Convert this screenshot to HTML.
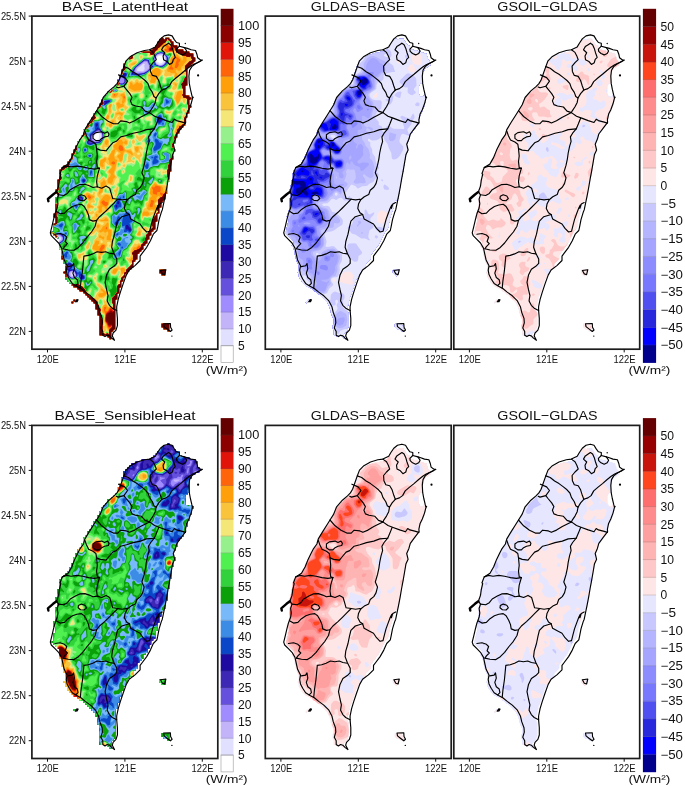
<!DOCTYPE html>
<html lang="en"><head><meta charset="utf-8"><title>Taiwan heat flux comparison</title>
<style>html,body{margin:0;padding:0;background:#fff}svg{display:block}text{font-family:"Liberation Sans",sans-serif;fill:#111}</style></head><body>
<svg width="685" height="786" viewBox="0 0 685 786">
<rect width="685" height="786" fill="#fff"/>
<defs>
<path id="coast" d="M92,50.5 94.2,44.7 98.6,40.3 105.2,36.6 112.5,34.4 117.6,33.7 123.4,30.8 125.6,27.1 128.5,22.8 132.2,19.8 136.6,18.8 140.2,19.8 142.4,23.5 144.6,26.4 147.5,27.1 147.5,30.1 152.6,31.5 155.5,32.3 159.2,33.7 163.6,34.4 165,38.1 165.8,41.7 168.7,43.9 170.6,43.9 168,45.4 163.6,47.6 159.9,50.5 157.7,54.2 157,60 157.4,67.3 158.5,73.1 159.9,79 160.7,81.9 159.2,87.7 157,93.6 154.8,98 153.6,103.8 153.8,106.2 149.4,112 145,117.9 143.6,123 141.4,128.1 142.8,133.9 140.7,138.3 139.2,147.1 137.7,155.8 136.3,163.1 134.8,171.9 133.4,179.2 131.9,186.5 130.4,193.8 129.4,196.2 127.2,203.5 125.8,210.8 125,214.4 121.4,218.1 118.5,224.7 114.8,231.2 110.4,237.1 108.2,240 108.2,244.4 103.1,249.5 97.3,253.9 94.4,259 91.4,267.3 88.5,276 86.3,283.3 84.8,290.6 84.8,294.3 85.5,302.3 85.5,309.6 84.1,314 81.2,316.9 80.4,319.8 82.6,324.2 79.7,322 77.5,319.8 75.3,319.1 73.1,320.5 70.9,319.1 70.9,315.4 69,311.8 70.5,306.7 70.2,302.3 68,296.5 66.6,290.6 63.6,284.8 58.5,279.7 53.4,276 49,272.4 44.7,270.2 40.3,267.3 37.4,262.9 35.2,258.5 34.4,254.1 35.2,249.7 32.3,243.9 31.1,238.6 29.7,232 26.7,226.9 23.1,223.2 19.4,219.6 18.4,216.7 19.9,210.8 21.6,203.5 23.1,197.7 25.3,191.9 26,187.5 25.3,183.1 26.7,178.7 24.6,175.8 26.7,170 27.5,164.1 28.9,158.3 28.2,157.3 30.4,151.5 36.2,147.8 39.9,141.3 42.8,134 45.7,128.1 47.9,123.8 51.6,118.6 53,113.5 57.4,106.2 61.1,100.4 64.7,94.6 68.4,88.7 71.3,81.4 77.1,74.8 82.2,70.5 85.1,67.5 87.3,63.9Z"/>
<clipPath id="land"><use href="#coast"/><path d="M131.7,307.6 138.5,307.4 138.7,311.1 140.2,313.9 138.5,315.4 135.1,312.8 132.2,310.5Z"/><path d="M128.6,254.4 134,253.6 132.8,258.6 130.5,257.8Z"/><path d="M43.4,285.7 45,283.5 46.2,283.7 45.2,285.5Z"/></clipPath>
<clipPath id="pc"><rect x="0" y="0" width="185.9" height="333.1"/></clipPath>
<g id="lines" fill="none" stroke="#000" stroke-width="1.15" stroke-linejoin="round" stroke-linecap="round">
<use href="#coast"/>
<path d="M136.6,27.1 138.8,28.6 140.5,32.3 141.7,36.6 143.4,41.3 141.4,43.2 140.5,46.6 137.6,48.3 135.1,45.4 131.7,43.6 131.2,39.8 132.9,36.6 129.7,33.7 131.5,30.5 134.4,28.6 136.6,27.1"/>
<path d="M152.6,31.5 154.8,34.9 153.4,37.4 150.4,38.8 147.2,37.4 144.9,35.2 144.6,33 147.5,30.1"/>
<path d="M117.6,33.7 121.2,36.3 123,39.8 124.4,43.6 121.2,46.6 118.3,50.1 118.6,55.3 120.5,59.3 124.4,60.3 126.8,64.4 128.5,69.9 130,73.9"/>
<path d="M130,73.9 134.1,72.5 137.3,70.2 139.9,65.5 144.3,61.7 148.7,58.2 153.1,54.4 157.4,50.9 160.9,48.6 165.3,46.6 168.2,45.1"/>
<path d="M92,50.5 96.4,52.1 100.8,55.6 105.2,58.2 109.6,61.5 113.2,64.4 116.1,67.6 117.6,72 120.5,76.3 122,80.4 124.2,81.9 126.8,77.5 130,73.9"/>
<path d="M124.2,81.9 123.4,86.3 121.2,90.7 118.3,95 117.6,96.5"/>
<path d="M117.6,96.5 122.7,100.1 128.5,102.3 134.4,104.5 140.2,106.4 142.4,103.1 144.6,104.5 150.4,106 153.6,107"/>
<path d="M86.6,58.8 92.8,61.5 95.7,65.1 92,70.2 86.2,71.7 84.4,70.9"/>
<path d="M92,70.2 94.2,73.1 97.9,77.5 100.1,81.2 98.6,84.8 100.1,88.5 103.7,89.9 109.6,90.9 113.2,95 117.6,96.5"/>
<path d="M64.7,94.6 69.8,100.4 75.7,104.8 81.5,107.7 85.9,107.7 88.8,104.8 94.6,105.5 97.6,106.9 102.7,104.7 108.5,101.1 111.5,99.6 117.6,96.5"/>
<path d="M53,115 54.5,119.4 56.7,123.8 61.1,125.9 64,128.1 64.7,132.5 68.4,134 74.2,134.7 77.1,131.1 80.8,126.7 84.4,125.2 88.8,120.8 94.6,119.4 101.2,117.2 108.5,115.7 114.4,113.5 122.4,112.8"/>
<path d="M61.1,118.6 64,116.5 69.8,115.7 72.7,117.2 75.7,115.7 77.1,117.9 76.4,120.1 72.7,120.8 69.8,122.3 67.6,124.5 64,124.5 61.1,122.3 61.1,118.6"/>
<path d="M64.7,132.5 65.4,139.8 64.7,145.7 65.4,151.5 67.6,152.2"/>
<path d="M67.6,152.2 62.5,153 56.7,152.2 50.8,150.8 45,150 39.2,150.8 34.8,150 30.4,151.5"/>
<path d="M126.8,102.1 124.6,107.7 122.4,112.8 118.8,117.1 116.6,120.8 117.3,125.2 115.8,130.3 114.4,136.9 113.6,142.7 112.2,149.3 110,156.6 112.2,161.7 110.7,167.5 108.5,171.2 104.9,174.1 103.4,178.5 99,180.7 95.4,183.6 93.2,188 92.5,192.3 94.7,196.7 97.3,198.4"/>
<path d="M67.6,152.1 65.4,159.7 64.7,165.6 65.4,170.7"/>
<path d="M26.7,178.7 31.9,179.4 35.5,177.3 38.4,173.6 43.5,170.7 47.9,168.5 53,168.2 57.4,169.7 61.1,171.4 65.4,170.7"/>
<path d="M65.4,170.7 69.8,172.1 74.2,170 77.8,172.1 79.3,177.3 80.8,182.4 85.9,183.1 90.3,183.8 94.6,183.1 95.4,183.6"/>
<path d="M46.5,180.2 49.4,178.7 53,179.9 54.5,182.4 52.3,184.6 48.6,184.3 46.2,182.4 46.5,180.2"/>
<path d="M24.6,195.5 28.2,197.7 32.6,197 36.2,193.3 40.6,190.4 45,188.9 49.4,188.2 52.3,190.4 54.9,194.8 56.7,199.2 57.4,203.5 61.1,205 64.7,204.3 67.6,200.6 72.7,196.2 77.1,191.9 81.5,187.5 85.9,183.1"/>
<path d="M64.7,204.3 63.2,210.1 59.6,215.9 55.2,221.1 50.8,226.9 46.5,231.3 42.1,234.2 36.2,233.9 31.1,232.7"/>
<path d="M23.1,218.1 28.2,217.4 32.6,218.9 34.8,221.1 33.3,225.4 35.5,227.6 32.6,230.5 31.1,232.7"/>
<path d="M97.3,198.4 98.8,202.8 103.9,205.7 108.2,207.9 111.2,212.3 114.8,215.9 117.7,215.2 119.2,209.3 120.7,203.5 122.8,197.7 125,191.8 126.5,188.9 126.1,192.3 127.5,188 130.4,186.5"/>
<path d="M97.3,198.4 90,200.6 85.6,205 84.2,210.8 82.7,218.1 80.5,225.4 79.8,231.2 82,237.1 84.9,242.9 84.9,247.3 82,250.2 77.6,253.1 74.7,259 73.2,266.3 74.7,273.6 76.1,279.4 75.4,283.8 75.3,284.8 77.5,289.2 80.4,292.1 84.8,294.3"/>
<path d="M82,237.8 77.6,237.1 73.9,235.6 69.6,236.3 65.2,235.6 60.8,237.8 56.4,239.3 52,240 51.3,247.3 50.6,254.6 49.1,264.8 48.4,272.1"/>
<path d="M35.9,250.5 40.3,249.7 41.7,247.5 42.5,252.7 41,257 42.5,261.4 45.4,263.6 46.1,267.3 43.9,269.4"/>
<path d="M131.7,307.6 138.5,307.4 138.7,311.1 140.2,313.9 138.5,315.4 135.1,312.8 132.2,310.5Z"/>
<path d="M128.6,254.4 134,253.6 132.8,258.6 130.5,257.8Z"/>
<path d="M43.4,285.7 45,283.5 46.2,283.7 45.2,285.5Z"/>
<path d="M24.6,175.8 21.2,178.4 16,182.9 16.5,185.1" stroke-width="2.4"/>
<circle cx="166.2" cy="59.3" r="1.1" fill="#000" stroke="none"/>
<circle cx="153.4" cy="27.4" r="0.7" fill="#000" stroke="none"/>
<circle cx="140.0" cy="320.0" r="0.7" fill="#000" stroke="none"/>
<circle cx="161.0" cy="81.2" r="0.9" fill="#000" stroke="none"/>
</g>
</defs>
<g transform="translate(31.9,16.1)">
<g clip-path="url(#pc)">
<clipPath id="m1"><path d="M520 86l4 0 2 2 0 4 2 2 4 0 2-2 0-4 2-2 12 0 2 2 0 4 2 2 4 0 2 2 0 4 2 2 4 0 2 2 0 12 2 2 12 0 2 2 0 12 2 2 20 0 2 2 0 4 2 2 20 0 2 2 0 4 2 2 12 0 2 2 0 12 2 2 4 0 2 2 0 12-2 2-4 0-2 2 0 4-2 2-4 0-2 2 0 4-2 2-4 0-2 2 0 4-2 2-4 0-2 2 0 68-2 2-4 0-2 2 0 36 2 2 12 0 2 2 0 4 2 2 4 0 2 2 0 4-2 2-4 0-2 2 0 20 2 2 4 0 2 2 0 4-2 2-4 0-2 2 0 20-2 2-4 0-2 2 0 12-2 2-4 0-2 2 0 28-2 2-4 0-2 2 0 4-2 2-4 0-2 2 0 4-2 2-4 0-2 2 0 12-2 2-4 0-2 2 0 12-2 2-4 0-2 2 0 20-2 2-4 0-2 2 0 20 2 2 4 0 2 2 0 4-2 2-4 0-2 2 0 28-2 2-4 0-2 2 0 44-2 2-4 0-2 2 0 36-2 2-4 0-2 2 0 44-2 2-4 0-2 2 0 20-2 2-4 0-2 2 0 4-2 2-4 0-2 2 0 20-2 2-4 0-2 2 0 20-2 2-4 0-2 2 0 28-2 2-4 0-2 2 0 28-2 2-4 0-2 2 0 4-2 2-4 0-2 2 0 12-2 2-4 0-2 2 0 12-2 2-4 0-2 2 0 12-2 2-4 0-2 2 0 4-2 2-4 0-2 2 0 12-2 2-4 0-2 2 0 4-2 2-4 0-2 2 0 4-2 2-4 0-2 2 0 20-2 2-4 0-2 2 0 4-2 2-4 0-2 2 0 20-2 2-4 0-2 2 0 4-2 2-4 0-2 2 0 4-2 2-4 0-2 2 0 4-2 2-4 0-2 2 0 12-2 2-4 0-2 2 0 12-2 2-4 0-2 2 0 20-2 2-4 0-2 2 0 20-2 2-4 0-2 2 0 20-2 2-4 0-2 2 0 116-2 2-4 0-2 2 0 4-2 2-4 0-2 2 0 28-2 2-4 0-2-2 0-4-2-2-4 0-2-2 0-4-2-2-28 0-2-2 0-76-2-2-4 0-2-2 0-20-2-2-4 0-2-2 0-20-2-2-4 0-2-2 0-4-2-2-4 0-2-2 0-4-2-2-4 0-2-2 0-4-2-2-4 0-2-2 0-4-2-2-4 0-2-2 0-4-2-2-4 0-2-2 0-4-2-2-12 0-2-2 0-4-2-2-4 0-2-2 0-4-2-2-12 0-2-2 0-4-2-2-4 0-2-2 0-4-2-2-4 0-2-2 0-4-2-2-4 0-2-2 0-4-2-2-4 0-2-2 0-20-2-2-4 0-2-2 0-4 2-2 4 0 2-2 0-28-2-2-4 0-2-2 0-12-2-2-4 0-2-2 0-36-2-2-4 0-2-2 0-36-2-2-4 0-2-2 0-4-2-2-4 0-2-2 0-4-2-2-4 0-2-2 0-4-2-2-4 0-2-2 0-4 2-2 4 0 2-2 0-28 2-2 4 0 2-2 0-20-2-2-4 0-2-2 0-12 2-2 4 0 2-2 0-60 2-2 4 0 2-2 0-12-2-2-4 0-2-2 0-12 2-2 4 0 2-2 0-36 2-2 4 0 2-2 0-36 2-2 4 0 2-2 0-4 2-2 4 0 2-2 0-4 2-2 12 0 2-2 0-12 2-2 4 0 2-2 0-4 2-2 4 0 2-2 0-20 2-2 4 0 2-2 0-12 2-2 4 0 2-2 0-12 2-2 4 0 2-2 0-12 2-2 4 0 2-2 0-4 2-2 4 0 2-2 0-12 2-2 4 0 2-2 0-20 2-2 4 0 2-2 0-4 2-2 4 0 2-2 0-12 2-2 4 0 2-2 0-4 2-2 4 0 2-2 0-12 2-2 4 0 2-2 0-12 2-2 4 0 2-2 0-4 2-2 4 0 2-2 0-12 2-2 4 0 2-2 0-12 2-2 4 0 2-2 0-12 2-2 4 0 2-2 0-4 2-2 4 0 2-2 0-4 2-2 4 0 2-2 0-12 2-2 12 0 2-2 0-4 2-2 4 0 2-2 0-4 2-2 4 0 2-2 0-4 2-2 4 0 2-2 0-20 2-2 4 0 2-2 0-12 2-2 4 0 2-2 0-20 2-2 4 0 2-2 0-20 2-2 4 0 2-2 0-4 2-2 4 0 2-2 0-4 2-2 4 0 2-2 0-4 2-2 4 0 2-2 0-4 2-2 12 0 2-2 0-4 2-2 20 0 2-2 0-4 2-2 36 0 2-2 0-4 2-2 4 0 2-2 0-4 2-2 4 0 2-2 0-4 2-2 4 0 2-2 0-12 2-2 4 0 2-2 0-4 2-2 4 0 2-2 0-4zM512 1014l20 0 2 2 0 20-2 2-12 0-2-2 0-4-2-2-4 0-2-2 0-12zM168 1134l4 0 2 2 0 4-2 2-4 0-2-2 0-4zM160 1142l4 0 2 2 0 4-2 2-4 0-2-2 0-4zM520 1230l28 0 2 2 0 28-2 2-4 0-2-2 0-4-2-2-12 0-2-2 0-4-2-2-4 0-2-2 0-12z"/></clipPath><g clip-path="url(#m1)" transform="scale(0.25)" shape-rendering="auto"><path d="M520 86l4 0 2 2 0 4 2 2 4 0 2-2 0-4 2-2 12 0 2 2 0 4 2 2 4 0 2 2 0 4 2 2 4 0 2 2 0 12 2 2 12 0 2 2 0 12 2 2 20 0 2 2 0 4 2 2 20 0 2 2 0 4 2 2 12 0 2 2 0 12 2 2 4 0 2 2 0 12-2 2-4 0-2 2 0 4-2 2-4 0-2 2 0 4-2 2-4 0-2 2 0 4-2 2-4 0-2 2 0 68-2 2-4 0-2 2 0 36 2 2 12 0 2 2 0 4 2 2 4 0 2 2 0 4-2 2-4 0-2 2 0 20 2 2 4 0 2 2 0 4-2 2-4 0-2 2 0 20-2 2-4 0-2 2 0 12-2 2-4 0-2 2 0 28-2 2-4 0-2 2 0 4-2 2-4 0-2 2 0 4-2 2-4 0-2 2 0 12-2 2-4 0-2 2 0 12-2 2-4 0-2 2 0 20-2 2-4 0-2 2 0 20 2 2 4 0 2 2 0 4-2 2-4 0-2 2 0 28-2 2-4 0-2 2 0 44-2 2-4 0-2 2 0 36-2 2-4 0-2 2 0 44-2 2-4 0-2 2 0 20-2 2-4 0-2 2 0 4-2 2-4 0-2 2 0 20-2 2-4 0-2 2 0 20-2 2-4 0-2 2 0 28-2 2-4 0-2 2 0 28-2 2-4 0-2 2 0 4-2 2-4 0-2 2 0 12-2 2-4 0-2 2 0 12-2 2-4 0-2 2 0 12-2 2-4 0-2 2 0 4-2 2-4 0-2 2 0 12-2 2-4 0-2 2 0 4-2 2-4 0-2 2 0 4-2 2-4 0-2 2 0 20-2 2-4 0-2 2 0 4-2 2-4 0-2 2 0 20-2 2-4 0-2 2 0 4-2 2-4 0-2 2 0 4-2 2-4 0-2 2 0 4-2 2-4 0-2 2 0 12-2 2-4 0-2 2 0 12-2 2-4 0-2 2 0 20-2 2-4 0-2 2 0 20-2 2-4 0-2 2 0 20-2 2-4 0-2 2 0 116-2 2-4 0-2 2 0 4-2 2-4 0-2 2 0 28-2 2-4 0-2-2 0-4-2-2-4 0-2-2 0-4-2-2-28 0-2-2 0-76-2-2-4 0-2-2 0-20-2-2-4 0-2-2 0-20-2-2-4 0-2-2 0-4-2-2-4 0-2-2 0-4-2-2-4 0-2-2 0-4-2-2-4 0-2-2 0-4-2-2-4 0-2-2 0-4-2-2-4 0-2-2 0-4-2-2-12 0-2-2 0-4-2-2-4 0-2-2 0-4-2-2-12 0-2-2 0-4-2-2-4 0-2-2 0-4-2-2-4 0-2-2 0-4-2-2-4 0-2-2 0-4-2-2-4 0-2-2 0-20-2-2-4 0-2-2 0-4 2-2 4 0 2-2 0-28-2-2-4 0-2-2 0-12-2-2-4 0-2-2 0-36-2-2-4 0-2-2 0-36-2-2-4 0-2-2 0-4-2-2-4 0-2-2 0-4-2-2-4 0-2-2 0-4-2-2-4 0-2-2 0-4 2-2 4 0 2-2 0-28 2-2 4 0 2-2 0-20-2-2-4 0-2-2 0-12 2-2 4 0 2-2 0-60 2-2 4 0 2-2 0-12-2-2-4 0-2-2 0-12 2-2 4 0 2-2 0-36 2-2 4 0 2-2 0-36 2-2 4 0 2-2 0-4 2-2 4 0 2-2 0-4 2-2 12 0 2-2 0-12 2-2 4 0 2-2 0-4 2-2 4 0 2-2 0-20 2-2 4 0 2-2 0-12 2-2 4 0 2-2 0-12 2-2 4 0 2-2 0-12 2-2 4 0 2-2 0-4 2-2 4 0 2-2 0-12 2-2 4 0 2-2 0-20 2-2 4 0 2-2 0-4 2-2 4 0 2-2 0-12 2-2 4 0 2-2 0-4 2-2 4 0 2-2 0-12 2-2 4 0 2-2 0-12 2-2 4 0 2-2 0-4 2-2 4 0 2-2 0-12 2-2 4 0 2-2 0-12 2-2 4 0 2-2 0-12 2-2 4 0 2-2 0-4 2-2 4 0 2-2 0-4 2-2 4 0 2-2 0-12 2-2 12 0 2-2 0-4 2-2 4 0 2-2 0-4 2-2 4 0 2-2 0-4 2-2 4 0 2-2 0-20 2-2 4 0 2-2 0-12 2-2 4 0 2-2 0-20 2-2 4 0 2-2 0-20 2-2 4 0 2-2 0-4 2-2 4 0 2-2 0-4 2-2 4 0 2-2 0-4 2-2 4 0 2-2 0-4 2-2 12 0 2-2 0-4 2-2 20 0 2-2 0-4 2-2 36 0 2-2 0-4 2-2 4 0 2-2 0-4 2-2 4 0 2-2 0-4 2-2 4 0 2-2 0-12 2-2 4 0 2-2 0-4 2-2 4 0 2-2 0-4zM512 1014l20 0 2 2 0 20-2 2-12 0-2-2 0-4-2-2-4 0-2-2 0-12zM168 1134l4 0 2 2 0 4-2 2-4 0-2-2 0-4zM160 1142l4 0 2 2 0 4-2 2-4 0-2-2 0-4zM520 1230l28 0 2 2 0 28-2 2-4 0-2-2 0-4-2-2-12 0-2-2 0-4-2-2-4 0-2-2 0-12z" fill="#ffffff"/><path d="M544 52l4 0 4 4 8 0 4 4 8 0 8 8 0 4 8 8 0 4 4 4 8 0 8 8 0 8 8 0 4 4 8 0 4 4 12 0 4 4 8 0 4 4 4 0 12 12 0 8 4 4 0 8 4 4 8 0 8 8 0 8 4 4-4 4 0 8-8 8-4 0-4 4-4 0-4 4-4 0-8 8-4 0-8 12 0 56 4 4 0 16 4 4 0 12 4 4 0 16-4 4 0 12-4 4 0 8-8 12 0 8-8 12 0 8-4 4 0 20-4 4 0 8-12 12 0 4-12 12 0 4-8 8 0 4-4 4 0 8-4 4 0 8-4 4 0 8 4 4 0 16-4 4 0 8-4 4 0 12-4 4 0 20-4 4 0 20-4 4 0 16-4 4 0 16-4 4 0 20-4 4 0 20-4 4 0 16-4 4 0 16-4 4 0 12-4 4 0 12-4 4 0 8-4 4 0 8-4 4 0 12-4 4 0 16-4 4 0 16-4 4 0 8-16 16 0 4-4 4 0 4-4 4 0 4-4 4 0 4-8 12 0 4-8 8 0 4-12 12 0 4-8 8 0 12-4 4 0 8-36 36-4 0-8 8 0 4-8 8 0 8-8 12 0 8-4 4 0 8-4 4 0 8-4 4 0 8-4 4 0 8-4 4 0 12-4 4 0 16-4 4 0 24 4 4 0 56-4 4 0 8-4 4 0 8-8 8 0 12 4 4-4 4 0 8-8 8-8 0-4 4-4-4-8 0-4-4-4 0-8-8-4 0-4 4-4-4-8 0-4-4-4 0-8-8 0-8-4-4 0-20-4-4 0-16 4-4 0-20-4-4 0-8-4-4 0-8-4-4 0-12-4-4 0-4-4-4 0-4-28-28-4 0-4-4 0 8 4 4-4 4 0 8-16 16-8 0-4 4-4 0-4-4-8 0-8-8 0-8-4-4 4-4 0-8 16-16 8 0 4-4 4 0 4 4 8 0-4 0-12-12-4 0-4-4-4 0-4-4-4 0-24-24 0-4-8-8 0-4-4-4 0-8-4-4 0-8-4-4 0-32-4-4 0-8-4-4 0-8-4-4 0-12-4-4 0-16-8-8 0-4-32-32 0-4-4-4 0-8-4-4 0-12 4-4 0-12 4-4 0-12 4-4 0-16 4-4 0-8 4-4 0-8 4-4 0-8 4-4 0-44 4-4-4-4 0-8-4-4 0-4 4-4 0-8 4-4 0-12 4-4 0-16 4-4 0-24 4-4 0-8 4-4 0-8 20-20 4 0 8-8 0-4 4-4 0-4 8-8 0-8 8-12 0-8 4-4 0-4 4-4 0-4 4-4 0-4 8-12 0-4 8-8 0-4 8-8 0-8 4-4 0-8 4-4 0-4 8-8 0-4 4-4 0-4 8-8 0-4 8-8 0-4 4-4 0-4 8-8 0-4 8-8 0-4 4-4 0-4 8-8 0-4 4-4 0-8 8-12 0-4 20-20 0-4 4-4 4-4 4 0 28-28 0-4 4-4 0-8 8-12 0-8 4-4 0-8 4-4 0-8 4-4 0-8 8-12 0-4 20-20 4 0 8-8 4 0 12-8 8 0 4-4 8 0 4-4 8 0 4-4 16 0 4-4 8 0 12-12 0-4 8-8 0-4 24-24 8 0 4-4 12 0zM507 160l-7 7-3 9 3 6 5 2 7 6 8-2 7-8 1-16-8-5zM256 472l-8 12 0 4 4 6 8 2 7-4 3-16-2-5-4-2zM516 992l20 0 4 4 8 0 8 8 0 8 4 4 0 4-4 4 0 12-4 4 0 8-8 8-8 0-4 4-4-4-8 0-4-4-4 0-12-12 0-4-4-4 0-8-4-4 0-4 4-4 0-8 8-8 8 0zM528 1208l24 0 4 4 8 0 8 8 0 4 4 4 0 8 4 4 0 8 4 4 0 4-4 4 0 8-12 12-8 0-4 4-4 0-4-4-8 0-8-8-4 0-20-20 0-8-4-4 0-8 4-4 0-8 8-8 8 0z" fill="#e1e1ff"/><path d="M544 53l4 0 4 4 8 0 4 4 8-1 8 8 0 4 7 8 1 4 4 4 8 0 8 8 0 8 8 1 4 4 8 0 4 4 12-1 4 4 8 0 4 4 4 0 11 12 0 8 5 4 0 8 4 4 8 0 8 8 0 8 3 4-4 4 1 8-8 8-4 0-4 3-4 0-4 4-4 0-8 8-4 0-9 13 0 56 4 4 1 16 4 4 0 12 4 4-1 16-4 4 0 12-4 4 0 8-7 12 0 8-9 12 0 8-4 4 1 20-4 4-1 8-12 12 0 4-11 12 0 4-8 8 0 4-4 4-1 8-4 4 0 8-4 4 0 8 4 4 0 16-4 4 0 8-4 4 1 12-4 4 0 20-4 4-1 20-4 4 0 16-4 4 1 16-4 4 0 20-4 4 0 20-4 4-1 16-3 4 0 16-4 4-1 12-4 4 0 12-4 4 0 8-4 4 0 8-4 4 0 12-4 4 0 16-4 4 0 16-4 4 0 8-15 16 0 4-4 4-1 4-4 4 0 4-4 4 0 4-8 12 0 4-8 8 0 4-12 12 1 4-9 8 0 12-4 4 0 8-35 35-4 0-8 9 0 4-9 8 1 8-9 12 0 8-4 4 1 8-4 4-1 8-4 4 0 8-4 4 0 8-4 4 0 12-3 4 0 16-4 4-1 24 4 4 0 56-4 4 0 8-4 4 0 8-8 8 1 12 3 4-4 4 1 8-8 8-8-1-4 5-4-5-8 0-4-4-4 0-8-8-4 0-4 4-4-3-8 0-4-4-4 0-7-8 0-8-4-4 0-20-4-4 0-16 4-4 0-20-4-4 0-8-4-4 0-8-4-4 0-12-4-4 0-4-4-4 0-4-29-29-4 1-5-4 0 8 4 4-4 4 0 8-15 15-8 1-4 4-4 0-4-4-8 0-7-8 0-8-4-4 4-4 0-8 15-15 8 0 4-4 4 0 4 4 8-1-4-1-12-12-4 0-4-4-4 0-4-4-4 0-23-23 0-4-8-8 0-4-4-4 0-8-5-4 0-8-4-4 1-32-4-4 0-8-4-4 0-8-4-4 0-12-4-4 0-16-8-8 0-4-33-32 0-4-3-4 0-8-4-4 0-12 4-4 0-12 4-4 0-12 4-4 0-16 4-4 0-8 4-4 0-8 4-4 0-8 4-4 0-44 4-4-4-4 0-8-4-4 0-4 4-4 0-8 4-4 0-12 4-4 0-16 4-4 0-24 4-4 0-8 4-4 0-8 19-20 4 1 9-9 0-4 4-4-1-4 9-8-1-8 9-12 0-8 4-4 0-4 4-4 0-4 4-4 0-4 8-12 0-4 7-8 0-4 8-8 1-8 4-4 0-8 3-4 1-4 7-8 0-4 4-4 0-4 8-8 1-4 8-8 0-4 4-4 0-4 8-8 0-4 8-8 0-4 4-4 0-4 8-8 0-4 4-4 0-8 8-12 0-4 20-20 0-4 4-4 3-3 4 0 28-29 0-4 4-4 0-8 8-12 0-8 4-4 0-8 5-4 0-8 4-4 0-8 8-12 0-4 19-19 4 0 8-8 4 0 12-9 8 1 4-4 8 0 4-4 8 0 4-4 16 0 4-4 8 0 13-13 0-4 7-8 0-4 24-23 8 0 4-4 12 0zM504 156l-8 9-3 11 3 9 4 5 8 5 8 1 9-4 7-8 2-8-1-12-5-6-8-4zM444 192l-8 8-12 8-4 8 3 4 21 1 6-5 1-8-2-8 3-8-4-1zM263 464l-8 4-12 16 1 8 4 4 8 4 6 0 8-4 6-7 1-5 0-8-3-8-4-4zM104 884l4 4-4 4-4-4 2 8 6 2 7-2 2-4-1-6-8-4zM156 1028l0 8 4 4 8-1 2-3-2-8-4-3zM516 993l20 0 4 4 8 0 8 7 0 8 4 4-1 4-3 4-1 12-4 4 0 8-7 7-8 0-4 4-4-4-8 0-4-4-4 0-11-11 0-4-5-4 1-8-4-4 0-4 4-4 0-8 7-7 8 0zM528 1209l24 0 4 4 8-1 8 8 0 4 4 4-1 8 4 4 0 8 4 4 0 4-4 4 0 8-11 11-8 0-4 4-4 0-4-4-8 0-8-8-4 0-19-19 0-8-4-4 0-8 4-4 0-8 7-7 8 0z" fill="#c3b4fa"/><path d="M544 53l4 0 4 4 8 0 4 4 8 0 7 7 0 4 8 8 0 4 5 5 8 0 7 7 1 9 8 0 4 4 8 0 4 4 12 0 4 4 8 0 4 4 4 0 11 11 0 8 4 4 0 8 5 5 8 0 7 7 0 8 4 4-4 4 0 8-7 7-4 0-4 4-4 0-4 4-4 0-8 8-4 0-5 5 0 4-4 4 0 56 4 4 0 16 4 4 0 12 4 4 0 16-4 4 0 12-4 4 0 8-8 12 0 8-8 12 0 8-4 4 0 20-4 4 0 8-12 12 0 4-12 12 0 4-8 8 0 4-4 4 0 8-4 4 0 8-4 4 0 8 4 4 0 16-4 4 0 8-4 4 0 12-4 4 0 20-4 4 0 20-4 4 0 16-4 4 0 16-4 4 0 20-4 4 0 20-4 4 0 16-4 4 0 16-4 4 0 12-4 4 0 12-4 4 0 8-4 4 0 8-4 4 0 12-4 4 0 16-4 4 0 16-4 4 0 8-16 16 0 4-4 4 0 4-4 4 0 4-4 4 0 4-8 12 0 4-8 8 0 4-12 12 0 4-8 8 0 12-4 4 0 8-35 35-4 0-9 9 0 4-8 8 0 8-8 12 0 8-4 4 0 8-4 4 0 8-4 4 0 8-4 4 0 8-4 4 0 12-4 4 0 16-4 4 0 24 4 4 0 56-4 4 0 8-4 4 0 8-8 8 0 12 4 4-4 4 0 8-7 7-8 0-4 4-4-4-8 0-4-4-4 0-8-8-4 0-4 4-4-4-8 0-4-4-4 0-7-7 0-8-4-4 0-20-4-4 0-16 4-4 0-20-4-4 0-8-4-4 0-8-4-4 0-12-4-4 0-4-4-4 0-4-29-29-4 0-5-3 0 8 4 4-4 4 0 8-15 15-8 0-4 4-4 0-4-4-8 0-7-7 0-8-4-4 4-4 0-8 15-15 8 0 4-4 4 0 4 4 9-1-5-1-12-12-4 0-4-4-4 0-4-4-4 0-23-23 0-4-8-8 0-4-4-4 0-8-4-4 0-8-4-4 0-32-4-4 0-8-4-4 0-8-4-4 0-12-4-4 0-16-8-8 0-4-32-32 0-4-4-4 0-8-4-4 0-12 4-4 0-12 4-4 0-12 4-4 0-16 4-4 0-8 4-4 0-8 4-4 0-8 4-4 0-44 4-4-4-4 0-8-4-4 0-4 4-4 0-8 4-4 0-12 4-4 0-16 4-4 0-24 4-4 0-8 4-4 0-8 19-19 4 0 9-9 0-4 4-4 0-4 8-8 0-8 8-12 0-8 4-4 0-4 4-4 0-4 4-4 0-4 8-12 0-4 8-8 0-4 8-8 0-8 4-4 0-8 4-4 0-4 8-8 0-4 4-4 0-4 8-8 0-4 8-8 0-4 4-4 0-4 8-8 0-4 8-8 0-4 4-4 0-4 8-8 0-4 4-4 0-8 8-12 0-4 20-20 0-4 4-4 3-3 4 0 29-29 0-4 4-4 0-8 8-12 0-8 4-4 0-8 4-4 0-8 4-4 0-8 8-12 0-4 19-19 4 0 8-8 4 0 12-8 8 0 4-4 8 0 4-4 8 0 4-4 16 0 4-4 8 0 13-13 0-4 8-8 0-4 23-23 8 0 4-4 12 0zM507 152l-11 8-4 8-1 8 7 16 10 5 8 1 8-3 8-7 4-8 0-16-4-6-8-6-8-1zM449 184l-31 24-4 8 2 9 8 1 24-2 8-4 13-12 2-4-11-20zM257 464l-14 16-3 8 8 11 12 4 9-3 7-6 4-7 1-7-1-8-8-10-8-1zM103 876l-3 1 0 3 8 8-4 4-4-4-6 0 1 4 5 8 12 2 8-6 2-8-6-8-8-4zM153 1024l-2 4-1 8 6 8 8 1 8-3 3-6-3-9-4-5-8-1zM516 993l20 0 4 4 8 0 7 7 0 8 4 4 0 4-4 4 0 12-4 4 0 8-7 7-8 0-4 4-4-4-8 0-4-4-4 0-11-11 0-4-4-4 0-8-4-4 0-4 4-4 0-8 7-7 8 0zM528 1209l24 0 4 4 8 0 7 7 0 4 4 4 0 8 4 4 0 8 4 4 0 4-4 4 0 8-11 11-8 0-4 4-4 0-4-4-8 0-8-8-4 0-19-19 0-8-4-4 0-8 4-4 0-8 7-7 8 0z" fill="#a08cff"/><path d="M544 53l4 0 4 4 8 0 4 4 8 0 7 7 0 4 8 8 0 4 5 5 8 0 7 7 1 9 8 0 4 4 8 0 4 4 12 0 4 4 8 0 4 4 4 0 11 11 0 8 4 4 0 8 5 5 8 0 7 7 0 8 4 4-4 4 0 8-7 7-4 0-4 4-4 0-4 4-4 0-8 8-4 0-5 5 0 4-4 4 0 56 4 4 0 16 4 4 0 12 4 4 0 16-4 4 0 12-4 4 0 8-8 12 0 8-8 12 0 8-4 4 0 20-4 4 0 8-12 12 0 4-12 12 0 4-8 8 0 4-4 4 0 8-4 4 0 8-4 4 0 8 4 4 0 16-4 4 0 8-4 4 0 12-4 4 0 20-4 4 0 20-4 4 0 16-4 4 0 16-4 4 0 20-4 4 0 20-4 4 0 16-4 4 0 16-4 4 0 12-4 4 0 12-4 4 0 8-4 4 0 8-4 4 0 12-4 4 0 16-4 4 0 16-4 4 0 8-16 16 0 4-4 4 0 4-4 4 0 4-4 4 0 4-8 12 0 4-8 8 0 4-12 12 0 4-8 8 0 12-4 4 0 8-35 35-4 0-9 9 0 4-8 8 0 8-8 12 0 8-4 4 0 8-4 4 0 8-4 4 0 8-4 4 0 8-4 4 0 12-4 4 0 16-4 4 0 24 4 4 0 56-4 4 0 8-4 4 0 8-8 8 0 12 4 4-4 4 0 8-7 7-8 0-4 4-4-4-8 0-4-4-4 0-8-8-4 0-4 4-4-4-8 0-4-4-4 0-7-7 0-8-4-4 0-20-4-4 0-16 4-4 0-20-4-4 0-8-4-4 0-8-4-4 0-12-4-4 0-4-4-4 0-4-29-29-4 0-4-4-1 1 0 8 4 4-4 4 0 8-15 15-8 0-4 4-4 0-4-4-8 0-7-7 0-8-4-4 4-4 0-8 15-15 8 0 4-4 4 0 4 4 9-1-5-1-12-12-4 0-4-4-4 0-4-4-4 0-23-23 0-4-8-8 0-4-4-4 0-8-4-4 0-8-4-4 0-32-4-4 0-8-4-4 0-8-4-4 0-12-4-4 0-16-8-8 0-4-32-32 0-4-4-4 0-8-4-4 0-12 4-4 0-12 4-4 0-12 4-4 0-16 4-4 0-8 4-4 0-8 4-4 0-8 4-4 0-44 4-4-4-4 0-8-4-4 0-4 4-4 0-8 4-4 0-12 4-4 0-16 4-4 0-24 4-4 0-8 4-4 0-8 19-19 4 0 9-9 0-4 4-4 0-4 8-8 0-8 8-12 0-8 4-4 0-4 4-4 0-4 4-4 0-4 8-12 0-4 8-8 0-4 8-8 0-8 4-4 0-8 4-4 0-4 8-8 0-4 4-4 0-4 8-8 0-4 8-8 0-4 4-4 0-4 8-8 0-4 8-8 0-4 4-4 0-4 8-8 0-4 4-4 0-8 4-4 0-4 4-4 0-4 20-20 0-4 4-4 3-3 4 0 29-29 0-4 4-4 0-8 8-12 0-8 4-4 0-8 4-4 0-8 4-4 0-8 8-12 0-4 19-19 4 0 8-8 4 0 12-8 8 0 4-4 8 0 4-4 8 0 4-4 16 0 4-4 8 0 13-13 0-4 8-8 0-4 23-23 8 0 4-4 12 0zM503 152l-11 12-3 8 3 11 3 9 6 4 11 4 8-1 8-4 8-11 3-12-2-8-5-8-8-5-8-2zM450 180l-34 27-6 13 0 4 4 4 6 2 25-2 16-8 12-12 3-4-9-12-3-9-4-3zM352 248l-5 8 2 8 4 4 12 0 4-4-1-13-8-5zM260 460l-10 8-10 11-2 5 3 12 7 6 8 3 8-1 8-4 8-8 2-8-1-12-5-9-8-5zM100 876l0 4 8 8-4 4-4-4-4 0-4-6 0 10 8 11 8 2 6-1 9-8 1-8-2-4-10-9-8-1-4 0zM156 1020l-5 4-3 5 0 7 4 7 12 5 9-4 3-4 1-4-5-12-4-4zM516 993l20 0 4 4 8 0 7 7 0 8 4 4 0 4-4 4 0 12-4 4 0 8-7 7-8 0-4 4-4-4-8 0-4-4-4 0-11-11 0-4-4-4 0-8-4-4 0-4 4-4 0-8 7-7 8 0zM528 1209l24 0 4 4 8 0 7 7 0 4 4 4 0 8 4 4 0 8 4 4 0 4-4 4 0 8-11 11-8 0-4 4-4 0-4-4-8 0-8-8-4 0-19-19 0-8-4-4 0-8 4-4 0-8 7-7 8 0z" fill="#6450dc"/><path d="M544 54l4 0 4 4 8 0 4 4 8-1 7 7 0 4 8 8 0 4 5 5 8 0 7 7 1 9 8 0 4 5 8 0 4 4 12-1 4 4 8 0 4 4 4 0 10 11 1 8 4 4 0 8 5 5 8 0 7 7 0 8 4 4-4 4 0 8-7 7-4 0-4 4-4-1-4 4-4 0-8 8-4 0-5 6 0 4-5 4 0 56 4 4 1 16 4 4 0 12 4 4-1 16-4 4 0 12-4 4 0 8-7 12 0 8-9 12 0 8-4 4 1 20-4 4-1 8-12 12 0 4-11 12 0 4-8 8 0 4-4 4-1 8-4 4 0 8-4 4 0 8 4 4 0 16-4 4 0 8-3 4 0 12-4 4 0 20-4 4 0 20-5 4 0 16-3 4 0 16-4 4 0 20-4 4 0 20-4 4 0 16-4 4 0 16-4 4-1 12-4 4 0 12-4 4 0 8-4 4 0 8-4 4 1 12-4 4 0 16-4 4-1 16-4 4 0 8-15 16 0 4-4 4 0 4-4 4 0 4-4 4 0 4-9 12 0 4-8 8 0 4-11 12 0 4-9 8 1 12-4 4 0 8-35 34-4 0-9 10 0 4-8 8 0 8-8 12-1 8-3 4 0 8-4 4 0 8-5 4 0 8-4 4 0 8-4 4 1 12-4 4 0 16-4 4-1 24 4 4 0 56-4 4 0 8-4 4 1 8-8 8 0 12 3 4-3 4 0 8-7 7-8 0-4 4-4-4-8-1-4-4-4 0-8-8-4 1-4 4-4-4-8 0-4-4-4 0-7-7 0-8-3-4 0-20-4-4 0-16 4-4 0-20-4-4 0-8-4-4 0-8-4-4 0-12-4-4 0-4-4-4 0-4-30-29-4 0-4-4-1 1-1 8 4 4-4 4 1 8-15 15-8 0-4 4-4 0-4-4-8 0-7-7 1-8-4-4 4-4 0-8 14-14 8 0 4-4 4 0 4 4 8 0 1-2-5-1-12-12-4-1-4-4-4 0-4-4-4 0-22-22 0-4-8-8 0-4-4-4 0-8-5-4 0-8-4-4 0-32-4-4 1-8-5-4 1-8-4-4 0-12-4-4-1-16-7-8 0-4-33-32 0-4-4-4 1-8-4-4 0-12 4-4 0-12 4-4 0-12 4-4 0-16 4-4 0-8 4-4 0-8 4-4 0-8 3-4 1-44 4-4-5-4 0-8-4-4 0-4 5-4 0-8 4-4 0-12 4-4 0-16 4-4 0-24 4-4 0-8 4-4 0-8 18-19 4 0 10-9-1-4 4-4 0-4 9-8-1-8 8-12 0-8 5-4 0-4 4-4 0-4 3-4 1-4 8-12 0-4 7-8 0-4 8-8 0-8 4-4 0-8 4-4 0-4 8-8 0-4 4-4 0-4 8-8 0-4 9-8 0-4 4-4 0-4 8-8 0-4 8-8 0-4 4-4 0-4 8-8 0-4 4-4 0-8 3-4 0-4 5-4 0-4 20-20 0-4 4-4 2-2 4 0 29-30 0-4 4-4 0-8 8-12 0-8 4-4 0-8 5-4-1-8 4-4 0-8 9-12-1-4 19-19 4 0 8-7 4 0 12-9 8 1 4-4 8 0 4-4 8 0 4-4 16-1 4-4 8 0 13-13 0-4 8-8 0-4 23-22 8 0 4-5 12 0zM512 148l-11 4-5 4-6 8-2 8 8 23 12 5 8 1 8-2 9-7 5-8 3-12-2-8-7-10-11-6zM447 180l-31 24-9 16 0 4 2 4 11 5 28-4 16-9 12-12 3-4-10-12-5-13-12-2zM354 244l-8 8-1 8 3 7 4 3 8 2 4-1 7-7 0-12-7-8zM257 460l-10 8-10 12 0 16-1 3-6 5 2 3 12-3 12 2 12-2 8-6 5-6 3-14-5-14-7-6-4-2zM101 872l-1 8 7 8-3 3-4-3-4 0-5-8-1 12 10 13 12 1 5-2 8-8 0-12-9-9-8-3zM153 1020l-5 5-2 7 2 8 3 4 7 4 6 1 10-5 4-4 0-4-8-16-6-3zM516 994l20 0 4 4 8 0 7 6 0 8 4 4 0 4-4 4-1 12-4 4 0 8-6 6-8 0-4 4-4-4-8 0-4-4-4 0-10-10-1-4-4-4 1-8-4-4 0-4 3-4 0-8 7-6 8 0zM528 1209l24 1 4 3 8 0 7 7 0 4 4 4 0 8 3 4 1 8 3 4 0 4-4 4 0 8-10 10-8 0-4 4-4 0-4-4-8 0-8-8-4 0-18-18 0-8-4-4 0-8 4-4-1-8 7-7 8 0z" fill="#3c28b4"/><path d="M544 54l4 0 4 4 8 0 4 4 8 0 6 6 0 4 8 8 0 4 6 5 8 1 7 6 1 9 8 1 4 4 8 0 4 4 12 0 4 4 8 0 4 4 4 0 10 10 0 8 4 4 0 8 6 6 8 0 6 6 0 8 4 4-4 4 0 8-6 6-4 0-4 4-4 0-4 4-4 0-8 8-4 0-6 6 0 4-4 4 0 56 4 4 0 16 4 4 0 12 4 4 0 16-4 4 0 12-4 4 0 8-8 12 0 8-8 12 0 8-4 4 0 20-4 4 0 8-12 12 0 4-12 12 0 4-8 8 0 4-4 4 0 8-4 4 0 8-4 4 0 8 4 4 0 16-4 4 0 8-4 4 0 12-4 4 0 20-4 4 0 20-4 4 0 16-4 4 0 16-4 4 0 20-3 4-1 20-4 4 0 16-4 4 0 16-4 4 0 12-4 4 0 12-4 4 0 8-4 4 0 8-4 4 0 12-4 4 0 16-4 4 0 16-4 4 0 8-16 16 0 4-4 4 0 4-4 4 0 4-4 4 0 4-8 12 0 4-8 8 0 4-12 12 0 4-8 8 0 12-4 4 0 8-34 34-4 0-10 10 0 4-8 8 0 8-8 12 0 8-4 4 0 8-4 4 0 8-4 4 0 8-4 4 0 8-4 4 0 12-4 4 0 16-4 4 0 24 4 4 0 56-4 4 0 8-4 4 0 8-8 8 0 12 4 4-4 4 0 8-6 6-8 0-4 4-4-4-8 0-4-4-4 0-8-8-4 0-4 4-4-4-8 0-4-4-4 0-6-6 0-8-4-4 0-20-4-4 0-16 4-4 0-20-4-4 0-8-4-4 0-8-4-4 0-12-4-4 0-4-4-4 0-4-30-30-4 0-4-4-2 2 0 8 4 4-4 4 0 8-14 14-8 0-4 4-4 0-4-4-8 0-6-6 0-8-4-4 4-4 0-8 14-14 8 0 4-4 4 0 4 4 8 0 2-2-6-2-12-12-4 0-4-4-4 0-4-4-4 0-22-22 0-4-8-8 0-4-4-4 0-8-4-4 0-8-4-4 0-32-4-4 0-8-4-4 0-8-4-4 0-12-4-4 0-16-8-8 0-4-32-32 0-4-4-4 0-8-4-4 0-12 4-4 0-12 4-4 0-12 4-4 0-16 4-4 0-8 4-4 0-8 4-4 0-8 4-4 0-44 4-4-4-4 0-8-4-4 0-4 4-4 0-8 4-4 0-12 4-4 0-16 4-4 0-24 4-4 0-8 4-4 0-8 18-18 4 0 10-10 0-4 4-4 0-4 8-8 0-8 8-12 0-8 4-4 0-4 4-4 0-4 4-4 0-4 8-12 0-4 8-8 0-4 8-8 0-8 4-4 0-8 4-4 0-4 8-8 0-4 4-4 0-4 8-8 0-4 8-8 0-4 4-4 0-4 8-8 0-4 8-8 0-4 4-4 0-4 8-8 0-4 4-4 0-8 4-4 0-4 4-4 0-4 20-20 0-4 4-4 6-2 30-30 0-4 4-4 0-8 8-12 0-8 4-4 0-8 4-4 0-8 4-4 0-8 8-12 0-4 18-18 4 0 8-8 4 0 12-8 8 0 4-4 8 0 4-4 8 0 4-4 16 0 4-4 8 0 14-14 0-4 7-8 1-4 22-22 8 0 4-4 12 0zM507 148l-8 4-8 8-4 8 1 8 7 20 13 5 12 1 8-4 10-10 4-12 0-8-6-11-8-7-8-3zM450 176l-35 28-12 20 1 5 16 6 28-5 18-10 15-16-2-4-3-1-6-7-6-15-8-2zM351 244l-7 8-1 8 5 4 0 5 4 3 13 0 8-8-1-15-8-7-8-1zM290 344l-2 2 0 6 4-1 2-3 0-4zM259 456l-23 20-1 16-11 12 1 4 3 2 4 2 16-5 20-1 12-10 5-12 0-8-3-8-10-12-8-3zM188 728l0 5 5 3 3 1 4-2 0-7-4-2zM97 872l3 4-1 4 8 8-3 3-4-4-4 0-4-3 0-4-3 0-1 12 12 15 12 1 8-5 6-7 0-12-6-8-6-4-10-2zM146 996l-4 4-2 4 3 8 5 1 5-5 3-12-4-2zM164 1016l-14 4-3 4-2 8 2 8 3 4 10 5 10-1 9-8-1-8-6-12zM193 1040l0 4 3 2 3-2 1-4-4-3zM516 994l20 0 4 4 8 0 6 6 0 8 4 4 0 4-4 4 0 12-4 4 0 8-6 6-8 0-4 4-4-4-8 0-4-4-4 0-10-10 0-4-4-4 0-8-4-4 0-4 4-4 0-8 6-6 8 0zM528 1210l24 0 4 4 8 0 6 6 0 4 4 4 0 8 4 4 0 8 4 4 0 4-4 4 0 8-10 10-8 0-4 4-4 0-4-4-8 0-8-8-4 0-18-18 0-8-4-4 0-8 4-4 0-8 6-6 8 0z" fill="#1e0aa0"/><path d="M544 54l4 1 4 4 8-1 4 4 8 0 6 6 0 4 8 8 0 4 6 6 8 0 6 6 0 8 2 2 8 0 4 4 8 0 4 4 12 0 4 4 8 0 4 4 4 0 10 10 0 8 4 4 0 8 6 6 8 0 6 6 0 8 4 4-4 4 0 8-6 6-4 0-4 4-4 0-4 4-4 0-8 8-4 0-6 6 0 4-4 4 0 56 4 4 0 16 4 4 0 12 4 4 0 16-5 4 0 12-4 4 1 8-8 12 0 8-8 12 0 8-4 4 0 20-4 4 0 8-12 12 0 4-12 12 0 4-8 8 0 4-4 4 0 8-4 4 0 8-4 4 0 8 4 4-1 16-3 4 0 8-4 4 0 12-4 4 0 20-4 4 0 20-4 4 0 16-4 4 0 16-4 4 0 20-4 4 0 20-4 4 0 16-4 4 0 16-4 4 0 12-4 4-1 12-4 4 0 8-3 4 0 8-4 4 0 12-4 4 0 16-4 4-1 16-3 4 0 8-16 16 0 4-4 4 0 4-4 4 0 4-4 4 0 4-8 12 0 4-8 8 0 4-12 12 0 4-8 8 0 12-4 4 0 8-34 34-4 0-10 10 0 4-8 8 0 8-8 12 0 8-4 4 0 8-4 4 0 8-4 4 0 8-4 4 0 8-4 4 0 12-4 4 0 16-4 4-1 24 5 4 0 56-4 4 0 8-4 4 0 8-8 8 0 12 4 4-4 4 0 8-6 6-8 0-4 4-4-4-8 0-4-4-4 0-8-8-4 0-4 4-4-4-8 0-4-4-4 0-6-6 0-8-4-4 1-20-4-4 0-16 3-4 1-20-4-4 0-8-4-4 0-8-4-4-1-12-4-4 0-4-4-4 0-4-30-30-4 0-4-4-2 2 0 8 4 4-4 4 0 8-14 14-8 0-4 4-4 0-4-4-8 0-6-6 0-8-4-4 4-4 0-8 14-14 8 0 4-4 4 0 4 4 8 0 4 4 2-2-6-6-4 0-12-12-4 0-4-4-4 0-4-4-4 0-22-22 0-4-7-8 0-4-5-4 0-8-4-4 0-8-4-4 0-32-4-4 0-8-4-4 0-8-4-4 1-12-5-4 0-16-7-8 0-4-33-32 0-4-4-4 0-8-3-4 0-12 4-4-1-12 4-4 0-12 4-4 1-16 4-4 0-8 4-4 0-8 4-4-1-8 4-4 0-44 4-4-4-4 0-8-4-4 0-4 4-4 0-8 4-4 1-12 4-4-1-16 4-4 0-24 5-4-1-8 4-4 0-8 18-18 4 0 10-10 0-4 4-4 0-4 8-8 0-8 8-12 0-8 4-4 0-4 4-4 0-4 4-4 0-4 8-12 0-4 8-8 0-4 8-8 0-8 4-4 0-8 4-4 0-4 8-8 0-4 4-4 0-4 8-8 0-4 9-8 0-4 4-4 0-4 8-8 0-4 7-8 0-4 4-4 0-4 8-8 0-4 4-4 0-8 4-4 0-4 4-4 0-4 21-20 0-4 4-4 5-2 30-30 0-4 4-4 0-8 8-12 0-8 4-4 0-8 4-4 0-8 4-4 0-8 8-12 0-4 18-18 4 0 8-8 4 0 12-8 8 0 4-3 8 0 4-4 8-1 4-4 16 0 4-4 8 0 14-14 0-4 8-8 0-4 22-22 8 0 4-4 12 0zM505 148l-12 8-7 12 0 4 6 23 20 8 12-1 15-14 4-12 0-8-7-12-9-8-11-2zM447 176l-33 28-13 20-1 8 20 5 28-5 19-12 16-16 1-4-8-2-5-6-6-16-13-2zM370 228l-5 4-1 4-12 6-9 10-1 8 6 4 0 6 4 3 12 0 8-5 2-4 0-12-3-8 5-6 2-6-2-3zM291 340l-3 2 0 14 8-4 8-7 5-1 3-4-4-1zM506 404l-3 4 0 8 1 7 4 5 4-2 9-10-1-4-8-10zM256 432l0 8 4 4 4-8 0-5-4-2zM260 448l-4 8-23 20 0 16-9 7-3 5 1 4 4 4 10 2 12-5 20-2 8-5 7-10 3-12-2-12-12-14-12-9zM204 656l-1 4 3 4 3 0 4-4-1-4-4-2zM188 724l-3 4 0 4 2 4 7 4 6-1 4-7-3-8-5-2zM342 744l-2 4 3 4 5 0 2-4-2-8-4 1zM333 760l7 8 2-8-2-4-4 1zM339 824l-4 4 1 5 4 0 4-5 0-6zM377 836l-2 8 1 10 8 0 8 8 3-2 2-4-1-6-7-6-5-8zM95 872l4 4 0 4 8 8-3 3-4-4-4 0-3-3-1-4-4 0-2 8 3 8 11 12 8 2 8-3 11-11 1-8-2-8-10-9-12-2zM144 992l-5 4 1 17 8 7-5 12 3 8 10 9 8 1 8-2 8-8 1-4-2-8-4-8-7-5-18 1 10-11 1-9-3-4-6-3-4 0zM192 1036l-2 8 6 8 8 0 4-3 0-9-12-7-4 1zM516 994l20 0 4 4 8 0 6 6 0 8 4 4 0 4-4 4-1 12-3 4 0 8-6 6-8 0-4 4-4-4-8 0-4-4-4 0-10-10 0-4-4-4 0-8-4-4 0-4 4-4 0-8 6-6 8 0zM528 1210l24 0 4 4 8 0 6 6 0 4 4 4 0 8 4 4 0 8 4 4 0 4-4 4 0 8-10 10-8 0-4 4-4 0-4-4-8 0-8-9-4 0-17-17 0-8-4-4-1-8 4-4 0-8 6-6 8 0z" fill="#0a46c8"/><path d="M544 55l4 0 4 4 8 0 4 4 8-1 6 6 0 4 8 8 0 4 6 6 8 0 6 6 0 8 2 2 8 0 4 4 8 1 4 3 12 0 4 4 8 0 4 4 4 0 9 10 1 8 4 4 0 8 6 6 8 0 6 6 0 8 4 4-4 4 0 8-6 6-4 0-4 4-4-1-4 4-4 0-8 8-4 0-6 7 0 4-4 4 0 56 3 4 1 16 4 4 0 12 4 4-1 16-4 4 0 12-4 4 0 8-7 12 0 8-9 12 1 8-4 4 0 20-4 4-1 8-12 12 0 4-11 12 0 4-8 8 0 4-4 4-1 8-4 4 0 8-4 4 0 8 4 4 0 16-4 4 1 8-4 4 0 12-4 4 0 20-4 4 0 20-5 4 0 16-3 4 0 16-4 4 0 20-4 4 0 20-4 4 0 16-4 4 0 16-4 4-1 12-4 4 0 12-4 4 0 8-4 4 0 8-4 4 1 12-4 4 0 16-4 4-1 16-4 4 0 8-15 16 0 4-4 4 0 4-4 4 0 4-4 4 0 4-9 12 0 4-7 8-1 4-11 12 0 4-9 8 1 12-4 4 0 8-34 33-4 0-10 11 0 4-8 8 0 8-8 12-1 8-3 4 0 8-4 4 0 8-5 4 0 8-4 4 0 8-4 4 1 12-4 4 0 16-4 4-1 24 4 4 0 56-4 4 0 8-4 4 1 8-8 8 0 12 3 4-3 4 0 8-6 6-8 0-4 4-4-4-8-1-4-4-4 0-8-7-4 0-4 4-4-4-8 0-4-4-4 0-6-6 0-8-3-4 0-20-4-4 0-16 4-4 0-20-4-4 0-8-4-4 0-8-4-4 0-12-4-4-1-4-3-4 0-4-31-30-4 0-12-12-4 0-12-12-4 0-4-5-4 0-4-4-4 1-21-22 0-4-8-8 0-4-4-4-1-8-4-4 0-8-4-4 0-32-4-4 0-8-4-4 1-8-4-4 0-12-4-4-1-16-7-8 0-4-33-32 0-4-4-4 1-8-4-4 0-12 4-4 0-12 4-4 0-12 4-4 0-16 4-4 0-8 4-4 0-8 4-4 0-8 3-4 1-44 4-4-5-4 0-8-4-4 0-4 5-4 0-8 4-4 0-12 4-4 0-16 4-4 0-24 4-4 0-8 4-4 0-8 17-18 4 0 11-10-1-4 4-4 0-4 9-8-1-8 8-12 0-8 5-4 0-4 4-4-1-4 4-4 0-4 9-12 0-4 7-8 0-4 8-8 0-8 4-4 0-8 4-4 0-4 8-8 0-4 4-4 0-4 8-8 0-4 9-8 0-4 4-4 0-4 8-8 0-4 8-8 0-4 4-4 0-4 8-8 0-4 4-4 0-8 3-4 0-4 4-4 1-4 20-20 0-4 4-4 5-1 30-31 0-4 4-4 0-8 8-12 0-8 4-4 0-8 5-4-1-8 4-4 0-8 8-12 0-4 18-18 4 0 8-7 4 0 4-5 4 0 4-4 8 0 4-3 8 0 4-4 8 0 4-4 16-1 4-4 8 0 14-14 0-4 8-8 0-4 22-21 8-1 4-4 12 0zM503 148l-11 8-7 12 0 4 5 16-1 8 23 8 12-1 10-7 7-8 4-12 0-8-8-12-13-10-8-1zM446 176l-34 28-13 20-2 12 3 1 8-2 12 3 32-6 17-12 19-20-12-4-4-4-4-16-16-4zM366 228l-5 8-13 8-7 12 0 4 6 4 1 8 8 3 12-2 7-9 0-20 5-7 1-5-5-5zM305 336l-18 4 1 12-4 4-3 0 3 2 8-1 21-13 2-4-2-4zM535 336l2 8-1 5 4 2 10-7-10-9-4-1zM511 396l-7 5-5 11 4 16 5 5 9-5 9-12-10-18zM254 428l-3 4 1 24-20 16-2 4 2 13-8 8-4 7 2 8 6 3 8 1 16-6 20-3 8-8 6-11 0-16-4-8-14-20-1-16-3-3zM522 428l-1 4 3 3 4-3-4-6zM492 468l-4 8 0 4 4 3 4-3 0-4 4-4-4-6zM494 492l-3 4 4 12 0 8-7 9-2 7 2 7 4 1 20-11 4-5 3-12 0-4-3-2-4 1-3-3-5-9-8-4zM464 496l-2 8 2 2 4-1 3-5 0-4-3-2zM210 532l-2 4 2 4 2 2 4-2 1-4-1-4-4-1zM228 556l-2 4 6 4 5-4-1-4zM492 560l-3 4-3 12-4 8 2 10 16-5 6-5 0-4-2-3-7-5 1-4 6-3 0-3-8-3zM477 564l3 5 7-1-2-4-5-2zM459 592l-7 8 4 9 4 3 5-4 2-12-3-6-4 0zM234 620l-2 8 2 8 2 1 5-13-1-5-4-1zM202 652l-3 4 0 4 5 7 4 1 8-8-1-4-3-4-4-2zM192 720l-8 6-2 6 7 8 11 1 5-5 0-8-5-6-4-2zM365 720l-2 4 1 4 4 1 2-5-1-4-1-2zM350 728l-6 2-8 22-8 8 8 17 12-12 9-1 0-12-5-12 6-12-2-3zM170 756l6 11 4 0 3-7-7-4zM376 788l-9 8-5 20-2 24 4 2 8-4 0 10-4 12 1 4 7 1 8-5 4 6 4 0 4-2 4-8-10-28 10-5 2-3-7-8-2-16-5-8-8-3zM343 804l-6 16-7 8 2 7 4 4 4 0 3-3 10-24-1-8-4-4zM115 832l-7 4-1 4 9 6 4-2 4-8 0-4-4-3zM133 868l-1 4 4 1 2-1 1-4-3-2zM93 872l3 0 3 4 0 4 8 8-3 3-4-4-4 0-3-3-1-5-6 1-1 12 2 4 13 14 12 1 14-11 3-8 0-8-2-8-5-4-6-3-12-1zM339 872l-2 4 3 3 7-7-3-4zM344 908l-2 4 3 4 7 3 4-1 0-6-6-4zM358 924l0 4 2 3 5-3-1-5-4-1zM355 936l-9 12 0 4 2 6 4 0 1-2 4-16-1-6zM137 944l-10 12 5 9 4 2 6-3-2-8 4-8 0-4-4-1zM144 988l-9 8 5 4 0 15 5 5-3 12 0 4 6 8 8 6 12 0 5-2 9-8 2-9 4 5 1 8 3 8 8 3 9-3 3-4-1-8-13-8-3-8-3-3-8 6-12-13-14-2 5-8-2-12-13-7zM516 995l20 0 4 4 8 0 6 5 0 8 4 4 0 4-4 4-1 12-4 4 0 8-5 5-8 0-4 4-4-4-8 0-4-4-4 0-9-9-1-4-4-4 1-8-4-4-1-4 4-4 0-8 6-5 8 0zM180 1115l4 0 4 4 8 0 6 5-1 8 5 4-4 4 0 8-14 14-8 0-4 4-4 0-4-4-8 0-2-2-4-4 0-8-3-4 3-4 1-8 12-12 9-1zM528 1210l24 0 4 4 8 0 6 6 0 4 4 4 0 8 4 4 0 8 3 4 0 4-4 4 0 8-9 9-8 0-4 4-4 0-4-4-8 0-8-8-4 0-17-17 0-8-4-4 0-8 4-4-1-8 6-6 8 0z" fill="#3c8ce6"/><path d="M544 55l4 0 4 4 8 0 4 4 8-1 6 6 0 4 7 8 1 4 6 6 8 0 6 6 0 8 2 2 8 1 4 4 8 0 4 4 12-1 4 4 8 0 4 4 4 1 9 9 0 8 5 4 0 8 6 6 8 0 6 6 0 8 3 4-4 4 1 8-6 6-4-1-4 4-4 0-4 4-4 0-8 8-4 0-7 7 0 4-4 4 0 56 4 4 1 16 4 4 0 12 4 4-1 16-4 4 0 12-4 4 0 8-7 12 0 8-9 12 0 8-4 4 1 20-4 4-1 8-12 12 0 4-11 12 0 4-8 8 0 4-5 4 0 8-4 4 0 8-4 4 0 8 4 4 0 16-4 4 0 8-4 4 1 12-4 4 0 20-4 4-1 20-4 4 0 16-4 4 1 16-4 4 0 20-4 4 0 20-4 4-1 16-3 4 0 16-4 4-1 12-4 4 0 12-4 4 0 8-4 4 0 8-4 4 0 12-4 4 0 16-4 4 0 16-4 4 0 8-15 16 0 4-5 4 0 4-4 4 0 4-4 4 0 4-4 4 0 4-4 4 0 4-8 8 0 4-12 12 1 4-9 8 0 12-4 4 0 8-33 33-4 0-10 11 0 4-9 8 1 8-9 12 0 8-4 4 1 8-4 4-1 8-4 4 0 8-4 4 0 8-4 4 0 12-3 4 0 16-4 4-1 24 4 4 0 56-4 4 0 8-4 4 0 8-8 8 1 12 3 4-4 4 1 8-6 6-8-1-4 5-4-5-8 0-4-4-4 0-8-8-4 0-4 4-4-3-8 0-4-4-4 0-5-6 0-8-4-4 0-20-4-4 0-16 4-4 0-20-4-4 0-8-4-4 0-8-4-4 0-12-4-4 0-4-4-4 0-4-31-31-4 1-12-13-4 0-12-12-4 0-4-4-4 0-4-4-4 0-21-21 0-4-8-8 0-4-4-4 0-8-5-4 0-8-4-4 1-32-4-4 0-8-4-4 0-8-4-4 0-12-4-4 0-16-8-8 0-4-33-32 0-4-3-4 0-8-4-4 0-12 4-4 0-12 4-4 0-12 4-4 0-16 4-4 0-8 4-4 0-8 4-4 0-8 4-4 0-44 4-4-4-4 0-8-4-4 0-4 4-4 0-8 4-4 0-12 4-4 0-16 4-4 0-24 4-4 0-8 4-4 0-8 17-18 4 1 11-11 0-4 4-4-1-4 9-8-1-8 9-12 0-8 4-4 0-4 4-4 0-4 4-4 0-4 8-12 0-4 7-8 0-4 8-8 1-8 4-4 0-8 3-4 1-4 7-8 0-4 4-4 0-4 8-8 1-4 8-8 0-4 4-4 0-4 8-8 0-4 8-8 0-4 4-4 0-4 8-8 0-4 4-4 0-8 4-4 0-4 4-4 0-4 20-20 0-4 4-4 5-1 30-31 0-4 4-4 0-8 8-12 0-8 4-4 1-8 4-4 0-8 4-4 0-8 8-12 0-4 17-17 4 0 8-8 4 0 4-4 4-1 4-4 8 1 4-4 8 0 4-4 8 0 4-4 16 0 4-4 8 0 15-15 0-4 7-8 0-4 22-21 8 0 4-4 12 0zM512 144l-16 7-10 13-2 8 5 16-1 6-8 3-7-5-5-18-16-3-4 2-37 31-14 20-3 12 2 4 12-3 12 3 32-7 16-12 24-22 28 6 5-1 11-8 8-12 3-12-1-8-18-17-8-3zM364 228l0 4-4 4-8 3-8 8-4 9 0 4 4 1 3 3 1 9 12 3 8-2 7-6 2-8-1-12 5-8 1-4-1-8-5-3-8 0zM330 296l-1 4 3 1 5-1 1-4-2-2zM532 332l-4 30 4-1 4-4 16-7 6-10-2-7-8 2-8-6-4 0zM295 336l-10 4 2 4 0 8-3 4-4 0 0 2 4 2 8-1 23-15 2-4 0-4-5-2zM488 348l-5 4-11 14-5 2 1 2 12 0 2-2 1-8 9-1 2-3-1-4zM456 376l-5 8 1 6 4 1 6-3-2-7zM515 392l-7 3-6 5-4 8-1 8 7 20 12 0 8 4 4-1 2-3 0-12 4-8-2-5-8-3-3-4-1-8zM250 424l-3 4 1 15-8 9 6 4-18 14-12-2-1 4 13 9 2 3 1 4-11 11-2 9 2 5 12 5 8-1 12-6 20-2 11-13 5-12-2-16-13-20-2-24-3-2zM555 448l1 12 5-8-1-4zM493 464l-8 8-3 12 4 8 0 8 6 8-1 8-8 16 1 10 4 7 4 0 4-3 4-6 12-6 4-5 9-25-4-4-9-2-6-6-8-4-1-4 5-12-2-6-4-3zM555 468l-5 4-1 4 3 3 5-3 1-4zM464 492l-4 4-1 4 1 6 4 3 5-1 8-12-5-5zM207 532l1 10 4 2 7-4 1-4-4-7-4-1zM528 548l-3 4 11 7 1 5-5 11-13 5-2 4 7 3 21-7 3-3 1-5 1-16-3-4-7-4zM225 556l-1 4 3 4 5 2 4-1 4-5-1-4-3-2-4-1zM489 556l-9 1-15 7 14 12 0 20 1 2 4 1 20-6 7-9-1-4-5-8 3-8-4-8-8-4zM455 584l-1 8-5 12 3 9 8 1 4-2 5-8 1-12-2-6-4-3-4-1zM168 588l-16 6 0 6 4 2 20-1 8 4 4 7 4 1 2-1 2-4-4-7-12-13-8-4zM213 604l-2 8 5 3 3-3 1-4-4-5zM232 616l-2 4-1 16 1 4 2 2 8-2 5-4-1-16-2-4-2-2zM202 640l-7 16 0 4 5 8 4 2 8-3 6-7-2-8-11-8-1-5zM159 656l1 12-5 4-2 8 2 12 5 2 3-10-2-12 6-8 1-4-4-6-4 0zM125 688l-3 4 0 4 6 9 4 0-4-19zM446 704l-14 16-12-1-2 1-1 4 7 3 8 8 4 0 7-15 12-12 1-4-4-3-4 0zM372 708l-12 9-8 0-8 9-11 26-7 8 6 21 4 1 8-9 4-2 8-1 6-6-1-12-6-12 5-7 8 3 4-4 2-12zM189 720l-8 8 0 8 7 6 12 0 4-3 3-7-3-8-8-6zM163 748l-4 4 0 4 9 5 8 12 4-2 5-7 1-4-2-4-9-4-3-3zM375 784l-5 4-14 3-4-2-16 16-4-6-4-3-4 4-2 4 2 12-2 8 8 12 6 5 7-1 9-19 4-5 3 8 0 20 1 3 6 1 0 4-2 2-8-2-4 12-8 0-10 8-2 4 1 4 7 5 8-9 8 1 4-2 4-7 16-1 8 4 4-1 9-10 0-8-4-20 7-8 1-8-8-8 1-8-8-16-6-3zM114 828l-10 5-4-1-4 4-4 0-3 4 15 4 8 6 4 5 4 1 8-20 0-4-4-7-4 0zM167 832l-1 20 2 5 4 1 4-6 4-12-4-10-4 0zM132 864l-4 4-4 1-8-4-16 2-8 4 7 5 0 4 8 8-3 3-4-4-4 0-3-3-1-5-8 1 1 16 15 15 12 1 16-12 2-4 2-16 8-5 2-3-2-8-4-1zM379 884l-15 7-8 14-12-1-4 4 0 6 12 10 1 4-1 4-8 12-12 7-3 5-1 8 4 4 4-1 8-6 4 3 4-1 9-27 17-12 6-14 4-2-12-2-5-10 1-6 13-2 0-4zM138 940l-16 12-1 4 11 15 16 3 4-1 6-9-1-4-8-8-1-8-3-4zM145 984l-10 8-2 4 3 0 3 4 1 18 3 2-2 16 6 8 9 7 8 1 8-2 12-10 10 16 10 1 8-4 2-5-2-11-12-6-4-13-12-2-8-6-8 1-3-3 1-8-2-8-12-9-4-2zM516 995l20 0 4 4 8 0 6 5 0 8 4 4-1 4-3 4-1 12-4 4 0 8-5 5-8 0-4 4-4-4-8 0-4-4-4 0-9-9 0-4-4-4 0-8-4-4 0-4 4-4 0-8 5-5 8 0zM180 1115l4 0 4 4 8 0 5 5 0 8 4 4-4 4 0 8-13 13-8 1-4 4-4 0-4-4-8 0-2-2-3-4 0-8-4-4 4-4 0-8 12-12 9-1zM528 1211l24 0 4 4 8-1 6 6 0 4 4 4-1 8 4 4 0 8 4 4 0 4-4 4 0 8-9 9-8 0-4 4-4 0-4-4-8 0-8-8-4 0-17-17 0-8-4-4 0-8 4-4 0-8 5-5 8 0z" fill="#78b9fa"/><path d="M544 55l4 1 4 4 8-1 4 4 8 0 5 5 0 4 8 8 0 4 7 6 8 1 5 5 1 8 2 2 8 1 4 4 8 0 4 4 12 0 4 4 8 0 4 4 4 0 9 9 0 8 4 4 0 8 7 7 8 0 5 5 0 8 4 4-4 4 0 8-5 5-4 0-4 4-4 0-4 4-4 0-8 8-4 0-7 7 0 4-4 4 0 56 4 4 0 16 4 4 0 12 4 4-1 16-4 4 0 12-4 4 1 8-8 12 0 8-8 12 0 8-4 4 0 20-4 4 0 8-13 12 1 4-12 12 0 4-8 8 0 4-4 4 0 8-4 4-1 8-3 4 0 8 4 4-1 16-3 4 0 8-4 4 0 12-4 4 0 20-4 4 0 20-4 4 0 16-4 4 0 16-4 4 0 20-4 4 0 20-4 4 0 16-4 4 0 16-4 4 0 12-4 4-1 12-4 4 0 8-3 4 0 8-4 4 0 12-4 4 0 16-4 4-1 16-4 4 0 8-15 16 0 4-4 4 0 4-4 4 0 4-4 4 0 4-4 4 0 4-4 4 0 4-8 8 0 4-12 12 0 4-8 8 0 12-4 4 0 8-33 33-4 0-11 11 0 4-8 8 0 8-8 12 0 8-4 4 0 8-4 4 0 8-4 4-1 8-4 4 1 8-5 4 1 12-4 4 0 16-4 4-1 24 4 4 1 56-4 4 0 8-4 4 0 8-8 8 0 12 4 4-4 4 0 8-5 5-8 0-4 4-4-4-8 0-4-4-4 0-8-8-4 0-4 4-4-4-8 0-4-4-4 0-5-5 0-8-4-4 1-20-4-4 0-16 4-4 0-20-4-4 0-8-4-4 0-8-4-4-1-12-4-4 0-4-4-4 0-4-31-31-4 0-12-12-4 0-12-12-4 0-4-4-4 0-4-4-4 0-21-21 0-4-7-8 0-4-5-4 0-8-4-4 0-8-4-4 0-32-4-4 0-8-4-4 0-8-4-4 1-12-5-4 0-16-7-8 0-4-33-32 0-4-4-4 0-8-3-4 0-12 4-4-1-12 5-4-1-12 4-4 1-16 4-4 0-8 4-4 0-8 4-4-1-8 4-4 0-44 4-4-4-4 0-8-4-4 0-4 4-4 0-8 4-4 1-12 4-4-1-16 4-4 0-24 5-4 0-8 3-4 0-8 17-17 4 0 11-11 0-4 4-4 0-4 8-8 0-8 8-12 0-8 4-4 1-4 3-4 0-4 4-4 0-4 8-12 0-4 8-8 0-4 8-8 0-8 4-4 0-8 4-4 0-4 8-8 0-4 4-4 0-4 8-8 0-4 9-8 0-4 4-4 0-4 8-8 0-4 7-8 0-4 4-4 0-4 8-8 0-4 4-4 0-8 4-4 0-4 4-4 0-4 21-20 0-4 4-4 4-1 31-31 0-4 4-4 0-8 8-12 0-8 4-4 0-8 4-4 0-8 4-4 0-8 8-12 0-4 17-17 4 0 8-8 4 0 4-4 4 0 4-4 8 0 4-3 8 0 4-4 8 0 4-5 16 0 4-4 8 0 15-15 0-4 7-8 1-4 21-21 8 0 4-4 12 0zM509 144l-13 6-9 10-5 12 6 16-1 4-3 3-4 0-6-3-2-4-1-12-2-4-17-2-4 1-38 33-15 20-6 16 7 2 12-4 12 3 20-3 16-6 36-31 4-1 24 7 4-1 12-9 9-13 3-16 5-8-1-5-8 5-20-16-8-2zM365 224l-2 8-3 4-4-2-4 3-10 11-3 8 1 6 4-1 3 3 1 10 12 4 8-3 8-7 2-8-1-12 7-8 0-4-4-10-8-4zM524 284l3 4 9 5 4-9 0-4zM331 292l-4 4 1 6 4 2 8-4 0-4-3-4zM527 328l-3 19-4 6-6 3 5 8 9 3 12-6 4 0 4 3 4-2 9-22-3-8-2-2-8 1-12-6zM290 336l-6 4 3 4 0 8-3 3-4 1 4 12 8 4 3-4-2-8 23-16 2-4 0-4-6-3zM447 340l-2 8 3 8 4 4 3-12-3-7zM481 348l-13 15-12 1-4-4-4 0-8 11 0 2 7 3 0 12 2 4 7 2 16-6 2-4-2-2-4 3-4-5 4-3 8 2 8-3 4-3 4-7 8 6 2-4 0-4-4-4-2-8-3-4-5-3zM508 392l-8 8-5 12 4 20-2 8-9 11-8 1-3 4 2 12-2 8-19 20 1 12 5 4 4 0 8-9 4-1 7 6 1 4-8 20 2 16-1 4-5 3-18 5 2 7 12 8 1 5-1 1-4-1-12-7-4 2-2 17-4 12 6 14 12-2 8-10 16-6 16 0 8-11 16 0 20-6 0-7 4-4 1-16-1-3-12-7-8-1-8 3-2 4 3 4 7 4 1 4-2 8-11 5-8 0-3-5 1-12-8-12 0-4 3-4 7-3 4-5 8-17 4-4 4-1 8 5 4-3-1-4 5-6 1-6-1-8-16 3-8-3-8 5-13-5-3-4 3-8-1-8-8-12 14-15 16 1 6-2 8-24-2-10-8 1-4-3-1-12-3-3-8 0zM276 416l-12 5-12 0-8 2-1 13-3 8-12-5 0 5-4 4-1 4 7 4 1 4-3 5-12 0-4 4 0 4 4 9 4 3 8 1 1 2-9 9-3 7 0 8 3 4 16 4 19-8 17-2 12-14 5-12 0-8-4-12-9-12-2-8 2-12 7-4 1-8-4-6zM559 420l-12 12 0 4 4 8 1 16-8 17-4 3 6 4 2 4 8-6 4-6-1-12 5-16-3-8 2-8-2-8 2-4-3-2zM387 472l1 3 8 1 0-4zM186 528l-2 2-3 10 3 6 4-1 5-9-1-5-4-4zM207 528l-2 8 2 8 5 3 4-2 5-5-1-10-4-4-4 0zM228 552l-5 4-2 4 3 4 8 3 4 0 4-3 2-4-2-7-4-2zM164 560l0 12-8 8 0 4-4 4 0 8-4 4 4 8 4 2 8-5 8-2 8 3 8 10 4 1 4-1 3-4 0-4-7-16-4 0-7-8-2-16-4-4-8-4-3-4zM137 580l-9 11-1 5 10 0 3-5 0-7 4-4zM231 580l-2 4 3 8 4-12zM250 592l-6 5-4 11-14 8 1 16-2 8 2 4 21 0 1-4-2-24 7-16-1-8zM213 600l-8 12 1 4 10 3 7-3 0-8-3-8zM170 624l3 16 3 2 8 0 2-6-8-12-2-2-4 0zM455 624l0 8-4 8 0 4 9 1 4 2 4-2 2-5-5-8 3-8-4-1-4 2zM142 632l-5 4 0 4 7 6 3-2 1-8-3-4zM200 636l-9 16 1 14-8 6-8 3-4-2-2-17-2-3-4-3-8 2 0 12-10 16 2 8-2 8 2 5 16-3 8-16 20-1 16-9 10-8 2-8-4-7-6-5 0-8-2-3-4 0zM481 648l-16 16 7 7 4 0 3-3 5-12 1-8-1-2zM507 656l1 5 4 3 4-4-3-4zM450 664l1 8-2 8 3 1 2-17-2-2zM133 672l-17 20 5 12-5 4-6 0 2 4-7 8 3 3 9 1 16-12 3-8-2-16 9-8-5-8-2-2zM198 688l-4 4 0 8-5 4 0 4 3 3 4-3 0-4 4-4 11-8 1-4-4-4-4 0zM403 692l1 4 8 9 5-1-3-12-6-2zM443 696l-3 5-13 3 0 4 5 1 0 6-8-3-15 4-5 5-2 3 6 7 4 9 4-2 4-5 4 0 8 6 8 0 4-6 2-9 4-8 9-8 0-4-2-4-9-5-4-1zM367 708l-7 5-8-1-4 3-7 13-3 12-14 20 5 20 3 6 4-1 12-11 8 0 4-3 8-11-9-20 1-1 12 1 4-4 1-24-1-5-4-3zM187 720l-6 4-9 15-12 6-5 7 1 6 12 7 2 7 6 6 4-3 9-15 1-4-6-8 16-5 5-3 3-8-2-8-10-7-4-1zM388 732l-3 16 3 4 4 0 2-8 6-12-4-2zM424 768l-3 4 3 12-3 8 3 4 7-12 3-8-2-6-4-3zM383 776l-15 8-8 1-8-3-12 14-4 0-4-3-4 0-7 7-2 4 2 8-1 16 12 13 8 3 4-2 8-17 4-2 2 5-3 16-5 12-2 3-16 9-3 8 1 4 10 11 4 0 4-10 4 0 7 7-2 8-4 4-9 1-6 7 1 8 10 12-1 4-16 14-7 10 0 8 3 5 4 2 12-4 8-1 3-2 9-28 16-10 4-8 13-14-1-7-4-5 8-2 2-2-1-4-9-8 11-16-2-28 7-12 0-12 5-8 2-8-3-5-8 9-4-1-8-16-4-3zM109 780l-4 8 0 4 3 3 4 0 3-3 3-12-2-3-4-1zM141 788l0 8 10 8 1 9 4 1 6-18-1-4-13-7-4 1zM195 792l-5 12-11 8-1 4 2 3 16-6 9-13-5-11zM126 820l-10 1-20 15-4 0-4 4-4-4 0-4 4-4 4 0 0-3-8 3-2 4 0 8 26 11 5 9-3 4-14 2-4 3 0 3 4 1 3 3 0 4 8 8-3 3-4-4-4 0-3-3 0-4-5-1-4-3 0-3-3 3 1 20 2 3 8 5 8 10 12 0 18-14 4-16 9-8 1-4-1-8-3-3-4-1-8 3-4-3 2-12 6-12-2-12-2-4zM168 828l-6 8 3 32 3 1 11-13 2-8 8-8 0-4-5-1-8-9zM199 880l-7 2-4 6 6 4-4 8 2 10 8 6 8-10 5-2 0-4-1-2-4 1-4 6-4-5 2-8 6-1 10-7-10-6zM134 940l-10 8-12 4-1 4 5 2 4-2 4 4 0 8 4 5 12 3 4 4-2 4-10 8-1 4 1 9 0-5 4-4 3 4 2 24-2 4 1 12 12 10 8 2 12-2 12-7 8 15 16 0 4-2 3-4 0-16 2-8-3 4-10 1-4-5-2-12-14-3-8-8-4-2-7-15-12-8 7-13 0-11-12-16-4-3-4 0zM239 976l-7 4 0 12-14 20 2 13 8-5 9-24 7-8 2-8-2-4zM215 1064l0 8 3 4 2 6 12-8 5-10-1-2-12 12-3-2-1-5zM368 871l11 1 2 4-5 5-8 1-3-2-1-4zM516 995l20 0 4 4 8 0 5 5 0 8 4 4 0 4-4 4-1 12-3 4 0 8-5 5-8 0-4 4-4-4-8 0-4-4-4 0-9-9 0-4-4-4 0-8-4-4 0-4 4-4 0-8 5-5 8 0zM180 1115l4 0 4 5 8-1 5 5 0 8 4 4-4 4 0 8-13 13-8 0-4 4-4 0-4-4-9-1-4-4 0-8-4-4 4-4 0-8 12-12 9-1zM528 1211l24 0 4 4 8 0 5 5 0 4 4 4 0 8 4 4 0 8 4 4 0 4-4 4 0 8-9 9-8-1-4 4-4 1-4-4-8 0-8-9-4 0-16-16 0-8-4-4-1-8 4-4 0-8 5-5 8 0z" fill="#0aa00a"/><path d="M544 56l2 0 2 5 12-1 4 4 8-1 5 5 0 4 8 8 0 4 7 7 8 0 5 5 0 8 3 3 8 0 4 4 8 0 4 4 12 0 4 4 8 0 4 4 4 0 8 9 1 8 4 4 0 8 7 7 8 0 5 5 0 8 4 4-4 4 0 8-5 5-4 0-4 4-4-1-4 4-4 0-8 8-4 0-7 8 0 4-4 4 0 56 3 4 1 16 4 4 0 12 4 4-1 16-8 10-10 6 10 12-7 12 0 8-9 12 1 8-4 4 0 20-4 4-1 8-12 12 0 4-11 12 0 4-8 8 0 4-4 4-1 8-4 4 0 4-8-8 0-4 0 4-10 8 2 6 16-4-4 6 0 8 4 4 0 13-4 7 1 8-4 4 0 12-4 4 0 20-4 4 0 20-5 4 0 16-3 4 0 16-4 4 0 20-4 4 0 20-4 4 0 16-4 4 0 16-4 4-1 12-4 4 0 10-5 6 0 8-3 4 0 8-4 4 1 12-4 4 0 16-4 4-1 10-3 2-1 16-15 16 0 4-4 4 0 4-4 4 0 4-4 4 0 4-5 4 0 4-4 4 0 4-7 8-1 4-11 12 0 4-9 8 1 12-4 4 0 8-33 32-4 0-11 12 0 4-8 8 0 8-8 12-1 8-3 4 0 8-4 4 0 8-5 4 0 8-4-2-1 2 1 12-3 0-1-5-6-3 1-4 4-8-3-4-8 0 0 12-4 4-4 0 0 3 8 12 12-5 1 14-4 4 0 16-4 4-1 20-4-2-3 2-7 8 2 6 4 2 4-1 8-7 0 56-4 4 0 8-4 4 1 8-8 8 0 12 3 4-3 4 0 8-5 5-8 0-4 4-4-4-8-1-4-4-4 0-8-7-4 0-4 4-4-4-8 0-4-4-4 0-5-5 0-8-3-4 0-5 4-2 0-26-4 1-2-8 6-12 0-24-4 0-4-4 0-18-4-2-4 1 0-5-4-4-1-4-3-4 0-4-32-31-4 0-12-12-4 0-12-12-4 0-4-5-4 0-4-4-5 0-5-8 3-4-1-8-4-1-8 4-4-3 0-4-4-5 5-7-3-8-6-4 0-6-1 14-3 0-1-8-4-4 0-8-4-4 0-32-4-4 0-8-4-4 1-8-4-4 0-8 8 5 0-5 4-4 4 4 0 8 4 4-3 4 3 2 9 2 0 4-9 4 4 22 0-10 4-3 3 3 1 24-4 4 4 4 0 11 4 1 8 7 8 3 8-1 16-8 3 7 1 11 12-4 8 2 2 3 3 16-3 8 6 8 0 4 4-1 4-11 15-16 2-8-1-6-4-3-4 1-4 6-4 1-3-3-4-20 7-11 10-9 8-20 13-24-3-4-8-7-4 5-8 1-4 6 0 15-12 16-5 20-3 3-6-3 0-12-2-7-4 2-8 0-7-3-3-4 2-8 6-8-1-4-9-14-9 2-3 10-4 0-2-2 8-24-6-13-4 1-12-9-4-1-16 11-20 7-1-16-3-4 0-12 16-6 16-12 6-18 6-5 2-7-2-12-4-4-10 0 2-9 4 1 4-1 0-3-5-12-2-16 7-10 4-1 4 11 4 3 8-2 4-18 4-5 9-2-5-3-8-1-8-6-13-2-5-4-2-8-4-5-4 3-4 9-12-1-4 1-8 13 1 4 7 7 16 3 2 2-1 4-9 0-12 7 0 13-8 7-4 0-4 5-4-4 0-4 4-4 4 0 0-6-12 6-14 16 6 3 3-3 5-1 23 9 3 4-1 4-17 8 4 5 4 0 3 3 0 4 8 8-3 3-4-4-4 0-3-3-1-5-4 0-4-3 0-4-4-4 4-4 4 0-1-4-7-7-4-1-8 4-8-5 0-3 0-4 4-4 0-12 3-4 1-9 14-7 1-4-7-8 4-5 6-3-1-4-5-4 0-8 3-4 1-44 4-4-5-4 0-8-4-4 0-4 4-4 1-8 4-4 0-11 5-1-1-20 4-4 0-24 8-4 0-4-4-3 4-5 0-8 16-17 4 0 12-11-1-4 4-4 0-4 9-8-1-8 8-12 0-8 5-4 0-4 4-4-1-4 4-4 0-4 9-12 0-4 7-8 0-4 8-8 0-8 4-4 0-8 4-4 0-4 8-8 0-4 4-4 0-4 8-8 0-4 5-2 12 18 0-12 4-4 4 0 0-8 4-4 4 5 15-13 0-4-3-5-16 0-6-3 6-8 0-4 4-4 0-4 4 1 4-3 0-10 4-4-1-8 4-4 0-4 4-4 1-4 4-4 4 6 6-2-3-8 3-4 10-10 2-6 2 0 31-32 0-4 4-4 0-8 8-12 0-8 4-4 0-8 5-4-1-8 4-4 0-8 4-4 0-4 4-4 0-4 17-17 4 0 8-7 4 0 4-5 4 0 4-4 8 0 4-3 4 10 8 0 7-14 5-4 16-1 4-4 8 0 15-15 0-4 8-8 0-4 21-20 8-1 4-4 12 0zM506 144l-14 8-10 16-1 4 6 16-3 5-8-1-4-8 1-12-5-2-20 0-39 34-14 16-7 14-8-10-8-6-8 6-1 8-3 3-4-3 0-16 4-4 4 0 0-8-3-4-4 0-3 20 0 12-13 16-3 8 2 8 4-3 3 3 1 11 12 4 8-2 7-5 4-8 0-16 5-4 12 0 12-4 12 3 16-1 20-8 36-32 8 0 20 6 8-3 8-6 6-7 4-8 4-16 5-8 0-8-3-2-8 7-4-1-16-14-8-1zM542 272l-6 6-8 0-4 1-3 5-6 20 8 12-6 12 2 8-11 22-4 3-4-3-5-10-7-5-4 0-8 3-8 10-4 3-4-1-3-14-5-8-4 0-5 4-1 4 0 16-11 16-7 2-6-2-2-4 1-8-5-1-4 0-4 3-6 6 0 4 14 13 4 0 18-1 2-8 4-2 4 3 0 11 8 5 24-6 8-7 16-8 8-10 16 7 12-5 12 5 15-13 3-8-2-12-4-9-4-3-8 0-19-12-1-4 21-36-1-5-4-2zM505 276l-1 12 4 2 5-6 0-8-5-4zM328 292l-3 4 0 4 3 4 8 0 6-4 0-4-6-6zM460 316l-4 3 0 6 5-1 1-4zM412 320l-2 4 2 2 6-2 2-4-4-2zM278 328l-6 9-1 11 6 0-1-12 6-4-2-6zM309 332l-21 2-4 6 3 4 0 8-3 3-4 0-2 5 4 16-4 8 2 4 8 6 4-4 3-10 3-4-1-16 3-4 18-12 2-4 0-4-4-4zM520 380l-12 9-13 15-4 12 5 13 0 7-8 9-12 3-3 8-1 20-16 20 1 12 3 4 4 2 8-1 4-5 5 0 1 8-2 8-7 8 6 12 0 4-3 3-20 5-7 16-2 20-3 8 7 32-4 8 1 10-4 2-4-1-12-8-4 2-5 7 1 5 16 2 5 5 0 8-8 24-9 4-4-2 0-5 5-5 1-4-4-8-2-10-4-2-7 8 4 12-9 4-4 4 7 12-1 4-6 6-4 11-12 5-4 0-1-6 1-16-4-7-4 0-12 9-8-3-4 4-9 17-3 12-14 20 4 12 1 16-10 12-1 4 3 12-2 12 3 6 8 8 19 6-2 8-15 8-3 12 0 4 9 8 3 8 1 4-5 12 8 16-3 4-12 3-4 6-12 4-4 7 0 8-3 8 3 2 12-5 8 9 4 2 8-5 12-1 7-6 5-24 16-10 20-26 1-8 7-8 0-5-10-7 0-4 6-12-1-28 8-12 1-12 4-3 12 9 5-22 4-8 0-12-5-7-4-1-14 4 6 12-4 2-4 0-8 6-4 1-4-10-8-7-4-1-12 8-8 1-4-4 2-4 18-16 4 0 4 3 4-2 5-13 3-5 4-1 8 10 4 1 8-4 4 2 4 2 4 7 4 2 11-38 9-8 1-4-1-11-8-5 6-8 1-12 1-2 4 1 8 5 4-2 5-6 9-20-2-6-4-1-8 3-6-12 1-20 17-9 4 0 12 3 4-2 4-10 36-6 0-12 6-8 1-12-1-4-14-9-16 2-3 3-1 4 1 4 10 8-1 4-2 4-4 2-8 1-3-3-1-12-4-16 11-12 5-12 4-4 4 0 8 4 12-4 0-11 5-9 3-12 2-4 0-16 4-12 2-40-1-4-3-1-10 13-8 8-2 8 5 16 1 8-6 10-8 3-8 7-12 8-4 0-8-3 1-13-4-12 1-4 9-12 17-1 4-3 3-12 5-8 0-16-4-4-8 2-4-17-4-7zM407 400l0 8 5 5 2-5-2-7-4-3zM276 412l-12 7-16-1-4 2 0 4-6 4-2 6-8 2 0 8-8 8-3 0 3 7 5 1-9 2-4 3 0 14 2 5 8 8-6 12-2 16-6 4-5 8 0 8 5 10 4 1 10-7 2-16-1-4 1-2 4 3 1 3 15 8 5 0 1-12-4-4 5-4 9-3 12-1 4-3 9-13 5-12 0-12-1-4-9-12-3-8 1-8 7-8 1-16-2-5-4-1zM425 416l-4 8 7 5 4-4 1-5-5-7zM348 444l-6 4-2 9-8 0-16 7-2 16 2 4 12 2 9-6 6-8 0-8 3-4 10-5 2-3-2-6-4-4zM436 448l-3 4 3 6 3-6zM366 456l-2 4 4 9 4-9-2-4zM388 468l-6 4 0 8 2 3 16 1 3-4-3-9-4-3zM187 524l-4 4 1 4-6 8-2 13 8-1 10-12 0-12-2-3zM559 528l-4 4 1 4 4 3 4-1 5-6-1-4zM574 528l6 5 3-1-3-6-4 0zM156 552l-5 4-1 4 3 12 3 0zM225 552l-9 8 1 4 18 8-9 8-2 4 0 10-12 3-8 9-4-2-2-4 6-16-8-1-8 4-5-7 1-10 4-2 4-4-4-2-4 1-4-1-4-5-12-1 0 16-8 8 0 4-4 4 0 8-8 8-1 4 5 13 4 2 4-3 8-12 8-2 8 3 6 11 15 4 1 4-10 13-8-13-3-8-5-2-7 2-2 4 1 16 4 6 10 2 3 12-1 3-4 3-4 0-4-15-8-4-7 1-5 3 1 13-5 5-4 1-8-6-4 1-16 21-4 0-4-3 0 16 2 1-2 8 4 4-8 8-4-2-1 10-4 4-1 4-1 8 3 4 8-8 4-10 12-3 15-11 5-14 8 4 12-3 8-5 6-10 6 0 6 4-2 12 5 12-11 8-8 12-12 8-5 8-1 4 4 7 10 5 1 8 9 11 4-5 4-10 12-16-2-8 10-6 3-6 1-9-11-11 0-4 4-8 13-12 1-4-7-8 0-4 15-16-1-12 18-2 8 5 4-7 0-28 6-12 1-4-1-12-3-4 7-8 4-12 0-4-6-5-4 3-7 14 3 8 0 4-8 6-4 1 1-15-4-4 7-8 2-8-2-4-4-2-12 0zM207 560l-1 4 2 4 4-1 3-3 1-4-4-2-4 0zM138 576l-11 12-3 8 16 0 0-12 4-4 4 0 0-3zM142 628l-6 4-3 8 7 7 8 2 3-1-1-16-2-5-4-1zM508 652l-5 4 1 4 4 5 8 3 4-4 0-8zM196 784l-4 7-10 5 1 8-7 8-1 8-15 12-1 4 3 12 0 20 2 4 4 1 8-7 4-1 8 6 4-2 3-5 0-4-6-8-1-4 7-12-3-6-8-6 5-4 7-1 4 2 4 12 6-5 1-12-3-3-4 1-2-2 1-4 5-2 2-6-6-17-4-1zM219 844l-4 12 1 4 17-8 1-4-2-4-8-3-4 1zM187 876l-7 12 6 8 1 16-2 4 15 7 17-19 1-8 5-8 0-4-3-4-8-5-16 2-4-4-4 0zM474 880l-2 20 7-8-1-12zM447 888l-6 8 3 4 8 0 0-14zM128 912l-7 12 3 2 8-2 7-4 2-4-5-6-4-1zM172 912l-1 20 7 0 3-4 1-8-6-10zM227 944l-2 4 1 4 2 6 4 3 3-5-7-15zM442 964l-6 5-9 3-3 4 4 4 8 2 15-14-3-6zM364 972l2 8 4 0-2-11zM286 980l-2 4 2 4 2 1 4-1 3-4-1-4zM408 1004l-4 5 8 6 4-1 0-6zM297 1032l-4 16 1 4 6 6 4 0 5-2 1-8-5-8-3-8zM272 1040l-2 8 1 8 1 2 4 0 4-6 2-8-2-4-4-2zM324 1048l-4 4 1 8-2 8 6 8-3 12-2 4-11 4 6 12 1 13 4 2 12-7 0-4 8-8 0-14-7-14 8-24-1-2zM368 1052l0 8-3 4 3 1 4-4 1-5-1-7-4 1zM343 1136l-5 4 6 3 4-3 0-4zM343 1208l1 12 4 0 4-4 0-8-4-3zM339 1244l-3 4 0 4-8 8-1 8 5 5 8-1 4-4 7-16-1-4-6-6zM228 597l9 3 1 4-6 5-4 0-3-5 0-4zM216 626l4 0 3 2 1 4-4 3-6-7zM352 829l4 3-4 10-3-2zM64 865l4 1 12 14 1 8-5 16-13-12 0-4-4-4 1-8-4-4zM88 903l4 3 7 14-7 0-8-8-2-4zM516 996l20 0 4 4 8-1 5 5 0 8 4 4 0 4-4 4-1 11-1-3-10-8-5-12 0 27 12-1 1 10-5 4-8 0-4 4-4-4-8 0-4-4-4 0-8-8-1-4-4-4 1-8-4-4-1-4 4-4 0-8 5-4 8 0zM180 1116l4 0 4 4 8 0 5 4-1 8 5 4-4 4 0 8-13 13-8 0-4 4-4 0-4-4-9-1-4-4 0-8-3-4 3-4 1-8 4-4 5 0-1-4 4-4 8 0zM187 1124l-1 12 2 3 5-3 2-4-3-11zM528 1211l24 0 4 4 8 0 5 5 0 4 4 4 0 8 4 4 0 8 3 4 0 4-4 4 0 8-8 8-8 0-4 4-4 0-4-4-8 0-4-4 0-3 4-2 4-1 8 4 6-2 0-4-6-2-8 2-4-4 0-4-10 0-6 7-4-3-1-4 2-8-5-4 0-11-8 1 0-2 4-4-1-8 5-5 8 0zM535 1224l-2 4 8 0-1-4-4-1z" fill="#32d23c"/><path d="M528 60l16 0 2 4 14 4 4-1 1-3 7-1 5 5 0 4 8 8 0 4 7 7 8 0 5 5 0 8 3 3 8 0 4 5 8 0 4 4 12-1 4 4 8 0 4 4 4 0 4 5 1 4 3 1 1 7 4 4 0 8 7 7 8 0 5 5 0 8 3 4-3 4 0 8-5 5-4 0-4 4-7-1 6-4 2-4-1-2-4-1-5 3-2 4 3 8-4 0-8 8-4 0-8 8 0 4-4 4 0 4-4 2-4 22 1 4 7 8 0 16 4 4 1 16 4 4 0 12 4 4-1 14-4 1-6 9-10 6-4 0-4-12 0 15 4-1 4 3 10 9-1 8-4 4 0 8-9 12 0 8-4 4 1 20-4 4-1 8-8 2-7 6-1 4 4 4-11 12 0 4-8 8 0 4-4 4-1 8-4 1-3-5 0-4 5-8-2-7-4 0 0 11-4 4-4 0 0 4-4 4-4-4 0-11-4-8-1-9 5-16 4-36-2-8-2-3-4 0-4 4-8 14-6 1-2-4-1-16-3-3-9-1-5-16 2-6 4-3 4 0 8 5 5 0 15-8 4-4 3-8-3-16-8-11-4-4-9-1-10-8-1-4 7-20 9-4 3-4-1-8-4-8 0-4 2-5 4-3-1-4-11 1-3 3 0 12-5 7-12 0-4 2-8-13-4 0-4 6-2 10 0 16 2 1 8-2 1 13 5 8-6 12-1 16-7 13-5-9-11-8-8-2-8 6-8 3-4-4-6-11 6-2 7-6 0-12 5-1 4-3-11-12 18-8 2-8-1-2-4-1-12 6-12-4-4 3-2 6 3 12-3 8 3 8-1 13-14 11-2 24-8 9-4 1-3-2 2-12-3-4 8-5 8-7-8-11-4 0-5 11 1 12-12 0-19 20 0 4 10 4 0 16 8 16-1 8 2 4 8-1 4 1 12 9 0 7-4 2-12-3-8 1-6 8 2 3 8 1 12-3 4 2 1 5-3 8 2 3 4 1 20-8 9-8 7-3 0 23-13 16-2 8 4 12 10 8-3 8 1 4 7 8 1 4-21 10-7 18-1 16-4 12 4 8 0 10-4 2-8-8-3 0-16 20 6 4 0 4-7 6 1 14-8 12 3 8-2 4-8 4-2 4 4 9-12 0-16-5-8 9-4 1-3-2 0-4 5-8-3-8 1-8 13-16-1-3-16 7-9 12 5 8-1 16-13 28-2 8-16 24 4 12 0 16-12 12 4 12 0 29 8 5 14 2 4 4-3 4-11 4-2 8-1 12 8 8 3 8-3 16 3 12-24 16-11 12 3 2 0 6-3 12 3 2 16-2 5 16-4 8 3 3 8 2 4-3 0-10 4-12 8 0 10-4 2 4-6 12 2 9 7-1 5-7 8-2 2-3-7-16 1-11-8-2 0-7 4-8 14-8 7-12 11-12 5-12 11-8-2-4-6-6-4-2-2-4 6-8-2-32 2-4 6-4 2-13 4 1 4 4 4 9 4 2 4-3-3-16 1-12 6-12-2-20 5-4 3-4 2-16 4-7 8 3 2-4-2-5-5-3 0-4 5-2 3-6 2-16 4-12 11-11 8-16 4-4 4-1 11 16 9 3 6-3 6-12-2-4-18-3-12 3-5-12-3-4-12 0-3-4 3-17 13-7 19 0 8-10 4-2 12-2 3 2-6 8 0 4 3 3 12-2 0-13 4-4 1-16 7-8 2-12-1-4-5-6-12-5-19 3-4 4 0 8 7 4 3 4 1 4-4 4-7 0-3-20 2-12 12-18 24 2-3 8 7 9 4 2 12-7 4 1 8 4 0 11-3 4 0 12-4 4 0 20-4 4-1 20-4 4 0 3-8 5-6 8 14-3 0 3-3 4 0 16-4 4 0 20-4 4 0 20-4 4 0 16-4 4 0 16-4 4-1 12-8 3-2 5-2 32-4 4 0 12-3 4-1 16-3 4-1 6-7 6 2 8-1 8-13 16 0 4-4 4-1 4-4 4 0 4-4 4 0 4-4 4 0 4-4 4 0 4-8 8 0 4-4 4-8-7-4 1-4 5-2 5 2 4 8-4 1 8-5 4-4 1-4-4-24 13-4 6 2 4 18 11 4-11 8-8 0 4-4 4 0 8-8 7-16 17-3 0-5-8-8-4 0 4-4 4-4 0 1 4 8 8-1 4-7 8 0 4-8 8 0 8-8 12-1 8-4 4 1 8-4 4-1 8-4 5-12-12-8 1 0 18-4 4-4 0 1 16-1 4-4 4-4 0 0 10 12 0 8-14 4-2 4 0 1 6-4 4 0 16-4 4-1 16-4-2-4 2-8 8-1 4 2 12-1 12 1 16-4 8-1 16-4 4-4 0 0 4-5 4-3 7 1 5 3 4 20-8 1 16 3 4-3 4 0 8-5 5-8 0-4 4-4-5-8 0-16-12-4 0-4 4-4-3-8 0-4-4-4 0-5-5 1-8-4-4 4-2 0-30-2-8 2-5 0-31-4 0-4-4 0-20-4 0-8-8 0-4-4-4 0-4-32-31-4 0-12-12-4 0-12-13-4 0-4-4-4 0 0-2 8 1 3-3-2-4-9 0-4-4 0-4-4 0-4-4 4-4-4-4-16 1 5-13-2-8 1-1 16 8 8-1 12-6 4 0 0 10-4 2-4 0-4 3-1 9 17 0 8-9 8-2 3 3 3 12-2 12 12 16 4-6 4-10 8-8 4-1 4 1 5 8 11 4 0-4-16-20 0-8-4-7-16-5-4-4 0-4 8-9 12 1 14-12-2-4-8-4 1-8 5-8 4-12 5-8-3-10-11-10-11-20-2-1-4 1-7 12 0 4 8 12 0 4-4 8 0 16-5 9-8 7-4 20-4 0 3-20-2-20-6 0 0 8-4 12-3 2-8-1-3-5 0-4 10-12-15-23-8-1 4-4 0-4-5-8 1-8 8-4 11 0 0-12 5-2 3 2 1 4 0 5-3 3 3 3 10-7 0-12 10-9 11-23 1-4-3-4-9-8 1-4 7-9 11-3 4-8 0-8-3-6-4 3-5-1-2-4 4-4-1-4-4-4-4 1-3 3 0 4 5 4-12 24-1 12-5 4-5 0 1-12-5-8 0-4 5-1 4-7 11-12-2-32-9-20-8 4-8 8-4 0 0-12 4-7 10-9 0-12 9-8 3-8-2-8-8-8 0-5 12-14 13-5-5-3-6-9-2-4 1-4 15-12 0-8 12 0-4 8 8 7 4-2 2-5 4-16 0-12 5-8-3-8 8-12-1-20 5-16 4-4-9-16 0-16-7-6-1-6 2-4 15-1 4-3 11-16 5-12 0-20-8-5-5-11 1-5 7-7 2-4-1-20-5-8 0-4 9-3 8-16 1-5-2-16 2-4 18-12 3-8-6-5-12 0-8-3 0-4 8-16-12-3 0-5 10-12 6-12 23-24 0-4 4-4 0-8 8-12 0-8 4-4 0-8 5-4-1-8 4-4 0-8 5-4 0-4 4-4 0-4 3-4 13-13 4 1 4-4 4 4 4-1 0-7 4-5 4 0 4-4 11 1 2 8 3 3 12-1 4-11 5-7-1-4 16 0 4-5 8 1 15-16 1-4 7-8 1-5 20-19 8 0zM544 80l0 4 8 0-1-4-3-2zM660 136l-4 4 0 6 4 0 4-6 0-5zM504 144l-12 6-5 6-7 13-4 2-8-2-20-1-41 36-7 9-12 12-4-1-9-8-3 0-8 8-1 8-3 3-4-3 0-16 4-4 4 0 0-15-8-1-4 4-1 32-14 24 3 11 0-3 4-3 3 3 1 12 12 6 18-10 2-8 0-12 4-4 24-5 24 5 4-2 8-6 8-1 28-27 12-9 8 0 20 6 8-2 10-7 4-4 4-8 5-20 7-12-1-8-7 0-10 6-16-13-12-1zM609 244l-8 4 1 4-10 17-4 19 12-3 0-5-4-4 0-4 8-8 0-4 8-12 0-5zM325 292l-1 8 2 4 10 1 7-5 0-4-7-8-4 0zM552 312l4 5 4-5 0-2-4-1zM411 316l-5 4-2 6-4 5-8-3-4 1-3 3 0 4 7 14 3-2 1-8 12-2 16-14 0-9-4-2zM591 356l-7 8 4 4 14-12-6-3zM571 380l-7 8 0 4 4 7 4-1 4-5 4-9-4-6zM631 392l-2 4 3 3 4-3-3-4zM589 404l-3 4 6 3 3-3 1-4-4-1zM350 432l-2 8-12 5-8 9-8 3-7 7-3 20 6 7 16 1 8-5 7-7 2-16 3-4 8 0 4 13 7-1 4-4 1-10 5-10-2-12-2-4-5-2-12 3zM389 464l-11 8 0 8 2 4 4 2 12 2 8-2 2-6-6-14-8-3zM560 580l0 9 8-4-1-5-7-4zM276 624l-1 4 5 7 4 0 3-3zM533 640l-1 4 2 4 10 1-4-5 0-4zM515 800l-1 8 2 4 4-1 6-7-2-4-4-1zM466 816l10 2 4-2-4-3-4 0zM445 824l-5 4 0 4 4 7 4-3 4 0 12 3 11-3-7-3-8-7-4 2-8-5zM480 872l0 4-4 4-4 0 0 12-8 8 0 6 4 1 4-1 10-10 1-20zM448 884l-12 8 0 2 1 6 7 7 0-3 4-4 4 0 0-12 4-4-4-2zM288 976l-4 1-6 7 3 8 3 2 8-4 6-6 1-4-3-4zM295 1028l-7 12-12-6-4 0-6 10-1 12 2 4 5 4 8-2 4-7 4 0 4 4-2 9 4 8 2 12 12 12 5 8-1 9-6 3-2 4 4 4 0 12 4 3 6-7 2-8 12-12 0-4 8-8 0-23-3-5 7-24-4-8-8 2-8-2-6 4-2 13-4 0 4-9-6-12-2-12-4-3zM376 1032l0 12-4 4-4 0 0 12-4 4-3 0 7 4 4-1 8-23-1-8zM280 1200l0 12 4 4 0 5 1-17-1-4-4-2zM476 174l4-1 4 9 1 6-1 2-4 2-4-3-2-5zM272 312l3 8-11 25-4-5 4-4 0-8 4-4-1-4 5-4zM280 332l4 0 4 4-5 4 4 4 0 8-3 3-4 0-4 5-1 12 1 4-4 1-8-8-16 3-4-4 4-4 0-4 8 2 4 0 6-14 10 1 0-13zM508 370l4 0 4 2-2 8-25 28-2 12 5 16-4 4-8 2-8 0-4-2 1-16-5 1-4 3-1 12-7 12-4 4-4-2 0-10 3-4-2-4-9-8-1-8-3-8-4-4-8 1-4-9 1-4 4-4 7-1 24 9 24-5 8-7 16-8zM272 388l6 8-1 8-5 8-8 5-16-1-4 4-1 4-3 4-4 0-8 8-1 8-7 8-7 0 1 8-3 4 1 12-2 4 2 8 5 4 0 4-9 23-7 9-1 4 1 16 3 8-4 8 7 12-3 2-12 4-4-1-3-5 3-4 11-8-3-3-3-9 3-12 3-4-2-12 3-12-4-3-4 7-10 8-2 4 3 4-7 8 0 4-4 4 0 4-4 4-4 0-1 16-8 8 0 4-4 4 0 8-11 12-4 0-9 8 6 4 2 4-11 28 4 3 8-7 12 6 3 6-3 5-4 0-12-7-12 3-4-4-4 3-4 0 0 16 8-5 4-1 0 2-8 8-4-4 0 20-4 4-4 0 0 3 4 1 7 8-7 8-4-4 0-4-8 13-4-2 0-3-4-4-1-8-3-4 0-4 4-4 0-4 4-1 4 2 9-1-1-14-4 2 0-4 3-4-1-4-6-7 0-9 4 0 2-4 1-16 9-10-3-22 15-17 4 0 4-3 3 0-9 12 1 12 5-7 12-1 1-12 3-4 5 0-1-7-12-1 0-4 3-4 0-4 9-8-1-8 4-4 0-4 5-4 0-8 4-3 4 2 0-15 3-4 1-4 4-4 8 2 8-6 0-4-4-2-8 0 0-2 7-8 0-4 8-8 0-8 5-4 0-8 3-4 0-4 8-8 0-4 4-4 0-4 8-8 1-4 3 0 2 4 3 13 8-1 0-12 4-4 4 0 0-8 4-4 4 4 0 4 8-7zM215 436l-2 8 7 0 0-11zM151 552l-4 8 2 12 7 0 0-24zM540 428l1 8 3 8 0 16-16 6-7 6-7 12-6 0-4-20 4-12 3-4 5-2 12-1 4-2 3-3zM360 437l4 0 4 3 2 4-2 7-4 1-4-3-2-5zM564 508l4 4 0 4 0 8-4 4-4-4 0-4 0-8zM580 513l4 2 0 6-4-1-2-4zM228 532l8 4 8 8 4 0 1 4-5-4-16 1-2-9zM208 588l5 0 0 4-9 9-2-1 1-4zM168 611l9 1-5 2-7 6-1 20-4 4-4 0-3-4 1-12 10-14zM444 627l2 5-2 13-4 3-4-4 0-4zM428 663l8 1 0 12-4 6-4-1-3-9 0-4zM176 694l4 5 0 9 4 8-8 5-7 11-11 8-8 12 0 4 5 12 0 4-2 4-5 2-5-2-5-12-6-7-5 3-7 11-13 1-3 2-4 8 0 16 8 6-4 5 0 19-8 7-4 0-4 4-3-3 0-4 3-3 5-1-1-11-24 17-4-2 0-4 4-4 0-5 20-11-4-4-1-8 1-4 4-4 4 0 0-3-12-13 3-4 1-13 8 0 0-3 4-4 4 1 12-17 11-4 9-7 28-2 3-11 9-11zM84 734l4 0 1 2-1 8-4 1zM400 744l4-1 6 9 6 3 12-3 4 4-4 4-16 1-4 3-2 4 0 8-2 4-12-12zM372 767l5 1-1 4-4 4-4 0-1-4zM168 799l4-1 4 1 3 5-10 12-1 4-3-12zM140 814l4 2 8 12-2 8 6 5 3 7-2 12 3 12 4 6 12-7 4 1 0 5-4 5-4 1-8-2-3 7 2 4 13 1 5 3 2 4-3 4-8 2-2 2-4 8-3 16-2 4-5 3-8-5-8-3-20 13-8 1-8 4-1-13-1-4 6-11 8-1-2 4 10 5 20-5 5-4-2-8-9-8 3-16 7-12 1-12-4-12 2-12-7-6-2-6-1-12zM84 864l8 9 4 0 3 3-1 4 8 8-2 2-4-4-4 0-3-2-1-5-4 0-3-3-1-4-4-4zM60 875l4-3 15 12 0 4-6 12-10-8 0-4-3-4zM88 907l4 1 2 4 1 4-2 4-9-8zM120 957l3 3 1 8 3 4-3 4-6 0 10 24 4 15 1-15 3-3 3 3 1 24-4 4 3 4 1 12-4 4-4-4 0-12-4 20 0-8-5-4 0-8-4-4 1-32-4-4 0-8-4-4-1-12 5 5 0-13zM516 996l20 0 4 4 8 0 4 3 1 9 4 4 0 4-4 4-1 5-4-1-4-4-4-12-8-7-12 3-4-4zM504 1000l2 0 0 8-4 12 2 3 4 1 0-8 4-4 20 0 4 4 0 20-4 4-12 0-4-4 0-4-3 0-2 4-7 4 0-4-5-4 1-8-4-4 0-4 3-4 1-8zM528 1044l20-2 0 6-4 4-8 0-4 4-6-8zM308 1063l8 13-2 4 3 4 0 4-1 2-5-2 0-8-7-4 0-11zM160 1082l6 10-6 0-4-4zM180 1116l4 0 1 12-5 12 8 3 6-3 5-4 0-4-2-8 3 0 0 8 4 4-4 4 0 8-12 12-8 1-4 4-4 0-4-4-9-1-4-4 1-8-4-4 4-4 0-6 11-2 4-4-3-8 8 0zM360 1203l0 11-4-2 0-4zM528 1212l24 0 4 3 8 0 5 5 0 4 4 4-1 8 4 4 0 8 4 4-4 11-4 3-20-14 0 8-4 4-4 0-4-4 0-4-16 0 0-8-4 0-4-4 0-15-4 0-1-9 5-5 8 1zM538 1216l-12 12 24 0 2-3-12-11zM356 1218l3 10-7 8-4-8 1-4zM352 1258l0 10-4 4-4 0z" fill="#50f050"/><path d="M532 60l9 0-4 16 3 8 8 0 4 4 0 4 4 0 3-16 10-12 3 0 4 4 1 4 7 8 0 4 8 7 8 0 5 5 0 8 3 3 8 1 0 9 8-3 8 3 12-2 4 4 8 0 4 4 4 1 0 4-10 8-2 4 0 11 8-1 12-13 0 3 5 4 0 8 7 7 8 1 5 4-1 8 4 4-4 4 1 8-5 5-6-1 2-8-4-3-8 3-5 4-3 10-4-1-4 1-7 10-1 12-12 9-4 23 0 16-12 13-4 7 1 4 7 6 8-7 4-12 4 1 1 4 7 4 1 12 4 4 0 12 4 4-1 11-4 1-12 13-4 1-2-2 0-8-6 0 0 20 8 1 4 3 3 4 1 8-3 4 0 8-5 4 0 4-8-6-4 6-4 0 0 9 5 7 4 20-4 4-1 5-5-1-3-3-4 2-5 13 1 12-7 8 0 4-8 8 0 4-5 4 0 7-3-3 0-4 3-8 0-4-2-4-6 0 0 12-4 4-4 0 0 4-4 4-4-4 0-8 4-5-5-7-2-8 7-21 2-19 2-4 4-4 16-4 3-8-3-6-16 5-3-3 1-4 6-7 12 1 4-2 1-4-5-8 0-4 4-7 12 0 8 2 4-6 0-5-4-4 0-9-3 9-5 3-4 0-8-7-4-1-28 31-6 10-6 20-4 7-4 1-1-4-2-16-9-2-6-6-1-8 3-6 4-1 12 6 20-9 6-10 0-8-4-12-11-16 5-12-1-4-3-3-8 1-8-4-2-2 2-6 8-2 5-4 1-12-4-8 1-4 5-2 5-6-1-11-24 3-4 4 2 8 0 8-6 5-12-5-1-4 4-16-3-7-4 1-6 10-6 4-2 4-3 24-3 7-4 0-2-3-2-12-4-2-12 4-4-1-4-5-1-8-3-2-12 1-1 5 4 8-3 9-1 11-3 8 6 12 0 4-3 8-7 4-4 2-7-6-2-4 2-12-5-3-20 6-8 8-12 0-2 13 3 8 1 8 2 3 12 0 0 5-20 20 0 5 11 7-1 4-6 2-12-2-4 4 0 4 4 5 12 7 8-5 8 0 2 5-1 28-14 16-7 3-1-3 4-12-3-30-1 6-7 3-24 0-2 1-1 8-5 4-12 2-4 8-10 6-5 12-2 16 1 4 6 8 2 9 4 1 16-6 5-8 11-10 8-4 12-2 8 13 8 0 12 3 7-4 2-4-6-20 5-4 8-1 6 1 2 11 8 5 16-6 12-1 3 7-14 20 10 24-5 8 9 12-11 6-5 6 0 8-5 12-1 16-5 12 3 8-3 0-4-4-4-16-8-10-4 2-2 12-10 12-8-7-8 2-4-3-4 3-6 13 1 12-7 8-4 2-5-2-1-4 0-8-2-4-8 2-5 6-1 12 2 4 10 4 1 4-4 8-2 12-5 4-1 4 7 12-3 16-11 28-10 16-6 7-8 4-2 5 2 2 4-3 5 5 1 12-2 8-4 3-8-5-4 1-6 5 8 8 8 12-2 24 1 8 14 8 0 4-3 8-1 20 10 8-2 28-7 8-20 15-8 4-12 12-1 5 1 8-8 10 1 10-5 4-4 1-8-3-3-6 4-16-7-20-10-7-8-11-4-3-4 3-9 10-1 4 0 4 8 12 0 4-4 8-1 20-9 8-2-4 0-12-2-4-4-2-12 1-4-4-9-15-3-11-6-5-1-4 3-3 4-1 8 5 12 1 14-10 2-4-3-8 1-4 10-11 13-25-12-12 2-8 13-6 12-14 0-16-12-2-4-1-3-5 0-4 5-8-2-8-4 0-8 11-4-4-1-11-6-12 0-4 6-12-1-8-2-3-8 8-2-5-1-12 7-8 3-8-2-8-8-8 1-4 14-13 20 4 8-7 14 4-1-4-7-8-5-12 7-12 5-16-1-16 9-8-4-8 6-12-2-8 2-20 5-7 8-5-10-12-3-16 3-4 0-4-8-8 14-4 18-32 2-12 7-8 0-4-3-4 4-4 0-7-4 1-1 2 1 8-8 4-8-3-3-5 1-4 7-8 2-8-3-28 8-9 7-15-2-20 2-4 19-12 2-4 0-4-4-5-17-3 2-8 9-12-6-5-9-3 1-4 13-16-1-8 20-20-1-4 4-4 1-8 7-12 0-8 5-4 0-8 2 0 1 4-2 24-15 24 4 16-7 4-3 11-8 3-2 2 6 4-2 8 10 3 8-2 5-5 0-4-6-8 5-8-4-4 0-4 1-8 3-3 2 3 2 14 6 2 6 6 4 0 16-11 4-17 4-6 4-2 12-3 8 2 8-1 12 5 4-1 8-8 4-1 2 1 2 7 4 0 2-15 30-29 8-4 28 8 20-14 9-29 8-12-1-8-8-2-12 6-16-12-8-1-4 0-20 9-12 16-4 3-28-1-8 8-12 7-5 7-19 16-8 11-12 5-4-4 6-8-1-4-4-8 1-12-6-6-5 2-6 8 7 0 4 4-4 4 0 8 4 4 0 4-13 12 0 8-3 3-3-3 0-16 3-3 5-1-1-23-12 6 0-3 4-4 0-8 8-5 1-7-1-4 3-4 13-12 5 0 3 5 12 1 3-6-3-12 4-1 4-4 8 1 3 12 8 4 1 6 12-2 12 8 4 1 4-1 2-4-2-5-5-3-11 0-4-4 4-4 0-6 20-18 8 0-4 8 4 4 6 0 10-6 2-6-5-12 3-4 0-4 7-8 0-4 13-12 4-1 12 5 3-4-2-8 3-4zM544 92l-4 6 0 7 4 2 9 1-1-8-4 0-4-4zM391 176l-3 8 4 1 6-5-1-4-1-2zM601 240l-6 4 1 8-12 33 0 7 4 1 12-3 1-10-5-4 0-4 8-8 0-4 4-4 0-4 4-4 0-4 4-4-8-2zM376 292l4 14 2-6-2-8zM616 304l0 8 12 2 3-2 1-4-4-7zM357 372l-2 4 5 3 6-3-2-5zM615 384l-3 8 4 5 0-9 6-4-2-1zM322 392l-6 8 0 4 4 4 4-3 3-9 0-4-3-2zM426 508l-5 4 3 2 8-2-3-4zM343 592l1 6 6-2 1-4-3-3-4-1zM300 604l0 7 8-3 0-4zM275 616l-4 8 9 18 8-3 8 8 4-2 1-9-8-8-3-8-10-5zM321 684l1 4 2 0 6-4-6-2zM292 692l-1 8 1 3 5 1 1-4-2-8zM316 692l-4 4-1 4 5 3 4-3 1-4-1-6zM216 740l-2 8 2 3 4-3 2-4-1-4zM274 800l-1 4 3 1 5-5-1-3-4 1zM476 295l8-2 12 4 12 7 5 8 1 8-6 4-2 4 3 12-5 7-24-13-8 5-8 1-3-4 15-18 8-6 0-5-11-7zM280 333l4-1 3 4-4 4 4 4 0 8-3 3-5 1-3 4 0 4-8 8-4-4 4-4 0-12 4-3 5-1 0-12zM428 358l4-1 1 3-1 4-4 3-1-3zM580 371l13 5-5 5-4 0-6-9zM500 383l4 1-1 4-19 16 1 28-3 4-6 3-4-3 2-12-2-2-4-2-8 2-12-6 0 4 4 8-1 4-3 1-8-9-8-17-10-3-2-4 4-6 4 0 16 8 4 4 4-1 8-4 16-3zM248 393l3 3 1 4 4 2 13-6 2 12-7 7-16 1-5 4 0 4-3 3-4 1-9 8 0 8-7 7-4 1-4-4 4-4 5 0-1-15-8 4-3 19 2 8-3 4 3 4 0 8-3 4 0 3 1 5 6 8-3 8-4 5-4-5-2-8-2-3-4 1-8-10-8-1 0-3 3-4 0-4 8-8 1-8 4-4 0-8 4-4 0-4 8-8-1-4 4-4 0-4 9-8 0-4 4 8-2 16 6 0 0-4 4-4 4 0 1-12 3-3 4-1 1-8zM416 431l8 5-4 4-4 0-6-4zM536 443l2 5-2 6-16 10-8 10-4 0-1-6 5-17 5-3 15-2zM356 463l2 5-2 3-4-3zM168 501l12 4 8 0 1 7-5 4 0 4-4 4 0 4 3 4-7 8 0 4-4 4 0 4-4 3-5 1 0 16-8 8 0 4-4 4 0 8-11 12-4-1-8 9-4 0-4 4-4 0 0 8 8-1 3 1 1 4-8 14 0 6-8 8-4 0-1 36-3 4-4 0 0 4 4 0 7 8-7 7-4-3 0-4-8 5-8-1 0-8-4-4 0-4 4-2 4 1 4 3 0-6 4-3 5-1-1-36 2-20 1-4 5-4 0-12 2-4-1-16 11-12 6 0-5 4-1 4 0 12 4 0 0-4 4-3 12 0 1-13 3-3 5-1-1-4 4-4 5 0 0-20 3-4 4 0 0-12 4-4 4 0 0-10-7-14zM564 508l4 4 0 4 0 8-4 3-4-3 0-4 0-8zM532 528l8-2 3 2-2 8-19 4 0-4zM152 536l4-3 4 3 1 4-13 8 0-4 4-4zM568 543l8-2 4 3 2 8-2 4 1 12-4 4 0 20-4 4-1 20-8 3-4 0-4 5-4 0 0 21 12-7 1 18-4 4 0 20-4 4 0 20-4 4-3 8 2 8-3 4-1 16-3 4-1 11-4-3-4 1-12 11 6 16 1 4-3 6-8 1-9-3-7 0 0 8 4 0 3 4 1 8 4 3 12 0-4 5 0 16-4 4 0 3-12 5 5 16-13 20 0 4-4 4 0 4-4 4 0 4-4 4 0 4-4-1-8 11-4 2 0 3-4 0-4-2-12 13-7 18-16 8-5 4 0 4-4 4-4 0 1 4 14 12 2 4-3 8-2 3-4-1-4-3-12-5-1 6-3 3-4 1 0 4-4 8 0 4 8 4-4 4 1 4-9 8 1 8-4 4-1 4-4 4 0 3-4 3-5-6 2-8 7-12-3-12-5 0 0 12-4 4-4 0-1 12-3 4-4 0 7 8 1 4-4 3-4 0 0 5-4 4-4 0-1 20-3 3-5 1 1 20-4 4-4 0 0 4 0 9 12 0 4-3 5-10 7-2 0 2-4 4 1 16-4 4-1 13-4-2-8 1-1 4-7 5 3 19 0 24-3 6-1 22-3 3-4 1-1 4-3 4-4 0 0 30 4 0 8-13 12-5 2 16-2 4 1 8-5 5-8-1-4 4-16-15-4-2-8 0-8 5-4-3-8 0-12-9 1-88-5-1-3-3-1-20-4 0-4-4 0-7-4-4-4-13-8 0-24-24-4 0-12-12-4 0-12-12-2 0 4-4-2-8-12-1-4-3 0-4-4 0-3-4 3-4 4 0 24 0 5 4 3-11 4-2 4 1 3 4 1 20 7 8 0 4 5 4 0 6 12-21 4-1 4 3-3 17-6 8 0 4 9 3 4 0 5-11 1-16 10 2 4-1 1-9-8-8-4-8-5-6-3-10-5-8-12-2-3-2-1-4 4-5 4-1 13 2 11-10 4-1 4 2 3 5-5 12 0 16 6 5 16 6 4 5 7 16 13 11 3 5 0 4-11 8-1 4 4 8 0 4 7 12-2 9 6-1 1-8 5 0 0-20 13-12 0-4 8-8 0-40 6-12-4-12-3-2-8 4-8-3-8 3-7-22 4-4 1-4-2-1-4 3-1 6-11 3-8 7-4 2-7-4 1-16 5-4 3-12 13-8 4-8 5-4 8 2 5 6 1 4-2 3-10 5 0 4 6 6 20-4 3-6 0-8 5-7 5 3 3 12 3 4 7 0 10-6 4 3 4 12 6-9 0-4-4-12-8-12 0-8 10-8-7-12 9-4 2-12 15-20 3-8 6-6 16-1 8 13 4 3 4-1 0-4 4-3 5-1 0-12 3-4 0-9-16 10-12 1-12-4-4-6 1-4 4-4 3-8-4-2-4 2-3-4 0-4 3-6 4 3 4-2 4-6 8-3 8 11 12-10 12 5 12 1 3 3 5-4-4-4 0-9-7-3-3-4 2-2 8 2 2-12-2-2-12-4-8 3-8-3-4 3-1 7-3 3-4 1-3-4-2-4 0-8 2-12 4-8 0-16 7-8 3-20 9 0 4-4 2-32 4-16 4-8 8-8 6-11 4-4 4 1 12 13 12 2 4-3 4-9 7-5 9-2 0-6-4-4 0-8-4-1-8 1-2 8-6 4-20-2-3-2-3-8 2-12-2-8 2-5 12 1 12-7 8 9 16-2 0-16 4-4 1-16 7-8 2 0 4-12-2-8zM560 576l0 16 8-2 3-6 0-4-3-3zM507 632l-1 4 2 3 4 1 1-4zM538 660l-2 8 2 4 2 1 4-5 0-4-4-6zM480 864l0 12-4 3-4 1 0 12-4 4-4 0 0 15 8-2 17-9-3-12 0-24zM271 1136l-3 13 8 2 3-3 0-8-3-5zM268 1160l0 4 4 4 3 0 0-4-7-7zM336 1164l0 6 4 3 4-1 1-4-3-4zM280 1196l-1 16 5 4 0 17 3-17 0-16-3-4-4-2zM298 1264l-3 4 1 4 4-4 7 0-4-4zM326 1300l-4 4 6 4 3-4-3-5zM196 571l4 1 0 4-10 0zM388 635l4-2 12 2 4 1 2 4-3 24-7 5-12 1-2 10 3 4-1 3-10-7-11-4 3-8 9-8 5-8zM224 666l8 0 4 6-2 12-6 3-4 0-9-11 1-4zM172 702l4 0 0 10-4 7-4 2-1-9zM136 723l16 0 7 5-8 12-4 12 4 20-3 2-3-2-2-8-7-10-4-2-8 6-11 2-9 5-2-1 1-4-2-8 2-4 9-12zM96 749l4 3 0 48 4 4-1 24-7 7-4 0-4 4-3-3 0-4 3-3 5-1-1-20-4 0-4-4 0-12 4-4 4 0 0-4 0-4-8-8 0-12 0-2 4 0 4 4 0-10zM192 770l4 0 2 2-2 4-8 5-1-5zM412 831l3 5-3 5-4-5 1-4zM208 840l4-3 1 3-1 5-4 2zM84 865l8 8 4 0 2 3 0 4 8 8-2 2-4-4-4 0-2-2-2-6-4 1-3-3 0-4-4-4zM152 871l4-2 1 3 0 24 3 2 8 0 6 2-5 4-8 12-1 6-4-2 2-4-2-11-9-1-3-11 3-9 3-4zM64 879l10 5 1 4-4 8-3 0-5-4 0-4-3-4zM108 927l15 5 3 4-6 5-16 5 0-13zM156 925l2 7-2 3-5-3zM468 928l4 0 2 4-2 2-4 0-2-2zM120 957l3 3 0 8 4 4-3 4-4 0-4-4 1-12zM120 994l1 6 3 1 4 6 3 13 1 0 1-20 3-3 3 3 0 24-4 4 4 4 1 12-4 3-3-3-1-12-2 0-2 8-4 1-1-9-4-4zM188 995l4-2 3 3-1 8-2 3-8-1-1-2zM520 996l12 0-1 4-7 5-4-1-1-4zM252 1000l4-2 4 3 2 3-1 4-5 2-7-2 0-4zM548 1003l4 1 1 8 3 4 0 4-4 7-6-3-1-4 1-12zM512 1013l20 0 3 3 0 20-3 4-12 0-4-4 0-4-4 0-4-4 0-12zM152 1054l20 2-8 14-4-4-9-2-2-4 1-4zM380 1074l0 10-3 4-1 8-3 0-3-4-1-8zM176 1124l4 0 2 4-2 3-4 1 0 10 12 4 4 0 8-5 0 7-12 12-8 1-4 4-4 0-4-4-8 0-4-5 0-12 2-4 10-8 8 0-2-4zM528 1212l8 0-8 8-8 1-8 5 0-6 4-4 8 0zM556 1216l8-1 5 5 0 4 4 4-2 16 1 2 4-1 2 7-2 5-4 3-12-6-6-6-1-12 4-12-5-8zM520 1228l28 0 4 4 0 28-4 3-4 0-3-3-1-5-12 1-4-4 0-4-4-1-3-3-1-12z" fill="#96f08c"/><path d="M536 60l0 5-4 6-2-7 2-4zM572 64l4 4 4 12 4 1 0 3 8 7 8 1 4 4 1 8 3 3 7 1-8 24 1 8 4 0 12-21 4 1 4 3 8 10 4 0 1-1-5-8-1-8 5 0 4 4 8 0 4 4 4 0-14 12-2 16 4 3 8-1 12-13 4 3 0 8 8 8 8 0 4 4 0 4 0 7-4 4-8-1-16 9-9 1-19 14-2 2 2 1 9 3 0 8-2 4-7 2-16-6 0 5 4 6 8 1 1 4-5 22-3 2 2 12-3 3-4 1 0 4-4 4-3 0-1 34 16 3 2-5 0-12 6-9 4-2 4 0 4 3 0 8 4 4 0 12 4 4 0 8-7 4-9 10-3-2 1-4-2-6-4 6-5 0 1 20 4 0 8 6 3 10-3 4 0 8-4 5-8-6 0 5-4 4-4 0 0 16 3 8 5 4 0 8-4 7-4-2-4-6-4 0 0 9-5 4-3 12 4 8-8 8 0 4-8 8 0 4-3 0-1-15-4 3-4 0-1 12-3 3-5 1 0 4-3 3-3-3 0-8 3-4 0-5-5-7 0-8 14-40 19-7 8 6 0-7-4-1-2-3-1-12 4-8-5-16 2-4 6-1 12 8 4-8 0-11-4-4 0-18-4 14-4 4-4 0-4-3-4-8-4 1-16 20-4-1 0-9-4-12-10-16 4-16-6-6-8 1-4-1-3-2 0-4 7-2 7-6 2-12-4-8 11-12 4 0 1 4 7 4 5-4 0-4-5-4-8 4-8-17-8 5-12 0-10 4-2 4 4 9 0 6-8 2-4-1-1-4 4-16-4-12-3-1-9 9-12 16-3 26-4-4-1-6-5-4-6 0-8 3-4-3-2-12-6-8 1-8-1-4 0-4 4-6 19-18 13-8 28 9 12-6 10-11 8-28 9-12-1-8-10-3-12 5-16-12-12-1-20 9-16 18-12 1-4-1 6-8-3-8-19 0-4-4 4-4 10 0-2-4 0-4 12-12 3 8 5 3 12-2 4-5 4 0 1-8-4-12 0-8 6-8 1-4 4-4 12-6 4 0 12 7 4-1 4 4 12 1 3 3 1 5 6-1 2-11zM544 92l-4 4-3 8 2 4 17 5 0-5-4-4 0-4-4-1-3-3zM595 240l-7 8 3 8-10 32 0 4 3 4 20-4-4-4 1-8-4-4 0-4 8-8 0-4 4-4 0-4 4-4 0-4 3-4 0-2-8-2zM624 248l0 13 3-1 1-4-4-11zM616 380l-7 8-1 4 8 7 0-11 4-4 4 0-4-4 0-2zM408 132l5 0 4 20-7 8 0 16 4 0 6-4 3 4 1 8-6 8-17 12-4 8-5 2-3-2-5-20 14-8 4-4-1-4-3-4-6 4-4-2-4 3-4-4-8 0-1-5-4-4 1-4 8-8 3 0 5 6 8 1 3 5 5-8 5 4 4-16-8-8 3 0zM436 155l5 1 4 4 1 4-6 8-4 3-5-3-2-8 1-4zM692 181l4 0 0 7-4 4-4 0zM368 188l4 0 3 4-4 4 0 8 4 4 1 4-13 12 0 8-3 3-3-3 0-16 3-3 5-1-1-20zM344 216l4 0-1 12-7 16-8 10 0-6 4-4 0-8 4-4 0-4 4-4zM396 252l6 0 6 4 4-4 8-2 12 6 12-7 7 7-6 8 0 4 3 8-3 20-9 12-12-2-12 3-8 0-4 2-4 8-4 2-4-1-2-4-1-20-6-12 6-20 9-8zM324 263l12 5-10 8-2 5-4 0-4-9 0-4zM344 262l2 2 1 12-3 4-4-4 0-4 1-8zM344 283l4-3 4 1 8 8 8 0 3 3 8 32 0 12 3 8 0 4-3 4 2 4 8 4 2 4-14 16-3 12-6 4-2 4 2 12 6 4 1 4-3 4-16 1-12-1-4 14-12 0-8 11-8 4-8-11-8 1-3-3 1-16-3-20 13-20 2-8-4-16 3-4 19-10 4 1 6-7 4-8-6-1-4 3-20-9 0-2 8-6 2-9-6 0-4-4-3-8 5-4 2-4 1 4-5 8 8 0 0-4 4-4 3 4-3 10 16 1 12-5 4 3 8 0 3-1 0-4-3-2-12-1-6-9zM324 352l-3 16 2 8 5 4 8 0-4-24-8-6zM354 372l-2 4 8 5 6-1 3-4 0-4-5-3-4 0zM323 388l-8 8-1 4 2 11 4 0 4-2 6-13-2-9-4-1zM492 300l11 4 5 4 0 7-7 9 4 16-1 3-8-2-16-11-8 3-3-1 9-12 9-8 0-8zM436 308l8 3 2 5-1 8-5 5-6-1-3-4 0-8zM280 333l4 0 3 3-4 4 3 4 0 8-7 4-4 4 0 4-7 7-3-3 3-4 1-12 3-3 5-1 0-12zM532 376l4 0 12 5 16-6 2 1-1 4-10 16-3 14-3-6 1-8-5-4-9-1-4-3-1-8zM584 392l5 0 1 4-6 4-3-4zM248 393l3 3 0 4 5 4 8-1 4 5-4 5-12 0-4 2-5 5 0 4-3 3-4 0-9 9 0 8-7 7-4 0-4-3 4-3 5-1-1-12 4-4 4 0 0-4 4-3 5-1 0-12 3-3 5-1 0-8zM436 402l6 2 3 4-5 8-7-12zM460 404l16-4 4 3 1 29-4 4-2 0-1-4 2-6 2-2-3-4-7-2-8 0-7-6 0-4zM220 406l2 6-3 12-3 4-7 4-2 12-3 7-4 0-2-7 2-8 8-8 0-4 4-4 0-4zM388 418l4-2 4 2 0 8-12 8-1-6zM288 446l4-1 4 7-1 4-3 2-4 0-5-6 2-4zM532 448l-1 4-15 9-1-1-1-4 2-4zM196 455l8-2 4 7-2 4 2 0 3 4 0 8-3 4-4 10-8-2-8-7-8 0 4-5 0-4 8-8 0-8zM408 463l8-1 3 2 2 8 7 6 4 1 16-7 4 1 4 3 0 5-16 19 0 4 8-2 4 6 2 12-5 8 1 12-6 6 1 14-5 8-2 20-2 5-4-1-8-14-4-3-4 0-4 14-4 3-4 0-4-4-4 0-4 3-12 1-4 10-4 5-4 3 0-2-8-4-3 8-9 2-12 10 2 12 6 10 4 2 1 16-10 8-1 4 9 8 1 5-7 27-7 12 0 4-10 16-12 6-6 10 2 6 4 3 4-3 2 2 0 12-2 2-8-3-20 9-12 2-4 4-2 6 2 5 4 0 12-12 8 0 6 3 10 12 1 4-2 20 0 12 9 3 4 5-3 28 1 4 6 1 2 3-1 20-5 12-11 8-3 0-6-7-4 0-2 3 4 8 0 4-19 16-3 8 1 8-7 8 0 12-6 3-4-1-5-6 4-12-3-16 0-8-16-11-4-5-4-8 4-12 6-8 1-12 11-12 1-4-2-4 4-8-5-3-1 7-11 9-12-3-7-6-1-4 4-5 8-2 14-13 3-16-1-4-4-4-12-1-4-3 5-12-1-8-3-4-5-1-8 11-2-2-1-8-6-12 0-4 6-8 0-16 9-12 0-4-6-5-4 2-3 3-5 15-4-1-1-6 7-8 1-8 0-8-8-8 1-4 16-10 8 2 8 5 4 0 4-9 4 0 12 4 3-4-1-4-8-8-5-12 7-21 3-3 1-4-3-12 3-5 8-4 7 9 0 4-3 4-6 4-1 4 3 2 4 1 12-12 4-1 8 9 5-3 3-12-2-4-6-4-1-4 16-16 2-4-1-2-8-3-5 1-3 4 0 8-4 6-16-5-4 1-4 6-4-4 5-8-2-12 2-16 2-8 11-4 2-4-2-8 2-4 8 2 2-2-10 0-4-4-4 1-1-1 1-4 5-4-10-16 2-4 7-6 12-24 5-6 3-12 4-2 1 2-2 12 9 16 1 16-5 10-4 2-4 0-4 4 5 12-2 8 5 3 9-7 1-8 7-8 0-16 2-4 9-5 12-15 16-11 10-1 10 11 12 1 4 4-8 7-2 13-3 4-10 4 3 6 12-1 10-5 3-8-4-8-1-12 16-8 1-4-2-8-4-8zM414 496l6 8-7 8 2 4 5 2 12-1 7-5 0-4-3-3-12-4-8-9zM371 552l-3 8 0 12-4 12 1 4 3 1 10-13 0-8 4-12-1-4-5-2zM404 564l-3 8 3 4 4-1 5-3-1-4-4-5zM342 588l-1 16 3 2 12-8 1-6-9-6-4-1zM260 672l-1 4 2 4 3 3 4 0 3-7-3-7-4 0zM319 680l-11 18-4 2-4-4-2-8-6 1-3 7 0 8 3 3 12 2 16-2 4 6 4 0 2-5-7-4 1-8 2-4 8-4 1-8-3-3zM255 728l-3 4 6 12-1 4-5 3-8-1-2 2 2 4 12 4 5-4 1-12 6-12-3-4-5-2zM252 768l-4 4-1 4 5 4 6-4 2-4-4-5zM231 776l1 3 4 1 3-4-3-3zM208 492l5 4-1 4-4 4-2-8zM168 506l4-1 9 7-5 4 4 0 4 4-4 4 0 4 3 4-8 8 0 4-4 4 0 4-3 3-5 1 0 16-8 8 0 4-4 4 0 8-11 11-4 0-8 8-4 0-4 4-4 1 0 20 4 4-1 8-7 7-5 1 0 36-3 3-5 1 1 4 4 1 7 7-7 7-3-3-1-5-8 2-8-4 0-5 4 0 4 3 1-11 3-3 5-1-1-36 4-4 4 0 1-36 3-4 4 0-4-10 0-6 4-3 1 11 7 1 1-5 3-3 12 0 1-13 3-3 5-1 0-4 3-3 5-1 0-20 3-3 5-1-1-12 4-3 4-1 0-15-4-5zM564 509l3 3 0 4 0 8-3 3-3-3 0-4 0-8zM580 556l0 12-4 4 0 20-4 4 0 18-12 1 0 5-4 4-4 0 0 24 12-8 0 16-4 4 0 20-4 4 0 20-9 12-1 4 5 4-3 4 0 16-4 4 0 7-4-1-4 1-16 11-8 2 0 3 4-2 4 0 8 15 1 4-3 4-6 1-8-3-8 2 0 10 5 2 1 8 2 4 12 4 0 13-5 7-3 2-12 2-5 4 0 4 9 3 3 5-1 8-6 8-4 12-4 5-4-2-3-7 0-20 2-8-3 0 0 4-4 4-4 0-1 12-3 3-5 1 0 12-3 3-4 1 0 12-4 4-4 0 0 3 7 1-1 4-15 24-3 8-4 5-8 3-8 5-1 7-3 3-4 1 0 6 12 11 1 3-1 6-20-6-1 8-3 3-4 0 0 5-6 4 0 12 6 2 0 6-8 7-4-1-4-10-9 0 0 12-3 3-5 1 0 12-3 3-4 1 0 4 4 4-4 4 0 8-4 3-4 1-1 20-3 3-5 1 0 20-3 3-5 1 1 16 12-1 4-1 8-12 0 18-4 4 0 10-20-11 2 57-3 36-3 3-5 1 0 4-3 3-4 1 0 28-4 4-4 0-4-4 0-3-4-1-4-4 0-4-8 0 2 8-3 8-11 0-12-8 0-4 5-4-5-4 1-76-5-1-3-3 0-20-5-1-3-3-1-13-8-11 0-4-7 0-1 4-19-20 3-3 0-5-4 0-4-4 0-4-8 0 5 8 1 4-2 0-12-12-4 0-8-8-2-4 4-4-5-4-1-4-12-1-3-3 0-4-5-1-3-3 3-3 4-1 24 1 4 3 4 0 0-8 4-3 4 1 2 10-2 8 11 12 0 4 4 4 1 8 7 0-2-4 3-8 4-6 4 2 0 4-8 13 0 7 12 4 4 4 6 0 0-8 6-14 8-4 5-10-1-5-9-7-3-12-5-4-6-16-1-4 3-4 8-4 1-5 4-1 3 2-1 4-4 4 1 8-1 16 24 12 10 16 16 14 1 6-8 4-3 4-2 16 9 8 2 16 5 1 8-5 4 4 0-8-4-4 1-20 12-12 0-4 8-8 0-24 3-4 0-16 4-4 4 2 4-2 0-4 0-4-4 3-4-2-2-5 6-20-2-4-2 0-4 4-4 9-8 5-12-3-4-3-2-12 10-13 13-3 3-4 2-12 2-3 4 3 4 14 4 1 16-4 4 9 4 4 11-12-5-16-10-12-1-4 1-3 4-2 8 2 4-5 0-6-5-6 5-12 0-8 12-16 5-12 7-5 8 1 4 2 6 10 6 4 4-4 1-4 3-3 5-1 0-12 4-4-1-8 8-8 0-4 4-4-4-1-4 1-6 4-2 6-4 0-4-4-4 2 3 8-1 4-6 2-8 1-8-2-5-5 8-16-1-12 6-6 4 0 4 8 4 3 4-3 4-6 4-2 4 0 12 6 3 4-1 4 2 0 12-12-4-4 1-24 7-8 0-4 4-5-8-1-8 5-16 3-8-3-4 1-4 11-4 2-3-9 7-40 7-4 1-18 1-2 10-4 3-4 3-16-2-16 6-20 19-24 4 1 8 10 4 2 16 0 4-7 4-2 1 8 3 3 4 1 4-4 2-4 0-12-1-8-4-4-1-12-12 0-8 6-6-10 2-9-4 5-4 0-8-3-2-5 6-2 8 3 4-5 4-1 8 6 12-1 4-4 1-16 4-4 0-16 7-7 4-1 0-8 4-4 4 6zM559 576l1 19 9-3 5-8-2-8-4-2zM272 1132l-4 5-4 15 4 4-1 8 9 8 0 3 2-15 7-8-3-16-6-4zM276 1180l-5 4 0 4 9 8-1 16 4 4 1 22 4-2 1-4-1-8 1-28-9-5-4-14zM294 1264l-2 4 0 4 4 0 4-4 4 0 4 4 0-6-4-4-4-2zM364 615l4-3 5 8-4 8-5 3-4-3 0-4zM392 635l7 1 6 4 0 12-2 8-3 4-12 1-4 3 0 10-13-6 2-4 9-4 6-12 1-12zM220 671l8-3 4 3 0 9-3 4-5-1-6-7zM128 732l12 3 4 3 0 19-4-1-4-7-4-1-4 4-12 1-8 3-4-2 0-4 8-11 4-3zM96 749l4 3 0 48 4 4-1 24-7 7-4 0-4 4-3-3 0-4 3-3 5-1-1-20-4-1-3-3 0-12 3-3 5-1-1-13-2-3 2-1 1-19zM84 865l8 8 4 0 2 3 0 4 8 8-2 2-4-4-4 0-2-2-2-6-4 1-3-3 0-4-4-4zM64 883l4 0 4 5-4 8-4-4zM228 899l4-3 4 16-5 8 1 8-17 16 0 8 9 12 0 4-3 4-1 4-16 1-12 3-5-4-3-6-4-10 0-4 8-8 8 1 8-7 9-2 2-8-3-8zM472 912l5 0-1 5-4 2-4-3zM108 931l8 1 4 4-12 5-4 0zM120 957l3 3 0 8 4 4-3 3-4 0-3-3 0-12zM292 994l4-1 4 3 4 9-8 2-8 0-2-7zM136 997l3 3 0 24-4 4 4 4 0 12-3 3-3-3 0-12-6 0-1 8-2 0 0-8-4-4 0-14 4-7 1 9 2 4 5 0 1-20zM552 1004l0 8 4 4 0 4-4 5-4-5 2-16zM512 1013l20 0 3 3 0 20-3 3-12 0-3-3-1-5-4 1-4-4 1-12zM284 1018l7 2-7 8-4-4 1-4zM228 1038l4-1 4 1 4 2-1 4-7 1-4-1-2-4zM392 1045l0 7-4 4 0 4-8 5-2-5 1-4zM376 1083l4-2 0 3-4 4 0 6-4-6zM168 1133l4-1 4 4-3 8 3 2 9 2 4 4-3 8-6 0-4 4-4 0-4-4-8 0-3-4 2-4-3-4 0-4 8-5zM560 1216l4 0 8 12 0 5-6 3-2 8-1-4-3-4 0-12-3-8zM520 1229l28 0 4 3-1 28-3 3-4 0-3-3-1-5-12 0-4-3 1-4-5-1-3-3 0-12zM340 1279l4-1 0 26-4 4-8 0 2-8-5-8 1-4 2-4z" fill="#f5e678"/><path d="M572 67l4 6 3 15 5-3 8 7 8 0 4 4 0 8 4 4 5 0-5 17-6 7 2 0 4 4 0 4 10 0 10-4 8 8 8-3 4 11 0 7 12 0 4-3 8-11 4-1 0 8 8 8 5 0 3 3 4 1 0 4-21 12-27 11-12 9-4 0 0 4 4 4 10 4-2 5-10-1-10-5 1 21 7 8 0 3-4 2-4-6 0 37-4 4-4 0 0 36 12 0 4 4 0 4 4 0 4 4 0 4-4 3-5 1 0 20 5 1 8 9 0 18-4 1-8-4-1 7-3 3-5 1 1 12-4 4 5 12 7 3 0 5-4 4-8-8-4-1-1 13-3 4-4 0-2 12 0 4 4 4-6 8 0 4-8 8 0 4-1-16 3-4-1-4-5-4 0 12-4 3-5 1 0 12-3 3-5 1 0 4-3 3-3-3 0-8 4-4-1-8-3-8 9-28 6-8 0-4 6-4 10-2 8 5 0-14-4-3 0-8 4-1 8 3 1-12 3-3 4-1-4-4 4-7 1-17-4-4-1-20-3 0-5 16-4 1-3-5-3-12-2-2-4 5-3 9-13 15-6-19-7-12 5-16 1-8 19-7 5-1 7 2 0-6-3-4 0-8-4-4 0-4 8-8 0-4 4-4 0-4 8-12-1-4-4-2-16 0-8 7-5 7-11 3-4-7 0-9-4-2-8 7-8-1-12 3-8-5 4-13-2-4 0-4 6-2 9-14 4-8 6-24 10-12 0-8-5-3-8-1-12 5-16-12-12-2-8 5-12 4-1 4-7 8-6 0-4 4-6 1 2-5 0-8-26-1-3-3 3-3 22-1-10-4 0-4 4-4 12 6 4 0 8-3 0-3 4-3 4-1 0-4 4-4-4-24 4-4 0-4 8-2 8-6 4 0 6 4 10 11 0-3 4-4 12 1 3 3 1 5 4 0 4 3 0 4 3 0-3-12zM543 92l-7 12 0 4 4 3 8 1 4 3 4 1 1-8-4-4 0-4-5-1-3-3 0-4zM583 148l5 8 12 10 1-6-1-4-4-4-4 0-4-4zM603 208l-2 12 12 4-1-9-5-3-3-5zM644 116l4 4 8 0 5 4-9 5-4-1-5-4-1-8zM372 156l4-3 2 7-2 3-4 1-4-2zM400 157l4 3 0 5 4 2 0 2-4 4-8-1-4 3-4-3 0-4 4-4 4 0 0-4zM436 158l4 1 3 5-3 5-4 3-4-8zM416 179l4 3 0 6-9 8-11 4-3 4-1 5-4 1-4-14 2-4 14-9zM368 189l4 0 3 3-4 4 0 8 4 4 0 4-12 12-1 8-2 3-3-3 0-16 3-3 5-1 0-20zM492 207l4-1 11 2 19 12-2 1-8 15-17 20-3 12-4 4-8-2-12 1-3-11-4-8-3-16 2-4 8-4 12-16zM344 216l1 12-5 7 0-7 4-4zM416 254l4-2 4 2 4 8 4 1 8-6 3 3-1 8 4 12-4 16-10 8-8 0-12 2-12-2-12-4-5-16 5-20 12-5 8 8 4-3 2-8zM344 262l2 2 1 12-3 3-3-3 0-4 0-8zM568 262l16 6 0 4-4 14-4 6-8 4-8-4 4-11 4-1-1-4-5-4 0-4zM348 284l4 2 2 6-6 0-3-4zM644 292l4 0 8 12 0 12 4 4 0 5-12 9-4-5-7-21-1-4zM320 293l3 3 0 4-7 7-4 0-3-3 3-3 4 0 1-5zM368 301l4 4 6 23-1 16-6 8 5 8 8 4 0 4-12 12 0 3-1-11-3-5-8 0-9 5-2 4 1 4 10 4 8-2 4 2-8 16-1 20-7 2-6-2-2-4-4-2-3-6 9-8-2-3-4 2-10 13 6 21-4 4-8-3-8 11-4 3-4-1-8-8-8-1 0-9 4-3 8 2 4-1 2-3 0-8 10-4 4-4 4-12 0-9 10-7-4-8-3-24 9-8 8-12-4-3-20 5-8-2-4-4 4-12 4-5 8 2 12-4 8 5 4-1 8-2 3-3zM492 303l5 1 1 4-10 20-4-8 7-8zM280 333l4 0 3 3-4 4 3 4 0 8-7 4-4 4 0 4-7 7-3-3 4-4 0-12 3-3 5-1 0-12zM312 352l8-2 1 2 0 8-3 8 2 16-1 4-7 8-2 16-10 9-4-1-2-16 12-16 1-16-2-12zM604 371l8 1 2 4-1 4-5 4-5-8zM536 380l8 3 12-1 3 2-7 5-16 0-2-5zM248 393l3 3 0 4 5 4 0 3 8 1-8 2-8 5-5 5 0 4-3 3-4 0-9 9 0 8-7 7-4 0-3-3 3-3 5-1 0-12 3-3 4 0 1-5 3-3 5-1 0-12 3-3 5-1 0-8zM216 412l4-2 1 2-5 11-8 3 0-2 4-4 0-4zM188 468l4 0-2 4-6 5 0-5zM208 465l3 3 0 8-7 8-4 1-3-1-2-8 5-4 1 4 3 0 0-8zM448 476l5 4-11 12-10 9-4-2-10-11-2-9 4-2 8 6zM364 484l5 0 11 10 6 2-2 16-2 4-2 2-8 0-2 2 0 4 4 8 2 2 12-1 8-3 7 14 5 4 3-4-3-20 2-4 18 0 8 2 7 6 1 4-4 4-8-6-1 6 1 5 8 12 0 7-6 4-1 4 2 16-3 2-7-14-9-4-4-7-4-2-7 5-4 8 3 6 10 2-2 8-8-6-20 3-1-1 4-4 2-4-1-12 3-8-7-8-4-2-4 0-6 14 0 12-6 14-4 1-12-5-4 6-2 24-7 16 2 8 7 8-1 4-7 8-4 16-4 4-4 1-12-4-8 3-11 12-4 16-7 8-1 4 3 2 12-7 12 1 12 4 8 9 8 2 0 5-12 15-8-4-2 9-6 12 3 12 0 4-7 4-16 2-8 4-6 6-3 8 0 4 5 4 8-2 8-7 8-2 6 3 9 12-3 32 4 4 6 0 4 4-1 20-3 12 2 3 5 1 3 4 0 12-4 10-4 3-8 2-5-3 8-8 1-4-4-4-10 0-2 4 3 8-7 12 1 8-1 4-18 20-1 12-5 8 0 9-4 3-6-4 0-4 4-8-3-12 3-12-2-4-12-4-12-12 3-16 5-8 2-12 13-12 4-16-7-7-4 0-8 9-8 4-8-1-5-5 5-3 8-1 4-8 9-8 3-20-8-7-9-1-2-4 4-12 3-2 4 1 2-3 1-8-3-4 4-1 11-11 1-4-5-8 7-8 1-12 3-8 0-8-8-8-1-12 6-8 0-8 7-16-6-13-8 4-4-1 0-2 4-8 8 3 4 0 12-12 4-1 8 12 4-3 8-23-5-4-2-4 15-20-1-4-15-8-4-7-4 3 1 8-1 17-10-1-6-3-4-5-3-8 2-20 13-7 4-6 4-1 8 4 4 0 4-10 7-8 2-8 7-8 0-16 11-8 9-13 12-8zM338 544l-6 12 0 3 4 2 11-13-7-5zM422 548l-3 4 5 3 4 1 6-4-2-4-4-2zM262 824l0 4 10 3 8 7 7-6 1-4-4-3-8 0-8-4zM275 896l-1 8 2 4 4 0 4-3 1-1-5-7-4-2zM296 491l4-1 4 2 4 5 1 19-1 5-4 4-12-2-3 1 2 8 5 8 1 4-5 1-2-1-2-8-8-7-1-5 13-30zM404 495l4-1 6 10-6 6-4 1-4-3-1-4 1-4zM564 509l3 3 0 4 0 8-3 3-3-3 0-4 0-8zM176 516l4 0 3 4-4 4 0 4 4 4-8 8 0 4-4 4 0 4-3 3-5 1 0 16-8 8 0 4-4 4 0 8-11 11-4 0-8 8-4 0-4 4-5 1 1 20 4 4-1 8-7 7-5 1 0 36-3 3-5 1 0 4 5 1 7 7-7 7-3-3-1-5-4 1-4-4 1-12 3-3 5-1 0-36 3-4 4 0 1-36 3-4 4 0 0-4 4-3 4 0 1-5 3-3 13-1 0-12 3-3 5-1 0-4 3-3 5-1 0-20 3-3 5-1 0-12 3-3 5-1 0-12zM564 556l4 4 0 7 12-4 0 5-4 4 0 2-4-4-4 0 0 2-4 3-5 1 1 29 4 3-4 2-1 10-3 3-5 1 0 20 1 7 7-7 5-1 0 13-4 4 0 20-4 4 0 19-14 17 1 4 5 3-4 23-4 0-16 10-4 1 0 3-4 4-5 0 1 7 7 1 6 8 1 4-2 2-8-1-4-3-4 5-5 1 1 13 3 3 2 8 3 3 6 1 4 4-2 8-4 7-4 1-12-2-4-3 0 17-4 4-4 0 0 4-4 3-5 1 0 12-3 3-5 1 0 12-3 3-5 1 0 12-3 4-5 0 0 12-13 28-2 3-8 2-8 6-1 9-3 3-5 1 0 8 6 4 1 4-1 4-9 1-4-4-1 11-3 3-5 1 0 4-3 3-4 1-4 15-4-2-9 3 0 12-3 3-5 1 0 12-3 3-5 1 0 20-3 3-5 1 0 20-3 3-5 1 0 20-3 3-5 1 1 80-1 36-3 3-5 1 0 4-3 3-5 1 0 28-3 4-4-1-4-3 0-4-4 0-3-4-1-5-15 1 6 8-3 8-8 0-4-4-2 0-3-4 1-3 6-5-6 0-3-4 0-76-5-1-3-3 0-20-5-1-3-3-1-20-4 0-3-4-1-5-4 0-4-3 0-4-12 0-4-4 2-4-1-8-5-1-3-3-1-5-4 1-4-4 0-4-5 0-3 4-8 0-3-4 3-8-4 0-3-4 0-4-13-1-3-3 0-4-5-1-3-3 3-3 28 0 8 7 4 0 15 16 0 4 4 4 1 9 4-1 4 4 0 4 12 5 4 4 8 1 3-10 4-8 11-12 1-12-11-11 0-7 4-1 6 3 10 8 13 16 11 8 3 4-9 8-2 4-12 10-12-1-7 7-1 7-1 9 4 4 0 8 9 8 0 8-5 4 0 4 8 8 0 16 4 4 1 25 8-2 2-3-4-12 1-28-11-10-2-10 4-16 8-8-3-8 0-8 1-3 5 7 11 6-1 10 1 4 4 3 8-2 8 2 1-11-4-4 0-20 12-12 0-4 8-8 0-24 7-8 4 0-6-4-1-4 2-4 1-1 4 3 5-6-1-8 13-12-1-7-11 11-5 8-4-4 5-8 2-16-3-5-4-1-11 18-5 3-12-3-4-5 0-7 12-12 8-1 4-3 4-7 4 2 4 8 20-2 4 9 4-2 20-20 0-6-8 2-5-8-8-8 0-4 1-1 8 3 4-3 6-11-4-12 2-12 16-23 8 4 8-5 8 5 4-1 5-4 0-4 3-3 4 0 1-13 4-4 0-8 7-8 1-4 20-20-4-4 0-24 7-8 0-4 8-8 0-4 8-8 0-4-4 0-4 4-4 11-8-2-12 7-12 3-8-3-4 1-8 12 0-21 8-21 9-3 1-4-4-8 1-8 9-5 2-3 2-12 4-8-3-12 5-20 14-21 4-4 4 1 8 10 32 4 4 0 7-6 3-16-5-4 0-4-4-4-1-28 5-4 0-16 4-4 0-16 7-7 4-1 1-8zM494 748l-1 4 3 3 8 1 0-11-4 0zM471 780l1 4 8 1 4 0 3-5-3-2zM295 1252l4 4-14 12 3 0 4 4 4 1 4-4 4 0 4 4 0-10-8-7 0-4-4-4zM372 592l2 4 0 4-2 3-4 1-5-4 1-4zM364 619l4-1 1 2-1 6-4 2-1-4zM536 620l3 0 0 4-3 3-4-2-8 4-2-1 2-6 8 1zM264 631l4-1 5 6-1 5-8 5-4-3-1-7zM396 639l5 5 0 8-5 8-4 0 0-18zM224 672l4 1 0 7-4-1-2-3zM340 683l4 0 2 5-2 11-5 17-3 5-4 0-1-5 4-8-8-8 1-4 8-2zM248 703l6 5-4 4 3 12-4 8 4 12-5 2-8 0-3 2 0 4 13 12-6 7-8-2-4 1-4 6 4 8 4 0 8-6 5 6-1 4-8 6-12-2-6 4-2 4-2-8-5-8 1-4 7-8-2-16 9-12-4-9-10-3-3-12-5-4 2-3 12-8 8 2 12 7 5-2 1-8zM96 749l3 3 0 48 4 4 0 24-7 7-4 0-4 4-3-3 0-4 8-4 0-20-5-1-3-3 0-12 3-3 5-1 0-36zM452 844l4 0 8 8-2 4-10 5-4 0-3-5 3-8zM428 845l4 2 2 5 7 8-4 8 0 8-5 5-9-1-5-4 8-16 0-12zM496 858l12 1 1 5-1 4-11 8-1 9-4-9 1-4-1-8 1-4zM84 865l8 8 4 1 2 2 0 4 4 4-2 2-4 0-4-8-4 0-3-2 0-4-4-4zM228 903l4 3 1 6-4 8-1 8-8 6-5-10zM204 948l4-2 1 2-1 6-12 5 0 3 4 2-12 8-5-8 0-8 5-4 12-1zM120 957l3 3 0 8 4 4-3 3-4 0-3-3 0-12zM292 996l4 8-5 0-2-4zM136 998l2 2 1 24-4 4 4 4 0 12-3 3-3-3 0-12-9 0 0 2-4-6 0-8 4 2 9-2 0-20zM512 1013l20 0 3 3 0 20-3 3-12 0-3-3-1-5-4 0-3-3 0-12zM252 1043l5 5-1 5-4 1-4-6zM200 1067l4 5 0 4-4 2zM168 1133l4 0 3 3 0 4-3 4-4 0 0 5 3 3 9-2 4 2-1 8-3 0-4 4-4 0-4-4-8 0 0-5 7-3-7 0-3-4 0-4 3-4 4 0 1-4zM360 1143l0 13-4 4 0 4-4-3-6-1-7-4 13-2zM560 1216l4 0 4 4 0 4 4 5-8-1zM520 1229l28 0 3 3 0 28-3 3-4 0-3-3-1-5-12 0-3-3 0-4-5-1-3-3 0-12zM336 1283l8 0-4 13 4 8-4 4-5 0 2-8-5-8 0-4z" fill="#fac33c"/><path d="M572 74l2 6 0 4-6 12-4-3-1-5 5-12zM512 80l4-1 8 5 4 4 0 4 4 0 0-4 4-3 12 0 3 3 1 5 4 0 3 3 1 5 4-1 4 4 0 10 6-2 2-12 8-8 4-3 9 3 7 5 0 7 5 4-4 16-3 4-13 4 15 0 3 4 1 5 20-1 4 4 0 4 12 0 3 4 1 12 8 0 7 12-1 4-2 2-12 4-4 6-4 1 0 3-4 4-4 0 0 4-4 4-4 0-1 68-3 3-5 1 0 32 1 4 12 1 4 3 0 5 4 0 3 3 0 4-3 3-5 1 0 12 0 8 5 1 4 3 0 4-4 4-4 0-1 20-3 3-5 1 0 12-3 4-4 0-1 28-3 3-4 1 0 4-8 11-8 1-1 12-3 3-5 1 0 12-3 3-5 1 0 4-3 3-3-3 0-8 4-4 0-4 3-4-3-8 7-22 4-7 4 2 8-3 4 2 4-4 4 0 0-28 4 0 4-4 1-12 3-3 5-1-4-4 3-4 1-20-4-4 0-20-5-4-8 0-4-4 0-4-4-6-7 22-9 16-8-12-2-12 7-20 2-4 7-4 8 0 3 4 0 8 3 0 1-20-4-4 0-8-4-4 0-4 8-8 0-4 4-4 0-4 8-12-1-16-3-4-1-20 18-20 6-1 4-3 0-4-4-4 0-3-4 2-5-3-9 0 1 16-11 12-4 7-7 5-1 12-8 4-8-6-5 2 0 8 7 8 1 8-3 6-4 2-4-2-2-6 4-8-2-3-16-1-4-4-8-1-3-3 1-8 8-16 6-28 10-8 2-6 12-1 17 19 3 9 5-9 1-12-10-9-4 0-4-4-8 1-4-4 0-4-4-2-7 6-13-1-12 4-13-11 5-8 1-4-5-4-6 4-2 4-4-6-4 2-7 12-9 4-4 4-1 4-7 7-8 1-4-4 0-4-28-1-3-3 3-3 32-1 0-4 4-4 4 0 1-4 3-3 4 0 1-5 3-4 3 0-2-20-2-4 1-6 8-1zM543 92l-10 16 1 4 2 2 8-1 8 6 4 0 1-11-4-4 0-4-5-1-3-3 0-4zM400 157l3 3 1 8-4 4-4-1-4 4-3-3-1-4 4-3 4 0 1-5zM412 186l4 2-8 6-8 1-4-3 12-3zM368 189l4 0 3 3-4 4 0 8 4 4 0 4-12 12-1 8-2 2-3-2 0-16 8-4 0-20zM496 208l6 0 8 4 4 4 1 8-1 8-18 24-4 10-4 2-12-1-3-3 0-4 4-8-1-4-4-7-4-1-2-4 10-2 2-2 0-8 4-8zM344 262l2 2 1 12-3 3-3-3 0-4 0-8zM420 263l8 7 8-2 4 3 4 9-4 14-12 4-8 0-8 2-8-3-15-9-1-4 5-8-1-9 4-2 5 3 3 8 4-1 9-7zM572 269l6 3 1 4-3 8-2-8-4-4zM320 293l3 3 0 4-7 7-4 0-3-3 3-3 4 0 1-5zM324 310l20-1 1 3-8 12-9 2-5-2-1-12zM364 310l4 0 4 5 4 13-3 12-8 12 4 8-5 3-16 5-4 5-1-9-5-12 2-4 8-3 8 8 6-1-2-8 3-12-2-8-9-8zM280 333l4 0 3 3-5 4 4 4 0 8-8 4-3 4 0 4-7 7-3-3 4-4 0-12 9-4-1-12zM316 352l3 4-5 12 0 16-2 4-2-4 0-16-2-8 1-4zM352 384l8 4 4 0 0 5-4 6-3 1-1 11-4-3 4-8-1-4-7-4-12 3-1-3 5-4zM248 393l3 3 0 4 4 4 1 4-13 12 0 4-3 3-4 0-9 9-1 8-6 7-4 0-3-3 3-3 5-1 0-12 3-3 4 0 1-5 3-3 5-1 0-12 8-4 0-8zM304 395l4 3 1 6-4 8-5 2-3-6 1-4zM320 418l8 0 2 6-9 8-1 8-4 4-4-1-5-7 3-4 9-4-1-8zM208 465l3 3 0 8-7 8-4-4 4-4 1-8zM300 495l6 5 0 4-6 13-8-5 1-12zM356 494l4 2 4 8 4 2 4-7 4-2 4 4 2 7-2 4-4 2-8-5-4 1-1 6 4 8 5 11 4 4 8-2 12 2 8 13-1 4-3 1-4-5-20-11-4 0-4 3-2 4-4 28-6 6-4-1-3-5 1-4-9-8 3-7 10-5 0-4-18-14-3 2-1 8-4 12 4 16 9 4-7 32-7 20 0 4 7 12-9 8-1 8-4 11-12-2-4-3-1-10 5-11 4-1 2-4 2-8-9-8 0-4 12-12 2-4 0-4-11-8-1-12-5-8 6-8 1-8 6-8 3-8 10-8-4-8 0-4 2-4 11-8 5-10zM564 509l3 3 0 4 0 8-3 3-3-3 0-4 0-8zM176 517l4 0 3 3-4 4 0 4 3 4-7 8 0 4-4 4 0 4-3 3-5 1-1 16-7 8-1 4-4 4 0 8-10 11-4 0-8 8-4 0-4 4-5 1 0 20 4 4 0 8-7 7-5 1 0 36-3 3-5 1 0 4 5 1 6 7-6 7-3-3-1-5-4 0-3-3 0-12 3-3 5-1 0-36 3-3 5-1 0-36 3-3 5-1 0-4 3-3 4 0 1-5 3-3 13-1 0-12 8-4 0-4 3-3 5-1 0-20 3-3 5-1 0-12 3-3 5-1 0-12zM420 523l6 1 1 4-1 12-6 5-6-5-2-8 0-4 4-4zM564 557l3 3 1 12-4 3-5 1 0 44-3 3-5 1 1 28-4 4-3-4 0-4-4-4 0-28 4-4 0-16 4-4 1-16 6-7 5-1 0-8zM292 567l6 5-4 8-8 8-1 4 3 8-4 5-8-4-4-4 1-17 3-4 8-3zM288 655l5 5 3 8-2 8-9 12-3 16-11 8-3 7-1-11 9-28-1-12 9-7zM492 668l12 9 15 3 6 8 1 12 2 2 4-2 3-16 5-2 12 7 2 3-2 8-8 8-8 15 0 6 3 3 2 4-8 8-3 8-6 4-4-1-1 9-3 3-5 1 1 20-4 3-5 1 1 28-4 4-4 0-1 28-3 3-4 0-1 5-3 3-5 1 0 12-8 4 0 12-3 3-5 1 0 12-3 3-5 1 1 4-4 4-4 0 2 8-1 4-9 19-16 8-1 13-3 3-5 1 0 4-3 4-4 0-1 20-8 4 0 4-3 3-4 1-1 4-3 4-4 0 0 4-4 3-5 1 0 12-3 3-5 1 0 12-3 3-5 1 0 20-3 3-5 1 0 20-8 4 0 20-3 3-5 1 0 116-8 4 0 4-3 3-5 1 0 28-3 3-4 0-3-3 0-4-5-1-3-3-1-5-28 0-3-3 0-76-8-4 0-20-8-4-1-20-4-1-3-3 0-4-5-1-3-3-1-5-4 1-4-4 0-4-4 0-3-4 0-4-5-1-3-3-1-5-4 0-3-3-1-5-12 1-4-4 0-4-4-1-3-3-1-5-12 0-3-3 0-4-5-1-3-3 3-3 28 0 8 8 4-1 15 16 0 4 4 4 1 9 4 0 3 3 1 5 12 4 4 4 4 0 16 15-1 8 4 4 0 8 8 8 0 8-4 4 0 4 8 8 0 16 4 4 1 48-5 4 9 0 4 5 4 0 4-4 4 0 4 4 0-13-8-16-3-12-5-7-1-5 2-28-9-7-3-5 3-16 4-6 8-5 4 4 4 9 12-3 4 0 4 3 1-14-4-4 0-20 12-12 0-4 8-8 0-24 7-8 4 0 0-12 5-4 0-8 12-12-1-10-4 4-4 3-1-1-4-20 5-5 9 1 4 8 0 4-3 4 6 0 0-8 25-24-1-10-4 0-4-6 8-11 4 2 0-11-4-4 0-8 6-16 2-3 8 0 12-11 8 2 9-8 0-4 3-3 5-1 0-12 4-4 0-8 8-8 0-4 20-20-4-4 0-24 8-8 0-4 8-8-1-4 9-8-1-4-4-4 0-16 4-4 1-4-1-12-4-4 4-2 7-10-2-4-5 1-4 4-2 3 1 12-8 8 0 8 6 4 2 8-7 6-4 1-8-2-12 3-7-4 2-16 5-8 4-20 9-8-8-8-1-4 3-20 2-4zM220 709l8 1 8 6 12 4 0 4-3 4-13 11-16-11 1-16zM296 715l9 1 15 14 7 2-7 8-4-10-4 3-4 7 0 12-5 8-3 11-4 1-8-8-4-2-3 2-2 8 2 8-2 4-7 4-4-1-3-3 4-8-4-12 9-8-2-8 1-8 15-20zM96 749l3 3 0 48 4 4 0 24-7 6-4 0-4 4-3-2 0-4 9-4-1-20-5-1-3-3 0-12 3-3 5-1 0-36zM228 751l8 8 8 3 2 2-2 2-8-1-8 3-4-1-2-3 0-8zM220 778l5 2 1 4-2 3-4 1-4-4zM448 782l16 0 7 10-1 4-10 4-8-2-8 2-2-4 0-4 2-6zM260 790l3 6 0 4-3 5-5-5 1-7zM296 807l4 2 5 7-1 5-30-1 0-4 14-1zM300 828l4-2 3 6-1 20 2 2 10 2 1 20-4 12 2 8-5 2-13-2 0-12 7-12-2-11-12 7 2 8-2 5 0-13-4-6-4 0-8 4-4-1-5-5 9-5 8-13 8-4zM264 835l5 1 2 4-1 4-6 5-4-5 0-4 1-4zM432 860l2 4-1 12-1 1-8 0-2-5 1-4 5-6zM84 865l8 9 4 0 2 2 0 4 4 4-2 2-4 0-4-8-4 0-3-2 0-4-4-4zM272 876l4 2 4 5 8-1 2 2-2 10-4 0-8-6-4 0-4-3 1-5zM256 898l12 2 1 8-1 4-6 4 6 5 12-10 8 0 7 5-1 12-9 20-9 7-4-2-8-13-21-8 1-12 6-8zM120 958l2 2 1 8 4 4-3 3-4 0-3-3 0-12zM272 958l3 10-3 6-4-1-2-5 2-7zM136 998l2 2 1 24-4 4 3 4 1 12-3 3-3-3 0-12-5-1-4-3 0-4 4-3 5-1 0-20zM332 1010l8 0 3 2 0 4-7 12-4 3-4 0-6-3 0-4 3-8zM512 1013l20 0 3 3 0 20-3 3-12 0-3-3-1-5-4 0-3-3 0-12zM276 1090l4 0 21 18-9 10-12 7-12-2-3-7 1-4 6-3 14-1-1-4-9-8zM168 1133l4 0 3 3 0 4-3 3-4 1 0 4-4 4-4-1-3-3 0-4 3-3 4-1 1-4zM520 1229l28 0 3 3 0 28-3 3-4 0-4-8-12 0-3-3 0-4-8-4 0-12z" fill="#ffa00a"/><path d="M520 84l4 1 3 3 1 5 4 0 1-5 3-3 12 0 3 3 1 5 4 0 3 3 1 5 4 0 3 3 1 12 10 0 3-4 2-12 5-5 4 1 6 8 0 12-4 8-10 2 0 6 20 1 3 3 1 5 20 0 3 3 1 4 12 1 3 3 1 12 4 0 4 4 0 12-4 4-4 0 0 4-4 4-4 0-1 4-3 3-4 0-1 5-3 3-5 1 0 68-3 3-5 1 0 36 13 1 3 3 1 5 4 0 3 3 0 4-8 4 0 12 0 8 8 4 0 4-3 3-5 1 0 20-8 4 0 12-3 3-5 1 0 28-3 3-5 1 0 4-3 4-4 0 0 4-4 3-5 1 0 12-8 4 0 12-8 4 0 4-3 3-3-3 0-8 4-4 3-12 4-4 0-8 8-8 0-4 4-4 4 0 8-7 5-1 0-24 8-8 0-12 3-3 5-1-4-4 4-4 0-20-4-4 0-20-5-5-8 1-3-4 0-4-5-4 5-4 0-20-4-4 1-8-5-4 0-4 8-8 0-4 4-4 0-4 8-12 0-16-4-4 0-20 19-20 4 0 4-3 1-5-5-4 0-8-4 4-12 0-4-4-12-1-8-8-4 0-4-4-8 0-3-3 0-4-5-6-4 1-4 6-4 1-20 2-8-5-2-3 2-4 4-1 4 1 0-4-5-8 5-4 4 0 4 5 4 2 7-3-2-4 0-8-4-4 0-4-8-4-1-5-12 17-4 0 0 5-8 3-12 12-4 0 0 4-13 12 0 4-7 7-8 0-3-3-1-5-28 0-3-3 3-3 32 0 1-5 3-3 4 0 1-5 3-3 4 0 1-5 3-3 4-1 0-12 3-4 0-8 13-2 0-2zM400 157l3 3 0 8-3 3-4 0-4 4-3-3 0-4 3-3 4 0 1-5zM572 163l7 1 13 9 1 7-7 8 2 8-8 12-7 0-2-4 3-8 1-8 5-12-4-8-6 8-2 8-6 4-3 12 1 4 6 4 0 4-2 3-12-1-4-2 7-12 1-13zM368 189l4 0 3 3-4 4 0 8 4 4 0 4-13 12 0 8-2 2-2-2 0-16 8-4-1-20zM344 262l2 2 1 12-3 3-3-3 0-4 1-8zM320 293l3 3 0 4-7 7-4 0-3-3 3-3 4 0 1-5zM328 312l4 0 1 4-1 2-4 1zM368 319l4 4 0 5-4 3-2-7zM280 334l4-1 2 3-4 4 4 4 0 8-8 4-3 4 0 4-7 7-3-3 4-4 0-12 9-4 0-12zM248 394l2 2 1 4 4 4 0 4-13 12 0 4-2 2-4 1-10 9 0 8-6 6-4 1-3-3 9-4-1-12 3-3 4 0 1-5 3-3 5-1 1-12 7-4 1-8zM208 465l2 3 0 8-6 7-3-3 4-4 0-8zM564 509l3 3 0 4 0 8-3 2-3-2 0-4 0-8zM176 517l4 0 3 3-4 4 0 4 3 4-7 8 0 4-4 4 0 4-9 4 0 16-8 8 0 4-4 4 0 8-10 11-4-1-8 9-4 0-4 4-5 1 0 20 4 4 0 8-7 7-5 1-1 36-7 4 0 4 5 1 6 7-6 6-4-7-4 0-3-3 0-12 9-4-1-36 3-3 5-1 0-36 3-3 5-1 0-4 3-3 4 0 4-7 12 0 2-2 0-12 8-4-1-4 3-3 6-1 0-20 7-4 0-12 8-4 0-12zM352 516l8 3 4 6 3 11-3 2-8 2-4-2-5-6 0-8zM564 557l3 3 0 12-8 4 0 44-8 4 0 28-3 3-3-3 0-4-4-4 0-28 4-4 0-16 4-4 1-16 6-7 5-1 0-8zM324 581l8 3 0 8-4 2-8-2-3-4zM496 678l16 4 3 2 0 4 0 12-3 4-8 0-4 3 1 5-1 3-14-3-3-8 2-8-5-8 4-5 4 4zM512 705l16 6 8-7 4 4-4 4 0 20-4 4-4 0 0 4-4 4-5 0 0 20-3 3-5 1 0 20-8 4 0 28-3 3-5 1 0 28-3 3-4 0-1 5-3 3-5 1 0 12-8 4 0 12-8 4 0 12-3 3-5 1 0 4-3 3-5 1 1 12-4 4-3 0-1 4-12 12-4 1-1 19-8 4 0 4-3 3-5 1-1 20-7 4 0 4-3 3-5 1 0 4-3 3-5 1 0 4-8 4 0 12-8 4-1 12-7 4 0 20-8 4-1 20-8 4 1 20-8 4-1 116-7 4-1 4-2 3-5 1 0 28-3 3-4 0-3-3 0-4-5-1-3-3-1-5-28 0-3-3 1-76-8-4-1-20-8-4 0-20-5-1-3-3 0-4-5-1-3-3-1-5-4 0-3-3-1-5-4 0-3-3 0-4-5-1-3-3-1-5-4 0-3-3-1-5-12 0-3-3 0-4-5-1-3-3-1-5-12-1-3-2 0-4-5-1-2-3 2-3 28 0 8 8 4 0 14 15 0 4 5 4 1 9 4 0 3 3 1 5 12 4 4 4 4 0 15 15 0 8 4 4 0 8 8 8 0 8-4 4 0 4 8 8-1 16 5 4 0 48-4 4 9 1 4 4 4 0 4-4 4 0 4 4 1-21-5-5-5-15-7-12 2-28-2-9-4-3 0-12 2-4 6-1 1 1 0 4-4 8 1 4 2 2 8-3 6-11 6-3 8 4 1-17-4-4 0-20 13-12 0-4 8-8-1-24 7-7 5-1 0-12 4-4 0-8 12-12 0-8 3-3 5-1 0-8 24-24-1-12 4-4 1-20-4-4-1-4 12-12 5 0 0-4 7-9 4-3 8 1 0-5 9-8 0-4 9-4 0-12 3-4 0-8 8-8 0-4 20-20-4-4 0-24 8-8 0-4 8-8 0-4 8-8 0-4-4-4-1-8 1-8 4-4-1-20 12-12 4 0 0-4-8-8zM228 716l9 8-1 4-4 4-4-2-5-6 1-6zM476 736l6 0 7 4-7 24-10 1-1-9 4-8zM284 738l4-1 6 7 6 0 4 2 0 8-8 8-12-7-6-7 0-4zM96 750l3 2 0 48 4 4-1 24-6 6-4 0-4 4-2-2 0-4 8-4-1-20-5-1-3-3 0-12 8-4 0-36zM300 842l1 6-1 5-4 0-1-5zM84 866l8 8 4 0 2 2 0 4 4 4-2 2-4 0-4-8-4 0-2-2 0-4-4-4zM280 916l9 0 2 4-2 8-7 8-1 8-5 2-4-6-2-8zM120 958l2 2 0 8 4 4-2 3-4 0-3-3 1-12zM136 998l2 2 0 24-4 4 4 4 1 12-3 2-2-2-1-12-5-1-3-3 0-4 3-3 5-1 1-20zM512 1014l20 0 2 2 0 20-2 3-12 0-4-8-4 0-3-3 0-12zM168 1133l4 0 3 3 0 4-3 3-5 1 0 4-3 3-4 0-3-3 0-4 3-3 4 0 1-5zM520 1229l28 0 3 3 0 28-3 2-4 0-4-8-12 1-3-3 0-4-7-4-1-12z" fill="#ff640a"/><path d="M520 85l4 0 3 3 1 5 4 0 1-5 3-3 12 1 4 8 4-1 3 3 1 5 4 0 3 3 1 13 12-1 4 4 0 13 20 0 4 8 20 0 3 3 1 5 12 0 3 3 0 12 5 1 3 3 1 12-4 3-4 0-1 5-3 3-4 0-1 5-3 3-4 0-1 5-3 3-5 1 0 68-3 3-5 1 0 36 13 1 3 3 1 5 4 0 3 3 0 4-9 4 0 12 1 8 8 4 0 4-3 3-5 1-1 20-8 4 1 12-3 3-5 1 0 28-8 4 0 4-3 3-5 1 0 4-3 3-5 1 0 12-9 4 0 12-8 4 0 4-2 2-2-2 0-8 3-4 0-4 4-4 0-4 4-4 0-8 8-8 0-4 3-3 4 0 8-8 5-1 0-24 8-8 1-12 7-4-4-4 4-4 1-20-4-4-1-20-5-5-8 0-3-3 0-4-4-4 4-4 0-20-3-4 0-8-4-4 0-4 8-8 0-4 4-4 0-4 7-12 0-16-4-4 0-20 19-19 4 0 4-4 1-5-4-4-1-9-4 4-12 0-4-3-12-1-8-8-4 0-4-4-8 0-3-3 0-4-4-4-1-8-4 0-7 12-11 0-3-4 1-8 12-6 0-2-3-4 0-8-4-4 1-4-8-4-2-6-12 17-4 1-20 19-4 1-1 4-12 12 0 4-7 7-8 0-3-3-1-5-28-1-2-2 2-3 32 0 1-5 3-3 4 0 1-5 8-4 0-4 3-3 5-1-1-12 4-4 4 0 0-4 4-4 4 0 0-4zM400 157l3 3 0 8-3 3-4 0-4 4-3-3 0-4 3-3 4 0 1-5zM368 189l4 1 2 2-4 4 0 8 4 4 0 4-12 12 0 8-2 2-2-2 0-16 8-4-1-20zM344 262l2 2 0 12-2 3-2-3-1-4 1-8zM320 293l2 3 0 4-6 7-4 0-3-3 3-3 4 1zM280 334l4 0 2 2-4 4 4 4 0 8-8 4-4 4 0 4-6 6-2-2 3-4 1-12 8-4 0-12zM248 394l2 2 0 4 5 4 0 4-13 12 0 4-2 2-4 0-10 10 0 8-6 6-4 0-2-2 8-4 0-12 2-3 4 1 4-8 6-2 0-12 8-4 0-8zM208 465l2 3 0 8-6 7-3-3 4-4 0-8zM564 510l2 2 0 4 0 8-2 2-2-2 0-4 0-8zM176 517l4 0 2 3-4 4 0 4 4 4-8 8 0 4-4 4 0 4-8 4 0 16-8 8 0 4-4 4 0 8-10 10-4 0-8 8-4 0-4 4-6 2 1 20 4 4-1 8-6 6-6 2 0 36-8 4 0 4 6 2 6 6-6 6-4-8-4 1-3-3 1-12 8-4-1-36 3-3 5-1 1-36 2-3 5-1 0-4 3-3 4 1 4-8 12 0 2-2 0-12 8-4 0-4 2-2 4 0 2-2 0-20 8-4 0-12 7-4 0-12zM564 557l3 3 0 12-9 4 1 44-9 4 1 28-3 3-3-3 1-4-4-4-1-28 5-4 0-16 4-4 0-16 6-6 5-2 0-8zM536 705l3 3-3 4-1 20-3 4-4 0 0 4-4 3-5 1 0 20-3 3-5 1 0 20-9 4 1 28-3 3-5 1 0 28-3 3-4 0-1 5-3 2-6 2 0 12-8 4 0 12-7 4-1 12-2 3-5 1 0 4-3 3-5 1 0 12-3 4-4 0 0 4-4 4-4 0 0 4-4 4-4 0-2 20-7 4 0 4-3 3-5 1-1 20-8 4 0 4-7 4 0 4-3 3-5 1 0 4-9 4 0 12-8 4 0 12-8 4 0 20-8 4 0 20-8 4 0 20-8 4 0 116-8 4 0 4-2 2-5 2-1 28-2 3-4 0-3-3 0-4-5-1-3-3-1-5-28 0-2-3 0-76-8-4 0-20-8-4-1-20-5-1-3-3 0-4-8-4-1-5-4 0-3-3-1-5-4 0-3-3 0-4-5-2-4-7-4 0-3-3-1-5-12 0-3-3 0-4-5-1-2-3-2-6-12 0-2-2 0-4-8-4 2-2 28 0 8 7 4 0 14 15 0 4 4 4 2 9 4 0 4 8 12 4 4 4 4 0 15 15 0 8 4 4-1 8 9 8 0 8-5 4 0 4 8 8 0 16 4 4 1 48-4 4 1 1 8 0 4 4 4 0 4-3 4 0 4 3 1-1 0-16 11-12 0-4-8 5-5-1-7-15-6-9 0-12 2-16 4-6 8-6 4-9 4-2 4 2 5 9 3 0 0-4-4-4 1-20-4-4 1-20 12-12 0-4 8-8 0-24 6-7 5-1 0-12 5-4-1-8 13-12-1-8 3-3 5-1 0-8 24-24 0-12 4-4 0-20-4-4 0-4 11-11 8-1 4-4 4 0 8-8 1-8 9-8 0-4 2-2 6-2 0-12 4-4-1-8 8-8 0-4 21-20-4-4 0-24 7-8 0-4 8-8 0-4 8-8 0-4-4-4 0-8 0-8 4-4 0-20 11-11 4-1 4-4 0-4zM96 750l2 2 0 48 4 4 0 24-6 6-4 0-4 4-2-2 0-4 8-4 0-20-8-4 0-12 8-4 0-36zM84 866l8 8 6 2-1 4 4 4-1 1-4 0-4-7-6-2 0-4-4-4zM120 958l2 2 0 8 4 4-2 2-4 0-2-2 0-12zM136 998l2 2 0 24-4 4 4 4 0 12-2 2-2-2 0-12-9-4 0-4 8-4 1-20zM512 1014l20 0 2 2 0 20-2 2-12 0-4-8-4 0-2-2 0-12zM168 1134l4 0 2 2 0 4-2 3-5 1 0 4-3 3-4 0-3-3 0-4 3-3 4 0zM520 1230l28 0 3 2-1 28-2 2-4 0-4-8-12 0-2-2 0-4-8-4 0-12z" fill="#e1140a"/><path d="M520 85l4 0 3 3 1 5 4 0 4-7 12 0 4 8 4 0 3 2 1 6 4-1 3 3 1 13 12 0 3 3 1 13 20 0 4 9 20-1 3 3 1 5 12 0 2 3 1 12 5 1 3 3 0 12-3 3-4 0-1 5-3 3-4 0-1 5-3 3-4 0-4 8-5 1-1 68-8 4 1 36 1 1 12 1 4 7 4 0 3 3-1 4-8 4 0 12 0 8 9 4 0 4-3 3-5 1-1 20-8 4 0 12-2 3-5 1-1 28-7 4 0 4-3 3-5 1 0 4-3 3-5 1-1 12-8 4 0 12-8 4 0 4-2 2-2-2 0-8 4-4 0-4 3-4 0-4 4-4 0-8 8-8 0-4 3-3 4 0 8-8 5-1 0-24 8-8 1-12 8-4-4-4 3-4 1-20-4-4 0-20-6-5-8 0-3-3 0-4-4-4 4-4 1-20-4-4 0-8-4-4 0-4 8-8 0-4 4-4 0-4 8-12-1-16-4-4 0-20 19-19 4 0 4-4 1-5-4-4-1-9-4 4-12 0-4-4-12 0-8-9-4 0-4-4-8 1-3-3 0-4-4-4 0-8-5-4-4 0-7-8 1-8-4-4 0-4-8-4 0-4-2-2-6 6 0 4-6 7-4 0-20 20-5 1 0 4-12 12-1 4-6 6-8 1-3-3-1-5-28-1-2-2 2-2 32-1 1-5 3-3 4 0 2-5 8-4 0-4 2-3 5-1 0-12 3-3 5-1 0-4 3-3 4 0 1-5zM556 126l4-1 3 3-2 8-5 2-4-2-1-4zM400 158l2 2 1 8-3 3-4-1-4 4-3-2 0-4 3-3 4 1zM368 190l4 0 2 2-4 4 0 8 4 4 0 4-12 12 0 8-2 2-2-2 0-16 8-4 0-20zM344 263l2 13-2 2-2-2 0-4 0-8zM320 294l2 2 0 4-6 6-4 0-2-2 2-2 4 0zM280 334l4 0 2 2-4 4 4 4 0 8-8 4-4 4 0 4-6 6-2-2 4-4 0-12 8-4 0-12zM248 394l2 2 0 4 4 4 1 4-13 12-2 6-4 0-10 10 0 8-2 2-2-2 0-12 2-2 4 0 4-8 4 0 2-2 0-12 8-4 0-8zM208 466l2 2 0 8-6 7-3-3 4-4 1-8zM564 510l2 2 0 4 0 8-2 2-2-2 0-4 0-8zM176 518l4 0 2 2-4 4 0 4 4 4-8 8 0 4-4 4 0 4-8 4 0 16-2 2-2-2 0-20 8-4 0-12 8-4 0-12zM564 558l2 2 1 12-9 4 0 44-8 4 1 28-3 3-2-3 0-4-4-4 0-28 4-4 0-16 4-4 0-16 6-6 6-2 0-8zM152 574l6 2-8 12 0 8-10 10-4 0-8 8-4 0-4 4-6 2 0 20 4 4 0 8-6 6-6 2 0 36-8 4 0 4 6 2 6 6-6 6-4-8-4 0-3-2 1-12 8-4 0-36 8-4 0-36 8-4 0-4 2-2 4 0 4-8 12 0 2-2 0-12 8-4 0-4zM536 705l3 3-4 4 0 20-3 3-4 0-1 5-3 3-5 1 0 20-9 4 1 20-9 4 1 28-3 3-5 1 0 28-3 3-4-1-4 8-6 2 0 12-8 4 0 12-8 4 0 12-8 4 1 4-3 3-5 1 0 12-3 3-5 1 0 4-3 3-5 1 0 4-3 3-5 1-1 20-8 4 0 4-2 3-5 1-1 20-8 4 0 4-7 4 0 4-3 3-5 1 0 4-9 4 0 12-8 4 0 12-8 4 0 20-8 4 0 20-8 4 0 20-8 4 0 116-2 2-4 0-4 8-6 2 0 28-2 2-4 0-2-2 0-4-8-4-2-6-28 0-2-2 0-76-8-4 0-20-8-4-1-20-5-2-4-8-4 0-2-2-2-6-4 1-3-3-1-5-4 0-2-3 0-4-8-4-2-6-4 0-2-2-2-6-12 1-3-3 0-4-7-4-2-6-12 0-2-2 0-4-8-4 2-2 28 0 8 8 4-1 14 15 0 4 4 4 0 8 2 2 4 0 4 8 4 0 4 4 4 0 4 4 4 0 15 14-1 8 4 4 0 8 8 8 0 8-4 4 0 4 8 8 0 16 4 4 1 48-5 4 2 2 8-1 4 5 4 0 4-4 4 0 4 4 2-2-1-16 12-12-1-9-8 4-4 0-4-5-1-6-7-6-1-10 2-16 3-6 10-6 6-7 8 7 5-4 0-4-4-4 1-20-4-4 0-20 12-12 0-4 8-8 0-24 6-7 5-1 0-12 5-4 0-8 12-12-1-8 3-3 5-1 0-8 25-24-1-12 4-4 0-20-4-4 0-4 11-11 8 0 4-4 4 0 9-9 0-8 9-8 0-4 2-2 4 0 2-2 0-12 4-4 0-8 8-8 0-4 20-20-4-4 0-24 8-8 0-4 8-8-1-4 9-8-1-4-4-4 0-8 0-8 4-4 0-20 11-11 5-1 4-4 0-4zM96 750l2 2 0 48 4 4 0 24-6 6-4 0-4 4-2-2 0-4 8-4 0-20-8-4 0-12 8-4 0-36zM88 870l4 4 5 2 0 4 4 4-1 1-4 0-4-8-6-1 0-4zM120 958l2 2 0 8 4 4-2 2-4 0-2-2 0-12zM136 998l2 2 0 24-4 4 4 4 0 12-2 2-2-2 0-12-9-4 0-4 9-4 0-20zM512 1014l20 0 2 2 0 20-2 2-12 0-4-8-4 0-2-2 0-12zM168 1134l4 0 2 2 0 4-7 4 0 4-3 3-4-1-2-2 0-4 2-2 4-1zM520 1230l28 0 2 2 0 28-2 2-4 0-4-8-12 0-2-2 0-4-8-4 0-12z" fill="#8c0000"/><path d="M520 85l4 1 2 2 2 6 4 0 4-8 12 0 4 8 4 0 2 2 0 4 2 2 4 0 2 2 2 13 12 0 3 3 0 12 1 1 20 1 4 8 20 0 4 7 12 1 2 2 1 12 8 4 0 12-3 3-4 0-2 5-2 2-4 1-4 7-4 0-4 8-6 2 0 68-8 4 0 36 2 2 12 0 4 8 4 0 2 2 0 4-8 4 0 12 0 8 8 4 0 4-8 4 0 20-8 4 0 12-8 4 0 28-8 4 0 4-2 3-5 1 0 4-3 2-6 2 0 12-8 4 0 12-8 4-2 6-2-2 0-8 4-4 0-4 3-4 0-4 4-4 0-8 8-8 0-4 3-3 4 0 8-7 6-2 0-24 8-8 0-12 8-4-4-4 4-4 0-20-4-4 0-20-6-6-8 0-2-2 0-4-4-4 4-4 0-20-4-4 0-8-4-4 0-4 8-8 0-4 4-4 0-4 8-12 0-16-4-4 0-20 18-19 4 0 4-3 2-6-4-4-2-9-4 4-12-1-4-3-12-1-8-8-4 0-4-4-8 0-2-2 0-4-5-4 0-8-5-5-4 0-6-7 0-8-4-4 0-4-8-4 0-4-2-2-6 6 0 4-6 7-4 0-20 20-5 1 0 4-13 12 0 4-6 6-8 0-4-8-28 0-2-2 2-2 32 0 2-6 2-2 4 0 2-6 8-4 0-4 2-2 5-2 0-12 3-3 5-1 0-4 3-3 4 0 1-5zM400 158l2 2 0 8-2 2-4 0-4 4-2-2 0-4 2-2 4 0zM368 190l6 2-4 4 0 8 4 4 0 4-12 12-2 10-2-2 0-16 8-4 0-20zM344 263l2 13-2 2-2-6 0-8zM280 334l4 0 2 2-4 4 3 4 0 8-8 4-3 4 0 4-2 2-2-2 0-12 8-4 0-12zM248 394l2 6 4 4 0 4-12 12-2 6-4 0-4 4-2-2 0-4 8-4 0-12 8-4 0-8zM224 430l4 0 2 2-4 4 0 8-2 2-2-2 0-12zM208 466l2 2 0 8-6 6-2-2 4-4 0-8zM564 510l2 6 0 8-2 2-2-2 0-4 0-8zM176 518l4 0 2 2-4 4 0 4 4 4-8 8 0 4-4 4 0 4-8 4 0 16-2 2-2-2 0-20 8-4 0-12 8-4 0-12zM564 558l2 2 0 12-8 4 0 44-8 4 0 28-2 2-2-2 0-4-4-4 0-28 4-4 0-16 4-4 0-16 6-6 6-2 0-8zM152 574l6 2-8 12 0 8-10 10-4 0-8 8-4 0-4 4-4 0-2 2 0 20 4 4 0 8-6 6-4 0-2 2 0 36-8 4 0 4 2 2 4 0 6 6-6 6-4-8-4 0-2-2 0-12 8-4 0-36 8-4 0-36 8-4 0-4 2-2 4 0 4-8 12 0 2-2 0-12 8-4 0-4zM536 705l3 3-4 4 0 20-3 3-4 0-1 5-3 3-6 1 0 20-8 4 0 20-6 2-2-2 4-4 0-4-4-4 0-16 4-4-1-20 11-11 5-1 4-4 0-4zM96 750l2 2 0 48 4 4 0 24-6 5-4 0-4 5-2-6 8-4 0-20-8-4 0-12 8-4 0-36zM500 790l2 2 0 28-8 4 0 28-2 2-4 0-2 2 0 4-8 4 0 12-8 4 0 12-8 4 0 12-8 4 0 4-2 2-6 2 1 12-3 3-5 1 0 4-3 3-5 1 0 4-3 3-5 1-1 20-8 4 0 4-2 2-6 2 0 20-8 4 0 4-8 4 0 4-2 2-6 2 0 4-8 4 0 12-8 4 0 12-8 4 0 20-8 4 0 20-8 4 0 20-8 4 0 116-6 2-4 8-4 0-2 2 0 28-2 2-4 0-2-2 0-4-8-4 0-4-2-2-28 0-2-2 0-76-8-4 0-20-8-4 0-20-6-2-4-8-4 0-2-2 0-4-2-2-4 0-2-2-2-6-4 0-2-2 0-4-8-4 0-4-2-2-4 0-2-2 0-4-2-2-12 0-2-2 0-4-6-2-4-8-12 0-2-2 0-4-8-4 2-2 28 0 8 8 4 0 14 14 0 4 4 4 0 8 2 2 4 0 4 8 4 0 4 4 4 0 4 4 4 0 14 14 0 8 4 4 0 8 8 8 0 8-4 4 0 4 8 8 0 16 4 4 0 48-4 4 2 2 8 0 4 4 4 0 4-4 4 0 4 4 2-2-1-16 12-12-1-16-4 5-4 1-4-1-2-9-9-8 0-4 2-16 2-4 7-4 8-2 8 3 0-5 5-4 0-4-4-4 1-20-4-4 0-20 12-12 0-4 8-8 0-24 6-6 6-2 0-12 4-4 0-8 12-12 0-8 8-4 0-8 24-24-1-12 4-4 1-20-4-4-1-4 11-11 8 0 4-4 4 0 9-9 0-8 9-8 0-4 8-4 0-12 4-4 0-8 8-8 0-4 20-20-4-4 0-24 8-8 0-4 8-8 0-4zM88 870l4 5 5 1 0 4 4 4-1 1-4 0-1-5-3-3-6-1zM120 958l2 2 0 8 4 4-2 2-4 0-2-2 0-12zM136 999l1 1 1 24-6 6-4 0-2-2 0-4 8-4 0-20zM512 1014l20 0 2 2 0 20-2 2-12 0-4-8-4 0-2-2 0-12zM136 1030l2 2 0 12-2 2-2-2 0-12zM168 1134l4 0 2 2 0 4-8 4 0 4-2 2-4 0-2-2 0-4 2-2 4 0zM520 1230l28 0 2 2 0 28-2 2-4 0-4-8-12 0-2-2 0-4-8-4 0-12z" fill="#640000"/></g>
<use href="#lines"/>
</g>
<rect x="0" y="0" width="185.9" height="333.1" fill="none" stroke="#1c1c1c" stroke-width="1.7"/>
<path d="M15.6,333.1v3.2" stroke="#111" stroke-width="1"/>
<text x="15.9" y="346.5" font-size="10.4" text-anchor="middle" textLength="22" lengthAdjust="spacingAndGlyphs">120E</text>
<path d="M93.0,333.1v3.2" stroke="#111" stroke-width="1"/>
<text x="93.3" y="346.5" font-size="10.4" text-anchor="middle" textLength="22" lengthAdjust="spacingAndGlyphs">121E</text>
<path d="M170.4,333.1v3.2" stroke="#111" stroke-width="1"/>
<text x="170.7" y="346.5" font-size="10.4" text-anchor="middle" textLength="22" lengthAdjust="spacingAndGlyphs">122E</text>
<path d="M0,0.0h-3.2" stroke="#111" stroke-width="1"/>
<text x="-6" y="3.7" font-size="10.2" text-anchor="end" textLength="25" lengthAdjust="spacingAndGlyphs">25.5N</text>
<path d="M0,45.0h-3.2" stroke="#111" stroke-width="1"/>
<text x="-6" y="48.8" font-size="10.2" text-anchor="end" textLength="17" lengthAdjust="spacingAndGlyphs">25N</text>
<path d="M0,90.1h-3.2" stroke="#111" stroke-width="1"/>
<text x="-6" y="93.8" font-size="10.2" text-anchor="end" textLength="25" lengthAdjust="spacingAndGlyphs">24.5N</text>
<path d="M0,135.1h-3.2" stroke="#111" stroke-width="1"/>
<text x="-6" y="138.8" font-size="10.2" text-anchor="end" textLength="17" lengthAdjust="spacingAndGlyphs">24N</text>
<path d="M0,180.2h-3.2" stroke="#111" stroke-width="1"/>
<text x="-6" y="183.9" font-size="10.2" text-anchor="end" textLength="25" lengthAdjust="spacingAndGlyphs">23.5N</text>
<path d="M0,225.2h-3.2" stroke="#111" stroke-width="1"/>
<text x="-6" y="228.9" font-size="10.2" text-anchor="end" textLength="17" lengthAdjust="spacingAndGlyphs">23N</text>
<path d="M0,270.3h-3.2" stroke="#111" stroke-width="1"/>
<text x="-6" y="274.0" font-size="10.2" text-anchor="end" textLength="25" lengthAdjust="spacingAndGlyphs">22.5N</text>
<path d="M0,315.3h-3.2" stroke="#111" stroke-width="1"/>
<text x="-6" y="319.0" font-size="10.2" text-anchor="end" textLength="17" lengthAdjust="spacingAndGlyphs">22N</text>
</g>
<text x="125" y="10.8" font-size="13.5" text-anchor="middle" textLength="126.4" lengthAdjust="spacingAndGlyphs" fill="#2a2a2a">BASE_LatentHeat</text>
<g transform="translate(265.3,16.1)">
<g clip-path="url(#pc)">
<clipPath id="m2"><path d="M520 90l4 0 4 4 4 0 4-4 16 0 2 2 0 4 8 8 0 4 10 10 4 0 2 2 0 8 6 6 8 0 4 4 12 0 4 4 8 0 4 4 8 0 4 4 8 0 2 2 0 8 4 4 0 8 8 8 0 4 4 4 0 8-2 2-4 0-8 8-4 0-6 6 0 4-8 8 0 44-2 2-8 0-2 2 0 4-4 4 0 32 4 4 0 4 2 2 12 0 2-2 0-4 2-2 2 2 0 8 4 4 0 16-4 4 0 12-4 4 0 4-4 4 0 8-4 4 0 4-4 4 0 4-4 4 0 8-4 4 0 20-12 12 0 4-12 12 0 4-12 12 0 12-4 4 0 8-4 4 0 4-4 4 0 16 4 4 0 12-4 4 0 4-4 4 0 16-4 4 0 20-4 4 0 20-4 4 0 16-4 4 0 16-4 4 0 20-4 4 0 20-4 4 0 16-10 10-4 0-2 2 0 8-4 4 0 16-4 4 0 8-4 4 0 8-4 4 0 8-4 4 0 16-4 4 0 16-4 4 0 4-12 12 0 4-4 4 0 4-4 4 0 4-4 4 0 4-4 4 0 4-4 4 0 4-4 4 0 4-12 12 0 4-12 12 0 4-8 8 0 16-20 20 0 16-2 2-4 0-14 14 0 4-8 8 0 4-4 4 0 4-8 8 0 8-4 4 0 8-4 4 0 8-4 4 0 8-4 4 0 8-4 4 0 4-4 4 0 12-4 4 0 16-4 4 0 24 4 4 0 56-4 4 0 8-16 16 0 8 4 4 0 4-2 2-4 0-12-12-12 0-4 4-4-4-4 0-2-2 0-20-4-4 0-16 4-4 0-20-4-4 0-4-4-4 0-8-4-4 0-12-4-4 0-8-4-4 0-4-4-4 0-4-34-34-4 0-12-12-4 0-12-12-4 0-4-4-4 0-4-4-4 0-18-18 0-4-8-8 0-4-4-4 0-12-4-4 0-4 4-4 0-24-4-4 0-4-4-4 0-8-4-4 0-12-4-4 0-16-4-4 0-8-8-8 0-4 2-2 4 0 2-2 0-8-32-32 0-12 4-4 0-12 4-4 0-12 4-4 0-12-8-8 0-4 4-4 0-8 4-4 0-8 4-4 0-44 4-4 0-8-8-8 0-4 4-4 0-8 4-4 0-12 4-4 0-16 4-4 0-24 4-4 0-8 14-14 4 0 14-14 0-4 4-4 0-4 8-8 0-8 4-4 0-4 4-4 0-4 4-4 0-4 4-4 0-4 4-4 0-4 4-4 0-4 4-4 0-4 8-8 0-4 8-8 0-4 4-4 0-12 4-4 0-4 8-8 0-4 4-4 0-4 8-8 0-4 8-8 0-4 4-4 0-4 8-8 0-4 8-8 0-4 4-4 0-4 8-8 0-4 4-4 0-8 4-4 0-4 4-4 0-4 20-20 0-4 2-2 4 0 34-34 0-4 4-4 0-8 4-4 0-4 4-4 0-8 4-4 0-8 4-4 0-8 4-4 0-8 4-4 0-4 4-4 0-4 14-14 4 0 8-8 4 0 4-4 4 0 4-4 8 0 4-4 8 0 4-4 16 0 4-4 12 0 4-4 4 0 4-4 4 0 2-2 0-4 8-8 0-4 8-8 0-4zM512 1014l20 0 2 2 0 8-4 4 0 8-6 6-14-14 0-12zM172 1134l4 0 2 2-14 14-2-2 0-4zM520 1230l24 0 2 2 0 4 4 4 0 8 4 4 0 4-6 6-4 0-8-8-8 0-10-10 0-12zM320 1290l2 2-2 2-2-2z"/></clipPath><g clip-path="url(#m2)" transform="scale(0.25)" shape-rendering="auto"><path d="M520 90l4 0 4 4 4 0 4-4 16 0 2 2 0 4 8 8 0 4 10 10 4 0 2 2 0 8 6 6 8 0 4 4 12 0 4 4 8 0 4 4 8 0 4 4 8 0 2 2 0 8 4 4 0 8 8 8 0 4 4 4 0 8-2 2-4 0-8 8-4 0-6 6 0 4-8 8 0 44-2 2-8 0-2 2 0 4-4 4 0 32 4 4 0 4 2 2 12 0 2-2 0-4 2-2 2 2 0 8 4 4 0 16-4 4 0 12-4 4 0 4-4 4 0 8-4 4 0 4-4 4 0 4-4 4 0 8-4 4 0 20-12 12 0 4-12 12 0 4-12 12 0 12-4 4 0 8-4 4 0 4-4 4 0 16 4 4 0 12-4 4 0 4-4 4 0 16-4 4 0 20-4 4 0 20-4 4 0 16-4 4 0 16-4 4 0 20-4 4 0 20-4 4 0 16-10 10-4 0-2 2 0 8-4 4 0 16-4 4 0 8-4 4 0 8-4 4 0 8-4 4 0 16-4 4 0 16-4 4 0 4-12 12 0 4-4 4 0 4-4 4 0 4-4 4 0 4-4 4 0 4-4 4 0 4-4 4 0 4-12 12 0 4-12 12 0 4-8 8 0 16-20 20 0 16-2 2-4 0-14 14 0 4-8 8 0 4-4 4 0 4-8 8 0 8-4 4 0 8-4 4 0 8-4 4 0 8-4 4 0 8-4 4 0 4-4 4 0 12-4 4 0 16-4 4 0 24 4 4 0 56-4 4 0 8-16 16 0 8 4 4 0 4-2 2-4 0-12-12-12 0-4 4-4-4-4 0-2-2 0-20-4-4 0-16 4-4 0-20-4-4 0-4-4-4 0-8-4-4 0-12-4-4 0-8-4-4 0-4-4-4 0-4-34-34-4 0-12-12-4 0-12-12-4 0-4-4-4 0-4-4-4 0-18-18 0-4-8-8 0-4-4-4 0-12-4-4 0-4 4-4 0-24-4-4 0-4-4-4 0-8-4-4 0-12-4-4 0-16-4-4 0-8-8-8 0-4 2-2 4 0 2-2 0-8-32-32 0-12 4-4 0-12 4-4 0-12 4-4 0-12-8-8 0-4 4-4 0-8 4-4 0-8 4-4 0-44 4-4 0-8-8-8 0-4 4-4 0-8 4-4 0-12 4-4 0-16 4-4 0-24 4-4 0-8 14-14 4 0 14-14 0-4 4-4 0-4 8-8 0-8 4-4 0-4 4-4 0-4 4-4 0-4 4-4 0-4 4-4 0-4 4-4 0-4 4-4 0-4 8-8 0-4 8-8 0-4 4-4 0-12 4-4 0-4 8-8 0-4 4-4 0-4 8-8 0-4 8-8 0-4 4-4 0-4 8-8 0-4 8-8 0-4 4-4 0-4 8-8 0-4 4-4 0-8 4-4 0-4 4-4 0-4 20-20 0-4 2-2 4 0 34-34 0-4 4-4 0-8 4-4 0-4 4-4 0-8 4-4 0-8 4-4 0-8 4-4 0-8 4-4 0-4 4-4 0-4 14-14 4 0 8-8 4 0 4-4 4 0 4-4 8 0 4-4 8 0 4-4 16 0 4-4 12 0 4-4 4 0 4-4 4 0 2-2 0-4 8-8 0-4 8-8 0-4zM512 1014l20 0 2 2 0 8-4 4 0 8-6 6-14-14 0-12zM172 1134l4 0 2 2-14 14-2-2 0-4zM520 1230l24 0 2 2 0 4 4 4 0 8 4 4 0 4-6 6-4 0-8-8-8 0-10-10 0-12zM320 1290l2 2-2 2-2-2z" fill="#00008c"/><path d="M544 52l4 0 4 4 8 0 4 4 8 0 8 8 0 4 8 8 0 4 4 4 8 0 8 8 0 8 8 0 4 4 8 0 4 4 12 0 4 4 8 0 4 4 4 0 12 12 0 8 4 4 0 8 4 4 8 0 4 4 4 4 0 8 4 4-4 4 0 8-8 8-4 0-4 4-4 0-4 4-4 0-8 8-4 0-4 4 0 4-4 4 0 56 4 4 0 16 4 4 0 12 4 4 0 16-4 4 0 12-4 4 0 8-4 4 0 4-4 4 0 8-4 4 0 4-4 4 0 8-4 4 0 20-4 4 0 8-12 12 0 4-12 12 0 4-8 8 0 4-4 4 0 8-4 4 0 8-4 4 0 8 4 4 0 16-4 4 0 8-4 4 0 12-4 4 0 20-4 4 0 20-4 4 0 16-4 4 0 16-4 4 0 20-4 4 0 20-4 4 0 16-4 4 0 16-4 4 0 12-4 4 0 12-4 4 0 8-4 4 0 8-4 4 0 12-4 4 0 16-4 4 0 16-4 4 0 8-16 16 0 4-4 4 0 4-4 4 0 4-4 4 0 4-4 4 0 4-4 4 0 4-8 8 0 4-12 12 0 4-8 8 0 12-4 4 0 8-36 36-4 0-8 8 0 4-8 8 0 8-4 4 0 4-4 4 0 8-4 4 0 8-4 4 0 8-4 4 0 8-4 4 0 8-4 4 0 12-4 4 0 16-4 4 0 24 4 4 0 56-4 4 0 8-4 4 0 8-8 8 0 12 4 4-4 4 0 8-8 8-8 0-4 4-4-4-8 0-4-4-4 0-8-8-4 0-4 4-4-4-8 0-4-4-4 0-8-8 0-8-4-4 0-20-4-4 0-16 4-4 0-20-4-4 0-8-4-4 0-8-4-4 0-12-4-4 0-4-4-4 0-4-28-28-4 0-4-4 0 8 4 4-4 4 0 8-16 16-8 0-4 4-4 0-4-4-8 0-8-8 0-8-4-4 4-4 0-8 16-16 8 0 4-4 4 0 4 4 8 0-4 0-12-12-4 0-4-4-4 0-4-4-4 0-24-24 0-4-8-8 0-4-4-4 0-8-4-4 0-8-4-4 0-32-4-4 0-8-4-4 0-8-4-4 0-12-4-4 0-16-8-8 0-4-32-32 0-4-4-4 0-8-4-4 0-12 4-4 0-12 4-4 0-12 4-4 0-16 4-4 0-8 4-4 0-8 4-4 0-8 4-4 0-44 4-4-4-4 0-8-4-4 0-4 4-4 0-8 4-4 0-12 4-4 0-16 4-4 0-24 4-4 0-8 4-4 0-8 20-20 4 0 8-8 0-4 4-4 0-4 8-8 0-8 4-4 0-4 4-4 0-8 4-4 0-4 4-4 0-4 4-4 0-4 4-4 0-4 4-4 0-4 8-8 0-4 8-8 0-8 4-4 0-8 4-4 0-4 8-8 0-4 4-4 0-4 8-8 0-4 8-8 0-4 4-4 0-4 8-8 0-4 8-8 0-4 4-4 0-4 8-8 0-4 4-4 0-8 4-4 0-4 4-4 0-4 20-20 0-4 8-8 4 0 28-28 0-4 4-4 0-8 4-4 0-4 4-4 0-8 4-4 0-8 4-4 0-8 4-4 0-8 4-4 0-4 4-4 0-4 20-20 4 0 8-8 4 0 4-4 4 0 4-4 8 0 4-4 8 0 4-4 8 0 4-4 16 0 4-4 8 0 12-12 0-4 8-8 0-4 24-24 8 0 4-4 12 0zM394 248l-5 4-3 8 0 12 2 4 4 2 15-10 2-4-1-8-3-4-5-4zM373 300l-3 4 0 8 2 4 4 2 4-2 2-4 1-8-3-4zM272 436l-5 8 1 8 4 1 8-1 5-4 1-4-2-8-4-3-4 0zM214 496l-4 4-2 4 1 4 3 2 8-6 2-4-2-4zM267 508l-3 8 1 4 3 2 8-2 0-8-4-4zM207 520l1 8 4 2 4-3 2-3-2-6-4-2-4 2zM284 528l-4 4 0 4 3 4 5 2 4-1 2-5-2-4-4-3zM178 552l-4 4-1 8 3 15 4 7 4 4 4 1 8-1 6-2 6-7 7-13 2-8-1-6-4-3-1 9-15 6-12-16zM294 588l-4 4 2 2 4 0 3-2-2-4zM143 620l0 4 5 1 3-1 1-4-4-3zM176 652l-1 4 5 2 4-2 2-4-2-3-4-1zM114 660l-1 4 3 8 8 3 12-2 5 7-1 5-4 2-8-1-4 5-3 13 3 6 8 2 16-5 4 1 8 10 4 1 6-3 3-4-1-4-7-8-1-20-5-16-7-4zM191 704l-9 4 6 4 24 0 2-4-6-5-4-1zM516 992l20 0 4 4 8 0 8 8 0 8 4 4 0 4-4 4 0 12-4 4 0 8-8 8-8 0-4 4-4-4-8 0-4-4-4 0-12-12 0-4-4-4 0-8-4-4 0-4 4-4 0-8 8-8 8 0zM528 1208l24 0 4 4 8 0 8 8 0 4 4 4 0 8 4 4 0 8 4 4 0 4-4 4 0 8-12 12-8 0-4 4-4 0-4-4-8 0-8-8-4 0-20-20 0-8-4-4 0-8 4-4 0-8 8-8 8 0z" fill="#0000ff"/><path d="M544 53l4 0 4 4 8 0 4 4 8 0 7 7 0 4 8 8 0 4 5 5 8 0 7 7 1 9 8 0 4 4 8 0 4 4 12 0 4 4 8 0 4 4 4 0 11 11 0 8 4 4 0 8 5 5 8 0 3 3 4 4 0 8 4 4-4 4 0 8-7 7-4 0-4 4-4 0-4 4-4 0-8 8-4 0-5 5 0 4-4 4 0 56 4 4 0 16 4 4 0 12 4 4 0 16-4 4 0 12-4 4 0 8-4 4 0 4-4 4 0 8-4 4 0 4-4 4 0 8-4 4 0 20-4 4 0 8-12 12 0 4-12 12 0 4-8 8 0 4-4 4 0 8-4 4 0 8-4 4 0 8 4 4 0 16-4 4 0 8-4 4 0 12-4 4 0 20-4 4 0 20-4 4 0 16-4 4 0 16-4 4 0 20-4 4 0 20-4 4 0 16-4 4 0 16-4 4 0 12-4 4 0 12-4 4 0 8-4 4 0 8-4 4 0 12-4 4 0 16-4 4 0 16-4 4 0 8-16 16 0 4-4 4 0 4-4 4 0 4-4 4 0 4-4 4 0 4-4 4 0 4-8 8 0 4-12 12 0 4-8 8 0 12-4 4 0 8-35 35-4 0-9 9 0 4-8 8 0 8-4 4 0 4-4 4 0 8-4 4 0 8-4 4 0 8-4 4 0 8-4 4 0 8-4 4 0 12-4 4 0 16-4 4 0 24 4 4 0 56-4 4 0 8-4 4 0 8-8 8 0 12 4 4-4 4 0 8-7 7-8 0-4 4-4-4-8 0-4-4-4 0-8-8-4 0-4 4-4-4-8 0-4-4-4 0-7-7 0-8-4-4 0-20-4-4 0-16 4-4 0-20-4-4 0-8-4-4 0-8-4-4 0-12-4-4 0-4-4-4 0-4-29-29-4 0-4-4-1 1 0 8 4 4-4 4 0 8-15 15-8 0-4 4-4 0-4-4-8 0-7-7 0-8-4-4 4-4 0-8 15-15 8 0 4-4 4 0 4 4 9-1-5-1-12-12-4 0-4-4-4 0-4-4-4 0-23-23 0-4-8-8 0-4-4-4 0-8-4-4 0-8-4-4 0-32-4-4 0-8-4-4 0-8-4-4 0-12-4-4 0-16-8-8 0-4-32-32 0-4-4-4 0-8-4-4 0-12 4-4 0-12 4-4 0-12 4-4 0-16 4-4 0-8 4-4 0-8 4-4 0-8 4-4 0-44 4-4-4-4 0-8-4-4 0-4 4-4 0-8 4-4 0-12 4-4 0-16 4-4 0-24 4-4 0-8 4-4 0-8 19-19 4 0 9-9 0-4 4-4 0-4 8-8 0-8 4-4 0-4 4-4 0-8 4-4 0-4 4-4 0-4 4-4 0-4 4-4 0-4 4-4 0-4 8-8 0-4 8-8 0-8 4-4 0-8 4-4 0-4 8-8 0-4 4-4 0-4 8-8 0-4 8-8 0-4 4-4 0-4 8-8 0-4 8-8 0-4 4-4 0-4 8-8 0-4 4-4 0-8 4-4 0-4 4-4 0-4 20-20 0-4 7-7 4 0 29-29 0-4 4-4 0-8 4-4 0-4 4-4 0-8 4-4 0-8 4-4 0-8 4-4 0-8 4-4 0-4 4-4 0-4 19-19 4 0 8-8 4 0 4-4 4 0 4-4 8 0 4-4 8 0 4-4 8 0 4-4 16 0 4-4 8 0 13-13 0-4 8-8 0-4 23-23 8 0 4-4 12 0zM375 244l-6 4-1 4 8 3 4 5-2 16 2 4 8 6 8 2 8-12 9-8 0-8-5-9-11-7-5-1-8 4-4 0-3-3zM375 296l-8 4-2 4-1 8 4 9 4 3 4 0 4-2 4-5 2-13-2-4-4-3zM326 324l-1 4 3 5 8 5 4-2 0-6-4-5-4-2zM319 352l-1 4 5 4 5-1 3-3-3-4zM304 388l-1 8 1 3 4-1 2-6-2-5zM271 412l-8 4-7 8 7 8-3 13-4 7-4-1-7-19-1-1-12-2-8 2-3 5-1 4 3 4 8 4 9 10 9-2 3-3 4-1 4 4 4 1 20-1 5-4 2-4-1-24-2-4-8-6-4-2zM212 492l-5 4-7 16-1 4 3 16-6 6-16 6-4 3-6 9-1 8 5 36 6 7 4 0 8-7 12-8 20-24 0-8-3-8-7-12 0-4 16-20 2-8-4-12-8-5zM263 504l-7 15-8 5 1 4 3 1 16-1 4 2 7 14 5 3 8 0 4-3 2-8-2-6-12-10-8-13-5-3zM241 564l-5 4 2 4 18 5 4 5 5-2-8-16-9-1zM285 584l-4 4 3 12 4 2 8 0 4-2 4-3 2-9-2-4-8-3zM142 608l-17 20-2 4 5 6 4 3 12-6 8 0 16 4 4 0 3-3 2-8-1-4-4-5-24-14zM198 624l1 4 7 8 2 4 4 0-3-4-1-12-4-3zM173 644l-9 10-52-2-3 4 1 16 6 16-5 20 0 4 4 4 21 8 24 1 16 0 8 10 2-15 10-7 12 1 12 4 4-2 3-16-3-8-4-3-12-3-4 1-7 9-5 2-12-2-6-4-3-12 1-4 4-3 24 0 3-1 1-4-4-1-8 1-1-4 3-12-1-4-4-4-5-3-8 0zM215 644l9 6 5-2-5-5zM204 788l-7 4 3 5 4-1 7-4 1-4zM157 848l-6 12 1 6 4 1 14-11 1-4-7-5zM516 993l20 0 4 4 8 0 7 7 0 8 4 4 0 4-4 4 0 12-4 4 0 8-7 7-8 0-4 4-4-4-8 0-4-4-4 0-11-11 0-4-4-4 0-8-4-4 0-4 4-4 0-8 7-7 8 0zM528 1209l24 0 4 4 8 0 7 7 0 4 4 4 0 8 4 4 0 8 4 4 0 4-4 4 0 8-11 11-8 0-4 4-4 0-4-4-8 0-8-8-4 0-19-19 0-8-4-4 0-8 4-4 0-8 7-7 8 0z" fill="#2828dc"/><path d="M544 53l4 0 4 4 8 0 4 4 8 0 7 7 0 4 8 8 0 4 5 5 8 0 7 7 1 9 8 0 4 4 8 0 4 4 12 0 4 4 8 0 4 4 4 0 11 11 0 8 4 4 0 8 5 5 8 0 3 3 4 4 0 8 4 4-4 4 0 8-7 7-4 0-4 4-4 0-4 4-4 0-8 8-4 0-5 5 0 4-4 4 0 56 4 4 0 16 4 4 0 12 4 4 0 16-4 4 0 12-4 4 0 8-4 4 0 4-4 4 0 8-4 4 0 4-4 4 0 8-4 4 0 20-4 4 0 8-12 12 0 4-12 12 0 4-8 8 0 4-4 4 0 8-4 4 0 8-4 4 0 8 4 4 0 16-4 4 0 8-4 4 0 12-4 4 0 20-4 4 0 20-4 4 0 16-4 4 0 16-4 4 0 20-4 4 0 20-4 4 0 16-4 4 0 16-4 4 0 12-4 4 0 12-4 4 0 8-4 4 0 8-4 4 0 12-4 4 0 16-4 4 0 16-4 4 0 8-16 16 0 4-4 4 0 4-4 4 0 4-4 4 0 4-4 4 0 4-4 4 0 4-8 8 0 4-12 12 0 4-8 8 0 12-4 4 0 8-35 35-4 0-9 9 0 4-8 8 0 8-4 4 0 4-4 4 0 8-4 4 0 8-4 4 0 8-4 4 0 8-4 4 0 8-4 4 0 12-4 4 0 16-4 4 0 24 4 4 0 56-4 4 0 8-4 4 0 8-8 8 0 12 4 4-4 4 0 8-7 7-8 0-4 4-4-4-8 0-4-4-4 0-8-8-4 0-4 4-4-4-8 0-4-4-4 0-7-7 0-8-4-4 0-20-4-4 0-16 4-4 0-20-4-4 0-8-4-4 0-8-4-4 0-12-4-4 0-4-4-4 0-4-29-29-4 0-4-4-1 1 0 8 4 4-4 4 0 8-15 15-8 0-4 4-4 0-4-4-8 0-7-7 0-8-4-4 4-4 0-8 15-15 8 0 4-4 4 0 4 4 8 0 1-1-5-1-12-12-4 0-4-4-4 0-4-4-4 0-23-23 0-4-8-8 0-4-4-4 0-8-4-4 0-8-4-4 0-32-4-4 0-8-4-4 0-8-4-4 0-12-4-4 0-16-8-8 0-4-32-32 0-4-4-4 0-8-4-4 0-12 4-4 0-12 4-4 0-12 4-4 0-16 4-4 0-8 4-4 0-8 4-4 0-8 4-4 0-44 4-4-4-4 0-8-4-4 0-4 4-4 0-8 4-4 0-12 4-4 0-16 5-4-1-24 4-4 0-8 4-4 0-8 19-19 4 0 9-9 0-4 4-4 0-4 8-8 0-8 4-4 0-4 4-4 0-8 4-4 0-4 4-4 0-4 4-4 0-4 4-4 0-4 4-4 0-4 8-8 0-4 8-8 0-8 4-4 0-8 4-4 0-4 8-8 0-4 4-4 0-4 8-8 0-4 8-8 0-4 4-4 0-4 8-8 0-4 8-8 0-4 4-4 0-4 8-8 0-4 4-4 0-8 4-4 0-4 4-4 0-4 20-20 0-4 7-7 4 0 29-29 0-4 4-4 0-8 4-4 0-4 4-4 0-8 4-4 0-8 4-4 0-8 4-4 0-8 4-4 0-4 4-4 0-4 19-19 4 0 8-8 4 0 4-4 4 0 4-4 8 0 4-4 8 0 4-4 8 0 4-4 16 0 4-4 8 0 13-13 0-4 8-8 0-4 23-23 8 0 4-4 12 0zM370 244l-3 4-1 4 2 5 6 3 2 4-2 12 2 4 16 13 9-1 5-12 10-10 1-6-3-8-10-11-8-3-20 0zM367 296l-5 4-2 4-1 12 9 11 8 1 6-4 4-8 2-8-1-8-7-6-8 0zM327 316l-6 4-1 8 8 12 1 4-21 4-8-4-4 4-4 12 1 8 6 12-3 24 9 12 3 3 4 2 4-5 1-12 3-5 12-3 4 8 4 2 4-2 0-4-4-2-20-7-4-4-3-7 1-12 2-3 12 1 4-2 12-5 5-7 0-8-5-16-8-9zM273 408l-10 4-19 14-20 3-4 3-2 4 2 11 16 14 8 0 12-3 28 1 7-3 4-8 1-28-4-4-8-6zM208 492l-4 5-7 15 0 4 2 12-1 4-22 12-8 11-1 5 2 24-4 20-5 0-8-4-4 0-32 27-3 5 0 4 7 3 5 5-1 4-4 1-8-3-4 4-2 6 1 24 3 12-4 16 2 8 6 8-6 10-8 6-2 4-1 8 3 6 4 2 4-1 1-3 0-12 3-6 8-2 8-6 44-1 4 3 3 8-3 8-4 2-4-1-4 3 4 3 6-3 2-3 8 1 4-4-2-18 3-8 3-3 4-2 8-1 16 8 4 0 4-2 3-12-2-16-5-7-8-5-3-4-4-16-3-4 2-3 4 1 12 4 8 0 8-8 16-7 2-3 0-4-6-6-8-4-3 2-5 9-8-1-11-4-5-17-4-2-17 3 5-12 8-7 12-16 12-11 8 6 9 4 7 9 4 1 16-5 4 4 4 11 4 5 4 1 13-2 3-2 3-6 1-8-1-4-3-4-8-2-20 4-4-3-10-15-5-4-13 0-10 4-2 2-4-1-4-12-7-13 1-4 3-4 7-7 8-5 4 1 3 7 5 5 20-1 7 12 5 5 8 1 7-2 5-8 0-8-4-6-12-10-5-8-7-5-8-2-4 0-3 11-5 4-12 2-5-18-7-8-12-3zM131 752l1 4 4 1 6-5-2-2-4 0zM188 784l4 16 4 4 4 1 6-1 6-4 8-8 1-4-3-4-6-3-20 1zM213 812l-2 4 1 8 4 3 4 0 6-7 2-8-8-3-4 1zM157 844l-5 5-6 15-1 4 7 6 8 1 7-11 5-3 4-1 4 3 4 6 4 0 6-5 1-4-1-4-3-4-11-2-16-7zM162 880l0 4 5 4 5 1 5-1 2-8-3-3-8 0-4 1zM184 619l4-2 2 11 5 8-3 2-6-2-2-3zM144 641l4-1 12 4 1 4-9 1-8 0-2-5zM180 681l12 3 2 4-2 4-7 0-5-2-3-6zM516 993l20 0 4 4 8 0 7 7 0 8 4 4 0 4-4 4 0 12-4 4 0 8-7 7-8 0-4 4-4-4-8 0-4-4-4 0-11-11 0-4-4-4 0-8-4-4 0-4 4-4 0-8 7-7 8 0zM528 1209l24 0 4 4 8 0 7 7 0 4 4 4 0 8 4 4 0 8 4 4 0 4-4 4 0 8-11 11-8 0-4 4-4 0-4-4-8 0-8-8-4 0-19-19 0-8-4-4 0-8 4-4 0-8 7-7 8 0z" fill="#5050f0"/><path d="M544 53l4 0 4 4 8 0 4 4 8 0 7 7 0 4 7 8 1 4 5 6 8 0 6 6 1 8 1 2 8 0 4 4 8 0 4 4 12 0 4 4 8 0 4 4 4 0 10 10 0 8 4 4 1 8 5 5 8 1 2 2 4 4 0 8 4 4-4 4 0 8-6 6-4 0-4 4-4 0-4 4-4 0-8 8-4 0-6 6 0 4-4 4 1 56 4 4 0 16 4 4 0 12 4 4 0 16-4 4-1 12-4 4 0 8-4 4 0 4-4 4 0 8-4 4 0 4-4 4 0 8-4 4 1 20-4 4 0 8-12 12 0 4-12 12 0 4-8 8 0 4-5 4 0 8-4 4 1 8-4 4 0 8 4 4 0 16-4 4 0 8-4 4-1 12-4 4 1 20-5 4 0 20-4 4 0 16-4 4 0 16-4 4 0 20-4 4 0 20-4 4 0 16-4 4 0 16-3 4-1 12-4 4 0 12-4 4 0 8-3 4 0 8-4 4-1 12-4 4 0 16-4 4 0 16-4 4 0 8-15 16 0 4-4 4 0 4-4 4 0 4-4 4 0 4-4 4 0 4-4 4 0 4-8 8 0 4-12 12 0 4-8 8-1 12-4 4 0 8-34 34-4 0-10 10 0 4-8 8 0 8-4 4 0 4-4 4 0 8-4 4 0 8-4 4 0 8-3 4 0 8-5 4 0 8-4 4 0 12-4 4 0 16-4 4 0 24 4 4 0 56-4 4 0 8-4 4 0 8-8 8 1 12 4 4-4 4 0 8-7 7-8 0-4 4-4-4-8 0-4-4-4-1-8-8-4 0-4 4-4-4-8 0-4-3-4 0-7-7 0-8-3-4 0-20-4-4-1-16 5-4 0-20-4-4 0-8-4-4-1-8-4-4 0-12-4-4 1-4-4-4 0-4-30-30-4 0-4-4-2 2 0 8 4 4-4 4 1 8-15 15-8 0-4 4-4 0-4-5-8 0-6-6 0-8-4-4 4-4 0-8 14-14 8 0 4-5 4 1 4 4 8 0 2-2-2-2-4 0-12-12-4 0-4-4-4 0-4-3-4 0-23-23 0-4-7-8 0-4-4-4 0-8-4-4 0-8-5-4 1-32-4-4 0-8-4-4 0-8-4-4-1-12-4-4 1-16-8-8-1-4-32-32 0-4-4-4 0-8-4-4 0-12 4-4 0-12 4-4 0-12 4-4 0-16 5-4-1-8 4-4 1-8 4-4 0-8 4-4 0-44 4-4-4-4 0-8-4-4 0-4 4-4 0-8 4-4 0-12 4-4 0-16 4-4 0-24 4-4 0-8 4-4 0-8 18-18 4 0 10-10-1-4 5-4 0-4 8-8 0-8 4-4 0-4 4-4 0-8 4-4-1-4 4-4 0-4 4-4 0-4 4-4 0-4 4-4 0-4 8-8 0-4 9-8 0-8 4-4 0-8 4-4 0-4 8-8 0-4 4-4 0-4 8-8-1-4 9-8 0-4 4-4 0-4 7-8 1-4 7-8 1-4 4-4 0-4 8-8-1-4 4-4 1-8 4-4 0-4 4-4 0-4 20-20 0-4 6-6 4 0 29-30 0-4 4-4 1-8 4-4 0-4 4-4 0-8 4-4 0-8 4-4 0-8 4-4 0-8 4-4 0-4 3-4 1-4 18-18 4-1 8-8 4 0 4-4 4 0 4-4 8 1 4-4 8 0 4-4 8 0 4-4 16-1 4-4 8 0 13-13 0-4 9-8 0-4 22-22 8 0 4-4 12-1zM376 240l-8 4-4 8 1 4 6 8 0 12 10 12-1 3-32 9 4 8 2 12 6 8 1 4 3 2 12-2 8-7 4-9 2-16 2-2 12-4 8-8 8-1 2-5-4-20-10-14-8-5-8-2zM330 304l-6 3-8 13-1 4 3 12-2 4-4 0-8-4-4 1-4 3-5 8-2 16 5 16 1 8-3 10-4 6-20 2-12 7-12 10-20 4-5 5-3 12 4 9 7 7 9 4 16-3 20-1 16 1 6-1 6-4 0-20 2-4 2-2 8 4 4-1 5-13 3-13 4-1 8 8 4 2 4-2 4-6 2-8-2-4-4-3-21-9-4-4 1-6 12-3 16-9 5-6 5-16 0-4-6-3-4-9-10-12-2-5-4-3zM314 456l-10 4-1 4 0 12 5 4 14-4 4-4-2-8-2-4-6-4zM213 488l-9 6-8 16-2 6 2 12-2 4-18 10-9 10-2 8 1 20-3 8-7 6-12 5-21 17-11 9-3 7-5 24 1 16-2 16 0 20 6 16-2 4-10 12-2 8 1 8 4 5 4 3 16 4 4-1 28-10 12 6 4 0 16-8 6-7-3-20 5-10 8-3 4 0 20 11 4 0 4-3 4-15-4-20-2-4-10-8-3-8 3-5 12 0 8-3 20-14 2-6 0-4-14-16-4-12-4-1-4 2-12 9-4-3-10-11-2-4 2-4 6-11 4-5 8-4 4 2 10 6 6 9 4 2 16-5 4 1 7 13 5 5 8 0 12-3 5-6 2-8-1-8-6-7-8-2-20 2-14-17-6-3-12 1-12 4-4-4-8-18 1-4 7-7 4-2 4 0 12 9 17 0 3 2 8 11 5 3 7 1 8-3 5-6 1-8-2-8-13-12-11-12-4-2-16-5-4 3 1 8-1 2-4 2-4-4-1-8-5-4-14-8zM178 772l-10 2-4 2-4 12 0 8 4-1 12-8 4 1 6 8 2 11 16 7 6 14 6 3 8-3 10-16-1-4-9-4-2-4 4-12-2-4-12-7-12 1-16-7zM151 804l-3 4-2 4 2 2 4 0 8-2 1-4-5-7zM159 840l-7 4-13 24 0 4 7 8 2 12 4 4 4 1 12-2 12 4 4 0 7-3-5-12 2-8 11-12 0-8-3-7-4-4-4-1-12 0zM200 892l-3 4 7 5 8-1 2-4-1-4-5-3zM152 735l16-1 4 2-2 4-14 6-4-1-3-5zM516 994l20-1 4 4 8 0 7 7 0 8 4 4 0 4-4 4-1 12-4 4 0 8-6 6-8 0-4 4-4-4-8 0-4-4-4 0-10-10 0-4-4-4 0-8-4-4 0-4 4-4 0-8 6-6 8 0zM528 1210l24 0 4 4 8 0 6 6 0 4 4 4 0 8 5 4 0 8 4 4 0 4-4 4 0 8-11 11-8 0-4 4-4 0-4-4-8 0-8-8-4 0-19-19 1-8-4-4 0-8 3-4 1-8 6-6 8 0z" fill="#7878ff"/><path d="M544 54l4 0 4 4 8 0 4 4 8 0 6 6 0 4 8 8 0 4 6 6 8 0 6 6 0 8 2 2 8 0 4 4 8 0 4 4 12 0 4 4 8 0 4 4 4 0 10 10 0 8 4 4 0 8 6 6 8 0 2 2 4 4 0 8 4 4-4 4 0 8-6 6-4 0-4 4-4 0-4 4-4 0-8 8-4 0-6 6 0 4-4 4 0 56 4 4 0 16 4 4 0 12 4 4 0 16-4 4 0 12-4 4 0 8-4 4 0 4-4 4 0 8-4 4 0 4-4 4 0 8-4 4 0 20-4 4 0 8-12 12 0 4-12 12 0 4-8 8 0 4-4 4 0 8-4 4 0 8-4 4 0 8 4 4 0 16-4 4 0 8-4 4 0 12-4 4 0 20-4 4 0 20-4 4 0 16-4 4 0 16-4 4 0 20-4 4 0 20-4 4 0 16-4 4 0 16-4 4 0 12-4 4 0 12-4 4 0 8-4 4 0 8-4 4 0 12-4 4 0 16-4 4 0 16-4 4 0 8-16 16 0 4-4 4 0 4-4 4 0 4-4 4 0 4-4 4 0 4-4 4 0 4-8 8 0 4-12 12 0 4-8 8 0 12-4 4 0 8-34 34-4 0-10 10 0 4-8 8 0 8-4 4 0 4-4 4 0 8-4 4 0 8-4 4 0 8-4 4 0 8-4 4 0 8-4 4 0 12-4 4 0 16-4 4 0 24 4 4 0 56-4 4 0 8-4 4 0 8-8 8 0 12 4 4-4 4 0 8-6 6-8 0-4 4-4-4-8 0-4-4-4 0-8-8-4 0-4 4-4-4-8 0-4-4-4 0-6-6 0-8-4-4 0-20-4-4 0-16 4-4 0-20-4-4 0-8-4-4 0-8-4-4 0-12-4-4 0-4-4-4 0-4-30-30-4 0-4-4-2 2 0 8 4 4-4 4 0 8-14 14-8 0-4 4-4 0-4-4-8 0-6-6 0-8-4-4 4-4 0-8 14-14 8 0 4-4 4 0 4 4 8 0 2-2-2-2-4 0-12-12-4 0-4-4-4 0-4-4-4 0-22-22 0-4-8-8 0-4-4-4 0-8-4-4 0-8-4-4 0-32-4-4 0-8-4-4 0-8-4-4 0-12-4-4 0-16-8-8 0-4-32-32 0-4-4-4 0-8-4-4 0-12 4-4 0-12 4-4 0-12 4-4 0-16 4-4 0-8 4-4 0-8 4-4 0-8 4-4 0-44 4-4-4-4 0-8-4-4 0-4 4-4 0-8 4-4 0-12 4-4 0-16 5-4-1-24 4-4 0-8 4-4 0-8 18-18 4 0 10-10 0-4 4-4 0-4 8-8 0-8 4-4 0-4 4-4 0-8 4-4 0-4 4-4 0-4 4-4 0-4 4-4 0-4 4-4 0-4 8-8 0-4 8-8 0-8 4-4 0-8 4-4 0-4 8-8 0-4 4-4 0-4 8-8 0-4 8-8 0-4 4-4 0-4 8-8 0-4 8-8 0-4 4-4 0-4 8-8 0-4 4-4 0-8 4-4 0-4 4-4 0-4 20-20 0-4 6-6 4 0 30-30 0-4 4-4 0-8 4-4 0-4 4-4 0-8 4-4 0-8 4-4 0-8 4-4 0-8 4-4 0-4 4-4 0-4 18-18 4 0 8-8 4 0 4-4 4 0 4-4 8 0 4-4 8 0 4-4 8 0 4-4 16 0 4-4 8 0 14-14 0-4 8-8 0-4 22-22 8 0 4-4 12 0zM415 232l-3 2-4 6-16-3-8 1-12 2-5 4-4 8 0 4 6 20 7 12-8 3-19 1-13 6-9 2-6 4-8 12-4 12-13 7-4 5-4 8-2 16 5 24-3 9-4 3-20 5-11 7-9 8-20 5-7 7-3 8 1 8 4 8 5 5 4 3 8 2 16-3 20-2 12 2 10 5 6 14 4 3 4 0 20-5 4-3 1-5-3-8-9-16 1-12 6-12 16 0 4-3 7-17-2-8-2-4-12-8-1-4 2-4 12-12 14-20 19-16 4-8 4-16 3-4 24-9 4-3 2-4 0-8-1-8-9-20 1-4 5-4 2-5-3-3zM370 356l-3 4 1 8 4 4 4 1 3-1 2-4 0-4-5-7zM208 488l-7 8-8 16 0 16-3 4-18 11-7 9-1 8 0 16-4 9-40 29-13 14-4 24 0 20-4 20 1 16 6 16-11 16-2 8 1 8 6 8 16 8 8 0 24-9 6 1 5 4 0 4-3 12-12 16-6 12-6 8 0 4 4 3 4 0 12-6 20-4 19-1 8 4 4 8 4 4 9 2 8-2 4-4 10-16 1-4-9-12 2-8-2-4-14-9-20-2-12-9 1-4 8-12-4-16 1-8 2-4 8-4 12 4 12 9 8-1 6-4 4-12 0-4-6-24-9-12 25-8 12-19 1-9-11-12-3-8 0-8 3-8 6-4 8-3 4 2 7 13 5 3 16 0 7-3 3-4 3-16-2-8-7-6-28-1-11-13-5-3-8-2-20 3-4-5-5-13 1-4 8-5 16 7 16 2 8 9 8 5 12 0 8-4 3-6 1-12-4-8-21-20-19-8-8-2-12 0-20-8-8 0zM253 668l0 4 2 4 5 3 2-3-2-7-4-2zM114 824l-1 4 1 4 2 2 4-1 3-5 0-4-7-2zM150 840l-18 28 0 4 8 10 6 14 6 5 16-1 4 2 5 6 0 8 3 6 4 1 4-1 12 5 10-3 7-8 2-24-2-4-5-3-8-3-8 0-1-2 9-16-2-12-6-12-4-2-16 2-16-3zM111 856l-5 4 2 5 4 0 3-5-1-4zM240 968l2 4 2 2 6-2 0-4-2-2-4-1zM171 976l-1 4 2 6 4 3 4-2 1-3-1-6-4-3zM224 582l4-1 4 2 4 5-8 20-4 1-4-5-4-12 4-7zM188 906l4-1 6 3 0 4-6 6-4 0-5-6 1-4zM516 994l20 0 4 4 8 0 6 6 0 8 4 4 0 4-4 4 0 12-4 4 0 8-6 6-8 0-4 4-4-4-8 0-4-4-4 0-10-10 0-4-4-4 0-8-4-4 0-4 4-4 0-8 6-6 8 0zM528 1210l24 0 4 4 8 0 6 6 0 4 4 4 0 8 4 4 0 8 4 4 0 4-4 4 0 8-10 10-8 0-4 4-4 0-4-4-8 0-8-8-4 0-18-18 0-8-4-4 0-8 4-4 0-8 6-6 8 0z" fill="#8c8cff"/><path d="M544 54l4 0 4 4 8 0 4 4 8 0 6 6 0 4 8 8 0 4 6 6 8 0 6 6 0 8 2 2 8 0 4 4 8 0 4 4 12 0 4 4 8 0 4 4 4 0 10 10 0 8 4 4 0 8 6 6 8 0 2 2 4 4 0 8 4 4-4 4 0 8-6 6-4 0-4 4-4 0-4 4-4 0-8 8-4 0-6 6 0 4-4 4 0 56 4 4 0 16 4 4 0 12 4 4 0 16-4 4 0 12-4 4 0 8-4 4 0 4-4 4 0 8-4 4 0 4-4 4 0 8-4 4 0 20-4 4 0 8-12 12 0 4-12 12 0 4-8 8 0 4-4 4 0 8-4 4 0 8-4 4 0 8 4 4 0 16-4 4 0 8-4 4 0 12-4 4 0 20-4 4 0 20-4 4 0 16-4 4 0 16-4 4 0 20-4 4 0 20-4 4 0 16-4 4 0 16-4 4 0 12-4 4 0 12-4 4 0 8-4 4 0 8-4 4 0 12-4 4 0 16-4 4 0 16-4 4 0 8-16 16 0 4-4 4 0 4-4 4 0 4-4 4 0 4-4 4 0 4-4 4 0 4-8 8 0 4-12 12 0 4-8 8 0 12-4 4 0 8-34 34-4 0-10 10 0 4-8 8 0 8-4 4 0 4-4 4 0 8-4 4 0 8-4 4 0 8-4 4 0 8-4 4 0 8-4 4 0 12-4 4 0 16-4 4 0 24 4 4 0 56-4 4 0 8-4 4 0 8-8 8 0 12 4 4-4 4 0 8-6 6-8 0-4 4-4-4-8 0-4-4-4 0-8-8-4 0-4 4-4-4-8 0-4-4-4 0-6-6 0-8-4-4 0-20-4-4 0-16 4-4 0-20-4-4 0-8-4-4 0-8-4-4 0-12-4-4 0-4-4-4 0-4-30-30-4 0-12-13-4 1-12-12-4 0-4-4-4 0-4-4-4 0-22-22 0-4-8-8 0-4-4-4 0-8-4-4 0-8-4-4 0-32-4-4 0-8-4-4 0-8-4-4 0-12-4-4 0-16-8-8 0-4-32-32 0-4-4-4 0-8-4-4 0-12 4-4 0-12 4-4 0-12 4-4 0-16 4-4 0-8 4-4 0-8 4-4 0-8 4-4 0-44 5-4-5-4 1-8-5-4 0-4 5-4 0-8 4-4-1-12 5-4 0-16 4-4 0-24 4-4 0-8 4-4-1-8 18-18 4 0 10-10 0-4 4-4 0-4 8-8 0-8 5-4-1-4 4-4 0-8 4-4 0-4 4-4 0-4 4-4 0-4 4-4 0-4 4-4 0-4 8-8 0-4 8-8 0-8 4-4 0-8 4-4 0-4 9-8-1-4 4-4 0-4 8-8 0-4 8-8 0-4 4-4 0-4 8-8 0-4 8-8 0-4 4-4 0-4 8-8 0-4 4-4 0-8 4-4 0-4 4-4 0-4 20-20 0-4 6-6 4 0 30-30 0-4 4-4 0-8 4-4 0-4 4-4 0-8 4-4 0-8 4-4 0-8 4-4 0-8 4-4 0-4 4-4 0-4 18-18 4 0 8-8 4 0 4-4 4 0 4-4 8 0 4-4 8 0 4-4 8 0 4-4 16 0 4-4 8 0 14-14 0-4 8-8 0-4 22-22 8 0 4-4 12 0zM427 224l-19 1-8 11-24 1-6 3-5 4-2 4-1 8 5 20 5 8-3 4-21 1-24 9-4 3-14 23-14 10-6 10-3 16 4 28-3 7-20 7-12 8-12 10-16 4-8 6-3 6 0 12 7 13 8 5 8 2 32-5 15 1 6 4 8 16 7 5 8 0 20-6 4-3 1-4-2-12-9-16 2-12 4-5 9 1 4 4 3 11 4 0 12-9 5-6-1-13-4-7-5-20-8-12 1-4 4-6 4-1 8 15 4 0 20-12-1-4-7-8-7-12-1-4 14-20 6-19 24-10 8-8 2-7-1-8-7-20 10-16 2-8-2-3zM407 372l-1 4 2 2 4-1 3-5-3-2zM214 484l-6 2-8 9-9 17-1 16-17 12-8 8-3 8 0 16-2 8-28 24-16 10-11 14-4 24 0 20-5 20 2 16 4 16-9 16-2 8 1 8 4 7 6 5 10 5 12 2 24-8 4 1 2 4-1 8-5 8-15 8 1 8-3 8-7 3-12 0-4 4-1 9 3 16-10 16 1 4 7 6 4 0 12-2 12 16 8 16 8 5 12 0 4 2 6 17 4 4 6 1 16 1 8-1 7-5 7-8 1-4 0-20-3-6-12-10-1-16-3-16 2-4 2-1 12-1 8-4 15-22 1-4-6-12 0-8-2-5-20-11-16-2-9-6-1-4 5-12-5-16 1-8 5-5 8-1 6 2 10 10 4 2 8 0 8-4 8-12 2-8-8-24 0-4 2-2 10 6 10 15 4 0 11-7 0-4-8-8-4-8-3-16 4-20-13-16-1-12 5-8 5-4 4 0 8 12 8 6 20-1 4-2 4-4 4-19-1-8-7-9-8-1-20 1-4-1-12-14-4-2-8-1-16 3-4-2-5-10-1-4 2-3 4-2 4 0 8 4 16 3 16 13 8 2 12-1 7-4 3-8 2-12-4-8-22-20-6-3-24-10-12 0-16-6zM146 932l-1 8 1 4 2 3 13-3 3-4-2-4-6-6-4-1-4 0zM260 948l-2 4 0 8-14-2-4 1-4 4-1 9 1 4 4 4 8 2 8-3 4-7 0-10 8 3 4-1 3-4 0-4-3-8-4-2-4 0zM165 968l-2 8 2 12 9 20 6 6 4 1 4-3 0-4-2-8 3-16-2-8-3-5-8-5-8 0zM225 996l-5 3-2 5 0 4 3 4 23 6 4-1 3-9-3-8-8-4zM204 1024l4 10 4 3 4-3 2-6-2-5-8-2zM156 827l12-2 13 3-2 4-7 2-18-2-1-4zM132 836l6 4-2 3-6-3zM516 994l20 0 4 4 8 0 6 6 0 8 4 4 0 4-4 4 0 12-4 4 0 8-6 6-8 0-4 4-4-4-8 0-4-4-4 0-10-10 0-4-4-4 0-8-4-4 0-4 4-4 0-8 6-6 8 0zM180 1114l4 0 4 4 8 0 6 6 0 8 4 4-4 4 0 8-14 14-8 0-4 4-4 0-4-4-8 0-2-2-4-4 0-8-4-4 4-4 0-8 12-12 2-2 8 0zM528 1210l24 0 4 4 8 0 6 6 0 4 4 4 0 8 4 4 0 8 4 4 0 4-4 4 0 8-10 10-8 0-4 4-4 0-4-4-8 0-8-8-4 0-18-18 0-8-4-4 0-8 4-4 0-8 6-6 8 0z" fill="#a5a5ff"/><path d="M544 55l4 0 4 4 8 0 4 4 8 0 5 5 0 4 8 8 0 4 7 7 8 0 5 5 0 8 3 3 8 0 4 4 8 0 4 4 12 0 4 4 8 0 4 4 4 0 9 9 0 8 4 4 0 8 7 7 9 1 4 4 0 8 4 4-4 4 0 8-5 5-4 0-4 4-4 0-4 4-4 0-8 8-4 0-7 7 0 4-4 4 0 56 4 4 0 16 4 4 0 12 4 4 0 16-4 4 0 12-4 4 0 8-4 4 0 4-4 4 0 8-4 4 0 4-4 4 0 8-4 4 0 20-4 4 0 8-12 12 0 4-12 12 0 4-8 8 0 4-4 4 0 8-4 4 0 8-4 4 0 8 4 4 0 16-4 4 0 8-4 4 0 12-4 4 0 20-4 4 0 20-4 4 0 16-4 4 0 16-4 4 0 20-4 4 0 20-4 4 0 16-4 4 0 16-4 4 0 12-4 4 0 12-4 4 0 8-4 4 0 8-4 4 0 12-4 4 0 16-4 4 0 16-4 4 0 8-16 16 0 4-4 4 0 4-4 4 0 4-4 4 0 4-4 4 0 4-4 4 0 4-8 8 0 4-12 12 0 4-8 8 0 12-4 4 0 8-33 33-4 0-11 11 0 4-8 8 0 8-4 4 0 4-4 4 0 8-4 4 0 8-4 4 0 8-4 4 0 8-4 4 0 8-4 4 0 12-4 4 0 16-4 4 0 24 4 4 0 56-4 4 0 8-4 4 0 8-8 8 0 12 4 4-4 4 0 8-5 5-8 0-4 4-4-4-8 0-4-4-4 0-8-8-4 0-4 4-4-4-8 0-4-4-4 0-5-5 0-8-4-4 0-20-4-4 0-16 4-4 0-20-4-4 0-8-4-4 0-8-4-4 0-12-4-4 0-4-4-4 0-4-31-31-4 0-12-12-4 0-12-12-4 0-4-4-4 0-4-4-4 0-21-21 0-4-8-8 0-4-4-4 0-8-4-4 0-8-4-4 0-32-4-4 0-8-4-4 0-8-4-4 0-12-4-4 0-16-8-8 0-4-32-32 0-4-4-4 0-8-4-4 0-12 4-4 0-12 4-4 0-12 4-4 0-16 4-4 0-8 4-4 0-8 4-4 0-8 4-4 0-44 4-4-4-4 0-8-4-4 0-4 4-4 0-8 5-4-1-12 4-4 1-16 3 0 2 20-7 24 4 28-7 16-1 12 3 8 5 8 26 16-3 4-13 11-7 13-2 8 5 20-1 4-7 8-1 4 1 8 4 6 8 7 15 7 5 12 12 9 5 7-1 4-6 12-3 16 1 14 6 10 10 6 4 6 0 16 4 8 17 20 15 7 4 5 3 16 11 16 0 4-2 4-10 12-1 4 3 7 4 4 4 1 16-3 12 1 4-1 4-5 8-24 7-8-3-5-4 6-4 1-18-6-3-4 1-1 12 0 16-3 12-14 8-5 8-17-2-12 9-16 5-24-12-21-4-4-8-4-12 2-12 8-12 5-4 6-4 15-3 5-13 8-4-2-12-18-8-8-2-8 1-4 2-4 27-6 8-5 9-9 3-8-1-20-3-9-10-15-2-16 3-4 13-3 10-5 6-8 8-7 1-5-9-40-3-4-5-3-12-3-8-4-17-6-1-4 1-8-7-12-2-8 2-4 8-1 4 2 8 10 4 3 8 1 12-1 8-5 8-13 8-5 12-14 8-3 6 2 10 6 2-2 2-8-1-12 12-8-2-4-5-1-8 1-4 2-8 2-4-1-6-3-2-4-2-16 1-16-1-4-10-9-4-7 0-4 4-6 4 1 12 13 16 8-2 8 2 8 4 4 8 1 4-4 1-5-1-5-4-6-2-1 13-16 5-23 4-4 4 2 4 6 4-1 1-8 3-3 4 2 9 13 7 4 12 3 4 5 0 8 3 4 9-3 22-21 1-4-7-5-20-1-12 5-4-2-4-4 1-5 10-8 13-16-2-16 2-12 0-4-4-8-4-3-4-1-8 4-2 4-2 8-4 2-3-6 6-8-1-4-11-8-4-8 5-9 12-4 3-3-2-16 0-4 3-4 12-3 4-5-5-16 5-16-2-12 2-4 8 0 12 8 4 0 4-2 3-6 2-12 6-12 1-12-4-16-12-17-10-7-1-8 3-5 28-19 3-8 1-16-1-12 1-4 8-10 16-16 11-6 2-4-2-20-3-4-8-2-11-14-9-6-8-2-8 1-8 7-8 12-4 9-2 15-9 16-7 4-18 5-7 7-3 12 4 20-1 4-29 10-12 2-4 3-16 24-12 9-4 4-8 24 3 24-2 8-4 4-21 10-16 14-16 5-4 3-6 8-1 12 1 8 6 12 4 4 4 3 12 2 32-7 12 1 7 5 2 4 3 12 1 12-21-4-20-10-12-2-16-5-8-1-8 2-9 8-12 24-3 12-3 4-17 13-6 7-1 8 0 12-2 8-23 22-20 9-12 14 0-9 4-4-1-8 17-17 4 0 11-11 0-4 4-4 0-4 8-8 0-8 4-4 0-4 4-4 0-8 4-4 0-4 4-4 0-4 4-4 0-4 4-4 0-4 4-4 0-4 8-8 0-4 8-8 0-8 4-4 0-8 4-4 0-4 8-8 0-4 4-4 0-4 8-8 0-4 8-8 0-4 4-4 0-4 8-8 0-4 8-8 0-4 4-4 0-4 8-8 0-4 4-4 0-8 4-4 0-4 4-4 0-4 20-20 0-4 5-5 4 0 31-31 0-4 4-4 0-8 4-4 0-4 4-4 0-8 4-4 0-8 4-4 0-8 4-4 0-8 4-4 0-4 4-4 0-4 17-17 4 0 8-8 4 0 4-4 4 0 4-4 8 0 4-4 8 0 4-4 8 0 4-4 16 0 4-4 8 0 15-15 0-4 8-8 0-4 21-21 8 0 4-4 12 0zM299 1208l-7 3-8 8-3 5 4 8 11 6 8-1 7-5 7-16-1-8-5-3zM332 492l4 0 6 4-1 4-3 4-8 8-6 3-4 0-6-3-4-4 0-4 11-8zM340 558l4 2 1 4-1 5-4 6-4 0-2-7 2-6zM516 995l20 0 4 4 8 0 5 5 0 8 4 4 0 4-4 4 0 12-4 4 0 8-5 5-8 0-4 4-4-4-8 0-4-4-4 0-9-9 0-4-4-4 0-8-4-4 0-4 4-4 0-8 5-5 8 0zM180 1115l4 0 4 4 8 0 5 5 0 8 4 4-4 4 0 8-13 13-8 0-4 4-4 0-4-4-9-1-4-4 0-8-4-4 4-4 0-8 12-12 9-1zM528 1211l24 0 4 4 8 0 5 5 0 4 4 4 0 8 4 4 0 8 4 4 0 4-4 4 0 8-9 9-8 0-4 4-4 0-4-4-8 0-8-8-4 0-17-17 0-8-4-4 0-8 4-4 0-8 5-5 8 0z" fill="#b4b4ff"/><path d="M544 55l4 0 4 4 8 0 4 4 8 0 5 5 0 4 8 8 0 4 7 7 8 0 5 5 0 8 3 3 8 1 4 4 8 0 4 3 12 0 4 4 8 0 4 4 4 0 9 9 0 8 4 4 0 8 7 7 9 1 3 4 0 8 4 4-4 4 0 8-4 5-4 0-4 4-4 0-4 4-4 0-8 7-4 0-8 8 0 4-3 4 0 56 4 4 0 16 4 4 0 12 4 4 0 16-4 4 0 12-5 4 0 8-4 4 0 4-4 4 1 8-4 4 0 4-4 4 0 8-4 4 0 20-4 4 0 8-12 12 0 4-12 12 0 4-8 8 0 4-4 4 0 8-4 4 0 8-4 4 0 8 4 4 0 16-4 4 0 8-4 4 0 12-5 4 1 20-4 4-1 20-4 4 0 16-3 4-1 16-4 4 0 20-4 4 0 20-4 4 1 16-4 4 0 16-4 4 0 12-4 4 0 12-4 4 0 8-4 4 0 8-4 4 0 12-5 4 0 16-4 4 1 16-5 4 0 8-15 16 0 4-4 4 0 4-4 4 0 4-4 4 0 4-4 4 0 4-4 4 0 4-8 8 0 4-12 12 0 4-8 8 0 12-5 4 0 8-32 33-4 0-11 11 0 4-8 8 0 8-4 4 0 4-5 4 0 8-4 4 1 8-5 4 1 8-4 4 0 8-4 4-1 8-4 4 0 12-4 4 0 16-3 4 0 24 4 4 0 56-4 4 0 8-4 4 0 8-8 8 0 12 4 4-4 4 0 8-5 5-8 0-4 4-4-4-8 0-4-4-4 0-8-8-4 0-4 3-4-3-8 0-4-4-4 0-5-5 0-8-4-4 0-20-4-4 0-16 4-4 1-20-4-4-1-8-4-4 0-8-4-4 0-12-4-4 0-4-4-4 0-4-31-31-4-1-12-12-4 0-12-12-4 0-4-3-4 0-4-4-4 0-21-21 0-4-8-8 0-4-4-4 1-8-4-4-1-8-4-4 1-32-4-4 0-8-5-4 1-8-5-4 0-12-4-4 0-16-8-8 0-4-32-32 0-4-4-4 0-8-4-4 0-12 4-4 0-12 4-4 0-12 4-4 0-16 4-4 0-8 4-4 0-8 4-4 1-8 4-4 0-12 5 12 17 12 3 4-2 4-8 8-9 20 0 8 3 16-6 12 0 8 3 8 14 20 6 12 4 4 14 6 4 5-6 29 0 12 2 8 9 16 1 12 5 12 9 16 21 12 9 8 3 16 9 12 0 4-6 6-3 10 1 8 6 8 4 4 8 2 16-2 12 0 8-3 12-23 10-10 0-4-3-12 2-8 7-6 11-2 3-4 7-20-1-16 10-28 1-8-2-8-17-21-4-3-8-2-20 3-19 11-5 6-5 14-3 3-4 2-8-1-4-3-8-9-2-8 2-4 28-8 11-12 4-8 1-12-1-12-4-12-7-12-1-8 1-4 28-9 16 0 4-2 2-5 0-8 2-4 12 2 4-1 6-5 1-4 0-4-5-8-14-11-8 1-8 6-4-2-6-22-5-8-5-3-16-4-16-9-1-4 1-4 4-4 24-2 8-3 4-3 8-12 9-4 5-12 6-5 4-1 6 2 10 10 4-2 4-8 4-14 12-8 5-6-1-8-13-8 4-8 6-20-3-8 1-4 5-7 4-1 8 3 12-1 4 1 3 5 2 12 1 16-1 4-7 8-1 4 3 4 4 2 8 1 12-3 12 2 8-3 2-3-5-16-7-8 0-4 2-2 4-1 4 2 4 5 16 9 8-3 5-6 0-4-3-12 7-16-4-16-5-13-11-11 2-12-6-24-11-12-6-15-8-10-1-3-1-16-6-8 4-1 4 4 12-1 16 6 4-1 1-3-1-5-12-3-4-3-1-5 1-5 4-3 8 4 8 7 6-3 1-4-3-4-12-5-6 1-2 3-8-5-5-6 0-4 5-7 4-3 12-3 8-7 4-24 7-20-4-24-12-12-8-16 1-4 4-4 21-16 2-4 2-28 3-8 12-10 8-11 12-7 4-4 1-4-2-12 2-16-3-8-14-5-20-11-8-3-8-1-8 1-12 8-15 23 2 20-6 12-3 4-21 8-7 8-2 12 1 16-1 4-24 10-16 2-5 4-15 24-12 8-3 4-9 28 2 20-2 9-24 14-13 13-15 6-8 6 0-8 7-8 0-4 8-8 0-4 4-4 0-4 8-8 0-4 8-8 0-4 4-4 0-4 8-8 0-4 4-4 0-8 5-4 0-4 4-4 0-4 20-20 0-4 4-4 4 0 31-32 0-4 4-4 0-8 4-4 1-4 3-4 0-8 4-4 1-8 4-4 0-8 4-4 0-8 3-4 0-4 4-4 0-4 17-17 4 0 8-8 4 0 4-4 4 0 4-4 8 0 4-4 8 0 4-4 8 0 4-4 16 0 4-4 8 0 15-15 0-4 8-8 0-4 21-21 8 0 4-4 12 0zM497 468l-2 20 1 8 4 4 8 1 8-5 4-4 4-20-12-2-12-4zM372 820l-1 4 2 8-6 4-1 4 2 2 4-1 2-5 10-8-1-4-3-4-4-1zM385 864l-2 4 1 2 4 1 2-3-1-4-1-1zM300 1180l-7 4-13 12-7 20 1 12 5 8 9 10 8 3 12-2 14-7 2-4 4-20-4-24-20-11zM204 432l3 0-1 16 9 24-11 6-6 6-6 14-7 10-6 16-19 14-5 6-2 8 0 16-4 8-17 17-19 7-9 8 0-8 16-17 4 0 11-11 0-4 4-4 0-4 9-8 0-8 4-4 0-4 4-4 0-8 3-4 0-4 4-4 0-4 4-4 0-4 4-4 0-4 4-4 0-4 8-8 0-4 8-8 1-8 3-4 1-8 4-4 0-4zM256 472l16-4 8 2 4 4 3 6 0 12-3 3-8 0-9-3-15-10-6-2-1-4zM284 640l3 8-3 4-2-8zM92 662l1 10-5 13 0-13 4-4zM84 688l3 0-1 12 3 20-5 20 0-16 4-4-4-4 0-8-4-4 0-4 4-4zM516 995l20 0 4 4 8 0 5 5 0 8 4 4 0 4-4 4 0 12-4 4-1 8-4 5-8 0-4 3-4-4-8 0-4-4-4 0-8-8 0-4-4-4-1-8-4-4 0-4 4-4 0-8 5-4 8-1zM180 1115l4 0 4 4 8 1 4 4 1 8 4 4-4 4 0 8-13 13-8 0-4 4-4 0-4-4-9-1-4-4 1-8-4-4 4-4 0-8 11-12 9-1zM528 1212l24-1 4 4 8 1 4 4 1 4 4 4 0 8 4 4 0 8 4 4 0 4-4 4 0 8-9 9-8 0-4 4-4 0-4-4-8 0-8-8-4 0-17-17 0-8-4-4 0-8 4-4 0-8 5-5 8 1z" fill="#c8c8ff"/><path d="M544 56l4 0 4 4 8 0 4 4 8 0 4 4 0 4 8 8 0 4 8 8 8 0 4 4 0 8 4 4 8 0 4 4 8 0 4 4 12 0 4 4 8 0 4 4 4 0 8 8 0 8 4 4 0 8 8 8 8 0 4 4-2 12 2 3 0 9-4 4-4 0-4 4-4 0-4 4-4 0-8 8-4 0-8 8 0 4-4 4 0 56 4 4 0 16 4 4 0 12 4 4 0 16-4 4 0 12-4 4 0 6-4 6 0 4-4 4 0 8-4 4 0 4-4 4 0 8-4 4 0 20-4 4 0 8-12 12 0 4-12 12 0 4-8 8 0 4-4 4 0 8-4 4 0 8-4 4 0 8 4 4 0 16-4 4 0 8-4 4 0 12-4 4 0 20-4 4 0 17-4-3-4-1-4 1-8 7-7 3 2 4 9 4 12 2 0 6-4 4 0 16-11 4-1 4 3 8-9 16 3 16 3 2 0 18-4 4 0 16-4 4 0 12-4 4 0 12-4 4 0 8-4 4 0 8-4 4 0 12-4 4 0 16-4 4 0 16-4 4 0 8-16 16 0 4-4 4 0 4-4 4 0 4-4 4 0 4-4 4 0 4-4 4 0 4-8 8 0 4-12 12 0 4-8 8 0 12-4 4 0 5-6-1-1 4 1 4-2 4-24 24-4 0-12 12 0 4-8 8 0 8-4 4 0 4-4 4 0 8-4 4 0 8-4 4 0 8-4 4 0 8-4 4 0 8-4 5-4 2-7 5-5 11-12 5-7 8 0 4 7 1 12-7 12-6 0 8-4 4 0 24 4 4 0 56-4 4 0 8-4 4 0 8-8 8 0 12 4 4-4 4 0 8-4 4-8 0-4 4-4-4-8 0-4-4-4 0-8-8-4 0-4 4-4-4-8 0-4-4-4 0-4-4 0-8-4-4 0-20-4-4 0-16 4-4 0-12 2 8 15 24 7 19 1 1 4 0 7-12 4-2 14-6 10 0 5-4 2-16 5-16-4-12 1-12-5-8-23-20 3-12-2-12 6-10 1-6-1-8-3-4-9-5-12 0-12-5-4 1-8 5-6 8-1 16-4 20 3 4 12 3 8-3 2-4-3-12 5-5 5 1 2 8-6 12 4 12-2 8-15 15-8 17-4 0 0-8-4-4 0-8-4-4 0-12-4-4 0-4-4-4 0-4-32-32-4 0-4-4 40-10 3-2 9-18 12-10 3-4 0-4-7-10-1-10 5-5 8-2 8 0 4-1 3-4 4-8 3-16-1-20 9-16 1-8 0-16-2-8-3-4-12-8-14-14-8-2-12 3-12 1-3-4 4-16 0-4-8-24 3-8 4-2 8-3 12-1 12-5 17-13 14-8 3-8 0-12-10-13-16-14-8-4-8-1-12-21-8-4-12 1-4-1-4-3 0-4 4-2 16-1 8-6 9-11 7-1 12 5 8-6 8-3 6 1 10 10 4 1 4-2 4 0 8 9 5-14-1-10-4-1-8 6-12-7-1-4 27-40 2-2 16 6 8 9 4 1 16-9 16-1 4-1 8-8 16-7 8-13 11-7 3-8-1-4-6-8 0-4 8-12-1-4-6-7-6-13-3-20-11-16-1-16-7-12 0-15-8-5-2-4 2-5 4 0 8 6 4 1 16-1 11-5 4-4 5-8 4 0 5 4 4 12 12 16 5 16 10 20 2 20 2 4 4 2 4 0 8-2 8-6 8-10 11-20 1-14-12-13-3-5 0-8 6-20 5-4 4-1 12 5 8 2 8 7 2-1 2-4-3-4-7-4-6-16 1-4 16-20 2-12 10-12 0-8-5-10-4 3-8 16-4 2-28-12-4 1-4 4 1 4 8 8 2 16 5 16-2 4-42-1-16-11-8 0-5 4-2 16-5 3-4 1-4-4-1-16-3-4-10-4 0-12-14-16 0-4 1-8 6-12 15-12 2-4 2-24-6-7-20 0-12-4-6-5-4-8 0-8 3-4 23-16 1-16 3-8 4-4 12-3 6-5 4-8-2-8 2-4 14-8 20-4 11 0-7-24-4-5-11-7-2-4 1-13 8-11 1-4-2-12-3-5-4-4-8-2-12 4-12 1-12 5-8 0-8 6-4 1-12-2-16 10-12 19-16 15 0 4 7 16-1 8-2 4-20 11-5 5-2 8-1 20-1 4-19 7-8-1-12-6 20-20 0-4 4-4 0-8 4-4 0-4 4-4 0-8 4-4 0-8 4-4 0-8 4-4 0-8 4-4 0-4 4-4 0-4 16-16 4 0 8-8 4 0 4-4 4 0 4-4 8 0 4-4 8 0 4-4 8 0 4-4 16 0 4-4 8 0 16-16 0-4 8-8 0-4 20-20 8 0 4-4 12 0zM561 156l-2 4 1 5 4 5 4 1 2-7-1-8-5-2zM564 232l-24 24-4 8 20 20 4 2 8-1 2 3-1 16 3 5 8 6 8 2 14-9 0-4-6-6-2-6 10-12 1-4-1-12 0-12-5-8-18-12-9-3zM530 304l-7 4-6 8 3 4 8 5 8 3 4-1 5-23-5-2zM503 320l-11 11-8 2-5 3 9 4 4 4 4 11 4-1 5-6 4-8 3-16 0-5-4-1zM603 348l-3 4-1 4 4 4 9 1 4-3 1-6-1-4-4-2-4-1zM463 656l5 6 2-2 1-4-3-2-4 0zM474 676l-2 8 4 10 16 2 3-4-1-4-2-4-12-9-4-1zM398 776l-1 4 0 16-4 8-9 3-20-5-4 2-7 8-4 16-5 8-12 5-2 3-1 4 15 20 4 3 12 3 24 16 16 0 16 8 3-2-6-8-1-8 4-20 2-4 13-8 2-4-2-8-10-16-1-8 1-4 11-11 4-9 0-2-4 0-12 7-4 1-4-3-8-16-4-1zM498 824l-1 4 5 4 8 0 4-4-6-6-4-2zM446 844l-3 4-1 4 2 5 12 2 8 4 4 0 8-7 1-4-5-4-16-5zM438 880l0 4 2 4 4 2 4-1 3-5-2-4-5-3-4 1zM332 912l-4 8 1 12-7 12 0 4 5 8 18 20 11 7 8 0 5-3 2-4 2-16 12-8 2-4 0-4-15-20-8-13-8-2-20 1zM480 152l4 0 4 2 3 6 0 4-7 0-9-4-1-4zM292 291l6 5 0 4-4 8-6 4-16 2 0-2zM268 320l4 6 1 6-2 8-7 16 4 20-4 5-20 14-12 11-16 8 0-2 4-4 0-4 8-8 0-4 4-4 0-4 8-8 0-4 8-8 0-4 4-4 0-4 8-8 0-4 4-4 0-8 4-4zM200 436l1 16 5 16-10 12-7 16-13 22-12 10-8 1 0-5 4-4 0-4 4-4 0-4 4-4 0-4 4-4 0-4 4-4 0-4 8-8 0-4 8-8 0-8 4-4 0-8 4-4zM264 476l12 0 4 3 2 5 0 4-2 3-4 0-8-3-9-8zM144 556l2 8-3 8-15 16-12 3 0-3 4-4 4 0 12-12 0-4 4-4 0-4zM284 707l4 2 1 3-1 5-4 2-4-1-2-6 2-4zM80 772l4 0 13 12-9 19-8 9-1 4 1 8 5 12-5 20 2 8 6 16-1 12 5 9 21 11 7 4 2 4 1 4-4 20 0 16 6 16 0 4-7 12-2 0 0-8-4-4 0-8-4-4 0-12-4-4 0-16-8-8 0-4-32-32 0-4-4-4 0-8-4-4 0-12 4-4 0-12 4-4 0-12 4-4 0-16 4-4 0-8 4-4 0-8 4-4zM208 947l4 2 1 3-1 4-4 2-4-2-2-4 2-3zM516 996l20 0 4 4 8 0 4 4 0 8 4 4 0 4-4 4 0 12-4 4 0 8-4 4-8 0-4 4-4-4-8 0-4-4-4 0-8-8 0-4-4-4 0-8-4-4 0-4 4-4 0-8 4-4 8 0zM120 1003l8 1 8 9 4 7 1 8-1 8 3 4 13-3 7 3 2 4 0 8 11 11 3 5-3 24 3 8-3 0-4-4-4 0-4-4-4 0-20-20 0-4-8-8 0-4-4-4 0-8-4-4 0-8-4-4zM180 1116l4 0 4 4 8 0 4 4 0 8 4 4-4 4 0 8-12 12-8 0-4 4-4 0-4-4-8 0-4-4 0-8-4-4 4-4 2-4-1-4 11-12 8 0zM179 1136l-8 8 1 2 4-2 8-8-4-2zM528 1212l24 0 4 4 8 0 4 4 0 4 4 4 0 8 4 4 0 8 4 4 0 4-4 4 0 8-8 8-8 0-4 4-4 0-4-4-8 0-8-8-4 0-16-16 0-8-4-4 0-8 4-4 0-8 4-4 8 0z" fill="#e6e6ff"/><path d="M540 68l4-3 4 2 2 5-2 5-8 8-2-9zM652 146l5 2 2 4-3 2-6-2-2-4zM596 151l12-2 8 1 4 3 5 7 1 8-1 8 1 12-1 4-5 3-8 1-20-5-2-3-5-24 3-8zM528 174l8 1 4 4 1 5-2 4-7 2-5-2-3-8 1-4zM580 195l8-2 4 1 7 18 0 8-3 4-4 2-8-2-9-4-4-4 0-4 1-8zM484 270l4-1 3 3-1 4-3 0-3-3zM444 307l4 1 1 4-1 10-4 4-8 2-6-4 1-4zM180 480l2 0 1 4 0 8-8 12-3 3-4-2 0-5 4-4 0-4 4-4 0-4zM576 524l6 4 2 8-3 8-5 2-8-4-3-6 0-4 3-5zM460 780l4-2 8 1 16 8 3 5 0 8-3 12-12 14-8 5-14-3-6-4-2-4 2-24 4-8zM480 891l9 5 2 4 0 4-7 2-4 0-4-3-1-7 1-3zM456 949l4 0 0 7-4 4-2 0 0-8zM320 1023l12-1 8 1 6 5 6 8 1 4-5 16 3 12-1 4-2 2-4 1-24-5-20-6-6-4 1-8 13-21 4-4zM272 1052l4 0 4 1 2 3-1 4-5 3-4-2-2-5z" fill="#ffe6e6"/></g>
<use href="#lines"/>
</g>
<rect x="0" y="0" width="185.9" height="333.1" fill="none" stroke="#1c1c1c" stroke-width="1.7"/>
<path d="M15.6,333.1v3.2" stroke="#111" stroke-width="1"/>
<text x="15.9" y="346.5" font-size="10.4" text-anchor="middle" textLength="22" lengthAdjust="spacingAndGlyphs">120E</text>
<path d="M93.0,333.1v3.2" stroke="#111" stroke-width="1"/>
<text x="93.3" y="346.5" font-size="10.4" text-anchor="middle" textLength="22" lengthAdjust="spacingAndGlyphs">121E</text>
<path d="M170.4,333.1v3.2" stroke="#111" stroke-width="1"/>
<text x="170.7" y="346.5" font-size="10.4" text-anchor="middle" textLength="22" lengthAdjust="spacingAndGlyphs">122E</text>
</g>
<text x="358" y="10.8" font-size="13.5" text-anchor="middle" textLength="94.3" lengthAdjust="spacingAndGlyphs" fill="#2a2a2a">GLDAS−BASE</text>
<g transform="translate(453.8,16.1)">
<g clip-path="url(#pc)">
<clipPath id="m3"><path d="M520 90l4 0 4 4 4 0 4-4 16 0 2 2 0 4 8 8 0 4 10 10 4 0 2 2 0 8 6 6 8 0 4 4 12 0 4 4 8 0 4 4 8 0 4 4 8 0 2 2 0 8 4 4 0 8 8 8 0 4 4 4 0 8-2 2-4 0-8 8-4 0-6 6 0 4-8 8 0 44-2 2-8 0-2 2 0 4-4 4 0 32 4 4 0 4 2 2 12 0 2-2 0-4 2-2 2 2 0 8 4 4 0 16-4 4 0 12-4 4 0 4-4 4 0 8-4 4 0 4-4 4 0 4-4 4 0 8-4 4 0 20-12 12 0 4-12 12 0 4-12 12 0 12-4 4 0 8-4 4 0 4-4 4 0 16 4 4 0 12-4 4 0 4-4 4 0 16-4 4 0 20-4 4 0 20-4 4 0 16-4 4 0 16-4 4 0 20-4 4 0 20-4 4 0 16-10 10-4 0-2 2 0 8-4 4 0 16-4 4 0 8-4 4 0 8-4 4 0 8-4 4 0 16-4 4 0 16-4 4 0 4-12 12 0 4-4 4 0 4-4 4 0 4-4 4 0 4-4 4 0 4-4 4 0 4-4 4 0 4-12 12 0 4-12 12 0 4-8 8 0 16-20 20 0 16-2 2-4 0-14 14 0 4-8 8 0 4-4 4 0 4-8 8 0 8-4 4 0 8-4 4 0 8-4 4 0 8-4 4 0 8-4 4 0 4-4 4 0 12-4 4 0 16-4 4 0 24 4 4 0 56-4 4 0 8-16 16 0 8 4 4 0 4-2 2-4 0-12-12-12 0-4 4-4-4-4 0-2-2 0-20-4-4 0-16 4-4 0-20-4-4 0-4-4-4 0-8-4-4 0-12-4-4 0-8-4-4 0-4-4-4 0-4-34-34-4 0-12-12-4 0-12-12-4 0-4-4-4 0-4-4-4 0-18-18 0-4-8-8 0-4-4-4 0-12-4-4 0-4 4-4 0-24-4-4 0-4-4-4 0-8-4-4 0-12-4-4 0-16-4-4 0-8-8-8 0-4 2-2 4 0 2-2 0-8-32-32 0-12 4-4 0-12 4-4 0-12 4-4 0-12-8-8 0-4 4-4 0-8 4-4 0-8 4-4 0-44 4-4 0-8-8-8 0-4 4-4 0-8 4-4 0-12 4-4 0-16 4-4 0-24 4-4 0-8 14-14 4 0 14-14 0-4 4-4 0-4 8-8 0-8 4-4 0-4 4-4 0-4 4-4 0-4 4-4 0-4 4-4 0-4 4-4 0-4 4-4 0-4 8-8 0-4 8-8 0-4 4-4 0-12 4-4 0-4 8-8 0-4 4-4 0-4 8-8 0-4 8-8 0-4 4-4 0-4 8-8 0-4 8-8 0-4 4-4 0-4 8-8 0-4 4-4 0-8 4-4 0-4 4-4 0-4 20-20 0-4 2-2 4 0 34-34 0-4 4-4 0-8 4-4 0-4 4-4 0-8 4-4 0-8 4-4 0-8 4-4 0-8 4-4 0-4 4-4 0-4 14-14 4 0 8-8 4 0 4-4 4 0 4-4 8 0 4-4 8 0 4-4 16 0 4-4 12 0 4-4 4 0 4-4 4 0 2-2 0-4 8-8 0-4 8-8 0-4zM512 1014l20 0 2 2 0 8-4 4 0 8-6 6-14-14 0-12zM172 1134l4 0 2 2-14 14-2-2 0-4zM520 1230l24 0 2 2 0 4 4 4 0 8 4 4 0 4-6 6-4 0-8-8-8 0-10-10 0-12zM320 1290l2 2-2 2-2-2z"/></clipPath><g clip-path="url(#m3)" transform="scale(0.25)" shape-rendering="auto"><path d="M520 90l4 0 4 4 4 0 4-4 16 0 2 2 0 4 8 8 0 4 10 10 4 0 2 2 0 8 6 6 8 0 4 4 12 0 4 4 8 0 4 4 8 0 4 4 8 0 2 2 0 8 4 4 0 8 8 8 0 4 4 4 0 8-2 2-4 0-8 8-4 0-6 6 0 4-8 8 0 44-2 2-8 0-2 2 0 4-4 4 0 32 4 4 0 4 2 2 12 0 2-2 0-4 2-2 2 2 0 8 4 4 0 16-4 4 0 12-4 4 0 4-4 4 0 8-4 4 0 4-4 4 0 4-4 4 0 8-4 4 0 20-12 12 0 4-12 12 0 4-12 12 0 12-4 4 0 8-4 4 0 4-4 4 0 16 4 4 0 12-4 4 0 4-4 4 0 16-4 4 0 20-4 4 0 20-4 4 0 16-4 4 0 16-4 4 0 20-4 4 0 20-4 4 0 16-10 10-4 0-2 2 0 8-4 4 0 16-4 4 0 8-4 4 0 8-4 4 0 8-4 4 0 16-4 4 0 16-4 4 0 4-12 12 0 4-4 4 0 4-4 4 0 4-4 4 0 4-4 4 0 4-4 4 0 4-4 4 0 4-12 12 0 4-12 12 0 4-8 8 0 16-20 20 0 16-2 2-4 0-14 14 0 4-8 8 0 4-4 4 0 4-8 8 0 8-4 4 0 8-4 4 0 8-4 4 0 8-4 4 0 8-4 4 0 4-4 4 0 12-4 4 0 16-4 4 0 24 4 4 0 56-4 4 0 8-16 16 0 8 4 4 0 4-2 2-4 0-12-12-12 0-4 4-4-4-4 0-2-2 0-20-4-4 0-16 4-4 0-20-4-4 0-4-4-4 0-8-4-4 0-12-4-4 0-8-4-4 0-4-4-4 0-4-34-34-4 0-12-12-4 0-12-12-4 0-4-4-4 0-4-4-4 0-18-18 0-4-8-8 0-4-4-4 0-12-4-4 0-4 4-4 0-24-4-4 0-4-4-4 0-8-4-4 0-12-4-4 0-16-4-4 0-8-8-8 0-4 2-2 4 0 2-2 0-8-32-32 0-12 4-4 0-12 4-4 0-12 4-4 0-12-8-8 0-4 4-4 0-8 4-4 0-8 4-4 0-44 4-4 0-8-8-8 0-4 4-4 0-8 4-4 0-12 4-4 0-16 4-4 0-24 4-4 0-8 14-14 4 0 14-14 0-4 4-4 0-4 8-8 0-8 4-4 0-4 4-4 0-4 4-4 0-4 4-4 0-4 4-4 0-4 4-4 0-4 4-4 0-4 8-8 0-4 8-8 0-4 4-4 0-12 4-4 0-4 8-8 0-4 4-4 0-4 8-8 0-4 8-8 0-4 4-4 0-4 8-8 0-4 8-8 0-4 4-4 0-4 8-8 0-4 4-4 0-8 4-4 0-4 4-4 0-4 20-20 0-4 2-2 4 0 34-34 0-4 4-4 0-8 4-4 0-4 4-4 0-8 4-4 0-8 4-4 0-8 4-4 0-8 4-4 0-4 4-4 0-4 14-14 4 0 8-8 4 0 4-4 4 0 4-4 8 0 4-4 8 0 4-4 16 0 4-4 12 0 4-4 4 0 4-4 4 0 2-2 0-4 8-8 0-4 8-8 0-4zM512 1014l20 0 2 2 0 8-4 4 0 8-6 6-14-14 0-12zM172 1134l4 0 2 2-14 14-2-2 0-4zM520 1230l24 0 2 2 0 4 4 4 0 8 4 4 0 4-6 6-4 0-8-8-8 0-10-10 0-12zM320 1290l2 2-2 2-2-2z" fill="#c8c8ff"/><path d="M544 54l4 0 4 4 8-1 4 4 8 0 7 7 0 4 8 8 0 4 5 5 8 1 6 6 0 8 2 2 8 0 4 4 8 0 4 4 12 0 4 3 8 0 4 4 4 0 10 11 0 8 4 4 0 8 6 6 8-1 7 7-1 8 4 4-4 4 0 8-6 6-4 1-4 4-4 0-4 4-4 0-8 8-4 0-6 5 0 4-4 4 1 56 4 4 0 16 4 4-1 12 4 4 0 16-3 4-1 12-4 4 0 8-4 4 0 4-3 4-1 8-4 4 0 4-3 4 0 8-4 4 0 20-4 4 0 8-13 12 0 4-12 12 0 4-8 8 0 4-4 4 0 8-4 4 0 8-4 4 0 8 4 4 0 16-4 4 0 8-4 4 0 12-4 4 0 20-3 4 0 20-4 4 0 16-4 4 0 16-4 4-1 20-4 4 1 20-4 4-1 16-4 4 0 16-4 4 0 12-4 4 0 12-4 4 0 8-4 4 0 8-4 4 0 12-3 4-1 16-4 4 1 16-4 4 0 8-16 16 0 4-4 4 0 4-4 4 0 4-4 4 0 4-4 4 0 4-5 4 0 4-7 8 0 4-12 12 0 4-8 8 0 12-4 4 0 8-35 34-4 0-10 10 0 4-8 8 1 8-4 4 0 4-5 4 1 8-4 4 0 8-4 4 0 8-4 4-1 8-4 4 0 8-4 4 0 12-4 4 1 16-4 4 0 24 3 4 0 56-4 4 0 8-4 4 0 8-8 8 0 12 4 4-4 4 0 8-6 6-8 0-4 4-4-4-8 0-4-4-4 0-8-8-4 0-4 4-4-4-8 0-4-4-4 0-6-6 0-8-4-4 0-20-4-4-1-16 4-4 0-20-4-4 0-8-4-4 1-8-4-4 0-12-4-4 0-4-5-4 0-4-29-30-4 0-4-4-2 2 0 8 4 4-4 4 0 8-14 14-8 0-4 4-4 0-4-4-8 0-6-6 0-8-4-4 4-4 0-8 14-14 8 0 4-4 4-1 4 4 8 1 1-2-1-1-4 0-12-12-4 0-4-5-4 0-4-4-4 0-23-22 0-4-7-8 0-4-4-4-1-8-4-4 0-8-4-4 1-32-4-4 0-8-4-4 0-8-4-4 0-12-4-4-1-16-8-8 0-4-32-32 0-4-4-4 0-8-4-4 0-12 4-4 0-12 4-4 0-12 4-4 0-16 4-4 0-8 4-4 0-8 4-4 0-8 4-4 1-44 4-4-4-4 0-8-4-4 0-4 4-4 0-8 4-4 1-12 3-4 0-16 4-4-1-24 4-4 0-8 4-4 0-8 19-19 4 0 10-9 0-4 3-4 0-4 8-8 0-8 4-4 0-4 4-4 0-8 4-4 0-4 4-4 0-4 4-4 0-4 4-4 0-4 4-4 0-4 8-8 0-4 8-8 0-8 4-4 0-8 4-4 0-4 8-8 0-4 4-4 0-4 8-8 0-4 9-8 0-4 4-4 0-4 8-8 0-4 8-8 0-4 3-4 0-4 8-8 0-4 4-4 0-8 4-4 1-4 4-4 0-4 19-20 0-4 4-4 3-3 4 0 29-29 1-4 4-4 0-8 4-4-1-4 4-4 0-8 4-4 1-8 4-4 0-8 4-4 0-8 4-4 0-4 4-4-1-4 19-19 4 0 8-8 4 0 4-4 4 0 4-4 8 1 4-4 8 0 4-4 8 0 4-5 16 0 4-4 8 0 13-13 0-4 9-8 0-4 22-23 8 1 4-4 12 0zM516 436l-2 4 0 4 2 1 6-1 4-4-2-4-4-1zM369 528l-1 4 1 4 3 5 4 3 4-4-2-12-2-2-4-2zM351 708l-10 8-1 8 2 4 14 7 4 0 12-5 2-2-1-4-11-16-2-2-4 0zM260 900l-3 4 3 4 7-4 1-4-4-1zM516 994l20-1 4 4 8 0 7 7 0 8 4 4 0 4-4 4 0 12-4 4-1 8-6 6-8 0-4 4-4-4-8 0-4-4-4 0-10-10 0-4-4-4 0-8-4-4 0-4 4-4 0-8 6-6 8 0zM528 1210l24 0 4 3 8 0 7 7 0 4 4 4 0 8 4 4-1 8 4 4 0 4-4 4 0 8-10 10-8 0-4 4-4 0-4-4-8 0-8-8-4 0-18-18 0-8-5-4 0-4 0-4 4-4 0-8 7-6 8 0z" fill="#e6e6ff"/><path d="M548 56l4 3 8 0 4 4 8 0 5 5 0 4 8 8 0 4 7 7 8 0 4 5 1 8 3 3 8 0 4 4 8 1 4 4 12-1 4 4 8 0 4 4 4 0 8 9-2 16 2 7 4 3 4-2 4 4 8-1 5 5 0 8 4 4-4 4-1 8-4 5-4 0-4 4-4 0-4 4-4 1-8 7-4 0-7 7 0 4-4 4 0 56 4 4 0 16 4 4-1 12 4 4 0 3-2 1 2 2 1 10-4 4 0 12-4 4-1 8-3 4 0 4-4 4 0 8-4 4 0 4-4 4 0 8-4 4 0 20-4 4 0 8-13 12 0 4-12 12 0 4-8 8 0 4-3 4 0 8-5 4 0 8-4 4 1 8 4 4-1 16-10 8 2 5 0 14-4 5 1 20-4 4 0 20-4 4 1 16-4 4-1 16-4 4 0 20-4 4 0 20-4 4-1 16-4 4 0 16-4 4 0 12-3 4 0 12-5 4 0 8-3 0 0-4-5-12 3-12-2-4-5-4-8-2-4 3-8 14 0 23 3 6 5 0 8-4 12-3 0 11-3 4 0 12-4 4 0 16-4 4 1 16-4 4 0 8-16 16 0 4-4 4-1 4-4 4 0 4-4 4 0 4-4 4 0 4-4 4 0 4-8 8 0 4-11 12 0 4-8 8 0 12-4 4 0 8-34 33-4 0-8 7-3 0-5-4-4-7-8-5-8 1-8-3-6 2-3 4 9 8 2 8 3 4 7 2 12-1 4 3-3 4 0 8-4 4 0 4-4 4 0 8-4 4 0 8-4 4 0 8-4 4-1 8-4 4 0 8-3 4 0 12-4 4 0 16-3 4-1 24 4 4 0 56-4 4 0 8-4 4 0 8-8 8-1 15-24-6-8 5-4 1-3-3-3-4 1-4 5-4 8-3 7-9 0-4-7-2-20 6-14 16 9 12 2 4-1 4-4-4-8 1-4-4-4 0-4-5 6-8 0-4-6-8-4-1 0-11-4-4-1-16 3-4 0-20-4-4 1-8-4-4 0-8-4-4 0-12-4-4 0-4-4-4 0-4-31-32-4 0-12-11-4 0-12-12-4 0-4-4-4 0-4-4-4 0-21-21 0-4-8-8 0-4-4-4 0-8-4-4-1-8-4-4 1-32-4-4 1-8-4-4 0-8-5-4 0-12-4-4 0-16-8-8 0-4-33-32 0-4-4-4 0-8-4-4 0-12 4-4 1-12 4-4 0-12 4-4 0-16 4-4 0-8 3-4 0-8 4-4 1-8 4-4 1-24 9 0 1-4 0-8 2-12-4-4-8 0-1-8-4-4 1-4 4-4 0-6 4 2 4 4 4 1 4-4 2-5-6-19-4-5 0-12 3-4 0-24 4-4 0-8 4-4 0-8 17-17 4 0 12-11-1-4 4-4 0-4 7-8 0-8 4-4 0-4 4-4 1-8 4-4 0-4 4-4 0-4 3-4 0-4 4-4 0-4 5-4 0-4 8-8 0-4 7-8 0-8 4-4 0-8 5-4 0-4 8-8 0-4 4-4 0-4 8-8 0-4 8-8 0-4 4-4 0-4 9-8 0-4 7-8 0-4 4-4 0-4 7-8 0-4 5-4 0-8 4-4 0-4 4-4 0-4 20-20-1-4 4-4 2-2 4 0 31-30 0-4 4-4 1-8 3-4 0-4 4-4 0-8 4-4 1-8 4-4 0-8 3 0 1 1 4-1 0-4-4 3 0-11 4-4-1-4 4-4 0-4 17-17 4 0 8-8 4 0 4-4 4 0 4-4 8 0 4-4 8 1 4-4 8-1 4-4 16 0 4-4 8 0 14-15 0-4 10-8 0-4 2 0 2 5 8 7 8-2 12 4 4-1 8-9 16 11 6-11 1-8-2-4-11-8-3-8 0-4zM552 108l-5 8 1 2 4 1 4-3 0-4 0-3zM430 132l-2 0-12 20-4 15-4 6-4 0-16-9-4 1-5 7 0 4 12 16 13 7 4 10 4 5 4 2 4 0 4-4 9-20 1-16 2-4 4 0 8 9 4 1 16-4 3 10-2 4-13 1-5 7 0 4 9 4 8-1 4 1 16 12 4 0 4-4 2-4-2-6-9-10 9-14 4 2 7 12 5 3 8-1 9-6 2-4 0-4-3-4-16-8-12 0-4-4-4-1-20 4-4-7-2-12-2-2-8 3-8-1-9-8-7-12zM538 156l-6 4 0 5 4 4 4-2 3-7-2-4zM539 208l-3 1-2 7 2 4 4 1 4-2 2-3-2-5zM584 216l-1 4 5 8 1 4 2 20 1 1 4 0 8-5 1-4 0-4-7-16zM454 228l-2 4 2 4 2 1 4 0 3-5-1-4-2-2zM419 252l-5 4-2 4 4 8 4 3 4 0 16-5 3-2 2-4-1-6-8-4-8-2zM575 256l-6 8 3 14 8 3 9-1 3-2 3-6 1-4-4-9-4-4-8-1zM560 288l-8 6-12 4-8 8-3 10 2 28-2 8-9 11-4 3-8 0-5 2-1 8 2 4 8 4 4-1 8-7 16 0 8 2 3 2 1 4-6 16 2 4 8 5 16 3 8 15 4 2 4-3 0-6-4-7-16-12-3-5-1-4 1-4 15-14 12-1 8-5 7-8 1-4 0-8-4-8-4-2-4 0-8 7-4 0-10-9-18-4 9-16-1-12 5-4 3-4 1-4-1-4-4-4zM629 288l-18 4-4 4 0 4 13 23 4 3 4 0 8-3 3-3 1-4-2-12 0-12-2-3zM432 308l-16 1-6 3-3 4 13 6 4 6-12 2-7 6-4 16 1 4 3 4 15 3 4-2 4-4 4-13-6-12 2-1 12 8 4 0 7-3 5-4 16-1 4-4 4-7-1-4-7-5-4 0-16 5-12-7zM579 312l3 4 3 0 1-4-2-2zM420 400l-1 8 2 4 11 8 4-3 0-2-12-15zM514 424l-10 12-12 8-12 16-1 4 9 15 0 6-4 1-12-4-4 1-4 6-2 19-5 8-9 6-3-2 2-12-1-4-5-4-12-4-7-4 2-8 8-7 2-5-2-4-8-6-4 3-4 8-4 3-8-1-12-6-4 1-4 10-9 16-15 11-8 2-3-1-2-12-19-24-4-12-4-5-6 5-2 4 0 8-4 5-8 2-4-1-8-5-7-1-1 4 4 8 0 14 11 10 4 8-4 20 1 4 4 3 12-4 6 1 9 12 13 8 4 7 4 3 8 1 12-7 12 0 8-4 4 0 7 4 10 12 4 8-3 12 0 4 6 8-5 4-11 0-11-4-1-4 4-12 1-16-2-4-7-4-4 0-4 16-3 4-13 4-3 4 7 16 12 9 8 15 4 3 8 1 12 6 4-4 9-14 1-8-3-8 17-8 7-8 1-8 3-4 9-4 4-4-6-12 0-4 10-16 22-20 2-4-2-8 1-4 5-2 7 6 5 2 4-1 4-5 1-4-7-12 0-4 2-4 4-3 4 1 3 2 7 12 22 4 16 11 8 1 9-4 0-16 9-16 0-16-2-3-4-1-4 2-8 14-4 3-16-12-5-19-7-16-4-2-12-4-8 0zM306 432l-1 4 3 4 8 6 4-1 2-5 1-4-7-5-4 0zM547 544l-3 8 1 4 3 2 8-1 7-9-4-4-3-1-4-1zM274 552l-4 4-1 4 14 28 4 4 5 2 8 0 4-6-1-4-9-12-2-16-12-6zM525 564l-9 10-7 2 0 4 3 4 4 0 1-4 4-4 12-8 0-4-1-1zM488 584l-5 4 0 4 9 7 8 2 16-5 1-4-1-8-4 0-4 3-4-6zM341 636l-8 8 2 12-2 4-23 16-4 8-15 16-4 8 0 4 7 12 1 16 6 12 1 8 2 3 4 0 6-3 2-8-2-8 2-4 24 17 16 5 12 5 4-1 2-2 3-12 3-4 16-9 20 11 8 1 4-2 3-5 0-8-7-8-10-32-2-2-12-1-25-9-5-8-1-8 6-20-3-2-12-2-12-10zM513 660l-4 20-13 3-4 3-3 6 3 6 4 1 8-2 8-15 8-2 4-3 6-9 1-4-5-4-10-2zM534 664l6 5 4-5-4-3zM446 728l-2 4 5 4 7 0 4-4 0-4-4-3zM421 768l-9 12-2 8 2 5 8-2 13-15-1-6-4-4-4 0zM278 772l-6 6-8 0-5 2-1 4 3 12 0 4-13 8 1 4 8 8 3 8-1 12-5 8-1 12-4 8 1 4 6 2 4 0 2-2 5-12 5-4 4 2 8 8 4 1 8-2 7-9 5-3 4 0 11 3 1 9 4-1-1-8 5-2 20-3 12-3 5 8 3 3 4-1 8-14-1-8-7-6-12-2 16-10 12 0 4-1 7-5 7-8 0-4-2-5-16-1-12 6-20 0-4 2-7 14-5 3-16 2-10-1-8-4-1-4 3-1 20-19 0-12-4-6-4 1-8 5-18 8-1 4 1 4 9 16-23 10-4-2-2-4 1-16-5-12 1-4 1-2 12-3 3-3 1-4-4-3-4 0zM456 796l0 4 3 4 5-1 2-7-2-3-4 0zM440 824l-9 4-2 4-2 12-6 4-9 3-12-3 2 20-4 8 1 4 13 6 5-2-1-16 8 0 8 4 2 4 0 4-11 12-1 4 1 4 3 4 10 3 8-2 3-5 1-4-4-12 4-17-6-19 1-4 11-8 3-8-1-4-4-4zM179 864l2 8-3 12 2 3 5-3 0-8-2-12zM344 872l-4 30-4 0-5-6-23-13-10 5-2 3-12-7-16-2-23 14-10 8-2 8 2 8 9 16 4 1 8-3 6-10 10-3 8-7 11-6 4-4 1-3 1 3 6 4 21 3 8 4 4 0 8-3 15 0 3-4-2-12 2-4 8-8 0-4-18-10-4-1zM239 952l1 5 4 4 0-5-4-7zM334 960l-4 4 1 4 5 2 8-1 4-5-4-5-4-1zM136 976l0 7 4 0 0-7zM342 988l-5 4-5 9-2 7 2 3 18-19-5-4zM361 988l0 4 3 1 4-5-4-1zM312 1056l0 8 5 8 4 12 8 4 11 2 7-2 4-4 2-4-1-4-8-7-28-15zM528 60l2 0 0 8-4 8-10 5-12-2 0-3 12-13 8 0zM388 507l4-2 24 5 12 8 8 4 8 1-1 5-3 4-8 1-19-9-9-7-12-2zM428 575l5 1 10 8-3 2-4 1-11-3-1-4zM320 691l4-1 5 2 8 8 0 4-9 3-4-2-4-5-1-8zM516 995l20 0 4 4 8 0 5 5 0 8 4 4 0 4-4 4 0 12-4 4 0 8-5 4-7 0-5-3-4 3-8 0-4-4-4 0-8-8-1-4-4-4 0-8-4-4 0-4 5-4 0-8 4-5 8 0zM180 1115l4 0 4 4 8 0 4 5 0 8 4 4-4 4 0 8-12 12-8 0-4 4-4 0-4-4-8 1-4-4-1-9-3-4 4-3 8 1 4-2 0-4-2-4-6-1 0-3 8-9 8 0zM528 1212l24-1 4 4 8 0 5 5 0 4 4 4 0 8 4 4 0 8 3 4 0 4-3 4-1 8-8 9-8 0-4 3-4 0 0-10-4-5-4 1-2 2-1 4 2 4-3 0-8-7-4 0-16-17-1-8-4-4 0-4 0-4 4-4 0-8 5-5 8 0z" fill="#ffe6e6"/><path d="M488 96l4 0 0 4-1 4-7 7-8 3 0-2 12-12zM592 115l4-1 16 3 5 3 1 4 0 4-8 12 4 16-1 4-5 4-8 0-9-16-12-8-1-4 2-2 8-1 3-5-1-8zM652 150l1 6 11 16 21 8 2 4-3 10-8 6-4 0-8 7-20-2-8 5-18-6-5-4 2-8 14-20 16-8 5-4zM588 179l4-1 4 2-4 8-4 2-4-2-1-4zM372 208l4-1 4 1 3 4-3 16 8 25-2 3-2 1-16-3-8 3-12 11-11 16-1 4 2 8 6 8 8 2 16-1 7 3 2 4-1 4-11 16-13 13-11 7 3 13 4 1 8-4 8 1 9 9 9 4 3 4 0 12 5 8 1 4-15 2-16-4-16 1-6-3-4-12-2-2-12-1-4 1-3 6 2 12 9 12-4 4-28 1-16-2-4-3-4-16-8-8-1-4-2-20 1-16-2-4 4-4 0-4 4-4 0-2 8 5 4 0 4-3 4-12 1-12 2-4 8-8-3-5 0-7 4-4 4-1 12-11 4-1 4 3 4 0 3-2 5-12 12-17 4-3 16 3 4-3 3-8 0-4-3-6-8-5-6 3-10 2 0-6 4-1 12 0zM327 332l-2 4 1 4 6 6 4 0 1-2-1-8-4-4zM297 368l-1 4 4 4 8 3 5-3 3-8-4-3-4-1zM508 223l4-1 4 1 4 8 4 3 12 3 4 3 2 12-1 12 1 8-2 4-4-2-6-14-6-6-4-1-8 8-8 3-8 0-7-4 0-4 5-16 5-8zM560 230l4 1 0 6-5-1-1-4zM456 276l3 4-1 12-2 4-4 0-12-7-5-5 1-4 4-2zM380 286l4-1 3 3-1 4-4 0-6-4zM620 393l4 0 8 2 4 3 0 6-4 3-8 2-8 4-7-1-1-4 2-4zM456 403l5 1 0 4-1 3-4 1-3-4 1-4zM220 404l4 4 0 6-4 14 2 12-2 4-6 4-2 4-1 4 6 8-7 16 4 12 10 11 9 17-1 4-6 8-2 20-1 4 4 16 5 6 4 1 16-5 8 6 3 4 1 4-3 12 3 5 10 7 2 3 2 9-2 5-4 3-8 0-4 4 0 4 4 3 12-2 4 2 4 5 1 4-4 8-5 5-8-1-12-12-4 1-3 3-1 4 12 32 5 8 3 16 12 16 0 4-8 8-3 16-5 3-4 1-4-3-5-9-1-4 6-4 3-4 0-4-5-16-6-8-4-3-8 7-5 16-19 14-2 2 0 4 2 2 16-2 4 2 4 10 6 8 0 4-2 4-8 3-4-1-8-6-4-1-8 7-8 2-8-4-8-8-2-4 1-16-6-8-5-5-22-7-6-4-2-4 6-8 8-6 12-2 4-4 0-4-4-8-8-8-2-8-10-16-4-4-8-1-4-2-2-5-17-12-2-4 1-5 4-6 4-2 12 1 12 3 3 5-2 8 2 4 11 8 10 18 8 2 13-4 3-4 4-17 19-19 1-4-2-4-10-8-6-8 2-16-4-3-8-1-3 4 3 16-4 4-4-1-12-7-8-7-10-5 4-12-2-5-11-7 6-8 0-8 4-4 0-4 4-4 1-8 4-1 4 2 8 7 4 1 4-2 0-4-8-4-3-3-5-12 3-4 1-4 3-4 1-4 4-6 13-6-1-12 4-4 0-8 4-4 0-8 4-4 0-4 8-8 0-4 4-4 0-4 8-8zM184 548l0 4 4 4 4 1 4-2 1-3-5-6-4-1zM360 423l5 1 2 4-7 0-1-4zM376 423l4-2 4 1 4 6-4 4-8-2-4-2zM344 447l5 5-1 4-4 1-3-1-2-4 1-3zM356 472l4-1 5 5 0 8-5 4-4-2-5-6 0-4zM552 521l4 0 2 3-1 4-1 1-4-3zM480 563l5 1 1 4-2 1-5-1-1-4zM544 579l2 5-1 4-1 2-4-1-1-5 1-3zM116 600l4 2 2 6-2 7-4 1-4-4-1-4 1-4zM568 604l4-2 0 14-4 4 0 16-4 4 0 16-4 1-8-8-12-5-5-20 9-14 4-3 12 14 4 1 3-2-2-8zM300 624l4 2 0 5-4 6-4 0 0-9zM436 625l4-1 16 10 8 1 3 1-2 4-9 7-24-1-2-2-1-4 3-10zM488 627l8 1 3 4 1 4-4 9-8 6-4 0-3-7zM436 666l4 0 2 2 1 4-3 6-4-1-2-5zM128 682l4 0 9 6 5 8 0 4-14 14-8 1-12-2-1-5 2-4 11-18zM444 696l4-2 4 1 12 8 16 6 4 3 2 4-2 5-4 4-4 0-4-3-12-10-15-8-2-4zM516 702l4 0 2 2 1 4-3 5-4 1-4-4 0-2zM136 746l1 6-1 4-4-4zM92 760l4 1 8 4 12 10 5 9 0 4-2 12 17 19 4 1 12-5 8-1 12 5 8-1 5-2 3-8 18 16 2 4-3 8-13 10-20 0-16 8-4-4-3-6-5-5-8-4-4 3-4 10 1 4 11 20 17 16-9 3-12-3-8 1-5 3-6 16-5 3-14-15 10-12 1-4 2-12-1-4-2-3-16-1-7 4 3 12-2 4-6 4-2 4 2 8 4 4-4 5-4-1-13-12 0-4-4-4 0-8-4-4 1-12 4-4 0-9 9-3 6-4 2-4-2-4-7-5 0-11 9-4 3-4-1-4-7-8 3-4 0-8 4-4 1-6 9-6zM488 762l2 2 1 4-3 2-3-2 0-4zM480 796l4-3 3 3 2 4-1 5-4 2-4-1-1-6zM228 811l4-1 10 14 0 4-6 6-4 0-4-2-3-4-1-8zM516 851l4-2 0 7-4 4 0 8-15 16-1 4-4 4 0 4-7 4-3 8-10 8-4 8 0 16-12 12 0 4-8 8 0 12-3 4-1 8-4 4-4 1-20 1-12 17-4 1-4-2-4-6-4-16-8-14-4-4-12-5-2-5 0-4 2-2 12-2 3-4 1-12 8-6 8-14 1-4-2-4-9-8-1-4 7-4 4 0 7 4 6 16 7 7 4 2 12 1 8-1 6-5 19-24-7-24 2-6 16-4 8-5 16 3zM423 940l-23 3-4 9 1 4 11 8 12 6 8 1 4-1 4-6 2-16-2-5-4-3zM112 919l2 5-1 4-5 4-4 0-1-4 1-2 4-5zM348 923l8-1 5 2 4 4 0 4-1 16-4 4-8-2-5-6-4-12 1-4zM292 928l4 0 3 4-7 10-4 14-8 5-10-1-4-4 1-4 2-4 19-18zM152 935l8-1 9 2 3 4-4 4-8 1-9-5-1-4zM196 950l8 1 17 9 3 2 3 6-1 4-10 4-4 5-3 7-1 16-4 3-8-3-4-4-2-4 3-12-2-4-8-4-3-8 0-8 3-4zM300 964l4 0 2 4-1 4-5 8-8 3-1-3zM156 974l4 0 12 3 5 3 2 4 2 12 0 16-4 16 3 2 24 4 12-4 8-1 4 2 4 3 9 22-5 12-1 8 4 4 13 7 20-8 7 1-2-4-5-2-4-5-3-9 9-8 6-12 12 2 8-5 4 3-5 8 4 28-7 12-1 16 2 8-5 3-12-1-3 2-2 4 2 12-5 6-8-1-16-14-4 1-8 15-4 0-6-7-1-8 3-7 8-6 8-1 8-6 2-4-2-7-4 2-12 11-4 1-4-2-3-5-2-16-3-4-12-4-12 4-4-1-8-7-4-2-8 1-5-3-1-4 8-8 3-8-5-14-10-6 0-8 3-12-9-4-6-8 0-12 2-6zM272 983l14 1 1 4-2 8 2 4 5 4 8 2 2 2-2 8-4 4-12 5-8 13-8-5-4-5-1-4 4-12-6-12-1-4 4-8zM552 1011l4 5 0 4-5-4 0-4zM124 1020l4 2 5 10 0 4-5 4-4 0-1-8-3-4 0-8zM372 1087l4-3 0 6-2 2-22 11-5 1 2-4 3-1 8-8zM316 1111l4-1 4 2 0 4-4 3-4 0-5-3 3-4zM312 1150l4-1 5 3 1 4-1 16 3 5 4 3 4-1 4-3 12-19 4-2 4 1 0 27-8 8-12 5-13 12-5 8 1 12-3 6-12 6-8 9-8 2-8-2-20-13 4-4-1-20-3-4 0-7 7-5 3-12 5-4 9-2 4 1 8 7 4 0 4-2zM356 1211l4-1 0 10 0 8-4 1-3-1-1-12zM548 1238l4 0 5 2 2 4-1 4-2 3-4 0-7-3-1-4z" fill="#ffc8c8"/><path d="M308 310l12 1 2 1 1 4-3 4-12 8-4-1-2-7 2-7zM300 332l4-3 4 3 3 8 0 8-7 5-8-3-4-6 0-4 2-4zM280 379l8 2 12 14 1 9-4 4-9 0-5-4-6-20zM200 506l4 0 5 2 2 4-3 6-4 1-6-3-2-4zM160 551l4 1 4 4 2 4-1 4-5-2-6-6 0-4zM224 592l20-2 4 2 2 8-2 11-28-11-3-4 3-4zM184 680l8 1 5 3 1 4 0 8-2 9-4 2-8-11-4-8 0-4zM96 779l8 1 2 4-17 0zM108 810l8 2 7 8 0 8-7 7-4 1-4-4-5-12 0-4 1-3z" fill="#ffb4b4"/></g>
<use href="#lines"/>
</g>
<rect x="0" y="0" width="185.9" height="333.1" fill="none" stroke="#1c1c1c" stroke-width="1.7"/>
<path d="M15.6,333.1v3.2" stroke="#111" stroke-width="1"/>
<text x="15.9" y="346.5" font-size="10.4" text-anchor="middle" textLength="22" lengthAdjust="spacingAndGlyphs">120E</text>
<path d="M93.0,333.1v3.2" stroke="#111" stroke-width="1"/>
<text x="93.3" y="346.5" font-size="10.4" text-anchor="middle" textLength="22" lengthAdjust="spacingAndGlyphs">121E</text>
<path d="M170.4,333.1v3.2" stroke="#111" stroke-width="1"/>
<text x="170.7" y="346.5" font-size="10.4" text-anchor="middle" textLength="22" lengthAdjust="spacingAndGlyphs">122E</text>
</g>
<text x="547.5" y="10.8" font-size="13.5" text-anchor="middle" textLength="100.3" lengthAdjust="spacingAndGlyphs" fill="#2a2a2a">GSOIL−GLDAS</text>
<g transform="translate(220.7,0)">
<rect x="0" y="345.75" width="12.8" height="17.15" fill="#ffffff"/>
<rect x="0" y="328.90" width="12.8" height="17.15" fill="#e1e1ff"/>
<rect x="0" y="312.06" width="12.8" height="17.15" fill="#c3b4fa"/>
<rect x="0" y="295.21" width="12.8" height="17.15" fill="#a08cff"/>
<rect x="0" y="278.36" width="12.8" height="17.15" fill="#6450dc"/>
<rect x="0" y="261.51" width="12.8" height="17.15" fill="#3c28b4"/>
<rect x="0" y="244.67" width="12.8" height="17.15" fill="#1e0aa0"/>
<rect x="0" y="227.82" width="12.8" height="17.15" fill="#0a46c8"/>
<rect x="0" y="210.97" width="12.8" height="17.15" fill="#3c8ce6"/>
<rect x="0" y="194.12" width="12.8" height="17.15" fill="#78b9fa"/>
<rect x="0" y="177.28" width="12.8" height="17.15" fill="#0aa00a"/>
<rect x="0" y="160.43" width="12.8" height="17.15" fill="#32d23c"/>
<rect x="0" y="143.58" width="12.8" height="17.15" fill="#50f050"/>
<rect x="0" y="126.73" width="12.8" height="17.15" fill="#96f08c"/>
<rect x="0" y="109.89" width="12.8" height="17.15" fill="#f5e678"/>
<rect x="0" y="93.04" width="12.8" height="17.15" fill="#fac33c"/>
<rect x="0" y="76.19" width="12.8" height="17.15" fill="#ffa00a"/>
<rect x="0" y="59.34" width="12.8" height="17.15" fill="#ff640a"/>
<rect x="0" y="42.50" width="12.8" height="17.15" fill="#e1140a"/>
<rect x="0" y="25.65" width="12.8" height="17.15" fill="#8c0000"/>
<rect x="0" y="8.80" width="12.8" height="17.15" fill="#640000"/>
<path d="M0,345.75h12.8" stroke="#555" stroke-opacity="0.45" stroke-width="0.5"/>
<path d="M0,328.90h12.8" stroke="#555" stroke-opacity="0.45" stroke-width="0.5"/>
<path d="M0,312.06h12.8" stroke="#555" stroke-opacity="0.45" stroke-width="0.5"/>
<path d="M0,295.21h12.8" stroke="#555" stroke-opacity="0.45" stroke-width="0.5"/>
<path d="M0,278.36h12.8" stroke="#555" stroke-opacity="0.45" stroke-width="0.5"/>
<path d="M0,261.51h12.8" stroke="#555" stroke-opacity="0.45" stroke-width="0.5"/>
<path d="M0,244.67h12.8" stroke="#555" stroke-opacity="0.45" stroke-width="0.5"/>
<path d="M0,227.82h12.8" stroke="#555" stroke-opacity="0.45" stroke-width="0.5"/>
<path d="M0,210.97h12.8" stroke="#555" stroke-opacity="0.45" stroke-width="0.5"/>
<path d="M0,194.12h12.8" stroke="#555" stroke-opacity="0.45" stroke-width="0.5"/>
<path d="M0,177.28h12.8" stroke="#555" stroke-opacity="0.45" stroke-width="0.5"/>
<path d="M0,160.43h12.8" stroke="#555" stroke-opacity="0.45" stroke-width="0.5"/>
<path d="M0,143.58h12.8" stroke="#555" stroke-opacity="0.45" stroke-width="0.5"/>
<path d="M0,126.73h12.8" stroke="#555" stroke-opacity="0.45" stroke-width="0.5"/>
<path d="M0,109.89h12.8" stroke="#555" stroke-opacity="0.45" stroke-width="0.5"/>
<path d="M0,93.04h12.8" stroke="#555" stroke-opacity="0.45" stroke-width="0.5"/>
<path d="M0,76.19h12.8" stroke="#555" stroke-opacity="0.45" stroke-width="0.5"/>
<path d="M0,59.34h12.8" stroke="#555" stroke-opacity="0.45" stroke-width="0.5"/>
<path d="M0,42.50h12.8" stroke="#555" stroke-opacity="0.45" stroke-width="0.5"/>
<path d="M0,25.65h12.8" stroke="#555" stroke-opacity="0.45" stroke-width="0.5"/>
<rect x="0.3" y="345.75" width="12.2" height="16.85" fill="none" stroke="#999" stroke-width="0.6"/>
<text x="17.3" y="350.1" font-size="12" textLength="6.7" lengthAdjust="spacingAndGlyphs">5</text>
<text x="17.3" y="333.2" font-size="12" textLength="13.5" lengthAdjust="spacingAndGlyphs">10</text>
<text x="17.3" y="316.4" font-size="12" textLength="13.5" lengthAdjust="spacingAndGlyphs">15</text>
<text x="17.3" y="299.5" font-size="12" textLength="13.5" lengthAdjust="spacingAndGlyphs">20</text>
<text x="17.3" y="282.7" font-size="12" textLength="13.5" lengthAdjust="spacingAndGlyphs">25</text>
<text x="17.3" y="265.8" font-size="12" textLength="13.5" lengthAdjust="spacingAndGlyphs">30</text>
<text x="17.3" y="249.0" font-size="12" textLength="13.5" lengthAdjust="spacingAndGlyphs">35</text>
<text x="17.3" y="232.1" font-size="12" textLength="13.5" lengthAdjust="spacingAndGlyphs">40</text>
<text x="17.3" y="215.3" font-size="12" textLength="13.5" lengthAdjust="spacingAndGlyphs">45</text>
<text x="17.3" y="198.4" font-size="12" textLength="13.5" lengthAdjust="spacingAndGlyphs">50</text>
<text x="17.3" y="181.6" font-size="12" textLength="13.5" lengthAdjust="spacingAndGlyphs">55</text>
<text x="17.3" y="164.7" font-size="12" textLength="13.5" lengthAdjust="spacingAndGlyphs">60</text>
<text x="17.3" y="147.9" font-size="12" textLength="13.5" lengthAdjust="spacingAndGlyphs">65</text>
<text x="17.3" y="131.0" font-size="12" textLength="13.5" lengthAdjust="spacingAndGlyphs">70</text>
<text x="17.3" y="114.2" font-size="12" textLength="13.5" lengthAdjust="spacingAndGlyphs">75</text>
<text x="17.3" y="97.3" font-size="12" textLength="13.5" lengthAdjust="spacingAndGlyphs">80</text>
<text x="17.3" y="80.5" font-size="12" textLength="13.5" lengthAdjust="spacingAndGlyphs">85</text>
<text x="17.3" y="63.6" font-size="12" textLength="13.5" lengthAdjust="spacingAndGlyphs">90</text>
<text x="17.3" y="46.8" font-size="12" textLength="13.5" lengthAdjust="spacingAndGlyphs">95</text>
<text x="17.3" y="29.9" font-size="12" textLength="21.3" lengthAdjust="spacingAndGlyphs">100</text>
<text x="6" y="373.9" font-size="11.5" text-anchor="middle" textLength="42" lengthAdjust="spacingAndGlyphs">(W/m²)</text>
</g>
<g transform="translate(642.9,0)">
<rect x="0" y="344.91" width="13.2" height="17.99" fill="#00008c"/>
<rect x="0" y="327.22" width="13.2" height="17.99" fill="#0000ff"/>
<rect x="0" y="309.53" width="13.2" height="17.99" fill="#2828dc"/>
<rect x="0" y="291.84" width="13.2" height="17.99" fill="#5050f0"/>
<rect x="0" y="274.15" width="13.2" height="17.99" fill="#7878ff"/>
<rect x="0" y="256.46" width="13.2" height="17.99" fill="#8c8cff"/>
<rect x="0" y="238.77" width="13.2" height="17.99" fill="#a5a5ff"/>
<rect x="0" y="221.08" width="13.2" height="17.99" fill="#b4b4ff"/>
<rect x="0" y="203.39" width="13.2" height="17.99" fill="#c8c8ff"/>
<rect x="0" y="185.70" width="13.2" height="17.99" fill="#e6e6ff"/>
<rect x="0" y="168.01" width="13.2" height="17.99" fill="#ffe6e6"/>
<rect x="0" y="150.32" width="13.2" height="17.99" fill="#ffc8c8"/>
<rect x="0" y="132.63" width="13.2" height="17.99" fill="#ffb4b4"/>
<rect x="0" y="114.94" width="13.2" height="17.99" fill="#ffa0a0"/>
<rect x="0" y="97.25" width="13.2" height="17.99" fill="#ff8c8c"/>
<rect x="0" y="79.56" width="13.2" height="17.99" fill="#ff6e6e"/>
<rect x="0" y="61.87" width="13.2" height="17.99" fill="#ff461e"/>
<rect x="0" y="44.18" width="13.2" height="17.99" fill="#c8140a"/>
<rect x="0" y="26.49" width="13.2" height="17.99" fill="#960000"/>
<rect x="0" y="8.80" width="13.2" height="17.99" fill="#640000"/>
<path d="M0,344.91h13.2" stroke="#555" stroke-opacity="0.45" stroke-width="0.5"/>
<path d="M0,327.22h13.2" stroke="#555" stroke-opacity="0.45" stroke-width="0.5"/>
<path d="M0,309.53h13.2" stroke="#555" stroke-opacity="0.45" stroke-width="0.5"/>
<path d="M0,291.84h13.2" stroke="#555" stroke-opacity="0.45" stroke-width="0.5"/>
<path d="M0,274.15h13.2" stroke="#555" stroke-opacity="0.45" stroke-width="0.5"/>
<path d="M0,256.46h13.2" stroke="#555" stroke-opacity="0.45" stroke-width="0.5"/>
<path d="M0,238.77h13.2" stroke="#555" stroke-opacity="0.45" stroke-width="0.5"/>
<path d="M0,221.08h13.2" stroke="#555" stroke-opacity="0.45" stroke-width="0.5"/>
<path d="M0,203.39h13.2" stroke="#555" stroke-opacity="0.45" stroke-width="0.5"/>
<path d="M0,185.70h13.2" stroke="#555" stroke-opacity="0.45" stroke-width="0.5"/>
<path d="M0,168.01h13.2" stroke="#555" stroke-opacity="0.45" stroke-width="0.5"/>
<path d="M0,150.32h13.2" stroke="#555" stroke-opacity="0.45" stroke-width="0.5"/>
<path d="M0,132.63h13.2" stroke="#555" stroke-opacity="0.45" stroke-width="0.5"/>
<path d="M0,114.94h13.2" stroke="#555" stroke-opacity="0.45" stroke-width="0.5"/>
<path d="M0,97.25h13.2" stroke="#555" stroke-opacity="0.45" stroke-width="0.5"/>
<path d="M0,79.56h13.2" stroke="#555" stroke-opacity="0.45" stroke-width="0.5"/>
<path d="M0,61.87h13.2" stroke="#555" stroke-opacity="0.45" stroke-width="0.5"/>
<path d="M0,44.18h13.2" stroke="#555" stroke-opacity="0.45" stroke-width="0.5"/>
<path d="M0,26.49h13.2" stroke="#555" stroke-opacity="0.45" stroke-width="0.5"/>
<text x="17.6" y="349.2" font-size="12" textLength="22.5" lengthAdjust="spacingAndGlyphs">−50</text>
<text x="17.6" y="331.5" font-size="12" textLength="22.5" lengthAdjust="spacingAndGlyphs">−45</text>
<text x="17.6" y="313.8" font-size="12" textLength="22.5" lengthAdjust="spacingAndGlyphs">−40</text>
<text x="17.6" y="296.1" font-size="12" textLength="22.5" lengthAdjust="spacingAndGlyphs">−35</text>
<text x="17.6" y="278.5" font-size="12" textLength="22.5" lengthAdjust="spacingAndGlyphs">−30</text>
<text x="17.6" y="260.8" font-size="12" textLength="22.5" lengthAdjust="spacingAndGlyphs">−25</text>
<text x="17.6" y="243.1" font-size="12" textLength="22.5" lengthAdjust="spacingAndGlyphs">−15</text>
<text x="17.6" y="225.4" font-size="12" textLength="22.5" lengthAdjust="spacingAndGlyphs">−10</text>
<text x="17.6" y="207.7" font-size="12" textLength="15.5" lengthAdjust="spacingAndGlyphs">−5</text>
<text x="17.6" y="190.0" font-size="12" textLength="6.7" lengthAdjust="spacingAndGlyphs">0</text>
<text x="17.6" y="172.3" font-size="12" textLength="6.7" lengthAdjust="spacingAndGlyphs">5</text>
<text x="17.6" y="154.6" font-size="12" textLength="13.5" lengthAdjust="spacingAndGlyphs">10</text>
<text x="17.6" y="136.9" font-size="12" textLength="13.5" lengthAdjust="spacingAndGlyphs">15</text>
<text x="17.6" y="119.2" font-size="12" textLength="13.5" lengthAdjust="spacingAndGlyphs">25</text>
<text x="17.6" y="101.5" font-size="12" textLength="13.5" lengthAdjust="spacingAndGlyphs">30</text>
<text x="17.6" y="83.9" font-size="12" textLength="13.5" lengthAdjust="spacingAndGlyphs">35</text>
<text x="17.6" y="66.2" font-size="12" textLength="13.5" lengthAdjust="spacingAndGlyphs">40</text>
<text x="17.6" y="48.5" font-size="12" textLength="13.5" lengthAdjust="spacingAndGlyphs">45</text>
<text x="17.6" y="30.8" font-size="12" textLength="13.5" lengthAdjust="spacingAndGlyphs">50</text>
<text x="6.5" y="373.9" font-size="11.5" text-anchor="middle" textLength="42" lengthAdjust="spacingAndGlyphs">(W/m²)</text>
</g>
<g transform="translate(31.9,425.4)">
<g clip-path="url(#pc)">
<clipPath id="m4"><path d="M544 70l4 0 2 2 0 4 2 2 12 0 2 2 0 12 2 2 4 0 2 2 0 4 2 2 12 0 2 2 0 12 2 2 4 0 2 2 0 4 2 2 28 0 2 2 0 4 2 2 20 0 2 2 0 4 2 2 4 0 2 2 0 20 2 2 4 0 2 2 0 4 2 2 4 0 2 2 0 4-2 2-4 0-2 2 0 4-2 2-12 0-2 2 0 4-2 2-12 0-2 2 0 12-2 2-4 0-2 2 0 52-2 2-4 0-2 2 0 4-2 2-4 0-2 2 0 36 2 2 20 0 2 2 0 4 2 2 4 0 2 2 0 4-2 2-4 0-2 2 0 20-2 2-4 0-2 2 0 20-2 2-4 0-2 2 0 20-2 2-4 0-2 2 0 20-2 2-4 0-2 2 0 12-2 2-4 0-2 2 0 4-2 2-4 0-2 2 0 4-2 2-4 0-2 2 0 20-2 2-4 0-2 2 0 12-2 2-4 0-2 2 0 20 2 2 4 0 2 2 0 12-2 2-4 0-2 2 0 20-2 2-4 0-2 2 0 44-2 2-4 0-2 2 0 36-2 2-4 0-2 2 0 44-2 2-4 0-2 2 0 28-2 2-4 0-2 2 0 4-2 2-4 0-2 2 0 20-2 2-4 0-2 2 0 20-2 2-4 0-2 2 0 28-2 2-4 0-2 2 0 28-2 2-4 0-2 2 0 4-2 2-4 0-2 2 0 12-2 2-4 0-2 2 0 12-2 2-4 0-2 2 0 12-2 2-4 0-2 2 0 4-2 2-4 0-2 2 0 12-2 2-4 0-2 2 0 4-2 2-4 0-2 2 0 4-2 2-4 0-2 2 0 20-2 2-4 0-2 2 0 4-2 2-4 0-2 2 0 20-2 2-12 0-2 2 0 4-2 2-4 0-2 2 0 12-2 2-4 0-2 2 0 12-2 2-4 0-2 2 0 12-2 2-4 0-2 2 0 20-2 2-4 0-2 2 0 20-2 2-4 0-2 2 0 20-2 2-4 0-2 2 0 116-2 2-4 0-2 2 0 4-2 2-4 0-2 2 0 28-2 2-4 0-2-2 0-4-2-2-4 0-2-2 0-4-2-2-28 0-2-2 0-76-2-2-4 0-2-2 0-28-2-2-4 0-2-2 0-12-2-2-4 0-2-2 0-4-2-2-4 0-2-2 0-4-2-2-4 0-2-2 0-4-2-2-4 0-2-2 0-4-2-2-4 0-2-2 0-4-2-2-4 0-2-2 0-4-2-2-12 0-2-2 0-4-2-2-4 0-2-2 0-4-2-2-12 0-2-2 0-4-2-2-4 0-2-2 0-4-2-2-4 0-2-2 0-4-2-2-4 0-2-2 0-12-2-2-4 0-2-2 0-12-2-2-4 0-2-2 0-4 2-2 4 0 2-2 0-28-2-2-4 0-2-2 0-20-2-2-4 0-2-2 0-28-2-2-4 0-2-2 0-36-2-2-4 0-2-2 0-4-2-2-4 0-2-2 0-4-2-2-4 0-2-2 0-4-2-2-4 0-2-2 0-4 2-2 4 0 2-2 0-28 2-2 4 0 2-2 0-20-2-2-4 0-2-2 0-20 2-2 4 0 2-2 0-52 2-2 4 0 2-2 0-12-2-2-4 0-2-2 0-20 2-2 4 0 2-2 0-28 2-2 4 0 2-2 0-36 2-2 4 0 2-2 0-4 2-2 4 0 2-2 0-4 2-2 4 0 2-2 0-4 2-2 4 0 2-2 0-4 2-2 4 0 2-2 0-12 2-2 4 0 2-2 0-12 2-2 4 0 2-2 0-20 2-2 4 0 2-2 0-12 2-2 4 0 2-2 0-12 2-2 4 0 2-2 0-4 2-2 4 0 2-2 0-12 2-2 4 0 2-2 0-20 2-2 4 0 2-2 0-4 2-2 4 0 2-2 0-12 2-2 4 0 2-2 0-4 2-2 4 0 2-2 0-12 2-2 4 0 2-2 0-12 2-2 4 0 2-2 0-4 2-2 4 0 2-2 0-12 2-2 4 0 2-2 0-12 2-2 4 0 2-2 0-12 2-2 4 0 2-2 0-4 2-2 4 0 2-2 0-4 2-2 4 0 2-2 0-12 2-2 12 0 2-2 0-4 2-2 4 0 2-2 0-4 2-2 4 0 2-2 0-4 2-2 4 0 2-2 0-20 2-2 4 0 2-2 0-12 2-2 4 0 2-2 0-20 2-2 4 0 2-2 0-20 2-2 4 0 2-2 0-4 2-2 4 0 2-2 0-4 2-2 4 0 2-2 0-4 2-2 4 0 2-2 0-4 2-2 12 0 2-2 0-4 2-2 20 0 2-2 0-4 2-2 36 0 2-2 0-4 2-2 4 0 2-2 0-4 2-2 4 0 2-2 0-4 2-2 4 0 2-2 0-4 2-2 4 0 2-2 0-4 2-2 4 0 2-2 0-4 2-2 4 0 2-2 0-4 2-2 12 0 2-2 0-4zM512 1014l20 0 2 2 0 20-2 2-12 0-2-2 0-4-2-2-4 0-2-2 0-12zM168 1134l4 0 2 2 0 4-2 2-4 0-2-2 0-4zM520 1230l28 0 2 2 0 28-2 2-4 0-2-2 0-4-2-2-12 0-2-2 0-4-2-2-4 0-2-2 0-12z"/></clipPath><g clip-path="url(#m4)" transform="scale(0.25)" shape-rendering="auto"><path d="M544 70l4 0 2 2 0 4 2 2 12 0 2 2 0 12 2 2 4 0 2 2 0 4 2 2 12 0 2 2 0 12 2 2 4 0 2 2 0 4 2 2 28 0 2 2 0 4 2 2 20 0 2 2 0 4 2 2 4 0 2 2 0 20 2 2 4 0 2 2 0 4 2 2 4 0 2 2 0 4-2 2-4 0-2 2 0 4-2 2-12 0-2 2 0 4-2 2-12 0-2 2 0 12-2 2-4 0-2 2 0 52-2 2-4 0-2 2 0 4-2 2-4 0-2 2 0 36 2 2 20 0 2 2 0 4 2 2 4 0 2 2 0 4-2 2-4 0-2 2 0 20-2 2-4 0-2 2 0 20-2 2-4 0-2 2 0 20-2 2-4 0-2 2 0 20-2 2-4 0-2 2 0 12-2 2-4 0-2 2 0 4-2 2-4 0-2 2 0 4-2 2-4 0-2 2 0 20-2 2-4 0-2 2 0 12-2 2-4 0-2 2 0 20 2 2 4 0 2 2 0 12-2 2-4 0-2 2 0 20-2 2-4 0-2 2 0 44-2 2-4 0-2 2 0 36-2 2-4 0-2 2 0 44-2 2-4 0-2 2 0 28-2 2-4 0-2 2 0 4-2 2-4 0-2 2 0 20-2 2-4 0-2 2 0 20-2 2-4 0-2 2 0 28-2 2-4 0-2 2 0 28-2 2-4 0-2 2 0 4-2 2-4 0-2 2 0 12-2 2-4 0-2 2 0 12-2 2-4 0-2 2 0 12-2 2-4 0-2 2 0 4-2 2-4 0-2 2 0 12-2 2-4 0-2 2 0 4-2 2-4 0-2 2 0 4-2 2-4 0-2 2 0 20-2 2-4 0-2 2 0 4-2 2-4 0-2 2 0 20-2 2-12 0-2 2 0 4-2 2-4 0-2 2 0 12-2 2-4 0-2 2 0 12-2 2-4 0-2 2 0 12-2 2-4 0-2 2 0 20-2 2-4 0-2 2 0 20-2 2-4 0-2 2 0 20-2 2-4 0-2 2 0 116-2 2-4 0-2 2 0 4-2 2-4 0-2 2 0 28-2 2-4 0-2-2 0-4-2-2-4 0-2-2 0-4-2-2-28 0-2-2 0-76-2-2-4 0-2-2 0-28-2-2-4 0-2-2 0-12-2-2-4 0-2-2 0-4-2-2-4 0-2-2 0-4-2-2-4 0-2-2 0-4-2-2-4 0-2-2 0-4-2-2-4 0-2-2 0-4-2-2-4 0-2-2 0-4-2-2-12 0-2-2 0-4-2-2-4 0-2-2 0-4-2-2-12 0-2-2 0-4-2-2-4 0-2-2 0-4-2-2-4 0-2-2 0-4-2-2-4 0-2-2 0-12-2-2-4 0-2-2 0-12-2-2-4 0-2-2 0-4 2-2 4 0 2-2 0-28-2-2-4 0-2-2 0-20-2-2-4 0-2-2 0-28-2-2-4 0-2-2 0-36-2-2-4 0-2-2 0-4-2-2-4 0-2-2 0-4-2-2-4 0-2-2 0-4-2-2-4 0-2-2 0-4 2-2 4 0 2-2 0-28 2-2 4 0 2-2 0-20-2-2-4 0-2-2 0-20 2-2 4 0 2-2 0-52 2-2 4 0 2-2 0-12-2-2-4 0-2-2 0-20 2-2 4 0 2-2 0-28 2-2 4 0 2-2 0-36 2-2 4 0 2-2 0-4 2-2 4 0 2-2 0-4 2-2 4 0 2-2 0-4 2-2 4 0 2-2 0-4 2-2 4 0 2-2 0-12 2-2 4 0 2-2 0-12 2-2 4 0 2-2 0-20 2-2 4 0 2-2 0-12 2-2 4 0 2-2 0-12 2-2 4 0 2-2 0-4 2-2 4 0 2-2 0-12 2-2 4 0 2-2 0-20 2-2 4 0 2-2 0-4 2-2 4 0 2-2 0-12 2-2 4 0 2-2 0-4 2-2 4 0 2-2 0-12 2-2 4 0 2-2 0-12 2-2 4 0 2-2 0-4 2-2 4 0 2-2 0-12 2-2 4 0 2-2 0-12 2-2 4 0 2-2 0-12 2-2 4 0 2-2 0-4 2-2 4 0 2-2 0-4 2-2 4 0 2-2 0-12 2-2 12 0 2-2 0-4 2-2 4 0 2-2 0-4 2-2 4 0 2-2 0-4 2-2 4 0 2-2 0-20 2-2 4 0 2-2 0-12 2-2 4 0 2-2 0-20 2-2 4 0 2-2 0-20 2-2 4 0 2-2 0-4 2-2 4 0 2-2 0-4 2-2 4 0 2-2 0-4 2-2 4 0 2-2 0-4 2-2 12 0 2-2 0-4 2-2 20 0 2-2 0-4 2-2 36 0 2-2 0-4 2-2 4 0 2-2 0-4 2-2 4 0 2-2 0-4 2-2 4 0 2-2 0-4 2-2 4 0 2-2 0-4 2-2 4 0 2-2 0-4 2-2 4 0 2-2 0-4 2-2 12 0 2-2 0-4zM512 1014l20 0 2 2 0 20-2 2-12 0-2-2 0-4-2-2-4 0-2-2 0-12zM168 1134l4 0 2 2 0 4-2 2-4 0-2-2 0-4zM520 1230l28 0 2 2 0 28-2 2-4 0-2-2 0-4-2-2-12 0-2-2 0-4-2-2-4 0-2-2 0-12z" fill="#c3b4fa"/><path d="M544 52l4 0 4 4 8 0 4 4 8 0 8 8 0 4 8 8 0 4 4 4 8 0 8 8 0 8 8 0 4 4 8 0 4 4 12 0 4 4 8 0 4 4 4 0 12 12 0 8 4 4 0 8 4 4 8 0 8 8 0 8 4 4-4 4 0 8-8 8-4 0-4 4-4 0-4 4-4 0-8 8-4 0-8 12 0 56 4 4 0 16 4 4 0 12 4 4 0 16-4 4 0 12-4 4 0 8-8 12 0 8-4 4 0 4-4 4 0 8-4 4 0 20-4 4 0 8-12 12 0 4-12 12 0 4-8 8 0 4-4 4 0 8-4 4 0 8-4 4 0 8 4 4 0 16-4 4 0 8-4 4 0 12-4 4 0 20-4 4 0 20-4 4 0 16-4 4 0 16-4 4 0 20-4 4 0 20-4 4 0 16-4 4 0 16-4 4 0 12-4 4 0 12-4 4 0 8-4 4 0 8-4 4 0 12-4 4 0 16-4 4 0 16-4 4 0 8-16 16 0 4-4 4 0 4-4 4 0 4-4 4 0 4-4 4 0 4-4 4 0 4-8 8 0 4-12 12 0 4-8 8 0 12-4 4 0 8-36 36-4 0-8 8 0 4-8 8 0 8-8 12 0 8-4 4 0 8-4 4 0 8-4 4 0 8-4 4 0 8-4 4 0 12-4 4 0 16-4 4 0 24 4 4 0 56-4 4 0 8-4 4 0 8-8 8 0 12 4 4-4 4 0 8-8 8-8 0-4 4-4-4-8 0-4-4-4 0-8-8-4 0-4 4-4-4-8 0-4-4-4 0-8-8 0-8-4-4 0-20-4-4 0-16 4-4 0-20-4-4 0-8-4-4 0-8-4-4 0-12-4-4 0-4-4-4 0-4-28-28-4 0-4-4 0 8 4 4-4 4 0 8-16 16-8 0-4 4-4 0-4-4-8 0-8-8 0-8-4-4 4-4 0-8 16-16 8 0 4-4 4 0 4 4 8 0-4 0-12-12-4 0-12-8-4 0-24-24 0-4-8-8 0-4-4-4 0-8-4-4 0-8-4-4 0-32-4-4 0-8-4-4 0-8-4-4 0-12-4-4 0-16-8-8 0-4-32-32 0-4-4-4 0-8-4-4 0-12 4-4 0-12 4-4 0-12 4-4 0-16 4-4 0-8 4-4 0-8 4-4 0-8 4-4 0-44 4-4-4-4 0-8-4-4 0-4 4-4 0-8 4-4 0-12 4-4 0-16 4-4 0-24 4-4 0-8 4-4 0-8 20-20 4 0 8-8 0-4 4-4 0-4 8-8 0-8 8-12 0-8 8-12 0-4 4-4 0-4 8-12 0-4 8-8 0-4 8-8 0-8 4-4 0-8 4-4 0-4 8-8 0-4 4-4 0-4 8-8 0-4 8-8 0-4 4-4 0-4 8-8 0-4 8-8 0-4 4-4 0-4 8-8 0-4 4-4 0-8 8-12 0-4 20-20 0-4 4-4 4-4 4 0 28-28 0-4 4-4 0-8 8-12 0-8 4-4 0-8 4-4 0-8 4-4 0-8 4-4 0-4 4-4 0-4 20-20 4 0 8-8 4 0 4-4 4 0 4-4 8 0 4-4 8 0 4-4 8 0 4-4 16 0 4-4 8 0 12-12 0-4 8-8 0-4 24-24 8 0 4-4 12 0zM569 216l-2 4 1 3 8 3 13-6 3-4zM516 992l20 0 4 4 8 0 8 8 0 8 4 4 0 4-4 4 0 12-4 4 0 8-8 8-8 0-4 4-4-4-8 0-4-4-4 0-12-12 0-4-4-4 0-8-4-4 0-4 4-4 0-8 8-8 8 0zM528 1208l24 0 4 4 8 0 8 8 0 4 4 4 0 8 4 4 0 8 4 4 0 4-4 4 0 8-12 12-8 0-4 4-4 0-4-4-8 0-8-8-4 0-20-20 0-8-4-4 0-8 4-4 0-8 8-8 8 0z" fill="#a08cff"/><path d="M544 53l4 0 4 4 8 0 4 4 8 0 7 7 0 4 8 8 0 4 5 5 8 0 7 7 1 9 8 0 4 4 8 0 4 4 12 0 4 4 8 0 4 4 4 0 11 11 0 8 4 4 0 8 5 5 8 0 7 7 0 8 4 4-4 4 0 8-7 7-4 0-4 4-4 0-4 4-4-1-8 9-4 0-5 5 0 4-4 4 0 56 4 4 0 16 4 4 0 12 4 4 0 16-4 4 0 12-4 4 0 8-8 12 0 8-4 4 0 4-4 4 0 8-4 4 0 20-4 4 0 8-12 12 0 4-12 12 0 4-8 8 0 4-4 4 0 8-4 4 0 8-4 4 0 8 4 4 0 16-4 4 0 8-4 4 0 12-4 4 0 20-4 4 0 20-4 4 0 16-4 4 0 16-4 4 0 20-5 4 1 20-4 4 0 16-4 4 0 16-4 4 0 12-4 4 0 12-4 4 0 8-4 4 0 8-4 4 0 12-4 4 0 16-4 4 0 16-4 4 0 8-16 16 0 4-4 4 0 4-4 4 0 4-4 4 0 4-4 4 0 4-4 4 0 4-8 8 0 4-12 12 0 4-8 8 0 12-4 4 0 8-35 35-4 0-9 9 0 4-8 8 0 8-8 12 0 8-4 4 0 8-4 4 0 8-4 4 0 8-4 4 0 8-4 4 0 12-4 4 0 16-4 4 0 24 4 4 0 56-4 4 0 8-4 4 0 8-8 8 0 12 4 4-4 4 0 8-7 7-8 0-4 4-4-4-8 0-4-4-4 0-8-8-4 0-4 4-4-4-8 0-4-4-4 0-7-7 0-8-4-4 0-20-4-4 0-16 4-4 0-20-4-4 0-8-4-4 0-8-4-4 0-12-4-4 0-4-4-4 0-4-29-29-4 0-5-3 0 8 4 4-4 4 0 8-15 15-8 0-4 4-4 0-4-4-8 0-7-7 0-8-4-4 4-4 0-8 15-15 8 0 4-4 4 0 4 4 9-1-5-1-12-11-4 0-12-8-4 0-24-24 0-4-7-8-1-4-4-4 0-8-3-4 0-8-4-4-1-32-4-4 0-8-3-4 0-8-4-4 0-12-4-4 0-16-8-8-1-4-31-32 0-4-4-4 0-8-4-4 0-12 4-4 0-12 4-4 0-12 4-4 0-16 4-4 0-8 4-4 0-8 4-4 0-8 4-4 0-44 4-4-4-4 0-8-4-4 0-4 4-4 0-8 4-4 0-12 4-4 0-16 4-4 0-24 4-4 0-8 4-4 0-8 19-19 4 0 9-9 0-4 4-4 0-4 8-8 0-8 8-12 0-8 8-12 0-4 4-4 0-4 8-12 0-4 8-8 0-4 8-8 0-8 4-4 0-8 4-4 0-4 8-8 0-4 4-4 0-4 8-8 0-4 8-8 0-4 4-4 0-4 8-8 0-4 8-8 0-4 4-4 0-4 8-8 0-4 4-4 0-8 8-12 0-4 20-20 0-4 4-4 3-3 4 0 29-29 0-4 4-4 0-8 8-12 0-8 4-4 0-8 4-4 0-8 4-4 0-8 4-4 0-4 4-4 0-4 19-19 4 0 8-8 4 0 4-4 4 0 4-4 8 0 4-4 8 0 4-4 8 0 4-4 16 1 4-4 8-1 13-13 0-4 8-8 0-4 23-23 8 0 4-4 12 0zM495 120l-4 12 1 5 4-1 8-7 4-1 0-5-3-3-9-3zM631 144l2 4-1 4-8 7-4 0 0 3 8 1 8-3 5-16-5-4zM421 164l-3 4 2 7 4-2 3-5-3-6zM623 172l-4 16 1 3 4 1 2-4 2-20-4 2zM649 184l0 4 3 2 4-1 4-5-4-2zM406 196l-4 4 2 4 4-4 2-4-2-2zM597 200l-1 4-4 2-8-2-4 6-12 1-10 9-3 12 5 9 4 2 4-2 3-5 17-10 13-2 0-16 5-8-2-3-4 0zM511 208l0 8-13 16-2 4 0 7 4 4 20 1 6-4 2-8-15-16 11-6 8-2 0-2-1-2-11 0-8-4zM500 692l0 10 4-1 0-5 0-4zM516 993l20 0 4 4 8 0 7 7 0 8 4 4 0 4-4 4 0 12-4 4 0 8-7 7-8 0-4 4-4-4-8 0-4-4-4 0-11-11 0-4-4-4 0-8-4-4 0-4 4-4 0-8 7-7 8 0zM528 1209l24 0 4 4 8 0 7 7 0 4 4 4 0 8 4 4 0 8 4 4 0 4-4 4 0 8-11 11-8 0-4 4-4 0-4-4-8 0-8-8-4 0-19-19 0-8-4-4 0-8 4-4 0-8 7-7 8 0z" fill="#6450dc"/><path d="M544 53l4 0 4 5 8 0 4 4 8 0 6 6 0 4 8 8 0 4 6 5 8 0 7 7 1 9 8 0 4 4 8 1 4 4 12 0 4 4 8 0 4 3 4 0 10 11 0 8 4 4 0 8 6 5 8 0 7 7 0 8 4 4-4 4 0 8-7 7-4 0-4 3-4 0-4 4-4-1-8 9-4 0-6 6 0 4-3 4-1 56 5 4 0 16 4 4 0 12 4 4 0 16-4 4 0 12-4 4 0 8-8 12 0 8-5 4 0 4-4 4 0 8-4 4 0 20-3 4 0 8-12 12 0 4-12 12 0 4-8 8 0 4-4 4 0 8-4 4 0 8-4 4 0 8 4 4 0 16-4 4 0 8-4 4 0 12-4 4 0 20-5 4 1 20-4 4 0 16-4 4 0 16-4 4-1 20-5 4 1 20-3 4 0 16-4 4 0 16-4 4 0 12-4 4 0 12-4 4 0 8-4 4 0 8-4 4-1 12-4 4 1 16-4 4 0 16-4 4 0 8-16 16 0 4-4 4 0 4-4 4 0 4-4 4 0 4-4 4 0 4-4 4 0 4-8 8 0 4-12 12 0 4-8 8 0 12-4 4 0 8-35 35-4 0-9 9 0 4-9 8 0 8-7 12 0 8-4 4 0 8-4 4 0 8-4 4 0 8-4 4 0 8-4 4 0 12-4 4 0 16-4 4 0 24 4 4 0 56-4 4 0 8-4 4 0 8-8 8 0 12 4 4-4 4-1 8-6 6-8 1-4 4-4-4-8 0-4-4-4 0-8-8-4 0-4 4-4-4-8 0-4-5-4 0-6-6 0-8-4-4-1-20-4-4 1-16 3-4 0-20-3-4 0-8-4-4-1-8-4-4 0-12-4-4 0-4-4-4 1-4-30-29-4 0-4-4-1 1 0 8 4 4-4 4 0 8-15 15-8 0-4 4-4 0-4-4-8 0-7-7 0-8-4-4 4-4 0-8 15-15 8 0 4-4 4 0 4 4 9-1-5-1-12-12-4 0-12-8-4 0-23-23 0-4-8-8 0-4-4-4 0-8-4-4 0-8-4-4 0-32-4-4 0-8-4-4 0-8-4-4 0-12-4-4 0-16-8-8 0-4-32-32 0-4-4-4 0-8-4-4 0-12 4-4 0-12 4-4 0-12 4-4 0-16 4-4 0-8 4-4 0-8 4-4 0-8 4-4 0-44 4-4-4-4 0-8-4-4 0-4 4-4 0-8 4-4 0-12 4-4 0-16 4-4 0-24 4-4 0-8 4-4 0-8 19-19 4 0 9-9 0-4 4-4 0-4 8-8 0-8 8-12 0-8 8-12 0-4 4-4 0-4 8-12 0-4 8-8 0-4 8-8 0-8 4-4 0-8 4-4 0-4 8-8 0-4 4-4 0-4 9-8 0-4 8-8 0-4 3-4 0-4 9-8 0-4 7-8 0-4 4-4 0-4 8-8 0-4 4-4 0-8 4-4 0-4 5-4 0-4 19-20 0-4 4-4 3-3 4 0 29-29 0-4 4-4 0-8 8-12 0-8 4-4 1-8 4-4 0-8 4-4 0-8 4-4 0-4 3-4 0-4 19-19 4 0 8-8 4 0 4-3 4 0 4-4 8 0 4-4 8 0 4-4 8 0 4-4 16 1 4-4 8-1 14-14 0-4 7-8 0-4 23-23 8 0 4-4 12 1zM531 76l1 5 10 3-4-8-2-1zM566 76l0 12 2 2 6-6-6-9zM555 100l-2 8 7 3 6-3 0-4-6-6zM492 108l-8 4 6 8-5 24 3 1 12-3 3-2 1-4 8-8 0-8-4-4-11-8zM622 136l-5 4 2 8-8 16 1 8 4 3 1 5-5 12-12-1-8 3-4-2 5-12-1-7-4-2-8 6-12-4-5 3-4 16 4 16-10 8-6 20 13 11 8 0 20-16 3 1-5 16 1 4 5 5 4-1 12-16 0-32 8-9 12-2 4 2 3-3-4-8 0-8 3-12 7-8 5-20-2-4-12 1-8-2zM426 140l-4 16-7 12-1 8-2 4-4 2-8-4-8 1 0 9-8 7-4 8-8 5 28 6 8-8 22-34 1-16 5-9 1-7-1-3-4-1zM653 156l-8 12-2 16 1 5 8 6 8-5 7-10-6-4-5 0-1-4 7-16-2-2zM537 192l-13 9-16-4-8 3-8-4-3 4-2 8-8 8-1 8 2 5 10 3 6 18 4 2 16 1 13-9 9-16-1-12 7-8 6-12-1-4-5-2zM568 296l-6 20-3 4 1 5 5-1 2-12 8-8 1-4-3-4-5-1zM500 688l-8 16 2 8 6 3 4-1 3-6 3-20-2-3-4 0zM468 696l4 8 4 4 5-4 1-4-2-6-4-1zM480 788l1 4 6 4 6-4-1-4-8-2zM435 860l-9 32 2 8 4 0 2-4 2-12 11-16-1-4-6-7zM395 908l-2 4 9 0 0-4-2-2zM572 187l4-2 6 3-2 4-4 1-4-1-3-4zM500 201l4 4 0 11-4 8-8 6-2-6 0-8zM516 993l20 0 4 4 8 0 7 7 0 8 4 4 0 4-4 4 0 12-4 4 0 8-7 7-8 0-4 4-4-4-8 0-4-4-4 0-11-11 0-4-4-4 0-8-4-4 0-4 4-4 0-8 7-7 8 0zM528 1209l24 0 4 4 8 0 7 7 0 4 4 4 0 8 4 4 0 8 4 4 0 4-4 4 0 8-11 11-8 0-4 4-4 0-4-4-8 0-8-8-4 0-19-19 0-8-4-4 0-8 4-4 0-8 7-7 8 0z" fill="#3c28b4"/><path d="M544 54l4 0 4 4 8 0 4 5 8 0 5 5-1 8-8-9-6 5-2 13-4 0-16-14-4-1-7 2-2 4 2 12 3 3 6 1 0 4-10 0-2 4 2 4 8 4 4 11 4 1 16-2 12-10-3-12 10-12-3-8 4-1 5 5 0 4 7 6 8 0 6 6 0 8 2 2 8 0 4 4 8 0 4 4 12 1 4 4 8-1 4 4 4 0 9 10 0 8 4 4 1 8 6 6 8 0 6 6 0 8 4 4-4 4 0 8-6 6-4 0-4 4-8-2 2-12-2-7-12-5-2-4 5-12-2-4-9-3-8 4 3-17-7-6-8 4-4 0-8-3-12 5-3 4 5 8-1 4-5 5-4 1-1-2-7-5-12 1-8-4-4 0-4 4-2 12-9 8-2 12-3 2-8-1-4 2-16 10-24-2-7-3-5-5-4-1-2 2 2 12-1 4-7 8-2 12-4 8 1 4 5 5 12 1 8 13 16 2 16-8 12-15 4 7 16 10 17-3 3 2 6 14 6 3 8-12 14-15-3-16 4-16 9-4 16 0 4-7 3 3 0 4 5 1 5-9 7-6 4 0 3 10-2 4-5 6-4-1-6 7 0 4-4 4 0 56 4 4 0 16 4 4 0 12 4 4 0 16-4 4 0 12-4 4 0 8-8 12 0 8-4 4 0 4-4 4 0 8-4 4 0 20-4 4 0 8-12 12 0 4-12 12 0 4-8 8 0 4-4 4 0 8-4 4 0 8-4 4 0 8 4 4 0 16-4 4 0 8-4 4 0 12-4 4 0 20-4 4 0 20-4 4 0 16-4 4 0 16-4 4-1 20-5 4 2 20-4 4 0 16-4 4 0 16-4 4 0 12-4 4 0 12-4 4 0 8-4 4 0 8-4 4 0 12-4 4 0 16-4 4 0 16-4 4 0 8-16 16 0 4-4 4 1 4-5 4 0 4-4 4 0 4-4 4 0 4-4 4 0 4-8 8 0 4-12 12 0 4-8 8 0 12-4 4 0 8-34 34-4 0-10 10 0 4-8 8 0 8-4 4 0 4-4 4 0 8-4 4 0 8-4 4 0 8-4 4 0 8-4 4 0 8-4 4 0 12-4 4 0 16-4 4 0 24 4 4 0 56-4 4 0 8-4 4 0 8-8 8 0 12 4 4-4 4 0 8-6 6-8 0-4 4-4-4-8 0-4-4-4 0-8-8-4 0-4 4-4-4-8 0-14-10 0-8-4-4 0-20-4-4 0-16 4-4 0-20-4-4 0-8-4-4 0-8-4-4 0-12-4-4 0-4-4-4 0-4-30-30-4 0-4-4-1 2 0 8 4 4-4 4-1 8-14 15-8-1-4 4-4 1-4-4-8 0-7-7 1-8-4-4 4-4 0-8 14-14 8 0 4-4 4 0 4 4 8 0 2-2-6-2-12-11-4 0-12-8-4 0-23-23 0-4-8-8 0-4-4-4 0-8-4-4 0-8-4-4 0-32-4-4 0-8-4-4 0-8-4-4 0-12-4-4 0-16-8-8 0-4-31-32 0-4-4-4 0-8-4-4 0-12 4-4 0-12 4-4 0-12 4-4 0-16 4-4 0-8 4-4 0-8 4-4 0-8 4-4 0-44 3-4-3-4 0-8-4-4 0-4 4-4 0-8 4-4 0-12 4-4-1-16 4-4 1-24 4-4 0-8 4-4 0-8 18-18 4 0 10-10 0-4 4-4 0-4 8-8 0-8 4-4 0-4 4-4 0-8 8-12 0-4 4-4 0-4 4-4 0-4 4-4 0-4 8-8 0-4 8-8 0-8 4-4 0-8 4-4 0-4 8-8 0-4 4-4 0-4 8-8 0-4 8-8 0-4 4-4 0-4 8-8 0-4 8-8 0-4 4-4 0-4 8-8 0-4 4-4 0-8 4-4 0-4 4-4 0-4 20-20 0-4 4-4 2-2 4 0 30-30 0-4 4-4 0-8 8-12 0-8 4-4 0-8 4-4 0-8 4-4 0-8 4-4 0-4 4-4 0-4 18-18 4 0 8-8 4 0 4-4 4 1 4-4 8 0 4-5 8 0 4-4 8 1 4-4 17 1 0 4 3 1 3-5-3-4 8-1 4-4 4 1-2 8 5 4-2 12-13 4-4-1-2-3-2-11-1 7-10 8-5 12 1 8-1 8 1 4 7 1 8-5 1-4-4-8 3-4 5 0 3 8 4 3 8-9 12-6 12-3 10-13 1-12-1-4-18-11-4-1-8 2-1-2 4-4-1-4 8-8 0-4 22-22 8 0 4-4 12 0zM435 132l-11 6-4 0-8-4-4 2-2 8 2 2 8 1 3 5-3 7-4 2-8-5-1 4 7 4 2 8-4 4-20-2-2 2-6 18-4 5-8 2-1 3 1 4 4 4 24 6 4 0 8-9 16-25 10-8 0-20 6-8 2-8-2-6zM567 284l-6 8-1 16-5 12 0 8 5 2 14-2-2-12 12-7 4-17-12-10-4-1zM496 516l0 8 4 0 1-8-1-2zM512 668l-7 4-13 26-4 2-8-11-8-2-12 6-5 7 0 4 13 1 12 11 0 4 4 5 8 0 8 4 5-1 1-8 5-16 2-12 9-12-1-4zM550 680l-1 4 3 6 3-2 0-4-3-5zM479 768l-5 8-4 12 1 4 13 6 11-2 4-4 0-4-2-4-12-4 0-12zM447 780l-5 8 3 4 7 4 8 9 4-1 0-8-8-6-8-11zM481 852l-5 8-12-7-4 3 4 12 8 2 4 8 4 1 7-7 5-16-1-4-3-3zM435 856l-11 29-4 9-3 2 11 9 4 0 5-5 4-16 10-16-1-4-6-8-4-2zM395 896l-2 8-6 8 5 4 8 1 9-5 0-4-4-12-5-3zM408 948l4 5 6-1 0-4-6-1zM353 964l-4 12 3 2 8-2 8 8 4-2 7-10 0-4-3-2-12 1-8-4zM395 964l1 4 4-1 4-3 0-4zM277 1084l-5 8-2 8 2 9 4-2 8-14 4 0 2 3 2 4-3 8 3 3 15-7 5-5 0-7-8-8-20-2zM544 91l6 1 0 4-2 4-8-4 1-4zM604 161l2 11 5 8-3 5-8 2-3-3 0-12 1-4zM516 993l20 1 4 4 8-1 7 7 0 8 4 4 0 4-5 4 0 12-4 4 0 8-6 6-8 0-4 4-4-4-8 0-4-3-4 0-10-11 0-4-4-4-1-8-3-4 0-4 3-4 1-8 6-6 8-1zM528 1210l24 0 4 4 8 0 7 6 0 4 4 4 0 8 4 4 0 8 4 4 0 4-4 4 0 8-11 11-8 0-4 4-4 0-4-4-8 0-8-9-4 0-18-18 0-8-4-4 0-8 4-4 0-8 6-6 8 0z" fill="#1e0aa0"/><path d="M544 55l4 0 4 4 8 0 4 4 4 1-16 10-12-7-8 0-4 3-4 6 0 12-4 16-4 7-4 0-16-9-8-1-1-5 7-8 0-4 22-21 8 0 4-5 12 1zM584 80l0 4 8 7 8-1 6 6 0 8 2 2 8 0 4 4 8 1 4 4 12 0 4 4 8 0 4 4 4 0 9 9 0 8 4 4 0 8 7 7 8-1 6 6 0 8 4 4-4 4 0 8-6 6-4 0-4 3-4-1 1-12-2-8-3-5-9-3-1-4 5-8-1-4-13-8 2-8-15-13-8 8-4 0-8-4-8 3-8 0-8 10-8 5-4-1-4-4 1-4-4-4-12 0-8 32-9 5-7 11-21 15-24-2-16-11-6 2 2 16-8 9-1 15-5 8 6 11 4 3 9 2 0 4-5 4-1 4 1 2 8 3 8-4 12 1 4-1 16-9 8-9 4-1 10 6 6 8 16-3 4 1 4 6 1 8-3 4-8 4-13 12-1 20-4 8-2 16 2 4 12-3 8 2 12-4 8 1-9-12 5-11 4-17-7-8 0-8 14-8 1-8 4-5 12-7 8 0 2-4-6-4-4-12 0-4 8-12 4-3 8-1 12 4 4-1 4-4 4-10 4-2 3 9-3 5-4 0-7 7 0 4-4 4 0 56 5 4 0 16 4 4 0 12 4 4 0 16-4 4 0 12-4 4 0 8-8 12-1 8-4 4 0 4-4 4 0 8-4 4 0 20-3 4 0 8-12 12 0 4-13 12 1 4-8 8 0 4-4 4-1 8-3 4 0 8-4 4 0 8 4 4 0 16-4 4 0 8-4 4 0 12-4 4-1 20-4 4 1 20-4 4 0 16-4 4-1 16-4 4-1 20-1-8-3-3-8 2-4 5 0 14 4 6 4 1 4-1 1 8-4 4 1 16-4 4 0 16-4 4 0 12-4 4 0 12-4 4 0 8-4 4 0 8-5 4 0 12-4 4 1 16-4 4 0 16-4 4 0 8-16 16 0 4-4 4 0 4-4 4 0 4-4 4-1 4-4 4 0 4-3 4 0 4-8 8-1 4-11 12 0 4-8 8 0 12-4 4 0 8-34 34-4 0-10 10-1 4-8 8 0 8-4 4 1 4-4 4 0 8-5 4 1 8-4 4 0 8-4 4 0 8-4 4 0 8-4 4 0 12-4 4 0 16-4 4 0 24 4 4 0 56-5 4 0 8-3 4 0 8-8 8 0 12 4 4-5 4 0 8-5 5-8 0-4 4-4-3-8 0-4-4-4-1-8-8-4 1-4 3-4-3-8-1-4-4-4 0-5-5 0-8-4-4 0-20-5-4 1-16 4-4 0-20-4-4 0-8-4-4 0-8-5-4 0-12-4-4 0-4-3-4 0-4-31-30-4 0-4-4-2 2 0 8 4 4-4 4 0 8-14 14-8 0-4 4-4 0-4-4-8 0-6-6 0-8-4-4 4-4 0-8 14-14 8 0 4-4 4 0 4 4 8 0 4 4 2-2-6-6-4 0-12-11-4-1-12-7-4-1-22-22 0-4-8-8 0-4-4-4 0-8-4-4 0-8-4-4-1-32-4-4 1-8-4-4 0-8-4-4 0-12-4-4 0-16-8-8 0-4-31-32 0-4-5-4 0-8-4-4 1-12 4-4 0-12 4-4-1-12 4-4 0-16 4-4 0-8 5-4 0-8 4-4-1-8 4-4 0-44 4-4-4-4 0-8-3-4 0-4 3-4 0-8 4-4 0-12 4-4 0-16 4-4 0-24 5-4-1-8 4-4 1-8 17-18 4 0 10-10 0-4 4-4 0-4 8-8 0-8 4-4 0-4 4-4 0-8 8-12 0-4 4-4 0-4 4-4 0-4 4-4 0-4 8-8 0-4 8-8 0-8 4-4 1-8 3-4 0-4 9-8 0-4 4-4 0-4 8-8 0-4 8-8 0-4 3-4 0-4 9-8 0-4 8-8-1-4 4-4 0-4 8-8 1-4 3-4 0-8 4-4 1-4 4-4 0-4 20-20 0-4 3-4 2-2 4 0 30-30 0-4 4-4 0-8 8-12 0-8 4-4 1-8 4-4 0-8 4-4 0-8 4-4 0-4 4-4-1-4 18-18 4 0 8-8 4 1 4-4 4 1-7 24 6 8-7 2-8-2-6 4-5 20-13 7-1 5 5 8 28 9 4-1 8-8 15-24 5-5 12-6 16-2 8-5 12-1 9-13 7-5 11-3 5-4 9-12 1-12 6-6 4-2 4 1 8 10 12 6 11-1 2-8 13-12 1-4-5-4-1-4 5-8 6-4zM540 296l-4 8-8 0-4 4-4 8 1 4 3 2 12 1 13-11 2-8-2-4-5-5zM583 364l1 8 5 8 11-3 4-5-1-4-7-6-8-1zM536 428l-1 4 1 2 4 1 4-3-4-8zM587 448l-10 12 3 3 4-1 8-8 0-4zM558 452l-2 4 0 6 4 3 7-1-3-11-4-2zM499 504l-7 6-3 6-2 12 2 4 3 1 8-1 8-4 3-4-2-16-9-7zM521 508l-4 4 7 7 4 1 5-4 0-4-2-4-3-1zM475 624l-3 4 0 9 8 0 5-5 0-4-1-3-4-2zM466 640l-3 4 1 3 5-3 1-4-2-1zM515 656l-3 1-8 11-8 4-2 4 1 8-3 9-4 0-8-8-8-5-4 1-8 6-7 9-2 4 2 8 3 3 8-3 4 2 10 14 6 4 8 2 8 4 8-2 18-28 0-4-3-8 5-16-10-8zM500 748l-6 4-2 4 5 4-1 10-4-2-5-8 4-4-3-1-8 5-16 23-4 1-3-4-1-12-16 6-8 1-4 5-15 4-4 4 3 4 4-1 12-7 0-2 1 2 3 1 4 7 13 8 4 8 7 4 4-2 8-10 16 1 13-5 7-11 12-1 4-4 10-24-2-6-6-2-10 12-4-1-8-13zM455 848l-3 4-4 2-8-3-8 5-4 11-6 9-2 8-4 5-20-1-4 5-4 11-4 4-1 4 2 4 11 4 12-1 4-1 4-9 4-2 8 2 16-8 12-1 3-4-1-4-9-8 2-8 5-4 10 12 2 7 4 0 3-7 10-4 5-8 5-16-3-7-8-3-12 5-12-5-4 0zM405 868l-1 8 4 4 5-4 1-4-6-6zM407 924l-4 8 3 8-2 2-2 10-2 2-4 1-3-3-3-4-2-12-4 0-10 4-5 8 15 7-1 5-3 2-16-3-12 0-6 5-3 12 4 8-1 4-14 9-6 11 1 12 5 8 9 0 5-16-1-12 3-6 8 0 4-8 8 4 4-1 8-12 4-2 8 3 5-2 9-8 19-12 2-8-1-16-2-3-8-3-4-4-4 0zM291 1004l-8 20 1 12 4 3 12-7-4-28-4-1zM275 1076l-8 12-2 24 3 5 8-6 4 0 8 16 4 1 8-4-5-8 3-4 14-6 4-10 0-5-8-12-20-1-8-4zM444 119l9 1 2 4-3 9-4 2-4-2-4-6-4-1-12 8-6-2 2-5 8 0 4-4 8 1zM516 994l20 0 4 4 8 0 6 6 0 8 4 4 0 4-4 4 0 12-4 4 0 8-6 6-8 0-4 4-4-4-8 0-4-4-4 0-10-10 0-4-4-4 0-8-4-4 0-4 4-4 0-8 6-6 8 0zM528 1210l24 0 4 4 8 0 6 6 0 4 4 4 0 8 4 4 0 8 4 4 0 4-4 4 0 8-10 10-8 0-4 4-4 0-4-4-8 0-8-8-4 0-18-18 0-8-4-4 0-8 4-4 0-8 6-6 8 0z" fill="#0a46c8"/><path d="M544 55l4 0 4 5 8-1 3 5-3 1-8-3-8 2-8-1-10 5-6 8 0 8-4 4 1 12-5 6-24-9 7-9 0-4 21-21 8 0 4-4 12 0zM584 87l4 1 4 3 8 0 5 5 0 8 3 3 8 0 4 4 8 1 4 4 11 0-2 4-5 6-4 1-4-3-12 2-8-2-12 11-4-1-1-2-7-5-12-2-2-5 2-2 15-10 0-4-10-8 1-4zM524 118l4 0 4 2 16 13 12 3 3 12-1 8-21 24-17 13-8 1-20-4-8-8-11-6 0-4 12-16 17-8 13-12 2-4-2-8zM656 120l4 3 4 0 3 5-7 1-3-1-4-8zM392 139l7 1-7 18-4 4-24 12-4 4-1-6 4-4 0-4 17-18 4 1zM676 149l0 3 8 7 8 0 5 5 0 8 4 4-4 4 0 8-5 5-4 0-4 4-2-1 1-12-2-16-9-4 3-4zM464 174l7 2 4 16-7 20 0 12-8 8 15 20-1 8 10 11 16 8 4-3 3-8 13-10 20-10 7 4 1 4-10 8 1 4 5 3 4-1 20-13 4 0 4 4 1 3-1 5-12 7-4 5-8 1-4-2-4 2-4 8-18 14-7 12 0 4 5 7 16 0 8-4 2 1 0 12 6 4 12-4 8 4 12-4 8 6 4-1 8 5 8 0 12 9 3-3 5-9 1-3-3-4-10 1-8-4-12 6-4-14-6-5-1-4 6-24-6-8 0-4 3-4 8-3 8 4 16-4-3-13 11-16 0-4-10-4-3-4 1-5 13-15 7-1 8 6 4-1 1 4-4 4 0 56 4 4 0 16 4 4 0 12 4 4 0 16-4 4 0 12-4 4 0 8-8 12 0 8-5 4 0 4-4 4 0 8-4 4 0 20-3 4 0 8-12 12 0 4-12 12 0 4-8 8 0 4-4 4 0 8-4 4 0 8-4 4 0 8 4 4 0 16-3 4 0 8-5 4 1 12-5 4 0 20-4 4 0 20-4 4 0 16-3 4-1 16-4 4-1 5-8 1-6 2-6 4-4 7-4-13-8 2-3-4 3-6 4 0 1-2-9-8-4 0-4-3-4-7-4 0-4 3-3 7 7 10 0 4-4 4-16 7-2-9 1-20 7-12-1-8 4-16 6-8 1-20-4-1-10 5-2 4 7 8 1 8-12 6-14 22-10 8-2 4 3 8 11 2 2 2 0 4-2 8-4 5-8 2-4-5-4 0-2 14 2 2 2-2 2-5 2 9-5 8 0 20-13 9-5-5-3-7-4 1-3 10 2 4 5 5 4 0 8 5 8-5 10-17 6-4 16 18 16 10 0 4-16 9-12-1-20 15-16 3-12 8-12 1-4 5-1 8 9 8 4 2 9-2 3-6 6 6-2 8 2 4 6 1 8-2 12 5 16-14 12 1 20-5 16-14 12-24 1-8-1-4-8-4-8 4-4 5-6-9-1-8 27-40 12 5 8-1 1 4-4 4 0 16-4 4 0 16-4 4 0 12-4 4 0 12-4 4 0 8-4 4 0 8-4 4-1 12-4 4 1 16-4 4 0 16-4 4 0 8-16 16 0 4-3 4 0 4-4 4 0 4-9 12 0 4-4 4 0 4-8 8 0 4-12 12 0 4-8 8 0 12-4 4 0 8-33 33-4 0-11 11 0 4-9 8 0 8-3 4 0 4-4 4 0 8-4 4 0 8-4 4 0 8-4 4 0 8-4 4 0 8-4 4 0 12-4 4 0 16-4 4 1 24 4 4-1 56-4 4 0 8-4 4 0 8-8 8 0 12 4 4-4 4-1 8-4 4-8 1-4 4-4-4-8 0-4-4-4 0-8-8-4 0-4 4-4-4-8 0-4-5-4 0-4-4 0-8-4-4-1-20-4-4 0-16 4-4 0-20-4-4 1-8-4-4-1-8-4-4 0-12-4-4 0-4-4-4 0-4-31-31-4 0-12-12-4 0-12-11-4 0-12-8-4 0-22-22 0-4-8-8 0-4-4-4 0-8-4-4 0-8-4-4 0-32-4-4 0-8-4-4 0-8-4-4 0-12-4-4 0-16-8-8 0-4-31-32 0-4-4-4 0-8-4-4 0-12 4-4 0-12 4-4 0-12 4-4 0-16 4-4 0-8 4-4 0-8 4-4 0-8 4-4 0-44 3-4-4-4 1-8-4-4 0-4 4-4 0-8 4-4 0-12 3-4 0-16 4-4 1-24 4-4 0-8 4-4 0-8 17-17 4 0 11-11 0-4 4-4 0-4 8-8 0-8 4-4 0-4 3-4 1-8 8-12 0-4 4-4 0-4 4-4 0-4 3-4 0-4 9-8 0-4 8-8 0-8 4-4 0-8 4-4 0-4 8-8 0-4 4-4 0-4 9-8 0-4 8-8-1-4 4-4 0-4 9-8 0-4 7-8 0-4 4-4 0-4 8-8 0-4 4-4 0-8 4-4 0-4 5-4 0-4 19-20 0-4 4-4 5-1 31-31 0-4 4-4 0-8 8-12 0-8 4-4 0-8 5-4 0-8 4-4 0-8 3 0-1 4 3 8-4 4 0 4 7 12 32 12 4-1 7-7 15-24 6-7 12-6 16-1zM429 232l-3 4-5 12 7 6 8-1 6-5 3-8-1-5-7-3zM366 292l-4 4 2 12 3 4 5 0 5-16-5-5zM331 320l-2 4 3 1 4-1 0-5zM587 356l-7 4-1 4 3 16-2 12 4 3 8-4 4-7 10-8 2-4-1-4-7-7zM358 364l-3 4 4 4 5 2 4 0-1-6zM531 388l-1 4 4 12-5 24 3 12 19 4 0 16 4 8 25 0 8 2 6-2 4-4-2-22-12-5-2-5 2-6 9-2 1-4-3-8-3-2-4 2-4 9-11 7-1 15-4 2-8-2-8-11-3-8 0-4 12-8-5-3-8 1-6-2 4-20-2-3-4 0zM435 448l-8 16 1 5 10-13 1-4zM411 480l1 4 12 9 5-9-1-7-8 7-4-5zM489 492l1 12-5 8-2 20 2 4 11 1 16-5 8 4 4-2 5-10 10-8-2-8-5-4-4-1-12 1-3-4-1-7-8 1-12-5zM466 500l-6 17 5-1 10-12-3-6-4-2zM511 548l0 4 5 6 5-2-1-8-4-2zM527 580l-3 4 0 6 12 5 12 14 4 1 4-6 0-9-4-3-8 2-4-3-8-11zM283 756l1 6 4 1 0-5-4-3zM325 788l-8 4 3 6 8 3 5-5-1-8zM259 792l-6 16 3 2 9-2-1-12-4-6zM395 808l-4 4 2 4 5 4 2 4-3 20 3 1 8-5 1-4-1-24-1-4-3-2zM455 840l-7 9-8 0-6 3-5 4-5 10-4 3-8-6-4-1-4 2-3 4 0 12-10 8-4 12-6 8 0 8 8 8-2 4-15 9-12 17-19 6-5 15-4 0-4-4-8 0 4 9 4 2 4-4 4 2 1 4-9 10-8-4-7 2-3 4 1 12 9 5 4 11 0 8 16 6 4-5 9-29 23-12 4-10 12 0 33-22 5-8 2-12-4-12-9-8 1-4 20-8 16-4 8-6 8-1 6-9 13-12 8-20-4-8-7-4-24 0zM373 868l-6 4 0 4 5 7 4-1 4-6 0-4-4-5zM277 952l0 8-6 8 0 4 5 7 5-3 2-16 3-8-2-3-4 0zM253 968l3 4 6 0 0-4-2-1-4-1zM289 1000l-4 12-7 12-1 8 1 4 10 17 8-13 4-1 4 1 2 4-1 12 7 5 8-2 4-3 1-4-20-16-3-16 0-12-3-8-3-3-4 0zM274 1072l-8 12-2 8-1 12-2 8 3 8 4 2 8-6 4 2 6 14 2 2 16-7 3-3-5-8 2-2 4 0 14 10 2 8 4-4-2-16-6-4-2-4 2-11 3-5 0-4-11-15-12 4-8-2-5 1-7-3zM346 1108l-4 4 2 6 4 0 1-2-1-8zM303 1164l1 4-4 5-12-3-4 2-5 0-6 8 19 6 12 14 10-4-2-12 5-16-1-4-4-2-8-1zM516 994l20 1 4 4 8-1 6 6 0 8 4 4 0 4-5 4 0 12-4 4 1 8-6 6-8 0-4 3-4-4-8 1-4-4-4 0-10-10 0-4-3-4-1-8-4-4 0-4 4-4 1-8 5-6 8 0zM180 1115l4 0 4 4 8 0 6 5 0 8 4 4-4 4-1 8-13 14-8 0-4 4-4 0-4-4-8 0-2-2-4-4 0-8-3-4 3-4 1-8 1-1 12-12 8 0zM528 1211l24 0 4 4 8 0 6 5 0 4 4 4 0 8 4 4 0 8 4 4 0 4-4 4 0 8-10 10-8 0-4 4-4 0-4-4-8 0-8-9-4 0-17-17 0-8-4-4-1-8 5-4 0-8 5-5 8 0z" fill="#3c8ce6"/><path d="M516 64l11 0-7 4-11 12 2 16-1 4-2 1-8-1-8-7 3-5 0-4zM584 92l16-1 5 5 0 8 3 3 8 0 4 4 7 1-3 4-4 5-4 1-8-2-12 7-4-1-6-6 9-16 0-4-3-3-8-1zM524 125l8 1 24 13 5 9-1 8-12 11-12 16-12 8-8 1-16-2-18-14-1-4 11-16 15-8 9-9 7-3zM392 139l4 1 0 2-4 9-4 4-24 13 0-4 11-12 5-5 4 0zM684 160l8-1 4 4 1 9 3 4-3 4 0 8-5 5-7-1 1-8zM444 180l12 0 8-1 2 1 2 24-4 19-16 7-29-2-4 4 2 8-11 8 0 4 6 12 8-8 8 2 14-6 4-4 2-6 4-4 8 0 5 6 3 17 12 11 8 13 4 3 4 1 10-5 5-12 9-10 14-6 3 0-3 8 8 12-2 8-4 5-16 10-4 5-8 20 8 6 12 2 10 0 10 10 16-2 8 6 4 1 4-2 4 0 1 3-8 12 0 24-7 12 2 5 6 3 1 4-3 4-8-5-8-1-13-6-1-4 0-4 2-3 8-1 1-8-1-3-8-2-8-9-4 0-6 6 0 8-5 8-1 4 4 12-2 24 1 12 7 20 2 1 8-3 4 6-2 20-10 2-12-8-8 2-2 4-10 5-12-5-12 4-8-9-4-2-6 7 0 20-9 16-1 4 4 4 20-15 4 5 1 6-5 12 3 4 9 0 8 3 12-6 4 1 1 2-8 8 0 4 5 8-1 4-9 4-19 16-1 12-8 20-8 14-4 2-8 0-3 4-2 16-8 32-3 4-4 2-3 6 3 7 12-2 3 7-1 4-6 6-4-2-4-11-4-1-4 2-4 6-3 16 7 11 8 1 4 9 4 0 24-30 19 17 2 8-5 4-12 0-8 3-2 5-6 6-8 3-12 1-12 9-4 1-8-6-4-1-4 2-3 17 6 12-11 6-4 6 0 5 7 7-3 16-4 3-9-3-9 16 0 8-6 4-16-10-12 2 0 4 8 5 5 7 2 4-3 1-1 3 1 5 4-9 8-3 8 11 4 2 12-4-2 14-4 8 0 8 5 8-1 4-10 4-14 20-10 3-8-3 2-16-6-6-4 0-4 10-2 12-9 12-1 12 2 8-6 4-4 0-8-5-1 5-11 7-4 5-4 12-5 8-2 16 7 8 1 8-9 9-4-7-4 0-1 2 4 16-6 20 0 12-6 12 2 8-9 5-3 7 0 4 3 2 12-2 6-12 10-5 4 3 4 13 4-1 8-5 8-1 8 3 4 5 13-4 4-4 1-8 2-6 2 6 0 12-6 15 0 12 16 12 4-3-4-8-1-8 4-20 3-8 0-20 2-4 8 3 3-3 5-8 0-4-4-6-12-8-9 2-7 6-4 0-8-6-7-12 8-16-1-4-9-8 1-3 20 9 4-4 10-22 3-12 7-4 12 3 4-2 12-21 8-6 16-4 12-12 10-22-9-16-1-4 2-4 10-5 20-4 12-7 11-12 10-8 7-15 7-5 0-4-3-4-12-9-28-3-4-2-4-6 1-8 15-16 4-2 24-5 16 3 0 4-7 8-2 16 1 2 4 0 12-8 1 10-4 4-1 16-4 4 1 8-16 16 0 4-4 4 0 4-4 4 0 4-9 12 0 4-4 4 0 4-7 8-1 4-11 12 0 4-9 8 0 12-4 4 1 8-33 33-4 0-12 11 0 4-4 3-4 0-8 5 0 4 4 7 1 5-4 4 0 8-5 4 1 8-4 4 0 8-5 4 1 8-4 4 0 8-4 4 0 12-4 4 0 16-4 4 0 24 4 4 0 56-5 4 0 8-3 4 0 8-8 8 0 12 4 4-5 4 0 4-4-4-4 3-4 5 0 4-4 4-4-3-8 0-4-5-4 0 1-4-1-11-4 3-2 4-6 0-4 4-4-3-8-1-7-16-1-15-4-2-4 5 0-12-4-4 0-14 4-2 0-14 4 2 4-1 4-7-4-8-8 11-3-27 1-4 10-3 16 4 5 3 7 11 12 9 4-8 12-10 8-14 0-4-8 2-8 8-4-2 4-20-8-12-4-3-4 1-8 10-4-1-8-9-4 4-2 10-16 8-2 4-1 12-3 4 0-4-5-4 0-12-4-4 0-4-3-4 0-5-8-6-24-24-4 0-12-12-4 0-12-11-4 0-12-8-4 0-22-22 0-4-8-8 0-4-4-4 0-8-3-4-1-8-4-4 0-32-4-4 0-8-3-4-1-8-3-4 0-12-4-4-1-16-8-8 0-4-30-32 0-4-4-4-1-8-4-4 1-12 4-4 0-12 4-4 0-12 3-4 1-16 3-4 0-8 5-4 0-8 4-4 0-8 3-4 0-44 4-4-4-4 0-8-3-4 0-4 3-4 0-8 4-4 0-12 4-4 0-16 4-4 1-24 4-4 0-8 3-4 1-8 16-17 4 0 11-11 0-4 4-4 0-4 8-8 1-8 4-4-1-4 4-4 0-8 9-12 0-4 3-4 0-4 4-4 0-4 4-4 0-4 8-8 0-4 8-8 0-8 4-4 1-8 3-4 0-4 9-8 0-4 4-4 0-4 8 4 4-1 3-3 1-8 9-4 2-4-10-8 2-8 5-4 8 2 2-2 2-20 3-4 0-4 9-8 0-4 3-4 0-8 4-4 1-4 4-1 8 11 4 0 16-6 3-8 0-4-4-8 0-4-3-4-2 4-1 8-5 5-4-2-2-7 10-12 0-4 3-4 5-1 31-31 0-4 4-4 0-8 8-12 0-8 4-4 1-7 8 1 8 9 20 5 7 4 3 4-2 12-1 4-9 8-1 4 3 4 4 1 4-2 6-11 2-20 12-15 11-21 9-8zM407 268l-6 4-2 4 1 7 4 2 5-5 1-4-1-8zM365 288l-8 4-4 4 5 8 2 8 4 4 20 8-1 8 1 4 7 0 0-4-7-8 0-4-5-12 5-6 4 3 4 7 4 1 5-5-1-5-4-4-8 1-16-15zM419 308l-1 4 2 3 8-3-4-6zM437 312l-4 4 2 16-11 16 8 10 4-2 3-8 9-7 6-9-4-8-4-12-2-2zM332 316l-6 8 2 6 4 0 6-2 12-8-10-5zM356 332l-2 4 1 4-3 8 4 8-4 4-12-4-6 4 2 4 4 4 8-1 16 13 4 0 5-4 1-8-2-4-8-4-3-4 6-8zM402 340l1 4 5 3 4 0 2-3-2-6-4 0zM322 364l-2 1-3 7 3 5 4-1 2-4-1-8zM393 364l-10 4-2 4 2 4 17 13 12-1 9-8-1-9-4-4-16-4zM494 368l-2 4 2 8-6 9 16 6 4-2 3-5-2-12 7-8-12 0-8-3zM423 388l-3 4-1 12 5 5 4-2 5-11-5-9zM359 404l-2 4 0 8 3 6 4 0 3-2 2-4-1-8-4-7zM315 416l-8 12 5 11 5 5 3 16 8 0 12 16 4-4 1-4-1-8-4-3-8-1 0-16-12-5-2-3 1-8 8-4 1-4-8-1zM430 440l-1 8-3 8-6 6-8-1-6 19 2 8 10 8 6 2 9-14 0-12 8-12 3-8 0-4-4-6-8-5zM467 452l-14 16 3 6 8 0 6-6 10-1 2-3 2-10-3-2-9-2zM360 492l-10 12-3 12 3 8 10 8 1 8 3 4 4-1 4-8 1-7-1-2-8-2-1-8 0-4 6-12 0-4-5-6zM332 540l-7 4-1 16 8 10 5-2 4-24-3-4zM493 548l-11 12 6 4 4-1 9-15-5-3zM467 552l-1 8-3 8 5 9 4-3 5-18-5-8-4 0zM410 572l-15 12-2 4-1 4 6 12 2 11 12 3 12 11 4 0 12-5 6-8-2-20-4-4-4-1-8 4-1-7-9-8-2-7-4-3zM293 700l7 5 2-5-2-4zM279 716l-3 16 4 5 5-9 0-8-1-5-4-1zM394 744l-2 1-2 7 2 3 4-7 0-8zM283 748l-3 2-2 6 2 8 4 5 4 1 4-2 3 4 1 8 2 4 10 7 5 9 11 8 3 8 3 4 2 1 4-1 0-4-4-8 6-12-2-23-4 0-7 11-9 0-3-4 4-8 0-8-10-4-9 4-2 3-8-17-4-3zM366 764l-2 4 0 5 12 2 8-11-8-4-8 1zM241 772l-3 4 0 4 8 8 5 8-2 8-5 7 0 5 4 4 4 0 8-4 12-1 0-19-3-8-1-9-4-3-8 2-8-9zM375 784l-3 4 2 4 2 1 4-3 2-6-2-3zM258 828l-7 12 1 8 16 6 8-2 2-4-2-5-8 4-3-3 3-18-8 0zM305 828l-2 4 1 3 4 2 5-5-1-7-4 0zM316 872l-4 8 4 2 3-6zM298 892l-2 4 3 4-1 4 2 2 4 0 4-14-4-2zM283 900l-1 8 2 4 7-4 2-4-1-4-4-4zM265 936l-7 4-2 4 4 8 11 4-3 6-12-2-7-20-5-2-6 2-3 4 0 8-4 4 0 8 5 9 12-3 8 6 8 0 8 7 4 1 10-8 1-16 6-12-17-6-4-8zM294 968l6 4 3-4-3-4-4 2zM342 1192l2 5 4 1 1-2-1-5-4-2zM302 1240l-3 8-8 8 3 4 14 8 4-5 8-5 3-6-9-4-6-12-4 1zM640 216l4 6 4 1 1 9-1 25-4 6-2 13 2 5 9 3 0 16 4 4 0 12 4 4 0 16-4 4 0 12-4 4 0 8-4 4 0 4-5 4 0 8-6-8 4-8-2-4-7-4 11-5 4-7-8-5-8-11-20-4-8 1-9-13-1-4 1-8 5-10 8 0 8 14 4-6 1-6-10-8 2-4 15-4 2-4-4-12 1-4 4-8 8-8 0-4-12-8 0-4 6-8zM568 261l5 3-1 4-5 0-2-4zM600 280l5 4-5 7-3-7zM600 352l8-2 4 1 4 5 1 8 11 1 7 11-2 4-11 8-4 8 1 4 9 11 4 0 0 12-4 1 1 4 0 12-12 12-1 4-12 12 1 4-8 8 0 4-4 4-1 8-3 4 0 8-4 4-1 8 5 4 0 16-4 4 0 8-4 4 0 12-4 4-1 20-4 3-6 1 6 1 1 19-4 4 0 16-4 4-1 16-4 5-20 4-4-9-19-16 1-4 6-12 16-13 4-1 4 4 4 0 4-2 7-16-7-16-4 2-2 6-6 1-12-13-6-4 5-16-1-8-5-8 5-12 18-11-1-9 7-4 1-4-3-4 2-16 4-8 18-1 12 3 12-6 2-4-2-12 4-48-5-12 2-8 8-8 5-8-16-12zM552 421l4 0 4 3 0 4-4 3-6-3-1-4zM480 489l4 6 0 5-4 1-3-5zM524 491l8 1 2 4-2 3-8-3-2-4zM520 576l1 4-5 9-8 8-4-1-1-8 4-8 5-3zM528 596l3 4-4 8-3 11-12 4-6 9-9 8-3 8-1 12-5 1-1-17 7-12-2-8 7-16 5-7 8 8 4 0 7-5zM460 659l4 0 1 5-1 3-4 1-3-4zM540 707l4-2 8 1 0 18-4 4 1 16-5 4 1 12-4 4 0 12-4 4 0 8-4 4 0 8-5 4 0 3-7-7 0-4 0-4 7-8 12-28 1-8-5-5-8-2-12 3-3-4 7-16 4-6 8-8zM420 806l4 1 9 9 15 1 4 3-4 10 0 14-12 4-16 13-8-5-4 1-10 7 0 8-2 7-8 4-4-9-2-10 6-14 16 0 8 6 3-16-3-16 2-12 2-4zM516 995l20 0 4 4 8 0 5 5 0 8 4 4 0 4-4 4 0 12-4 4 0 8-5 5-8 0-4 4-4-4-8 0-4-4-4 1-9-10 0-4-4-4 0-8-4-4 0-4 4-4 0-8 5-5 8 0zM180 1115l4 0 4 4 8 0 5 5 1 8 3 4-4 4 0 8-13 14-8-1-4 4-4 0-4-3-8 0-2-2-3-4 0-8-4-4 4-4 1-9 12-12 8 0zM528 1211l24 0 4 4 8 0 5 5 0 4 5 4-1 8 5 4 0 8 4 4 0 4-4 4 0 8-10 10-8 0-4 4-4 0-4-4-8 0-8-9-4 0-17-17 0-8-4-4 0-8 4-4 0-8 5-5 8 0z" fill="#78b9fa"/><path d="M500 79l4-2 2 15-2 5-4-1-4-4 0-8zM600 92l4 4 0 8 4 3 8 1 5 4-2 4-11 0-12 4-2-4 1-4 5-8-3-12zM528 131l8 1 20 11 3 5-1 8-10 9-11 15-13 10-12 1-16-4-11-11-2-4 2-4 9-12 14-7 8-8 10-5zM388 144l4 0-7 8-17 11 0-3 12-13 4 1zM692 160l4 4 0 8 3 4-3 4 0 8-4 4-4 0 1-8-2-20 1-4zM436 183l12-2 12 2 4 3 3 18-5 16-5 4-9 3-12 0-16-5-12 6 0-6 5-6 11-24 4-4zM348 210l4-1 12 9 16 2 8 4 1 4-1 12-35 36 2 8-11 11-4 13-15 12-2 4 1 4 4 8 12-5 4 1 3 4 0 4-5 8-10 0-12 8-10 16 0 4 3 4 11 3 8-11 8 2 8-2 11 8 2 4-3 16-4 8 0 12 2 6 8 0 5 2 2 4-4 12 1 4 10 4-3 12-3 4-4 4-8 0-5 12 0 8-11 12-2 16-5 12-9-2-12 10 0 4 4 8-3 8 1 4 14 12 20-9 8-15 8-1 4-3 5-24-8-8 0-4 3-4 1-12-2-8-5-8 2-3 4 3 2 4 6 6 4-1 4-6 12-7-1-4-7-3-10 3-4-4 1-4 21-3 4 2 0 5-3 4-1 4 4 14 5 6 15 7 4-4 6-11 4-16 2-3 4 0 4 4 4 11 5 4 3 8-1 8-10 16-1 8 2 4 6 2 4-2 6-8 6-4 4 0 1 4 0 4-13 20-4 16 3 16-6 12 3 6 8-4 4 1 1 5-4 8 0 8-5 10-4 2-10-4 0-24-8-16-3-12-7-4-6 4 0 4-2 2-3-2 2-8-2-12 2-8-3-3-9-5-3-20-4-4-4 0-2 4 0 16-9 16 5 8 1 16-7 8-5 12 1 4 4-1 4 2 1 3 0 8-1 2-4 0-8-7-6 17 2 2 8 1 4 3 4 10 6 8 2 7 2-3 0-16-1-8 3-6 4-2 4 3 4 8 8 4 12-4 5 1 1 4-4 36-15 24-7 24-5 8 2 8-9 12 4 9 6 3 2 4-4 2-8-1-8 3-4-4 8-15 3-1-2-12 3-12-4-8-4-1-6 5 3 12-9 22-4 0-8-8-4 2-8 8-4 8-4 0-8 9-5-5 4-12-3-4-12-8-2 0 4 12-2 6-4 2-8-5-8-3-12 1-3-5-1-4 4-8-1-4-5-4-3-20 2-4 3-2 12 5 2-11-2-5-4-2-11 3-6 4-15 36-8 5-12-2-4 1-4 4 1 20-8 16 1 4 10 8 2 4 0 4-4 8-1 12-3 8 1 8 3 0 6-10 4 2 0 4-4 8 2 8 2 4 12 5 8 1 4-1 6-9 0-4-6-8-1-4 4-8-2-20 5-12 6-7 4 0 8 7 1 12 10 4 0 4-4 4-11 20 0 4 8 3 4-1 6-6 6-15 4 0 8 6 4 0 3-3 1-4-3-12 1-4 7-8-4-8 3-11 8 3 4 4 2 12-2 12 4 5 10-1 6-12 12-12 4 2 3 6-1 4-6 6-5 10 6 12-2 4-3 1-8-2-8-9-4-1-4 2-8 9 0 8 4 3 12-2 5 3 0 4-9 9-4 2-4-2-4-9-4-3-19 15 0 4 11 6 4 6-3 12 3 5 4 2 8-7 4 0 14 12 3 24-13 12-8 14-8 2-5-4 1-7 7-5 2-4-5-4 0-4 4-8-4-5-4-1-4 3-4 7-4 2-9 30-11 13-12-6-4 0-2-3 6-5 0-8-8-2-12-1-2-4 2-9 8-9 24-9 2-17 8-12 5-16-3-4-4 0-4 3-5 9-4 12-7 3-4 0-6-3 0-4 6-8 0-5-4-2-8 2-14 13-1 4 8 20-2 8-9 16-10 8-12-3-12 2-6 21 6 19 4 3 12-3 15 5 9 9 4 2 8-8 5 1-9 13-8 2-2 5-2 12 0 20 1 4 7 4 2 4-2 4-8-6-12 8-6 2 2 4 4-1 2 5 2 16-5 16 2 8-13 16 0 8-4 8 0 12-4 1-24-25-4 1-12-13-4 0-12-10-4-1-12-7-4-1-21-21 0-4-8-8 0-4-4-4 0-8-4-4 0-8-4-4-1-32-3-4 0-8-4-4 0-8-4-4 0-12-4-4 0-16-8-8 0-4-27-28 12-32-1-12-3-2-8 6-2 0 0-28 7-16-1-14 4-1 5-5 2-12-1-8 2-4 0-29 8 0 5-3 1-4-2-4-12-1 0-3 3-4-4-4-1-16 2-12 4-4-1-12 4-4 0-16 4-4 1-23 12 2 4-4 5-19-1-8-2-4 2-4 4-4 4 0 12-12 0-4 4-4 0-4 8-8 0-6 13 2 0-4-9-8 3-4 1-8 4-4 0-3 5-1 2-4-1-4 2-8 4-4 0-4 3-4 0-4 9-8 0-4 8-8 0-8 4-4 4-16 4-3 4 0 8-8 12-3 6-10 14-14 4 0 8 7 1-1 1-4-2-4-11-8 2-8-2-20 3-4 0-4 8-6 8 6 4-1 12-15 19-12 2-4 1-8-5-16-6-8 1-4 4 0 8-6 8-10 11-4-1-4 10-16 0-8 8-12 0-8zM308 384l-2 4 2 8 5-4-1-5zM326 388l-3 4 0 4 5 7 4 0 4-3 0-4-4-7-4-3zM301 404l-3 4-5 20 7 1 4 2 3 13 5 4 1 8-4 8 1 4 6 1 8-3 4 2 4 4-2 8 2 3 4 2 4-2 7-11 3-20-2-3-8-1-2-12-6-8 2-8-1-8-1-2-4-1-16 2-8-8zM176 496l-2 4 2 8 12 10 12 4 12-9 4-5-1-4-3-1-8 9-8 3-13-7zM318 504l-3 4 1 4 4 2 9-6 0-4-5-2zM255 540l1 6 4 1 7-3 1-4-8-4zM282 552l-3 4-4 12 1 4 4 5 4 0 8-9-3-16-5-2zM297 552l-4 16 5 8-4 12 1 4 4 4 5 2 2-6-3-8 0-8 6-8 0-12-1-4-4-2-4 0zM207 556l-3 1-3 7 3 5 4-3zM153 560l-6 16-8 8 1 8 4 1 4-3 1-10 10-12 1-4-2-4-2-2zM187 568l-11 15-8 2-3 3-1 7 4 6 8 2 8-7 8-20-3-8zM269 592l-2 4 0 4 5 5 4-2 3-7-3-5zM207 596l-5 8 2 14 4 0 7-6 2-8-5-11zM241 608l-2 4 3 16 2 2 4-1 3-5-4-16-3-2zM198 624l-9 8 0 4 7 6 8-2 2-4-2-11-4-3zM296 632l-4 2-4 7-8 26 0 6 4 2 4-3 1-4-3-8 2-4 11-8 1-4zM254 640l0 8 7 0 2-4-3-5-4-2zM330 648l-6 8 4 6 4-2 5-8-1-4-4-3zM374 652l2 4 4 2 3-2 0-4-3-3zM347 656l-1 4 2 2 12 7 6-5-2-3-8-2-4-3zM395 672l-8 12-3 8 4 12 0 5 8-1 4 1 8-5 7-12 0-4-3-3-8-3-4-10-4-2zM95 676l0 8 4 4 5 1 4-8-2-5-2-3-4-1zM158 708l-5 4 0 4 3 6 4 2 6-4 0-8-2-4zM326 708l2 7 5 1 1-4-2-5-4 0zM131 716l1 4 6 0 1-4zM240 720l-2 8 2 2 4-2 0-8 0-1zM378 720l-3 4 1 5 4-1 3-4 1-4-4-2zM212 820l-14 20-1 12 3 9 6-9 12-8-2-25zM80 828l0 21 7-21-3-3zM150 844l-10 16 0 4 4 5 4-1 11-16-2-8-5-2zM183 944l-5 12 0 4 10 12-3 8 3 6 4 1 5-11 0-16 1-8-6-10-4-1zM232 988l-6 4 3 4 6 0 7-4-5-4zM218 992l-4 4 2 4 4 1 3-5-1-4zM636 228l12 0 0 15zM452 242l4-1 5 3 2 8-1 12 2 7 8-1 4 3 0 27 8 3 5 21-9 0-4-12-4-3-4 4-4 13-4 4-7-6-2-4 1-17-4-2-12 7-8-6-8-3-7 13 1 4 2 3 13 1 3 4-1 8-7 7-4 0-8-6-12 2-6-7 0-8 11-8-1-16 3-8 9-8-1-8 1-6 4-4 8 6 6-8 12-8zM424 276l-7 4 3 5 4-1zM463 276l1 4 4 4 4-1 3-3-7-8-4 1zM400 255l4 1 1 4-1 3-4 2-4-1zM636 253l4 2 1 5-5 10-4-1-1-5zM524 265l4-1 8 10 2 2-2 7-20 11-12 13-4-1-3-6 1-4 14-11 8-17zM392 272l6 16-1 4-5 3-5-3-5-8 2-4 7-4zM636 282l8 5 4 1 4-4 0 16 4 4 0 12 4 4 1 16-5 4 0 12-4 4 0 8-4 2-1-6 6-12-1-4-12-6-3-6 0-4 5-8-2-3-4-1-12 8-2-4 2-16 3-8 2-8zM604 300l5 4-1 8-4 3-4-3 0-8zM504 311l4 5-4 4-3-4zM268 323l5 5-5 7-4 1 0-8zM364 321l10 3 6 19 8-2 4 2 10 9 0 4-7 4-15 4-4-3-1-5 5-8-1-4-7-2-12-14 0-4zM492 326l8 18 8-6 12-2 12 0 16 9 16-1 7 8 1 14-4-4-4 0-8 8-4 0-4-2-8-10-4-2-4 8-7 8 0 8-5 4-2-4 4-12-2-2-4-3-8 1-12-6-6 10-3 12-7 8-5 16-11 12-6 16-1 4 3 3 7 1-15 19-4 1 0-12-4-8-20-18-4-1-4 11 0 4 4 1 4 7 0 7-4 4-5-3 1-16-4 0-12 10-12-2-4-2-3-6 1-8-1-8-13-20 1-16 3-3 4-2 4 0 8 6 8 10 16-2 3 3 1 8 4 8 4 1 8-3 8 8 4-1 8-12 1-5-9-10-13-6-10-20-4-4 0-4 3-1 4 1 8 10 4 0 5-6 2-8 17-18 8 2 8-7 4 0 5 3zM604 356l4-2 4 2-2 4-2 1zM624 371l5 5-9 7-8 17 2 4 5 4 3 16 6 11 0 5-8 6-5 10-7 7-4-2-2-9 8-48-6-11 0-5 6-8zM564 375l8-1 2 6-2 6-8 7-3-13zM512 395l4-3 4 2 3 10 1 12-2 12 1 8-2 8 1 8-11 8-3 20-4 4-4-1-6-7 6-8 1-4-2-4-20-16-4-8 5-5 10-3-2-3-8-3-1-2 1-4 8-2 8-12 12-3zM536 468l4-2 3 2 0 8-3 4-7-4-1-4zM600 471l4 1-8 8 0 4-4 4-4 12 1 8-5 6-4-7-4-1-4 6-4 2-2-6 2-8-1-4-9-8-1-8 2-4 5-2 24 5zM572 519l16 5 0 16-3 4 0 8-4 4 0 12-5 4 0 16-12 0-3-8 1-8-2-4-8 3-4 12-4 2-11-13 1-12-3-24 1-4 8-7 12-1zM348 531l5 5-1 6-4 1-3-7 0-4zM480 570l5 2-1 4-4 3-3-3zM572 604l0 12-4 4 0 16-3 4-1 11-5 5-15 2-19-14-3-4 1-4 8-12 21-6 9-6 3-5zM532 716l12-3 3 3-1 12-6 8-4 2-16 1-1-3 2-8zM460 731l12 1 5 4 0 4-9 4-8-1-4-3 0-4zM420 747l4-1 4 1 6 9-1 4-5 2-8-3-1-3zM448 746l5 2 2 4-1 4-10 6-5-2 0-4zM268 751l8 13 2 8-2 3-8-3-12-2-4-6 1-8 3-3zM540 762l1 14-4 4 0 8-5 4 0 8-3 0-2-8zM496 804l6 0 5 4-2 16-5 15-4 2-12-4-22-1-2-4 1-4 7-13 4-3zM420 814l23 10-4 8-1 4 2 4-1 4-15 10-4-1-1-17-4-8 1-7zM388 864l4 2 0 6-4-1-1-3zM516 861l0 7-16 16 0 4-3 4 0 4-4 4 0 4-19 20 2 8-4 2-4-3-6 5-2 20-10 8-6 12 0 7 4 1 0 4-3 4-29 28-4 0-8 8-12 2-8 7-8 1-3-2 3-8-1-4-3-4-4 0-5 12 0 4 3 4 10 6 7 10 5 3-4 5 0 8-12-3-8 0-8-3-8 8-8 0-8 3-4-3-2-6 2-5 4-3 8 0 4-2 5-6-1-8 1-8 3-7 7-5 1-13 4-3 8 4 12-5 5-7 1-12 10-9 8-1 7 6 1 5 4 2 11-7-4-12 1-4 12-21 8-7-4-2-8-10-2-8 2-4 16-4 4 0 8 6 4-1 5-13 16-16 8-4 4-12 3-4 8-1zM410 1012l-8 4-4 4 6 3 7-7 2-4-1-1zM516 995l20 0 4 5 8-1 5 5 0 8 4 4 0 4-5 4 0 12-4 4 1 8-5 5-8 0-4 3-4-4-8 1-4-4-4 0-9-9 0-4-4-4 0-8-4-4 0-4 4-4 1-8 3-4 9-1zM376 1083l4 1-4 4 0 8-3-12zM364 1112l4-3 0 11-4 4 1 12-5 4 0 16-4 4 0 11-5-11 0-8 8-20 0-16 1-3zM180 1116l4 0 4 4 8-1 5 5 0 8 4 4-4 4 0 8-13 13-8 0-4 4-4 0-4-4-9-1-4-4 0-8-3-4 3-4 1-9 12-11 8 0zM268 1131l4-2 4 0 2 3 1 12-4 16-3 5-12 1-5 10-1 8-2 0 0-12-4-4-1-8 4-12 13-4zM296 1137l3 3-3 7-3-3 0-4zM324 1142l4-1 2 3-2 17-4 3-6-12zM356 1177l1 7 4 4-1 56-12-1-5 1 10 12 0 12-9 8 0 15-4-2-4 3-12 12 1 4-9 0-2-4-1-12 7-8-8-2-4 1-8 10-4 3-12 0-9-16-1-8 2-8 4-3 12 0 8 4 8 8 4 1 14-18 2-4 0-5-8-4-2-3 10-15 4 0 8 6 9-7 1-4-2-2-21-6-3-4 2-4 10-7 16 15 4-3 1-5-8-20zM268 1190l8 0 16 7 8 15 7 8-1 8-7 8-3 10-4 3-12-3-4 5-4 1-3-4 0-4 3-3 4-1 4 2 8-10-8-6 1-14-2-8-3-3-8-1-1-4zM528 1212l7 0-7 7-1 5 1 4 8 0 4-4 4 4 8 0 0-12 12 0 5 4 0 4 4 4 0 8 4 4 0 8 4 4 0 4-4 4 0 8-9 9-8 0-4 4-4 0-4-4-8 0-8-9-4 0 0-8 8-8 5 0 3-3-8-9-4 0-4 4-4 0 0 10 2 2-2 4-4 0-9-8 1-8-4-4-1-8 5-4 0-8 4-4 8 0z" fill="#0aa00a"/><path d="M500 80l3 8-3 3-4-7zM604 105l7 3-7 5-2-1zM532 135l21 9 4 4-1 8-10 8-11 16-11 9-12 1-16-5-9-9-2-4 7-12 16-10 8-7zM440 183l8-1 12 3 5 11 0 12-3 8-6 6-8 4-12 0-8-3-10-7-1-4 3-10 6-10 6-6zM352 215l8 4 15 1 9 4 2 8-2 8-8 7-5 9-23 20-1 8-8 20-18 20 1 12-5 16-12 16-5 25-4 5-4-1-9-13 1-10 12-3 3-3-1-4-10-7-4 1-2 2-2 8-8-8 8-15 26-21 2-12-6-24 6-4 12-1 7-7 5-10 7-26 10-12 1-8zM452 251l4 4 2 25 10 12 0 12-3 4-2 12-3 4-5-4 4-16-7-10-4-3-8 5-8-1-6-3 5-16 5-7 9-1 1-4-4-4zM636 290l4 2 5 16-5 4-4-1-5-7-1-4zM424 323l5 5-1 5-4 2-3-3-1-4zM648 321l4 0 7 7 1 8-4 1-12-1-2-4zM476 335l12 2 4 3 3 8-1 4-3 4-20 48-7 6-4 1-3-3 1-12 6-13 0-8-4-3-12 7-13-3 9-12 12-22 4-2 8 2zM524 340l4 0 4 4 1 4-2 8-7 7-4-2-13-1-4-4 0-4 3-4zM260 356l4 4-1 8 1 8 0 4-4 1-4-1-2-8 0-12 2-4zM344 378l4 0 4 2 2 4-2 3-8 2-4-3-2-2zM376 383l4 1 5 4 9 12-2 4-4 5-12-3-4-5 1-13zM348 399l4 1-2 4-1 16-1 4-4 0-4-5-2-7zM404 399l6 1 6 16-4 10-8 10-4 1-8-1-5-12 1-8 16-4 2-4-3-8zM516 399l5 13-2 24-7 15-8 3-4 0-8-6-2-4 3-8 7-12-5-8 2-8 3-3 8-1zM248 403l4 1 3 8-5 8-2 12 4 2 8-2 8 5 2-5-9-12-1-4 2-4 6-4 8 0 12-4 4 1 2 7-1 8-8 8 2 12 1 3 4-1 4-7 4-1 1 2-3 8 10 8 0 4-4 16 0 11 5-7 3-2 8 2-6 12 10 8-8 5-8 12-4 1-8-2-18 8-1 4 3 1 20 4 6 3 3 4-1 7-8 1-12-5-8 5-6 8-4 20 6 8 0 4-10 4-6 5-16 4-12 11 5 16-6 8-1 8 6 7 8 0 8 9-4 7-5 1 1 3 12-4 15-15-1-8-4-8 2-4 13-12-2-8 5-12 8 2 8 8 4 0 6-6 1-4-3-12 1-4 7-7 4-2 4 5-2 16 2 4 12-7 12-3 4-6 8 4 4-2 2-6-8-8 1-8 5-5 8-2 4-5 4-24-3-24 3-3 8-2 4-7 5 0 7 14 8 0 10 6 2 8 4 2 3-2 0-4-2-4 1-8 8-12 2-10 4-2 2 8 10 8 1 8-1 4-9 8-3 13-4 7-4-4-4 0-2 8 2 1 8-5 4 1 8 7 4-2 6 2-2 12-7 12 4 8 0 8-5 6-11-22-9-1-4-3 0-16-10-8-4-8-4-12-6-5-4 0-5 9-1 16-10 16 5 12 0 8-6 16-5 8-3 12-7 16 1 20-9 9-16-2-4-4-4-11-4 0-6 4-2 7-8 7-1 6 2 4 11 6 5-2 3-4 4 0 16 14 4 0 12-12 12-2 3 4 1 8-6 16 0 12-10 21-7 7 0 12-9 9-8 3-12-12-12-6-4 2-3 8-3 4-8 0-6-3 0-5 12-10 8-14 16 4 5 4 3 8 4 2 11-2 4-4-7-16-4-2-11-2-5-9-4-2-8 0-4-1-8 1-8-11-24 4-8-10-2-4-5-4-3 4-1 8 5 4 4 8 2 12-2 12-6 9-8 2-3-3-3-16-6-6-8 1-2 13-6 4-4 0-7-8-2-4 0-8-3 0-5 4 9 24-8 8-1 4 4 8-3 4 0 15 4 3 8-1-4-17 16-6 4 6-3 12-8 8 3 15 4 1 8-2 2 2-3 8-2 16-4 8 2 12 1 2 8 1 8 13 12 5 12 1 4 2-4 7-4 2-12 4-9-1-7 17-8 1-8-9-5 3 1 13 8 2 1 5-5 10-4 2-4-5-5 1 2 4 7 0 2 4 0 16-5 16 10 24-3 4-12 1-12 13-4 0-4-6 5-12 2-12 5-8 0-6-8-6-8-12-24-4-4 4 1 4 11 8-3 8 2 4 8 12-1 8 9 20 21 15 4 1 4-1 4-3 4-8 18-8 5-4 1-4-4-4-1-4 17 6 5 6-7 24 2 17-4 5-4-2-3 4 4 4-13 6-5 10 5 4 8 1 4 7 1 8-1 5-6 7 0 4 3 8-2 4-7 3-9-3 0 12 3 8-5 8 4 8-1 4-20-20 4-12-12-3-4-11-16 6-8-7-4 0-12-8-4 0-21-21 0-4-8-8 0-4-4-4 0-8-4-4 0-8-4-4 0-32-4-4 0-8-3-4-1-8-4-4 0-12-4-4 0-16-8-8 0-4-24-24-1-4 14-20 1-4-1-16 5-20 1-12-6-4-4 1-4 5-1-6 2-16 8-8 3-15 4-4 7 3 1 12 8 11 4-1 4-4 1-10 3-4 8-4 4 1 2 11-7 8 0 4 5 7 4-1 7-6 0-12 6-8 9-24-2-2-8-1-8-5-4 0-20 24-4 3-4-1-2-2-2-12-12 11-4-3-4-7 0-10 12-11 8-3 1-9-3-8-15 0 0-4-3-4 1-8-1-18 4-2 14 8-2 12 4 15 8-3 3-4-5-28 4-12-4-8 2-3 4-2 4 0 8 5 1-4-22-28 9-12 3-16 5-9 8-7 8 7 4 0 9-11 2-8 8-8 3-8-3-8 4-8 0-4-11-10 0-8 4-3 8-1 8-7 4 2 7 7-2 12-1 4-7 4-3 4 2 8-4 8 0 8-10 16-1 8 7 11 4 2 8-3 8-10 5-12 5-4-2-8 4-1 3 5-2 4 3 12-5 8 1 16-2 4-6 6-8 3-16-8-3 7 4 8 7 7 24 2 7-5 2-4 0-12 14-20-5-12-8-8-3-8 3-8 3-16-5-2-8 2-4 9-4 0-10-5 6-7 8-2 12-26 8-5 3-12-3-6-4 2-8 10-4 1-8 0-10-7-6-15 0-5 8-8 4 0 3-4 3-16 6-9 16-17 16-6 12-19zM256 532l-4 6-2 14 10 0 12-5 2-3-1-4-5-6-8-3zM244 568l-2 8 2 2 8-4 4-6-8-4zM140 620l-1 8-3 5-12-2-4 5 9 4 7 10 4-1 4-5 4-16 0-4-4-7zM292 624l-10 20-8 32 0 4 6 3 12-7 2-4-2-12 2-4 6-4 4-8-2-8 1-8-2-4-5-2zM168 660l-4 8 4 5 6-9 0-4-2-3zM160 704l-16 7-16-2-5 3-1 4 6 7 4 2 8 2 8-7 12 9 4-1 6-8 1-8-2-4-4-4zM162 736l-1 4 3 2 4-2 2-4-2-3-4 0zM180 776l-1 8 2 4 5 0 5-4-3-7-4-2zM203 788l1 18 8-10 2-8-6-3zM217 808l-5 4-16 23-3 1 1 24 2 6 4 2 4-1 3-3 4-4 3-8 6-3 3-5-2-20 3-16-4-2zM167 812l0 4 6 12-1 4-12 8-8-4-4-5-3 5-2 12-8 8 1 12 4 8 4 1 5-1 6-12 11-8 2-6 7-6 5-7 4 1 8-2-4-5-8 2-2-5 1-4 7-8-10-7-4 0zM197 876l-3 4 2 1 4 2 4-2 0-7-4-1zM199 912l-2 4 3 4 10-4-1-4-5-3zM218 1044l-12 4 2 4 16 7 4-3 0-8-4-5zM218 1072l-2 4 4 6 3-2-1-4-2-4zM452 419l4 0 1 5-5 5-2-5zM612 423l4-1 6 14-10 19-4 3-3-6zM360 438l2 22-6 3-2-3 4-8-1-8zM568 479l19 9-3 8-20-8 1-8zM348 483l2 9-6 3-3-3 1-4zM564 527l13 1 3 12 4 1 0 11-4 4 0 12-8 4-3-4-1-8 7-4 3-4-6-6-4-2-3 4-1 8-3 4-15 8-2 9-4-1-2-4 0-8-4-16 4-16 2-2 16 2zM260 598l4 10-4 8-4 2-4-6zM560 618l8 6-4 8 0 13-8 2-4 5-4 2-5-2-15-12 0-4 12-1 8-4zM96 630l4 2 2 4 0 8-4 8-6 4 0-4 4-4zM380 631l4 1 2 4-2 7-8 0-3-3 0-4zM408 637l8 2 8 6 8-6 4 1 1 8-4 8 1 12-10 12-4 1-13-5-1-4 4-8 1-4-4-16zM92 662l5 2 0 4-5 4zM412 706l2 10-2 4-4 1-3-5 1-4zM292 711l5 1 3 6 0 6-4 2-5-6zM536 719l5 1 0 8-5 5-7-1-1-4 2-4zM384 729l4-1 1 8-5 10-4 3-5-9 2-4zM260 758l6 2 1 4-3 4-4 0-3-4 0-4zM288 791l4 0 2 5-5 12 9 8 0 4-1 8-7 8-2 5-4-2-2-3 4-12-3-8-1-12 1-8zM344 803l4-3 3 4 0 12-3 6-4-1-3-9-1-4zM496 807l6 1 0 12-2 10-4 2-12-2-20 3-1-5 5-9zM320 832l4-4 3 4 1 8 4 1 4-5 4 0 1 4-3 8-6 6-8 0-8 4-11 14-1 8-4 2-2-2 2-6 3-2-2-12 1-4 6-5zM332 871l6 5-3 8 3 8 3 4 1 4-14 20-8 28-12 8-2-4 2-4 6-8 0-4-6-10-4-1-4 3-4-4 4-4 12-5 8-15 4-3 8-1-8-2-2-6 5-8 1-8zM496 890l0 6-4 4 0 4-12 4 0-5 4-3 4 0 4-8zM264 894l4 1 4 9-4 6-12-10zM356 896l4 1 8 5 4 5 2 5-2 12-8 6-4 1-4-2-3-5 2-12-2-8zM244 916l4-3 4-1 4 3 8 0 0 5-5 8-7 3-12-5 0-6zM452 916l2 4-6 13-3-5 0-8 3-3zM352 939l4 0 1 5-3 4-6 0-2-4zM440 958l4 2 0 4-4 5-4-1-1-4zM404 979l4 1 5 4 2 12-11 13-6 3-6 0-2-4 2-4-2-12 5-8zM428 991l12-3 4 2 0 2-24 24-2 0 6-12 0-8zM516 995l20 1-8 4 4 20-8 8 0 4 4 5 4 0 8-6 7 1 0 4-4 4 0 4 5 1 0 3-4 4-8 0-4 4-4-7-4-1-2 4-2 0-4-3-4 0-8-9 0-4-4-4-1-8-3-4 0-4 4-4 0-5 4-7 8-1zM544 1000l4 0 5 4 0 8 4 4-1 4-4 3-7-11-4-12zM384 1012l4 0 0 4 0 4-4 5-4-1-4-8zM192 1120l4 0 5 4 0 8 4 4-5 4 0 8-12 13-8-1-4 4-4 0-4-3-8 0-4-5 0-8-4-4 4-4 0-8 12-5 5 13 3 3 12-7 3-4-3-12zM272 1133l3 3 0 4-3 18-4 2-4-3-8 3-3-4 1-4 2-2 12-2 2-4-1-8zM356 1182l4 6 0 5-5-5-1-4zM360 1215l0 20-8 3-4-2 0-4 7-8zM564 1220l4 0 1 4 4 4-1 8 5 4 0 8 4 4 0 4-4 4 0 8-9 9-8 0-4 4-4 0-4-4-8 0-6-9 5-8 9-2 3-2-5-16 2-4 11-4zM284 1263l8 0 4 2 5 3 6 8-2 8-9 10-8 0-4-1-6-9-2-8 1-8zM324 1264l4-3 4 1 2 6-6 5-4 0-3-5zM344 1267l8 1-8 9z" fill="#32d23c"/><path d="M528 139l8 1 5 4 1 8-2 4 2 8-2 8-11 12-9 5-12-1-12-4-9-12 5-10 24-18zM552 150l2 2-1 4-5 1 0-5zM444 183l7 1 9 4 3 8 1 12-4 8-8 7-8 2-8-1-8-3-6-5-2-4 0-4 4-12 4-5 4-3zM356 223l4-1 12 0 3 2 7 12-13 20-25 20 1 8-7 20-7 8-15 12 3 12-4 12-11 11-4 2-4-1-6-4-4-8 8-12 14-12 2-4-1-24 5-8 8-4 13-12 2-16 5-16zM476 340l4-2 4 2 5 4-1 4-12-3zM524 345l2 3-2 6-4 3-10-1 0-4 10-2zM504 407l8-1 4 2 2 8-5 20-5 5-4 1-5-6 4-12-3-12zM280 412l8-3 3 3-3 10-4 0-6-6zM220 431l12-2 8 3 8 9 12-3 16 6 1 8 3 3 4 1 8-3 4 1 5 2 0 4-3 8-1 12-7 12-2 8 2 8-3 4-19 9-8 2-8 6-4 13-6 10 0 12-5 12-17 11-4-1-3-6 3-32-4-3-8-1 0-4 8-8 3-8 7-4-1-20-5-9-4 2-2 7-6 8-4 2-8-1-7-5-3-4-1-12 0-4 3-3 15-5 0-4-3-10 2-6 2-4 8-4 6-12zM176 521l5 3-2 12-7 4-9-4-3-4 0-4 8-1zM276 531l9 1-5 5-4-2zM544 535l8-1 10 6 1 8-2 8-9 7-8 0-4-1-3-6-1-12 4-7zM364 560l7 0 9 25 0 3-6 8-2 12-4 4-12-5-4 4-8 19-12 3-12 1-2-2 4-8-2-8-4-2-8 3-1-5 5-5 8 2 8-5 8-2 8-7 12-1 8-6 7-12 0-4-7-4zM248 583l6 1-3 4-15 5 4-7zM196 587l4 5-5 8 3 16-7 8-7 2-7-6-2-4 1-4 16-16zM156 594l9 18-4 20 9 12 1 4-15 24 3 4 9 3 8-6 4 0 3 15-2 16 3 4 12-2 3 2 11 20 0 8-2 4-8 5-8-1-4 4-6 16-7 4-2 4 3 15 4 6 12-4 4 0 2 3 1 4-3 13-4 3-8-3-8-5-24 2-6-6 0-8 16-28 1-4-2-8 16-16 1-16-4-12-10-8-20 5-5-1-3-5-16 6-6-17 2-6 4-4 12-2 4 2 1 2-1 12 4 4 4-3 5-13 6-8-7-1-4 2-4-2-2-7 12-24 2-16-5-12 5-15zM132 599l5 5 0 4-1 16-4 3-12-6-1-5 5-12zM284 604l4-1 7 9 0 4-7 4zM220 615l4-2 9 7-1 4-8 12 3 8-1 4-5 4 1 8 6 6 4-1 8 9 7 2 5 4 1 4-5 1-4-2-8 1-8-4-8 7-8 14-12 1-4-2-2-8 5-8 1-8-4-7-12-9 8-11 16-5 7-8-1-12zM280 623l4-1 1 2-1 5-4 1-4-2zM360 631l3 9-3 6-16 0-2-6 2-5 4-3zM308 651l2 5-2 13 16 8 12-3 4 2 4 7 4 2 16-1 3-8 5-5 5 1 5 4 1 4-4 12 0 8-7 20-4 4-4-1-2-7-6-7-12-3-4-9-12 0-8-4-8-1-4-9-4 1-8-3 4-2 3-7-7-8 0-4zM272 656l2 4-2 4-4 2-3-2 1-4zM228 695l4-2 8 2 4 5 0 4-8 0-8 4-2-8zM92 696l3 4 3 16-1 4-5 2-4-1-2-5 3-16zM256 699l8 1-8 5-2-5zM224 710l4-2 3 8 0 4-3 4-4-1-4-7zM324 728l12 4 1 4-5 0-12-4zM128 731l8 5 4 0 12-5 2 1 2 12 3 4-4 4-7 1-12-5-4 2-12 13-4 2-7-9 2-12 5-7 4 0 4-5zM348 743l10 1-4 4-6 2-3-6zM96 750l4-2 4 4-2 4-10 10-3-2-1-4zM228 763l2 5-1 4-5 0-1-4 1-4zM196 770l4 1 0 5-4 1-1-1zM124 787l4 0 1 5-5 5-3-5zM92 793l5 3 2 4-11 15-6 1-2-2 0-6zM120 802l4 4 2 6 0 8 2 8 8-3 5 3-3 16-2 2-4-1-8-5-4 12 3 4 6 4 1 8 6 12 4 3 28-3 4-12 9-8 0-8 2-4 5-2 4 26-9 8-2 4 1 4 6 5 8 4 6 7-6 5-4 7-4 3-8-1-4 10-12-1-5 5 1 12 19 28 0 8 9 22 4 5 24 12 9-3 7-10 4-3 8-1 8 2 8-12 4 2-5 18-1 16-14 13-8 2-16-7-8 4-4-4-9 0 0 16 1 3 12 2 4 3 2 4-7 8 0 8-8 16-15 10-8-5-4 0-4-4-4 0-4-4-4 0-21-21 0-4-7-8-1-4-4-4 0-8-3-4 0-8-4-4-1-32-4-4 0-8-3-4 0-8-4-4 0-12-4-4-1-16-8-8 0-4-23-24 16-20 3-12-4-12 5-12 3-20 2-4zM110 864l1 4 7 0 1-4-3-2-4 0zM232 808l1 8-5 5 0-5zM160 819l4 1 5 8-1 4-8 3-4-1-2-6 2-6zM240 847l4 1 4 10 10 6-1 4-9-1-4 4-4 16-4-1-8-6-4 0-6 4-1 20-5 3-4-3 2-8 0-28 10-6 6 10 2 1 4-1 4-4 3-12-1-8zM360 911l4-2 4 3 0 12-8 2-2-2zM204 923l4-1 4 2 1 8 6 8-3 5-4-1-8 1-4-5zM216 959l8 15 0 6-8 0-8 5-2-1 0-16 6-7zM396 984l8-4 7 4 2 4 0 8-5 6-8 2-6-4-2-8zM516 996l6 0-10 9-4-3-1-2 5 0zM552 1004l0 8 4 4 0 3-4-1-3-6 0-8zM504 1010l4 2 4 6 4-1 4-6 4 1 3 4-6 12-2 20-7 0-4-4 2-8-10-9-2-7 0-4 2-4zM228 1064l4 1 4 9 4 1 8-5 4 1 0 13-4 2-4-3-9 1-9-16zM232 1096l4-3 8 2 3 9-3 1-9-5zM216 1098l4 0 0 6-4 5-4 0zM200 1124l0 8 4 4-4 4-4-3-1-9 1-4zM224 1123l2 1 0 4-2 8-2-4zM164 1145l8 7 0 12-4-4-8 0-4-4 6-4zM184 1150l4-2 4 4 0 4-4 4-6 0-1-4zM568 1221l0 3 4 4 0 6-5-6zM552 1240l4-2 12 1 4-2 4 3 1 8 4 4 0 4-4 4 0 8-9 8-8 1-4 4-4 0-4-5-8 1-4-5 0-2 4-2 12 0 4-2 1-14-6-8zM288 1264l10 4 7 8 0 4-5 8-8 5-4 0-6-5-5-12 3-10z" fill="#50f050"/><path d="M520 143l8-2 7 3 3 8 1 16-8 12-11 8-8 0-12-3-9-9-2-4 1-4 6-8zM436 188l12-3 8 3 5 4 2 16-3 6-8 7-8 2-8-1-6-2-7-8-1-4 2-9 4-6zM364 223l6 1 8 12-5 12-17 18-12 6-4-1-3-7 5-20 5-8 9-10zM332 278l8 1 3 5-5 16-8 12-14 8-4-4-2-16 6-10zM308 326l4 0 4 6-1 12-7 9-8 5-4 0-6-6 0-8 5-8zM216 438l12-1 12 5 8 6 8-5 4 0 9 5 7 10 11 6 3 12-6 24 0 9-16 8-8 0-8 7-4 0-8-9-8 4-4-1-7-26-18-32 1-5 9-3zM225 464l-4 8 3 3 8-2 5-5 1-4-2-2-4 0zM196 480l11 4 3 8-1 8-3 4-6 5-4 0-9-5-3-4-2-8 3-8zM228 523l4 1 1 12 4 4-3 4-7 4 2 4 7 5 2 7-2 7-4 5-12 7-4-3-1-16 6-16-5-10 8-2 0-8zM548 536l8 1 3 3 3 4 0 8-6 7-4 2-8 1-6-6-2-8 4-9zM128 605l4 0 1 3-1 12-4 1-4-1-2-4 2-8zM152 614l8-1 0 3-4 4zM204 648l8-2 3 2 8 24-3 7-9 5-4 8-7 0 4-4 0-12-3-8-9-8 0-4 4-6zM152 651l7 5-4 8-6 0-2-4 1-8zM124 684l1 8-5 0 0-5zM156 683l9 1 3 3 8 0 0 7-4 4-4-4-4-1-12 4 0-9zM188 715l8 0 8 5 3 12-3 8-8 1-12-6-2-7zM164 771l4 1 6 24-6 4-16 2-4-6 2-4 10-18zM164 824l2 4-2 3-4 1-2-4 2-4zM108 851l4-1 2 2-10 7-5-3zM108 872l16 1 16 15 16-3 9 3-2 8 1 4 14 4 0 4-6 4-8-4-1 4 6 8-13 8 1 16 6 12 5 4 6 8 2 12 12 28 4 4 12 3 12 9-1 4-6 4-13-1-2 1 2 29 4 3 8-4 4 4-5 4-5 24-6 7-8 4-12-3-12-7-4-1-20-20 0-4-8-8 0-4-4-4 0-8-3-4-1-8-4-4-1-32-3-4 0-8-6-16 0-12-4-8-2-12-8-8 0-4-20-20 0-4 4-2 4-7 8-7 1-8 3-3zM400 983l8-1 4 6-1 8-7 7-8-2-3-5 1-8zM572 1244l4-4 0 8 4 4 0 4-4 4 0 8-9 8-7 0-4 4-4 0-4-4-8 0 0-2 20-1 12-8 0-3-7-6zM284 1266l4-1 8 3 6 8-1 8-5 6-8 1-4-2-4-6-2-11 2-4z" fill="#96f08c"/><path d="M524 143l6 1 4 4 2 20-1 4-6 8-9 6-8 1-12-3-7-8-2-4 1-4 6-8 22-16zM440 188l8-1 4 1 8 5 1 3-1 16-12 9-13-1-6-4-5-8 4-12zM360 226l4-1 6 3 5 8-1 8-6 10-12 11-12 5-4-2-2-4 5-20 5-8zM332 280l4 0 5 4-4 16-9 12-8 5-4 0-5-13 3-8 6-8zM308 328l6 4-1 12-9 11-8 2-5-5 1-8 5-8zM256 447l12 6 11 11 7 16-6 24-12 9-16-2-12-4-8 2-5-13 2-8-5-4 2-4 6-2zM220 451l4-1 12 2-1 4-11 1-4 4-3-1zM188 484l12-2 7 6 2 8-5 9-8 2-10-7-3-8zM544 538l12 0 4 6 0 8-2 4-6 4-8 1-5-5-1-12zM220 556l4-1 3 1 5 4 2 4-2 5-8 8-4-1-2-4-1-8zM200 652l8-1 4 2 5 15-1 2-4 1-4-1-9-10-3-4zM196 720l4 1 4 7-1 8-3 2-12-5-2-5 2-6zM164 779l4 5 3 8-3 4-4 1-8 1-4-1 8-16zM108 875l15 1 17 16 4 1 8-2 4 2 2 7-6 28 0 12 6 12 1 12 9 0 2 4 3 12 13 32 6 5 15 3 4 4-3 5-12-3-4 2-2 4 2 12-1 12 3 8 6 8-7 8 7 8-4 8-8 5-12-1-12-8-4 0-20-20-1-8-11-14 0-14-8-17 0-23-4-4 1-12-5-31-12-23-4-3-4-6-12-9-1-4 9 1 3-5 1-8 9-12zM400 984l8 0 2 4 0 8-6 5-4 0-5-5 1-8zM284 1267l9 1 7 8 0 5-4 7-8 1-5-5-3-5 0-7z" fill="#f5e678"/><path d="M520 146l8 0 4 3 1 7-2 16-11 13-8 1-12-4-5-6-1-4 2-4 7-8 9-5zM444 190l4 0 11 6 1 8 0 4-4 5-8 5-4 0-8-2-8-8-1-4 5-8zM360 227l4 0 4 2 5 7 0 8-5 9-12 11-12 4-4-4 0-4 4-16 6-8zM328 284l4-2 7 2-3 16-10 12-6 3-4-1-4-10 3-8zM304 331l4-1 4 2 0 12-8 9-8 1-3-6 1-4 2-5zM260 455l8 3 8 7 7 15-1 12-4 8-6 7-8 4-32-11-1-4 4-8 2-12 11-13zM192 484l8 1 4 2 3 5-2 8-5 5-5-1-9-8 0-8zM544 539l8-1 5 2 3 8-4 9-8 3-9-4 0-12zM224 559l4 5-4 5-4-5 0-4zM108 878l12-1 20 18 12 8 0 7-4 10 0 15-5 9 9 4 2 4 1 4-5 8 2 5 4 2 8-2 4 2 3 13 8 16 3 12 8 8 0 4-4 12 3 8-1 32 7 12 1 4-3 4-5 3-8 0-11-3-9-11-8-3-8-10 1-4-3-8-10-9-3-23 3-12-12-6-1-18 4-8-5-16 0-20-9-16-12-16-1-8 0-16 5-8zM400 987l4-2 5 3 0 8-5 3-4 0-4-3 0-4zM284 1269l4-1 7 8-1 8-2 2-4 0-4-3-2-7z" fill="#fac33c"/><path d="M524 148l6 4 0 4-4 16-4 8-6 4-16-4-2-4 2-6 8-3 8 0 6-3 1-4-3-8zM448 195l8 2 2 7-2 6-8 2-4-3-2-9 2-4zM356 232l8-4 4 3 4 7 0 6-4 7-15 13-9 1-2-5 1-12 5-8zM332 284l4 1 1 3-3 12-6 9-8 4-4-3-2-6 2-7 4-6zM304 334l4-1 2 3 1 4-3 6-8 6-4-2 0-6zM252 463l8-3 8 2 8 7 6 11 0 8-3 8-7 8-8 5-20-6-8-7 4-20zM192 487l5 1 7 6 0 3-4 3-4-6-4 1-4-3zM544 540l8-1 4 2 3 7-3 8-8 3-4-1-4-3 0-11zM112 879l8 1 11 8 15 20-2 24-6 8-2 9-8 9-4-3-4-19-14-12-5-8-3-8 1-16 5-9zM140 966l4 0 8 9 4 1 8-2 3 14 8 12 3 12 7 8 1 4-4 12 3 12-3 16 5 16 5 12-4 5-12 0-9-5-15-28-2-12-6-12-4-6-4 1-3-3 0-4 3-7 0-5-4-7-8-4-1-5 1-4 4-3 3-5 0-8 3-8zM404 989l2 3-1 4-5 0 0-4z" fill="#ffa00a"/><path d="M504 175l8 1 2 4-10-3zM360 231l4 0 4 3 3 6-1 4-6 9-8 7-8 4-5-4 1-9 8-14zM324 292l8-3 0 10-7 9-5 1-4-6 4-9zM260 464l8 1 8 7 5 12-5 13-6 7-6 3-16-4-8-7 2-20 10-10zM548 540l4 0 4 3 1 9-5 5-8 0-4-5 0-4zM108 882l4-1 8 1 13 10 7 12 2 8-1 16-9 15-4 1-2-8-17-12-8-12 0-20zM144 972l8 6 9 2 3 12 7 8 3 12 8 12-3 12 3 16-4 12 11 28-7 4-6 0-4-2-5-6-4-8-1-12-13-24-10-24-6-20 0-8 5-16 2-3z" fill="#ff640a"/><path d="M356 235l8-1 4 3 1 7-5 6-16 10-2-4 1-8zM252 468l8-2 8 2 6 4 5 8 0 8-3 6-4 6-8 5-16-4-5-5-1-16 5-8zM548 543l4 0 4 5-2 4-6 4-4-1-2-3 2-6zM112 883l8 1 8 5 10 15 2 12-1 8-3 8-4 2-20-9-9-13-1-20 6-8zM144 976l14 8 19 40 2 28-3 9-4 3-12-7-11-17-8-20-5-28 3-12zM172 1072l4 0 4 5 3 11-3 5-7-1-5-8 0-6z" fill="#e1140a"/><path d="M360 240l2 0 2 4-8 5-3-1zM260 468l12 5 4 5 2 6-5 12-9 7-13-3-5-4-2-4 0-12 2-4 6-6zM108 887l4-2 8 1 8 5 7 9 3 8 0 12-2 7-4 4-8-2-10-5-9-12-2-16zM144 979l8 3 5 6 17 36 3 24-1 8-4 3-8-2-5-5-8-12-8-20-5-28 2-9z" fill="#8c0000"/><path d="M256 471l12 2 7 7 1 4-3 8-9 8-12-2-3-2-2-4-1-8 2-8zM112 887l8 1 8 6 5 6 4 16-5 12-4 0-11-4-5-4-5-8-2-16 3-7zM144 982l4 0 6 6 8 12 8 20 5 24-1 8-2 4-4 0-8-5-8-12-8-19-5-28z" fill="#640000"/></g>
<use href="#lines"/>
</g>
<rect x="0" y="0" width="185.9" height="333.1" fill="none" stroke="#1c1c1c" stroke-width="1.7"/>
<path d="M15.6,333.1v3.2" stroke="#111" stroke-width="1"/>
<text x="15.9" y="346.5" font-size="10.4" text-anchor="middle" textLength="22" lengthAdjust="spacingAndGlyphs">120E</text>
<path d="M93.0,333.1v3.2" stroke="#111" stroke-width="1"/>
<text x="93.3" y="346.5" font-size="10.4" text-anchor="middle" textLength="22" lengthAdjust="spacingAndGlyphs">121E</text>
<path d="M170.4,333.1v3.2" stroke="#111" stroke-width="1"/>
<text x="170.7" y="346.5" font-size="10.4" text-anchor="middle" textLength="22" lengthAdjust="spacingAndGlyphs">122E</text>
<path d="M0,0.0h-3.2" stroke="#111" stroke-width="1"/>
<text x="-6" y="3.7" font-size="10.2" text-anchor="end" textLength="25" lengthAdjust="spacingAndGlyphs">25.5N</text>
<path d="M0,45.0h-3.2" stroke="#111" stroke-width="1"/>
<text x="-6" y="48.8" font-size="10.2" text-anchor="end" textLength="17" lengthAdjust="spacingAndGlyphs">25N</text>
<path d="M0,90.1h-3.2" stroke="#111" stroke-width="1"/>
<text x="-6" y="93.8" font-size="10.2" text-anchor="end" textLength="25" lengthAdjust="spacingAndGlyphs">24.5N</text>
<path d="M0,135.1h-3.2" stroke="#111" stroke-width="1"/>
<text x="-6" y="138.8" font-size="10.2" text-anchor="end" textLength="17" lengthAdjust="spacingAndGlyphs">24N</text>
<path d="M0,180.2h-3.2" stroke="#111" stroke-width="1"/>
<text x="-6" y="183.9" font-size="10.2" text-anchor="end" textLength="25" lengthAdjust="spacingAndGlyphs">23.5N</text>
<path d="M0,225.2h-3.2" stroke="#111" stroke-width="1"/>
<text x="-6" y="228.9" font-size="10.2" text-anchor="end" textLength="17" lengthAdjust="spacingAndGlyphs">23N</text>
<path d="M0,270.3h-3.2" stroke="#111" stroke-width="1"/>
<text x="-6" y="274.0" font-size="10.2" text-anchor="end" textLength="25" lengthAdjust="spacingAndGlyphs">22.5N</text>
<path d="M0,315.3h-3.2" stroke="#111" stroke-width="1"/>
<text x="-6" y="319.0" font-size="10.2" text-anchor="end" textLength="17" lengthAdjust="spacingAndGlyphs">22N</text>
</g>
<text x="125" y="420.1" font-size="13.5" text-anchor="middle" textLength="141" lengthAdjust="spacingAndGlyphs" fill="#2a2a2a">BASE_SensibleHeat</text>
<g transform="translate(265.3,425.4)">
<g clip-path="url(#pc)">
<clipPath id="m5"><path d="M520 90l4 0 4 4 4 0 4-4 16 0 2 2 0 4 8 8 0 4 10 10 4 0 2 2 0 8 6 6 8 0 4 4 12 0 4 4 8 0 4 4 8 0 4 4 8 0 2 2 0 8 4 4 0 8 8 8 0 4 4 4 0 8-2 2-4 0-8 8-4 0-6 6 0 4-8 8 0 44-2 2-8 0-2 2 0 4-4 4 0 32 4 4 0 4 2 2 12 0 2-2 0-4 2-2 2 2 0 8 4 4 0 16-4 4 0 12-4 4 0 4-4 4 0 8-4 4 0 4-4 4 0 4-4 4 0 8-4 4 0 20-12 12 0 4-12 12 0 4-12 12 0 12-4 4 0 8-4 4 0 4-4 4 0 16 4 4 0 12-4 4 0 4-4 4 0 16-4 4 0 20-4 4 0 20-4 4 0 16-4 4 0 16-4 4 0 20-4 4 0 20-4 4 0 16-10 10-4 0-2 2 0 8-4 4 0 16-4 4 0 8-4 4 0 8-4 4 0 8-4 4 0 16-4 4 0 16-4 4 0 4-12 12 0 4-4 4 0 4-4 4 0 4-4 4 0 4-4 4 0 4-4 4 0 4-4 4 0 4-12 12 0 4-12 12 0 4-8 8 0 16-20 20 0 16-2 2-4 0-14 14 0 4-8 8 0 4-4 4 0 4-8 8 0 8-4 4 0 8-4 4 0 8-4 4 0 8-4 4 0 8-4 4 0 4-4 4 0 12-4 4 0 16-4 4 0 24 4 4 0 56-4 4 0 8-16 16 0 8 4 4 0 4-2 2-4 0-12-12-12 0-4 4-4-4-4 0-2-2 0-20-4-4 0-16 4-4 0-20-4-4 0-4-4-4 0-8-4-4 0-12-4-4 0-8-4-4 0-4-4-4 0-4-34-34-4 0-12-12-4 0-12-12-4 0-4-4-4 0-4-4-4 0-18-18 0-4-8-8 0-4-4-4 0-12-4-4 0-4 4-4 0-24-4-4 0-4-4-4 0-8-4-4 0-12-4-4 0-16-4-4 0-8-8-8 0-4 2-2 4 0 2-2 0-8-32-32 0-12 4-4 0-12 4-4 0-12 4-4 0-12-8-8 0-4 4-4 0-8 4-4 0-8 4-4 0-44 4-4 0-8-8-8 0-4 4-4 0-8 4-4 0-12 4-4 0-16 4-4 0-24 4-4 0-8 14-14 4 0 14-14 0-4 4-4 0-4 8-8 0-8 4-4 0-4 4-4 0-4 4-4 0-4 4-4 0-4 4-4 0-4 4-4 0-4 4-4 0-4 8-8 0-4 8-8 0-4 4-4 0-12 4-4 0-4 8-8 0-4 4-4 0-4 8-8 0-4 8-8 0-4 4-4 0-4 8-8 0-4 8-8 0-4 4-4 0-4 8-8 0-4 4-4 0-8 4-4 0-4 4-4 0-4 20-20 0-4 2-2 4 0 34-34 0-4 4-4 0-8 4-4 0-4 4-4 0-8 4-4 0-8 4-4 0-8 4-4 0-8 4-4 0-4 4-4 0-4 14-14 4 0 8-8 4 0 4-4 4 0 4-4 8 0 4-4 8 0 4-4 16 0 4-4 12 0 4-4 4 0 4-4 4 0 2-2 0-4 8-8 0-4 8-8 0-4zM512 1014l20 0 2 2 0 8-4 4 0 8-6 6-14-14 0-12zM172 1134l4 0 2 2-14 14-2-2 0-4zM520 1230l24 0 2 2 0 4 4 4 0 8 4 4 0 4-6 6-4 0-8-8-8 0-10-10 0-12zM320 1290l2 2-2 2-2-2z"/></clipPath><g clip-path="url(#m5)" transform="scale(0.25)" shape-rendering="auto"><path d="M520 90l4 0 4 4 4 0 4-4 16 0 2 2 0 4 8 8 0 4 10 10 4 0 2 2 0 8 6 6 8 0 4 4 12 0 4 4 8 0 4 4 8 0 4 4 8 0 2 2 0 8 4 4 0 8 8 8 0 4 4 4 0 8-2 2-4 0-8 8-4 0-6 6 0 4-8 8 0 44-2 2-8 0-2 2 0 4-4 4 0 32 4 4 0 4 2 2 12 0 2-2 0-4 2-2 2 2 0 8 4 4 0 16-4 4 0 12-4 4 0 4-4 4 0 8-4 4 0 4-4 4 0 4-4 4 0 8-4 4 0 20-12 12 0 4-12 12 0 4-12 12 0 12-4 4 0 8-4 4 0 4-4 4 0 16 4 4 0 12-4 4 0 4-4 4 0 16-4 4 0 20-4 4 0 20-4 4 0 16-4 4 0 16-4 4 0 20-4 4 0 20-4 4 0 16-10 10-4 0-2 2 0 8-4 4 0 16-4 4 0 8-4 4 0 8-4 4 0 8-4 4 0 16-4 4 0 16-4 4 0 4-12 12 0 4-4 4 0 4-4 4 0 4-4 4 0 4-4 4 0 4-4 4 0 4-4 4 0 4-12 12 0 4-12 12 0 4-8 8 0 16-20 20 0 16-2 2-4 0-14 14 0 4-8 8 0 4-4 4 0 4-8 8 0 8-4 4 0 8-4 4 0 8-4 4 0 8-4 4 0 8-4 4 0 4-4 4 0 12-4 4 0 16-4 4 0 24 4 4 0 56-4 4 0 8-16 16 0 8 4 4 0 4-2 2-4 0-12-12-12 0-4 4-4-4-4 0-2-2 0-20-4-4 0-16 4-4 0-20-4-4 0-4-4-4 0-8-4-4 0-12-4-4 0-8-4-4 0-4-4-4 0-4-34-34-4 0-12-12-4 0-12-12-4 0-4-4-4 0-4-4-4 0-18-18 0-4-8-8 0-4-4-4 0-12-4-4 0-4 4-4 0-24-4-4 0-4-4-4 0-8-4-4 0-12-4-4 0-16-4-4 0-8-8-8 0-4 2-2 4 0 2-2 0-8-32-32 0-12 4-4 0-12 4-4 0-12 4-4 0-12-8-8 0-4 4-4 0-8 4-4 0-8 4-4 0-44 4-4 0-8-8-8 0-4 4-4 0-8 4-4 0-12 4-4 0-16 4-4 0-24 4-4 0-8 14-14 4 0 14-14 0-4 4-4 0-4 8-8 0-8 4-4 0-4 4-4 0-4 4-4 0-4 4-4 0-4 4-4 0-4 4-4 0-4 4-4 0-4 8-8 0-4 8-8 0-4 4-4 0-12 4-4 0-4 8-8 0-4 4-4 0-4 8-8 0-4 8-8 0-4 4-4 0-4 8-8 0-4 8-8 0-4 4-4 0-4 8-8 0-4 4-4 0-8 4-4 0-4 4-4 0-4 20-20 0-4 2-2 4 0 34-34 0-4 4-4 0-8 4-4 0-4 4-4 0-8 4-4 0-8 4-4 0-8 4-4 0-8 4-4 0-4 4-4 0-4 14-14 4 0 8-8 4 0 4-4 4 0 4-4 8 0 4-4 8 0 4-4 16 0 4-4 12 0 4-4 4 0 4-4 4 0 2-2 0-4 8-8 0-4 8-8 0-4zM512 1014l20 0 2 2 0 8-4 4 0 8-6 6-14-14 0-12zM172 1134l4 0 2 2-14 14-2-2 0-4zM520 1230l24 0 2 2 0 4 4 4 0 8 4 4 0 4-6 6-4 0-8-8-8 0-10-10 0-12zM320 1290l2 2-2 2-2-2z" fill="#c8c8ff"/><path d="M544 53l4 0 4 4 8 0 4 4 8 0 7 7 0 4 8 8 0 4 5 5 8 0 7 7 1 9 8 0 4 4 8 0 4 4 12 0 4 4 8 0 4 4 4 0 11 11 0 8 4 4 0 8 5 5 8 0 4 4 3 3 0 8 4 4-4 4 0 8-7 7-4 0-4 4-4 0-4 4-4 0-8 8-4 0-5 5 0 4-4 4 0 56 4 4 0 16 4 4 0 12 4 4 0 16-4 4 0 12-4 4 0 8-4 4 0 4-4 4 0 8-4 4 0 4-4 4 0 8-4 4 0 20-4 4 0 8-12 12 0 4-12 12 0 4-8 8 0 4-4 4 0 8-4 4 0 8-4 4 0 8 4 4 0 16-4 4 0 8-4 4 0 12-4 4 0 20-4 4 0 20-4 4 0 16-4 4 0 16-4 4 0 20-4 4 0 20-4 4 0 16-4 4 0 16-4 4 0 12-4 4 0 12-4 4 0 8-4 4 0 8-4 4 0 12-4 4 0 16-4 4 0 16-4 4 0 8-16 16 0 4-4 4 0 4-4 4 0 4-4 4 0 4-4 4 0 4-4 4 0 4-8 8 0 4-13 12 0 4-8 8 1 12-4 4 0 8-35 35-4 0-9 9 0 4-8 8 0 8-4 4 0 4-4 4 0 8-4 4 0 8-4 4 0 8-4 4 0 8-4 4 0 8-4 4 0 12-4 4 0 16-4 4 0 24 4 4 0 56-4 4 0 8-4 4 0 8-8 8 0 12 4 4-4 4 0 8-7 7-8 0-4 4-4-4-8 0-4-4-4 0-8-8-4 0-4 4-4-4-8 0-4-4-4 0-7-7 0-8-4-4 0-20-4-4 0-16 4-4 0-20-4-4 0-8-4-4 0-8-4-4 0-12-4-4 0-4-4-4 0-4-28-28-5-1-4-4-1 1 0 8 4 4-4 4 0 8-15 15-8 0-4 4-4 0-4-4-8 0-7-7 0-8-4-4 4-4 0-8 15-15 8 0 4-4 4 0 4 4 9-1-5-1-12-12-4 0-4-4-4 0-4-4-4 0-23-23 0-4-8-8 0-4-4-4 0-8-4-4 0-8-4-4 0-32-4-4 0-8-4-4 0-8-4-4 0-12-4-4 0-16-8-8 0-4-32-32 0-4-4-4 0-8-4-4 0-12 4-4 0-12 4-4 0-12 4-4 0-16 4-4 0-8 4-4 0-8 4-4 0-8 4-4 0-44 4-4-4-4 0-8-4-4 0-4 4-4 0-8 4-4 0-12 4-4 0-16 4-4 0-24 4-4 0-8 4-4 0-8 19-19 4 0 9-9 0-4 4-4 0-4 8-8 0-8 4-4 0-4 4-4 0-8 4-4 0-4 4-4 0-4 4-4 0-4 4-4 0-4 4-4 0-4 8-8 0-4 8-8 0-8 4-4 0-8 4-4 0-4 8-8 0-4 4-4 0-4 8-8 0-4 8-8 0-4 4-4 0-4 8-8 0-4 8-8 0-4 4-4 0-4 8-8 0-4 4-4 0-8 4-4 0-4 4-4 0-4 20-20 0-4 7-7 4 0 29-29 0-4 4-4 0-8 4-4 0-4 4-4 0-8 4-4 0-8 4-4 0-8 4-4 0-8 4-4 0-4 4-4 0-4 19-19 4 0 8-8 4 0 4-4 4 0 4-4 8 0 4-4 8 0 4-4 8 0 4-4 16 0 4-4 8 0 13-13 0-4 8-8 0-4 23-23 8 0 4-4 12 0zM604 160l-6 4-3 4-1 4 2 8 4 4 8 4 6 0 4-4 0-20-6-5zM555 332l-7 11-4 4-4 0-12-3-4 1-4 4-3 7 3 8 8 4 8 1 12-4 8-1 8-5 4-4 1-7-9-13-4-4zM366 704l1 4 5 5 8-1 4-4-2-4-6-3-8 1zM334 1000l0 4 5 4 5-3-4-7-4 0zM516 993l20 0 4 4 8 0 7 7 0 8 4 4 0 4-4 4 0 12-4 4 0 8-7 7-8 0-4 4-4-4-8 0-4-4-4 0-3-3-8-8 0-4-4-4 0-8-4-4 0-4 4-4 0-8 7-7 8 0zM528 1209l24 0 4 4 8 0 7 7 0 4 4 4 0 8 4 4 0 8 4 4 0 4-4 4 0 8-11 11-8 0-4 4-4 0-4-4-8 0-8-8-4 0-19-19 0-8-4-4 0-8 4-4 0-8 7-7 8 0z" fill="#e6e6ff"/><path d="M544 55l4 0 4 4 8 0 4 4 8 0 5 5 0 4 8 8 0 4 7 7 8 0 5 5 0 8 3 3 8 0 4 4 8 0 4 4 12 0 4 4 8 0 4 4 4 0 9 9 0 8 4 4 0 8 7 7 8 0 4 3 2 2 0 8 4 4-4 4-1 8-5 5-4 0-4 4-4 0-4 5-4 0-8 8-4 0-6 6 0 4-4 4-2 56 4 4 1 16 4 4 0 12 4 4-1 16-3 4 0 12-4 4 1 8-4 4-1 4-4 4 0 8-4 4 0 4-4 4 0 8-4 4 0 20-5 4 0 8-11 12 0 4-12 12 0 4-8 8 0 4-4 4 0 8-5 4 0 8-12-5-5 1-2 4 2 12-4 12 1 4 8 3 4-1 4-4 4-7 1 13-4 4 0 8-4 4 0 12-4 4-1 20-3 4 1 20-4 4 0 16-4 4 0 16-4 4 0 20-4 4 0 20-4 4-1 16-4 4 0 16-4 4 0 12-4 4 0 12-4 4 0 8-5 4 0 8-4 4 1 12-4 4 0 16-4 4 0 16-4 4 0 8-16 16 0 4-5 4 0 4-2 0-5-8-5-3-4-1-4 3 0 9 4 6 8 3 0 7-3 4 0 4-4 4 0 4-8 8 0 4-5 5-4 3-4-3-8-1-5 4-1 12 2 6 4 4 1 6-4 4 0 8-33 33-4 0-11 11 0 4-8 8 0 8-4 4 0 4-3 4 0 8-4 4-1 8-4 4 0 8-4 4 0 8-4 4 0 8-4 4 1 12-4 4-1 16-4 4 0 24 4 4 0 56-4 4 0 8-4 4 0 8-7 8-1 12 4 4-4 4-1 8-3 0-5-3-4 0-4 3 0 4-12 1-4-4-4 0-8-8-4 0-4 4-4-4-8 0-4-4-4 0-5-5 0-8-4-4 1-20-5-4 0-16 4-4-1-20-3-4 0-8-4-4 0-8-4-4 0-12-4-4-1-4-4-4 0-4-27-28-3-3-4 0-12-11-4 0-12-12-4-1-4-4-4 0-4-4-4 0-21-21 0-4-8-8 0-4-4-4 0-8-4-4 0-8-4-4 0-32-4-4 0-8-4-4 0-8-4-4 1-12-5-4 0-16-8-8 0-4-31-32-1-4-3-4 0-8-4-4 0-12 3-4 0-12 4-4 0-12 4-4 0-16 4-4 0-8 4-4 0-8 4-4 0-8 3-4 1-44 3-4-3-4-1-8-3-4 0-4 3-4 0-8 4-4 0-12 4-4 0-16 4-4 0-24 4-4 0-8 4-4 0-8 18-17 4 0 11-11 1-4 3-4 0-4 8-8 0-8 3-4 0-4 4-4 1-8 4-4 0-4 4-4 0-4 4-4 0-4 5-4 0-4 3 0 1 5 4 0 4-5 0-8-2-4 2-4 0-4 7-8 0-8 4-4 0-8 4-4 0-4 7-8 0-4 5-4 0-4 9-8 0-4 7-8 0-4 4-4 0-4 8-8 0-4 8-8 0-4 4-4 0-4 8-8 0-4 4-4 0-8 4-4 0-4 3-4 0-4 20-20 0-4 6-6 4 0 28-26 4 0 2-4-2-4 4-4 0-8 3-4 0-4 5-4-1-8 4-4 0-8 4-4-1-8 5-4 0-8 4-4 0-4 4-4 0-4 17-17 4 0 8-7 4-1 4-4 4 0 4-4 8 0 4-4 8 0 4-4 8 0 4-4 16 1 4-4 8-1 15-15 0-4 8-8 0-4 21-22 8 0 4-4 12 1zM646 144l-2 4 4 5 4 1 6-2 0-4-2-2-4-2zM597 152l-9 6-4 6-1 8 3 16-2 4-12 6-7 14 1 8 14 7 12-1 4-2 3-4 0-8-5-12 0-4 6 0 20 3 4-1 5-6 1-8-1-16-5-12-4-4-8-3zM530 184l2 5 4-1-1-4-3-1zM359 216l-4 4 0 4 1 1 8 0 5-5-1-6-4-1zM480 268l0 4 4 3 4 0 4-3-1-4-3-2-4-1zM604 284l-10 4-3 4 1 5 4 5 4 2 4-1 3-3 5-12-2-4zM564 300l-8 4-20 18-16 4-7 6-7 12-3 12 2 20 2 4 13 0 16 4 12-4 4 0 12 5 4 1 4-2 13-12 2-8-1-20-10-16 0-12-8-12zM439 304l-8 12-2 8 3 6 9 10 0 12 3 4 4 1 12 2 12 5 8 0 5-4 5-16-3-28-5-4-6-3-16-1-12-5zM431 508l-2 4 0 4 3 3 4 0 3-3 1-4-4-5zM471 512l-19 16-9 12-2 8 15 24 8 6 8 3 8-3 16-8 4-9 1-9-4-16-6-12-11-11-4-2zM510 644l-5 8-5 4-12 4-2 4 2 4 8 4 4 0 7-4 13-16-1-4-3-5-4 0zM446 648l-6 8-1 12 5 12-2 8 1 4 9 3 6-3 2-4-2-8 6-12 0-4-5-16-3-3-4 0zM340 668l-2 12-6 16 0 8 4 4 8 3 8 10 4 3 12 2 24-2 12-4 2-4 0-8-14-23-40-14-8-5zM417 720l-8 4-2 28 1 8 8 15 4 4 4 1 16-6 16 0 4-2 4-4 1-4-9-13-7-23-9-8-8-3zM314 760l-3 4-2 12-5 12-1 8 5 8 4 4 8 3 12 0 4-5 2-10 6-16 0-4-5-8-11-9-8-2zM462 784l-15 28-2 8 3 4 5 4 11 4 8 0 7-4 6-8 3-8 1-12-4-8-13-8-4-2zM347 872l-7 5-5 7 1 8 3 4 7 4 10 1 12-1 4-3 1-9-9-12-8-5zM292 880l-4 1-2 3 2 6 4 4 8-1 2-5-2-3zM398 948l-1 8 3 8 8 3 4-2 2-5 0-4-4-8-6-3-4 1zM327 984l-7 4-3 8 6 20-3 3-8 1-5 4-8 28 1 4 20 13 28 3 3-4-1-16 4-8-1-4-11-12 0-4 14-9 8-1 12 6 8 13 4-9 8-12 0-4-2-4-6-5-16-2-8 5-4-1-8-9-8-6-8-2zM231 1120l-1 4 2 1 12 1 4-2 1-4-5-3zM516 995l20 0 4 4 8 0 5 5 0 8 4 4 0 4-4 4 0 12-4 4 0 8-5 5-8 0-4 4-4-4-8 0-4-4-4 0-9-9 0-4-4-4 1-8-4-4-1-4 4-4 0-8 4-4 9-1zM180 1115l4 0 4 3 8 0 6 6-1 8 4 4-4 4 0 8-13 13-8 0-4 4-4 0-4-4-8 0-4-4-1-9-4-4 4-4 0-8 13-13 8 0zM528 1210l24 1 4 4 8 0 5 5 0 4 4 4 0 8 4 4-1 8 4 4 0 4-3 4 0 8-9 9-8 0-4 4-4 0-4-4-8-1-8-7-4 0-17-17 0-8-4-4 0-8 4-4 0-8 5-5 8-1z" fill="#ffe6e6"/><path d="M520 64l5 0 1 4-2 8-4 4-4 0-12-3 12-13zM492 119l4 2 6 7 0 12 3 16-4 8-6 4-2 4-3 12 0 8 2 4 12 2 7 6 3 8 0 8-5 4-9 3-16 1-14 8-6 16-12 4-4 5-4 10-4 21-20 16-3 8 3 8 10 16 2 12 12 32 0 20 11 16 1 4-5 12 1 2 8 5 4 5 3 12 4 4 5 3 8 0 12-7 16 6 4 0 15-10 9-3 4 0 4 2 6 9 1 4-9 8-11 16-13 12-2 4 2 4 18 14 5 2 0 4-7 12-3 16-6 12-5 3-8 0-4-3-2-4-1-36-13-20-11-12-5-17-4-2-4 1-12 10-8 4-20-4-16-6-8 0-4 2-2 4 1 8 6 12 17 20 3 20 7 12 10 40 0 4-8 12 0 20-10 21-4 4-8 3-8 7-4 2-4-1-12-4-12-7-13-1-3-4 0-8-4-11-4-4-7 7-13 3-4 5-1 8 4 12-2 8-13 18-12 20-20 11-20-2-4 4-8 17 0 4 16 22 12 10 23 28 2 4 2 8-3 9-28 21-12 3-16 0-16 7 0 8 11 28-3 24 4 2 24 0 8 3 24 19 4 8 1 12-2 8-10 20 0 16-4 28-5 4-16 1-4 3-2 4 2 10 7 10-1 4-14 11-11 17-5 4-16 4-20 8-8-7-4-1-13-12-1-8 5-24-3-7-14-9-10-12-8-1-4-3-3-16-5-15-9-13 2-16-6-20-1-36-4-4-14-8-12-4-4-4-5-8 3-12-5-16-1-8 4-16-5-12-1-12 2-5 8-9 4-14 0-4-8-12 0-36 0-7 4-9-3-4-3-16 2-12 3-4 1-12 3-4 0-16 4-4 0-24 4-4 1-8 3-4 1-8 4-4 8-4 16-3 12-13 5-8 1-20 3-12 23-19 13-17 9-20 9-8 1-4-7-20 2-12 5-11 8-7 17-6 15-17 15-11 4-4 1-4-4-16 8-16 2-8 1-8-3-8 0-8 8-8 2 0-1 4 3 2 8-2 2-4 0-4-2-1-4 0 0-3 4-4 0-4 4-4 4 0 8-8 16 5 8 1 19-10 1-4 2-20 4-8 6-5 15-7 4-4 3-12-8-20 2-4 16-16 8-16 16-6 12 2 12-1 12 7 8 10 4 2 20-4 4-2-2-8-3-4-15-6-1-2 0-4 9-8 8-12zM268 472l-11 4-1 4 9 8 7 4 10 0 3-4-1-9-4-5-4-2zM280 708l-4 4 0 4 4 5 8 0 3-5 0-4-4-4zM227 752l1 4 4 1 5-1-1-4zM201 948l0 4 7 5 4-2 2-7-2-3-4 0zM572 128l5 0 3 4-4 5-4 0-4-5zM560 149l8 1 2 6-1 12-5 3-7-3-3-4 1-8zM696 169l0 3 4 4-4 3-2-3zM652 213l0 7-4 3-4-2-1 3-11 15-4 1-4-1-2-7 3-8 7-3 12-1zM564 240l8-1 8 5 12-3 10 3 2 4 1 4-9 17-4 3-12-6-20 13-8 3-16-3-8-6-1-5 5-9zM536 404l8-2 4 0 16 8 16 4 4 6 0 4-2 4-6 4-8 4-4-1-8-7-7-12-13-5-2-3zM560 611l4-1 4 2 4 2 0 2-4 4 0 16-6 8 1 12-3 4 0 3-4 1-4-4 0-12-11-12-2-12 1-4 12-4zM556 675l4 0 0 5-4 4 0 20-4 5-4 0-4-1-2-4-2-8 0-8 4-6zM396 776l4 0 4 3 14 21 1 16 3 8 7 12 1 4-14 16-7 28-1 3-4 2-16-1-4-3-8-13-4-15-4-1-16 2-4 0-7-6-1-4 10-8 4-16-1-12 7-14 4 0 7 6 5 2 6-2zM452 845l8 3 3 4-11 0-3-4zM356 915l4-2 4 1 2 2 1 4-3 5-8-5-3-4zM356 932l8-2 4 0 12 11 3 7-2 4-7 8-3 12-3 3-12 4-8-3-4-4 3-8-1-4-10-6-3-6 3-7 8-7zM376 1064l4-2 4 0 0 10-4 5-4-2-1-3zM272 1104l4-3 8 0 12 5 12 3 7 7 4 8 1 8-4 20-4 4-8 5-8 2-3-3-2-4 0-12-2-8-5-2-5 2-3 4 2 12-2 4-4 2-23 2-1-4 11-8 4-8 0-24 5-8zM192 1120l4 0-1 12-3 5-4 2-4-1-4-4 0-6 9-8zM332 1146l8 0 17 2-2 4-11 12-8 1-8-3-5-6 1-4zM296 1170l12 5 20 14 8 31-4 20-4 7-20 9-16 3-4-2-4-5-14-20-5-12-2-12 2-8 7-12zM528 1212l5 0-2 4-3 2-6-2 2 0z" fill="#ffc8c8"/><path d="M420 163l8-2 12 2 8 5 12 14 12 6 2 4 2 24-1 4-3 3-9 5-21 20-3 8-2 28-3 8-25 20-2 4 17 26 6 22 0 8-4 16 1 24-3 5-8 4-8-3-8-5-4 1-8 18 9 16-1 4-4 4-12 2-5 2-1 8 4 16-2 7-4 3-8-1-5 3 1 5 12 7 12 1 16 14 9 5 4 4 4 24-1 9-8 3-16-1-3 1-2 4 3 4 6 3 24-3 4 3 5 9 2 12 0 8-4 16 1 12-4 6-8 1-8-4-8-13-8 2-5 4-1 8 7 8 3 8 0 4-4 2-4-2-20-13-3-11-1-24-4-3-4 0-16 10-10 5-9 16-7 20 8 8 2 4-1 4-3 5-11 11-4 12-5 5-12-7-4-1-8 3-4 4-4 7-8 4-4 4-8 14-8 4-12 1-11-2-5-4-8-10-4-2-4 3 0 5 11 12 3 12 18 10 16 3 8 5 5 14 1 12 2 7 4 3 8-10 4-2 4 1 13 13 3 8-4 7-4 2-12-1-8 13-12 1-32 10-4 3-1 13 12 16 4 12 0 12-1 8-6 9-12 9-26 6-5 4 0 8 3 4 16 13 8 2 4-2 4-4 6-13 6-6 16-10 8-2 12 0 8 3 16 16 4 11-7 24-7 16 1 12-6 20-13 5-6 7 0 8 3 12-1 4-9 8-11 20-4 3-36 7-8-6-4-8 1-12 11-12 0-4-10-24-2-4-4-3-26-13-5-4-8-20-1-20-8-9-6-11-2-16 3-16 4-12-1-4-6-6-8-2-6-4-1-12-20-16-5-12 1-8 5-12-5-16 1-8 10-20 8-8 2-4-20-16-3-8-2-8 1-12 7-16-5-28 7-28-2-16 3-4 0-20 6-12 10-13 8-4 12-3 20-19 4-9 0-16 3-8 21-20 5-12 16-28 7-6 6-2 6-4-9-12-4-12 0-8 4-12 9-8 16-4 16-16 21-12 3-8-3-16 0-8 11-29 13-11 15-23 4-3 18-2 24-12-1-20 3-12 8-8 20-8 8-16 0-4-3-12 2-8 13-17zM263 468l-23 7-13 1 5 0 4 4 16 4 21 12 11 1 4-1 2-4 0-8-2-8-3-4-5-4-4-1zM263 612l-1 4 2 4 15 12 1 15 4 7 3-2 1-4-6-20-14-18-4 0zM504 485l8 0 3 3 0 4-3 5-4 3-4 1-4-2-2-3 0-4 2-4zM288 1191l8 0 4 7 4 3 12 0 4 3 4 8 1 8-4 16-8 8-9 4-12-1-8-8-6-11-2-12 2-12 3-8z" fill="#ffb4b4"/><path d="M428 171l8 0 8 6 5 7 7 16 8 4 4 8-1 4-3 3-20 13-7 8-5 12 2 16-2 20-3 4-9 7-20 10-13 31 1 5 4 1 12-7 4-2 4 1 8 10 5 20-7 20-2 16-4 2-4-2-8-8-8-4-4-1-4 2-4 7 0 16-4 28-12 7-2 5 1 16-3 3-8-1-4 2-4 8-4 3-16 4-8 4-8 2-8-2-4-4-7-19-3-4-6-3-12 0-32 6-8-1-8-4-7-10-3-8 1-12 4-8 9-6 16-4 12-12 26-14 3-8-2-28 8-24 15-12 13-20 4-4 14-4 15-7 12-2 4-2-4-25 3-12 9-7 19-5 17-23 8 1 2-6 0-4-9-4 1-8 9-12zM208 483l12-3 20 7 12 1 15 8 37 14 16 11 8 0 12-4 4 3 8 16 0 4-4 2-12-1-5 3-9 28-3 36-3 7-4 4-4 1-24-1-8-7-8-10-4-1-6 7-1 8 1 4 13 12 2 4-1 16 3 20 5 6 16 5 4 7 0 10-4 1-12-4-9 3-19 13-10 19-7 4-11 1-8-2-10-11-6-4-8 1-4 5 0 8 8 14 1 12 3 2 12 4 12 6 15 4 4 4 3 8 1 20-1 8-6 8-3 12-4 4-5 2-16 5-3 5 0 20 3 4 8 6 5 10 1 16-1 8-7 8-10 7-8 2-20 2-4 1-2 4-1 16 3 4 12 8 4 8 1 8-2 16 1 5 4 4 4 0 4-2 8-19 8-11 7-21 5-4 12-4 8-6 12-1 7 3 3 4 7 16-3 12 0 8-2 6-4 4-8 3-8-2 5 17-5 8-3 16-5 9-16 6-12-2-4 1-8 4-8-6-8-16-4-4-16-3-5-5-12-20-5-28-6-6-8-4-4-5-2-5 0-8 3-16 8-12 0-4-12-16-5-12-8-8-12-1-8-4-4-4-3-7 2-8 6-8 1-4-6-20 4-12 8-10 12-8 8-3 16-2 4-5 0-4-4-3-20 7-12-2-12-7-7-7-4-8-1-8 2-8 8-16-5-20-1-12 7-20-1-20 3-20 2-8 13-17 17-7 23-20 4-8-1-16 2-8 7-8 16-13 2-3 3-12 10-20zM233 544l3 6 4 2 13-4-6-4-11-2zM372 540l4-2 4 1 4 9 0 6-16 16-4 2-6 0-3-4-1-4 0-16 4-4zM396 592l5 0 4 4-9 10-4 1-4-1-2-6 1-4 5-4zM304 635l4 0 3 5 0 4-3 3-4 1-5-4-1-4 2-4zM212 1057l4 1 10 6 12 4 4 4 0 4-6 17-4 4-28 5-5-2-3-8 4-8 9-12zM304 1216l4 1 1 3-1 5-4 6-4-1-1-6 1-5z" fill="#ffa0a0"/><path d="M412 235l4-1 2 2-4 8 11 24 1 8 0 8-6 7-24 10-3 3-5 16-4 8-16 12-11 20-19 20 1 4 11 8 3 4 0 8-9 19-16 2-7 15 0 8 9 16 3 8-1 5-4 3-20 5-4-2-3-3-4-12-1-3-4-1-20-3-20 1-16 4-7-2-6-4-7-9-2-7 1-8 5-7 4-3 20-4 17-14 11-5 12-3 4-4 3-8-5-24 2-16 8-13 4-3 8-2 2-2 4-12 8-12 6-4 12-2 10-6 18-2 7-2-6-12-6-20 0-4 4-8 9-5 12-1 22 2zM368 359l4-2 4 3 3 8-3 4-4 0-4-4-1-4zM212 487l12 0 16 7 16 1 20 8 25 21 3 8-1 12-3 6-8 4-8 1-8-3-12-13-16-1-16-8-4 1-5 5-1 4 10 19 20-3 8 1 16 17 28 0 7 6 2 8-3 16-6 5-16 2-4-1-4-2-8-14-4-2-9 4-8 8-1 12 4 8 10 12 0 8-4 6-9 6-7 7-8 3-12 1-3 1-1 4 2 4 11 8 8 20 0 12-5 10-4 3-8 0-12-9-12-4-8 3-3 5-1 8 5 16-7 12 0 4 10 7 20 4 16 9 2 4 0 8 6 8 0 8-12 18-4 3-8 2-10-3-7-12-7-4-28 2-16 3-8 5-6-2 0-4 20-28 7-20-1-4-5-4-7-1-23 9-9 0-16-8-6-8-1-8 2-8 10-12 2-4-7-16-1-16 5-20-1-16 6-28 14-16 37-25 5-11-1-16 2-8 10-12 14-8 4-4-1-12 3-8 8-16zM224 580l-8 8-1 8 5 11 4 3 6-2 8-16-2-8-8-5zM116 820l8 4-1 4-3 6-4 2-5-8 1-6zM152 839l8-2 16 4 16-1 5 4 4 8 1 8-2 7-8 9-2 4 0 4 6 4 8-2 8 1 4 2 4 7-4 20-7 8-5 1-8-1-2-4 5-8 0-4-3-2-4-2-12 2-12-6-16 1-6-5-6-16-5-8 0-4 9-15 3-9zM244 966l4 2 0 4-4 2-3-2-1-4zM172 977l4-1 4 4 0 4-4 3-4-2-1-5z" fill="#ff8c8c"/><path d="M388 240l12 2 12 9 8 13 1 16-1 3-8 2-8 9-12 3-2 3-2 12-4 11-8 7-8 1-4-2-10-13 0-16 14-6 12-2 1-4-10-12 1-12-6-8-1-4 3-7 4-3zM328 308l4 0 15 16 8 16 0 8-3 8-4 6-16 7-12 1-3 6-1 4 4 6 24 10 3 4-3 8-4 3-9-7-3-2-4 1-3 5-2 12-3 7-4 1-8-5-4 1-2 8-1 20-4 4-5 3-32 0-16 4-11-3-11-12-1-8 2-8 9-5 16-2 12-10 12-7 8-2 12 1 3-3 4-16-1-8-5-16 3-16 8-10 4 0 8 4 8-2-2-12 0-8 6-9zM312 459l4-1 4 2 4 8 0 4-6 4-6 1-4 0-2-5 1-8zM208 491l4-2 8-1 10 4 9 8 4 12 5 3 4-1 4-6 1-8 7 0 8 3 4 2 10 11 10 8 5 8 0 8-4 8-5 3-8 1-4-2-4-3-8-12-4-1-12 2-4-1-5-3-7-8-4 0-4 2-9 10-1 4 10 21 4 2 12-4 12 0 4 1 16 18 20-2 8 2 4 4 2 6-2 12-4 5-16 2-7-3-9-16-4 0-16 6-4-3-4-7-16-11-8 5-8 10-8 16 8 4 8 9 4 3 16-8 20 24 1 4-3 4-14 7-12 9-4 0-12-2-4 2 2 16 3 4 11 8 5 12 2 12-3 10-4 3-4 1-16-10-8-1-4 1-6 4-2 4-2 8 4 12 0 4-6 6-16 7-4 0-12-5-24 9-16 0-8-2-4-2-3-5-1-8 3-8 11-12 1-4-7-16 0-20 2-16 0-16 2-6 4-4 8 2 3-4-3-4-8-4 0-5 1-3 11-12 20-15 16-6 4-5 3-10 0-20 1-8 12-12 16-8 2-4-2-12 1-4 7-16zM167 732l-15 4-3 4 3 6 4 1 8-4 8 0 4-3 0-4-4-4zM184 771l16 7 16 1 7 5 3 4-4 12 10 5 3 3-2 8-9 13-8 2-6-3-5-16-13-5-3-3-5-14-4-4-10-6 10-8zM156 842l8 0 12 4 12 1 4 2 4 5 1 6-1 4-12 12-2 8 1 8-3 3-12-2-12 3-4 0-3-4 0-12-6-12 8-20z" fill="#ff6e6e"/><path d="M376 244l8 2 8-4 8 2 10 8 5 8 1 8-11 12-5 10-4 2-8-3-8-6-5-7 2-16-10-8 1-4 4-4zM372 295l9 1 5 4 1 4-3 14-4 5-4 2-8-1-6-8-1-4 1-8 2-4zM324 323l4-3 4 0 8 5 4 7 4 16-1 4-3 4-16 7-8-1-4-2-4-4 0-4 4-3 4-1 12 0 3-4-10-12-2-4zM296 355l4-2 9 15 0 12 5 12-1 4-5 8-4 0-4-4 1-20-6-12zM268 412l8-2 5 2 7 6 3 6 1 21-3 7-5 4-20 1-12-1-12 4-4-2-8-9-7-5-1-8 4-5 24 0 8-11zM250 436l2 8 4 2 4-6 0-5-4-3-4 1zM212 492l8-1 5 1 5 4 3 8 1 8-2 3-18 21 0 4 6 8 4 10 0 10-20 25-10 7-9 8-5 1-4-3-4-6-2-44 2-5 7-7 17-8 6-4 0-4-3-12 1-4 7-16zM264 503l7 1 5 3 8 11 12 10 3 4-1 8-2 5-4 3-8 0-4-2-7-14-5-3-16 2-6-3-1-4 11-7 6-13zM240 563l12-1 6 2 9 16-2 4-9 2-4-6-16-8-1-4zM296 580l4 0 5 4 1 4-1 8-5 5-12 2-5-3-3-8 0-6 4-3zM148 604l4 0 16 10 7 6 3 8-1 8 3 3 11 5 3 4 0 12 11 8 2 12 2 4 11 6 7 6 2 12-1 8-2 4-6 1-12-7-12 0-8 6-3 4-1 13-2-5-6-5-36 2-8-2-20-12-3-7 4-16-3-12-2-20 4-7 12 0 11-5 0-4-3 0-10-12 1-4 8-12 13-11zM140 640l-4 4 0 4 12 4 12 0 4-2 5-6-5-4-12-2-8 0zM179 680l-3 4 1 4 3 3 8 2 6-1 2-4-2-4zM204 616l4-1 4 3 4 16 13 6 4 4 0 4-2 4-7 1-16-8-5-5-8-12 0-4 2-4zM244 632l4 0 3 4-3 3-4 0-1-3zM104 744l2 8-2 5-4-3-1-6 1-3zM204 784l11 0 3 4-1 4-5 5-8 3-7 0-5-8 0-5 4-2zM216 811l8-1 4 2-2 8-6 6-4 0-4-6 1-4zM156 848l4-2 4 0 9 6 0 4-17 13-4-1-2-4 2-8z" fill="#ff461e"/><path d="M400 252l8 4 4 8-16 18-4 2-4-1-5-3-1-4 2-9 12-13zM372 300l8 0 1 4-1 5-4 3-4-1-2-3-1-4zM152 664l4 2 6 10 3 16 11 7 15 1 3 4-2 4-20 12-10 4-22-3-4-1-2-4-2-24 12-8 2-4 1-12 1-2z" fill="#c8140a"/></g>
<use href="#lines"/>
</g>
<rect x="0" y="0" width="185.9" height="333.1" fill="none" stroke="#1c1c1c" stroke-width="1.7"/>
<path d="M15.6,333.1v3.2" stroke="#111" stroke-width="1"/>
<text x="15.9" y="346.5" font-size="10.4" text-anchor="middle" textLength="22" lengthAdjust="spacingAndGlyphs">120E</text>
<path d="M93.0,333.1v3.2" stroke="#111" stroke-width="1"/>
<text x="93.3" y="346.5" font-size="10.4" text-anchor="middle" textLength="22" lengthAdjust="spacingAndGlyphs">121E</text>
<path d="M170.4,333.1v3.2" stroke="#111" stroke-width="1"/>
<text x="170.7" y="346.5" font-size="10.4" text-anchor="middle" textLength="22" lengthAdjust="spacingAndGlyphs">122E</text>
</g>
<text x="358" y="420.1" font-size="13.5" text-anchor="middle" textLength="94.3" lengthAdjust="spacingAndGlyphs" fill="#2a2a2a">GLDAS−BASE</text>
<g transform="translate(453.8,425.4)">
<g clip-path="url(#pc)">
<clipPath id="m6"><path d="M520 90l4 0 4 4 4 0 4-4 16 0 2 2 0 4 8 8 0 4 10 10 4 0 2 2 0 8 6 6 8 0 4 4 12 0 4 4 8 0 4 4 8 0 4 4 8 0 2 2 0 8 4 4 0 8 8 8 0 4 4 4 0 8-2 2-4 0-8 8-4 0-6 6 0 4-8 8 0 44-2 2-8 0-2 2 0 4-4 4 0 32 4 4 0 4 2 2 12 0 2-2 0-4 2-2 2 2 0 8 4 4 0 16-4 4 0 12-4 4 0 4-4 4 0 8-4 4 0 4-4 4 0 4-4 4 0 8-4 4 0 20-12 12 0 4-12 12 0 4-12 12 0 12-4 4 0 8-4 4 0 4-4 4 0 16 4 4 0 12-4 4 0 4-4 4 0 16-4 4 0 20-4 4 0 20-4 4 0 16-4 4 0 16-4 4 0 20-4 4 0 20-4 4 0 16-10 10-4 0-2 2 0 8-4 4 0 16-4 4 0 8-4 4 0 8-4 4 0 8-4 4 0 16-4 4 0 16-4 4 0 4-12 12 0 4-4 4 0 4-4 4 0 4-4 4 0 4-4 4 0 4-4 4 0 4-4 4 0 4-12 12 0 4-12 12 0 4-8 8 0 16-20 20 0 16-2 2-4 0-14 14 0 4-8 8 0 4-4 4 0 4-8 8 0 8-4 4 0 8-4 4 0 8-4 4 0 8-4 4 0 8-4 4 0 4-4 4 0 12-4 4 0 16-4 4 0 24 4 4 0 56-4 4 0 8-16 16 0 8 4 4 0 4-2 2-4 0-12-12-12 0-4 4-4-4-4 0-2-2 0-20-4-4 0-16 4-4 0-20-4-4 0-4-4-4 0-8-4-4 0-12-4-4 0-8-4-4 0-4-4-4 0-4-34-34-4 0-12-12-4 0-12-12-4 0-4-4-4 0-4-4-4 0-18-18 0-4-8-8 0-4-4-4 0-12-4-4 0-4 4-4 0-24-4-4 0-4-4-4 0-8-4-4 0-12-4-4 0-16-4-4 0-8-8-8 0-4 2-2 4 0 2-2 0-8-32-32 0-12 4-4 0-12 4-4 0-12 4-4 0-12-8-8 0-4 4-4 0-8 4-4 0-8 4-4 0-44 4-4 0-8-8-8 0-4 4-4 0-8 4-4 0-12 4-4 0-16 4-4 0-24 4-4 0-8 14-14 4 0 14-14 0-4 4-4 0-4 8-8 0-8 4-4 0-4 4-4 0-4 4-4 0-4 4-4 0-4 4-4 0-4 4-4 0-4 4-4 0-4 8-8 0-4 8-8 0-4 4-4 0-12 4-4 0-4 8-8 0-4 4-4 0-4 8-8 0-4 8-8 0-4 4-4 0-4 8-8 0-4 8-8 0-4 4-4 0-4 8-8 0-4 4-4 0-8 4-4 0-4 4-4 0-4 20-20 0-4 2-2 4 0 34-34 0-4 4-4 0-8 4-4 0-4 4-4 0-8 4-4 0-8 4-4 0-8 4-4 0-8 4-4 0-4 4-4 0-4 14-14 4 0 8-8 4 0 4-4 4 0 4-4 8 0 4-4 8 0 4-4 16 0 4-4 12 0 4-4 4 0 4-4 4 0 2-2 0-4 8-8 0-4 8-8 0-4zM512 1014l20 0 2 2 0 8-4 4 0 8-6 6-14-14 0-12zM172 1134l4 0 2 2-14 14-2-2 0-4zM520 1230l24 0 2 2 0 4 4 4 0 8 4 4 0 4-6 6-4 0-8-8-8 0-10-10 0-12zM320 1290l2 2-2 2-2-2z"/></clipPath><g clip-path="url(#m6)" transform="scale(0.25)" shape-rendering="auto"><path d="M520 90l4 0 4 4 4 0 4-4 16 0 2 2 0 4 8 8 0 4 10 10 4 0 2 2 0 8 6 6 8 0 4 4 12 0 4 4 8 0 4 4 8 0 4 4 8 0 2 2 0 8 4 4 0 8 8 8 0 4 4 4 0 8-2 2-4 0-8 8-4 0-6 6 0 4-8 8 0 44-2 2-8 0-2 2 0 4-4 4 0 32 4 4 0 4 2 2 12 0 2-2 0-4 2-2 2 2 0 8 4 4 0 16-4 4 0 12-4 4 0 4-4 4 0 8-4 4 0 4-4 4 0 4-4 4 0 8-4 4 0 20-12 12 0 4-12 12 0 4-12 12 0 12-4 4 0 8-4 4 0 4-4 4 0 16 4 4 0 12-4 4 0 4-4 4 0 16-4 4 0 20-4 4 0 20-4 4 0 16-4 4 0 16-4 4 0 20-4 4 0 20-4 4 0 16-10 10-4 0-2 2 0 8-4 4 0 16-4 4 0 8-4 4 0 8-4 4 0 8-4 4 0 16-4 4 0 16-4 4 0 4-12 12 0 4-4 4 0 4-4 4 0 4-4 4 0 4-4 4 0 4-4 4 0 4-4 4 0 4-12 12 0 4-12 12 0 4-8 8 0 16-20 20 0 16-2 2-4 0-14 14 0 4-8 8 0 4-4 4 0 4-8 8 0 8-4 4 0 8-4 4 0 8-4 4 0 8-4 4 0 8-4 4 0 4-4 4 0 12-4 4 0 16-4 4 0 24 4 4 0 56-4 4 0 8-16 16 0 8 4 4 0 4-2 2-4 0-12-12-12 0-4 4-4-4-4 0-2-2 0-20-4-4 0-16 4-4 0-20-4-4 0-4-4-4 0-8-4-4 0-12-4-4 0-8-4-4 0-4-4-4 0-4-34-34-4 0-12-12-4 0-12-12-4 0-4-4-4 0-4-4-4 0-18-18 0-4-8-8 0-4-4-4 0-12-4-4 0-4 4-4 0-24-4-4 0-4-4-4 0-8-4-4 0-12-4-4 0-16-4-4 0-8-8-8 0-4 2-2 4 0 2-2 0-8-32-32 0-12 4-4 0-12 4-4 0-12 4-4 0-12-8-8 0-4 4-4 0-8 4-4 0-8 4-4 0-44 4-4 0-8-8-8 0-4 4-4 0-8 4-4 0-12 4-4 0-16 4-4 0-24 4-4 0-8 14-14 4 0 14-14 0-4 4-4 0-4 8-8 0-8 4-4 0-4 4-4 0-4 4-4 0-4 4-4 0-4 4-4 0-4 4-4 0-4 4-4 0-4 8-8 0-4 8-8 0-4 4-4 0-12 4-4 0-4 8-8 0-4 4-4 0-4 8-8 0-4 8-8 0-4 4-4 0-4 8-8 0-4 8-8 0-4 4-4 0-4 8-8 0-4 4-4 0-8 4-4 0-4 4-4 0-4 20-20 0-4 2-2 4 0 34-34 0-4 4-4 0-8 4-4 0-4 4-4 0-8 4-4 0-8 4-4 0-8 4-4 0-8 4-4 0-4 4-4 0-4 14-14 4 0 8-8 4 0 4-4 4 0 4-4 8 0 4-4 8 0 4-4 16 0 4-4 12 0 4-4 4 0 4-4 4 0 2-2 0-4 8-8 0-4 8-8 0-4zM512 1014l20 0 2 2 0 8-4 4 0 8-6 6-14-14 0-12zM172 1134l4 0 2 2-14 14-2-2 0-4zM520 1230l24 0 2 2 0 4 4 4 0 8 4 4 0 4-6 6-4 0-8-8-8 0-10-10 0-12zM320 1290l2 2-2 2-2-2z" fill="#c8c8ff"/><path d="M544 54l4 0 4 4 8 0 4 5 8 0 5 5 0 4 8 8 0 4 7 6 8 0 6 6 0 8 2 2 8 0 4 4 8 0 4 4 12 0 4 5 8-1 4 4 4 0 10 10 0 8 4 4 0 8 6 6 8 1 1 1 4 4 1 8 4 4-4 4 0 8-6 6-4 0-4 4-4-1-4 4-4 0-8 8-4 0-6 7 0 4-4 4 0 56 4 4 0 16 4 4 0 12 4 4 0 16-4 4 0 12-4 4 0 8-4 4 0 4-4 4 0 8-4 4 0 4-5 4 0 8-4 4 1 20-4 4 0 8-12 12 0 4-12 12 0 4-8 8 0 4-4 4 0 8-4 4 0 8-4 4 0 8 4 4 0 16-4 4 0 8-4 4 0 12-4 4 0 20-4 4-1 20-4 4-1 9-2 3 0 4-2 4 2 16-4 4 0 20-4 4 0 20-5 4 1 16-4 4 0 16-4 4 0 12-4 4 0 12-4 4 0 8-4 4 0 8-4 4 0 12-4 4 0 16-4 4-1 16-4 4 0 8-16 16 0 4-4 4 0 4-3 4 0 4-4 4 0 4-4 4 0 4-4 4 0 4-9 8-1 5-4 3-3 0 2-8-1-20-2-6-4-1-3 3-4 8-11 12-1 4 1 4 6 5 8 1 8-1 0 3-3 4 0 4-8 8 0 12-3 4 0 8-34 34-4 0-10 10 0 4-8 8-1 8-4 4 0 4-4 4 0 8-4 4-1 8-4 4 1 8-4 4 1 8-4 4 0 8-4 4 0 12-4 4 0 16-4 4-1 24 4 4-1 28 2 28-4 4 0 8-4 4 0 8-8 8 0 12 4 4-4 4 0 8-6 6-8 0-4 4-4-4-8 0-4-4-4 0-8-8-4 0-4 4-4-4-8 0-4-4-4 0-6-6 0-8-4-4 1-20-5-4 1-16 4-4 0-20-4-4-1-8-4-4 0-8-4-4 0-12-4-4 0-4-3-4 0-4-31-30-4 0-12-13-4 0-12-11-4 0-4-4-4 0-4-4-4 0-21-22-1-4-8-8 0-4-4-4 0-8-4-4 1-8-4-4-1-32-4-4 0-8-4-4 0-8-4-4 0-12-4-4 0-16-8-8 0-4-30-32 3-12-2-8-5-2-4 2-1-12 3-4 0-12 4-4 0-12 4-4 0-16 4-4 1-8 5-4 0-3 4 6 4 2 12-4 12 1 4-1 5-5 0-4-2-4-4-4-7-3-8 1-16 9-2-11 4-4 0-44 4-4-4-4 0-8-4-4 0-4 4-4 0-8 4-4 0-12 4-4 1-16 3-4 0-24 4-4 0-8 4-4 0-8 18-18 4 0 10-10 0-4 4-4 1-4 9-8-1-8 4-4 0-4 4-4 0-8 4-4-1-4 5-4 0-4 4-4 0-4 4-4 0-4 4-4 0-4 8-8 0-4 8-8 0-8 4-4 0-8 3-4 0-4 8-8 1-4 4-4 0-4 8-8 0-4 7-8 0-4 4-4 0-4 8-8 0-4 8-8 0-4 4-4 0-4 9-8 0-4 4-4 0-8 3-4 1-4 4-4 0-4 20-20 0-4 5-5 8 1 0 4 8 12 0 4-14 12-3 12-5 8-1 12 3 4 4 2 8-1 8-5 4-12 4-5 31-15-7-5-6-7-3-8-3-16-4-2-4 0-16 2-1-4 23-24 0-4 4-4 0-8 4-4 0-4 4-4 0-8 4-4 0-8 4-4 0-8 4-4 0-8 4-4 0-4 4-4 0-4 18-18 4 0 8-7 4 0 4-4 4 0 4-4 8-1 4-4 8 0 4-4 8 0 4-4 16 0 4-4 8 0 15-14 0-4 7-8 0-4 22-22 8 0 4-4 12 0zM279 380l0 4 9 20 4 4 4 1 4-1 4-2 3-10 0-4-3-6-20-8zM353 388l-3 4 2 5 4-1 4-8-4-1zM195 508l-3 8 4 11 4 4 8 0 6-7 1-8-1-4-4-4-6-2-4 0zM160 544l-5 4-3 4 13 20 1 4-2 4 0 4 6 8 6 2 1-2-1-4-6-8 0-4 8-8 1-4-3-13-4-7-8-1zM220 584l-4 4-4 8 1 8 17 12 6 10 4 3 8 2 8-2 10-5 2-4-10-16 0-16-2-4-8-2-20 0-4 0zM540 608l-1 8 5 8 8 2 3-2-2-8-5-8-4-2zM126 628l-2 4 1 4 3 3 4 0 3-7-1-4-2-2zM493 628l-5 3-2 5-1 4 3 3 8-1 6-6 0-4-2-2zM214 648l-3 4 3 4 17 8 2 4-2 8-4 4-7 4-3 4 0 8 3 5 4 0 4-1 8-9 8-5 1-6-9-16 3-12-1-4-14-3zM176 680l-3 8 3 12 15 28 5 1 8-6 5-11-6-20-4-8-7-7-8-1zM108 816l-3 8 1 4 10 4 4-1 4-3 0-4-4-6-8-3zM175 832l-4 4 0 4 9 4 8 0 7-4 3-4-2-4-4-1-12 0zM467 864l-1 4 2 4 4 3 6-3 1-4-3-4-4-1zM119 872l-3 4 4 4 3-4-2-4zM394 896l1 4 9 10 4 3 2-5-2-8-8-6-4 0zM159 984l-4 4 1 3 4 1 5-4-4-4zM266 992l-3 4 0 4 8 16 1 12 4 1 5-13 1-8-6-16-4-3zM207 1040l-15 4 8 9 20 7 5 0 6-4 0-8-5-8-6-3zM229 1088l-1 4 4 5 4-1 4-4 2-4-6-3-4 0zM277 1096l3 5 4 2 2-3 0-4-2-2zM516 994l20 1 4 4 8 0 5 5 0 8 4 4 0 4-4 4 1 12-4 4 0 8-6 6-8 0-4 4-4-4-8 0-4-4-4 0-10-10 0-4-4-4 0-8-4-4 0-4 4-4 0-8 6-6 8 0zM180 1115l4 0 4 4 8 0 6 5 0 8 4 4-4 4 0 8-14 14-8 0-4 4-4 0-4-4-8 0-2-2-4-4 0-8-4-4 4-4 0-8 2-2 12-11 8 0zM528 1210l24 0 4 4 8 0 6 6 0 4 4 4 0 8 4 4 0 8 4 4 0 4-4 4 0 8-10 10-8 0-4 4-4 0-4-4-8-1-8-7-4 0-18-18 0-8-3-4 0-8 4-4-1-8 6-6 8 0z" fill="#e6e6ff"/><path d="M544 56l4 0 4 12 8 8 2 4-2 5-4 4-4 0-8-1-4 2-1 6 1 5 4 3 8-1 4 3 1 6-1 5-4 5-8 4-8 0-8-2-12-16-12-4-4-4-5-8 1-8 16-16 12-4 4-4 12-1zM624 112l4 0 4 4 6 0-4 8 3 8-2 4-7 6-4 1-2-3 1-4 7-12zM448 120l12 0 4-2 4 0 4 2 4 4 0 4-8 7-4 1-12-1-4 2-2 7 2 5 4 2 12 1 4 4 0 4-2 8-6 7-8 4-12 1 2 12 2 6 4 0 8-3 20-4 4 2 8 11 4 8 0 9-4 7-8-8-8-3-8-1-16-10-12 0-16 10-4 0-6-4-6-16-16 0-12-12-4 0-4 3-4 12-16 8 0-3 4-4 0-8 4-4 0-8 4-4 0-4 12-4 12-14 4-1 4 1 8 8 4 1 4-7 8-24 4-4 8 0 4-4 8 0zM668 128l5 4 0 8 4 4 0 8 7 8-4 5-4 0-4-2-6-7-4-8-1-8 0-4 5-8zM544 140l4 1 3 7-1 4-8 8-2 6-4 5-3-3 0-4 2-12 4-8zM568 157l4 1 4 5 4 13-2 8-6 11-4-1-4-10 2-24zM516 175l12 2 4 2 1 5-1 4-4 4-12 4-4 0-4-3-3-5 3-8zM576 205l8 1 9 6 6 8 0 8 2 4 14 20 8 8 5 12 12 4 9 8 2 4 1 12 4 4 0 12 4 4 0 12-12-2-8-4-16 1-4-3-12-15-8-5-8-2-8-12-12-8-3-14 1-8 6-8 9-8 3-8-1-4-11-6-4-6 0-9zM536 216l5 0 3 4-4 4-8 3-2-3 2-4zM424 248l8 4 12 12 0 5-4 3-16 1-9-5-4-8 1-7 4-3zM360 264l4 1 3 3 0 4-7 12-4 3-4 0-3-7 0-8 3-5zM508 271l12-3 4 3 5 9 1 4-2 3-4 3-8 2-8 0-4-1-2-3-2-8 2-4zM564 290l4-2 2 4-2 5-5-1zM540 293l4 0 5 3 8 12 0 4-2 4-18 12-1 4 12 9 4 2 4-1 12-6 20 1 8-4 8 0 6 3 1 8-3 12-4 8-8 9-8 3-12-3-4 1-8 6 0-7 7-5 0-4-7-2-5 2-8 12-7 3-16 0-11-7-1-4 1-4 13-16 5-16-3-4-1-4-1-16 4-8zM588 304l0 8-4 1-3-5 3-4zM432 307l8-1 16 6 16-1 8 3 4 0 8-6 4 2 2 6-2 5-12 4-8 5-20 0-12 10-4 1-4-5-6 0 0 4 8 4 1 12 5 8 4 12 7 12-1 4-8 12-1 8-2 4-15 4-4-2-5-6 1-19-13-5 4-8 1-8-4-5-8-3-2-4 12-44 6-4zM488 343l7 1 2 4 1 8 6 12 0 4-4 2-4 0-4-2-6-8-2-16 1-4zM248 363l3 25 5 7 11 5 1 4-3 4-17 10-5-2-1-12-2-5-8-8 0-7 8-8 0-4zM556 386l4-1 6 7 6 4 12-1 8 3 4 6 4 24 4 2 8-4 4 0 3 6 0 4-11 11-8 4-4-2-8-9-16-8-8-11-9-9-11-4-7 4 0 4 9 8 3 4 0 8 7 28 4 5 8 4 8-2 8 0 8 6 12-13 0 8-8 8 0 4-2 0-2-3-5 7-1 8 2 4 0 8-4 5-12 1-24-14-24-5-5 1-11 11-4 2-16-1-7 4 4 8 1 4-3 4-7 3-8 7-7 10-4 12 4 8 7 6 8 4 12 2 7-4 3-8-9-16 0-20 4-4 15-4 8 2 2 2 2 8-4 8-10 8-1 4 2 4 5 3 16 1 1 4-13 20-16 13-4 1-20-2-4-2-9-10-7-5-12 2-2 3 0 8-3 8-11 13-5 11-8 12-1 4 2 4 10 8 1 4-6 16 3 20-3 12 3 15 4 4 4 1 16-9 8 0 8 5 4 8-3 4-9 6-10 10-7 4-3 4 3 16-7 12 1 4 4 4 0 4-5 2-20 0-16 13-4 1-12-1-11 9-3 8 2 8 12 3 5 5 2 4-3 8 1 12-2 8-5 4-14 5-5 3-2 4 6 16-3 3-12 4-16 11-4 0-7-6-9-4-8-8-2-4-2-18-4-6-4 0-3 4-3 12-6 12-4 19-4 5-4 1-20 0-12-9-4 0-2 4 1 4 13 7 6 13-2 11-4 4-4-1-12-15-19-11-4-8 0-8 3-6 10-10 0-16 2-4 4-1 16 4 4-1 11-10-1-4-12-4-4-4 0-4 11-8 2-4 2-16 6-16-2-12 6-8 1-4-4-21 4-5 12-8 4-3 12-1 5-6 0-8-5-9-4-14-7-13 8-20 1-4-6-8 0-4 4-8 4-3 1 19 7 0 6-4 13-24 0-4-7-12 3-12-1-4-10-12 0-4 4-4 14-8 6-7 8 3 4 4 1 8-3 16-6 8 4 1 4-2 4 0 8 4 5 5 3 8-7 16 0 4 6 12 6 8 15 4 20-1 15-11 1-4-10-12-6-12-19-12-5-18-12-8-14-14-1-4 3-7 16-1 3-4 0-4-3-7-12 2-4-1-3-6 1-12-2-2-16 0-12-7-9 1-6 4-1 4 0 4 4 4 12 2 6 6 1 8-3 7-12-2-4 1-8 11-4 1-12-2-5-4-13-20-4-8 2-4 8-6 4-1 16 0 2-1 1-4-3-28-11-16 2-16-1-8 1-4 17-9 8 1 4 4 2-4 6-5 4 3 1 6 4 4 23 19 4 9 4 4 9-4 4-4 4-8 3-12-5-12 3-4 10 0 20 9 8-1 4-4 6 0 5 4 2 4 0 4-5 6 0 6 2 8 7 8 1 4-2 4-12-1-8 2-4 3-1 8 5 7 20 6 12-10 26-15-10-16-3-8 0-4 7-7 8-1 2-16 26-26 8-14 11-8 5-14 4-2 8 1 4-2zM414 552l-2 8 2 4 6 2 4-1 3-5-1-8-6-3zM399 756l-1 4 2 4 4 2 4 0 6-6-1-4-5-2-4-1zM295 772l-14 16 0 24 3 8 4-1 8-6 4-5 4-16 10-16-1-4-5-3-8 0zM355 772l-1 8-10 15-4 2-12 2-4 4-2 5 1 4 4 4 13 3 8-1 12-11 16-9 4-5 2-9-4-8-18-6zM338 856l2 3 4 0 3-3-3-2-4 0zM360 864l4 8 4 1 4-1 2-4-4-4-6-3zM324 876l-3 4 1 4 2 2 8 3 4-3 2-6-2-6-4-2zM308 423l24 4 4 5-1 8-15 11-24-6-4-5 1-8 4-4zM248 435l4-2 4 1 3 6 1 8-4 7-9 5-3 4-4 2-2-6 1-4zM216 476l8-2 7 2 3 4 0 8-6 4-10 0-4-4-1-4 0-4zM236 502l8 4 6 6 2 8-4 3-4 1-4-1-7-11-1-5zM548 538l8-2 12 1 8 10 8-6 0 11-4 4 1 12-5 4 0 17-8-1-8 4-4-1-2-3-2-8 3-12-1-4-6-4-3-8 0-8zM568 552l-5 4-5 8 6 4 4 0 4-2 4-7 0-10zM240 541l4 3 2 4-2 4-5 0-3-4 0-4zM192 583l4-2 2 3-2 4-4-2zM512 660l13 4 7 7 8-11 8-3 4 2 4 5 0 13 4 0 0 3-4 4 0 2-12 3-8-5-4-8-4 1-16 9-8 7-8 1-3-2 0-4 3-4 7-4 3-4 2-15zM88 672l3 0 2 8 11 7 2 5-5 16 2 16-7 8 0 4 4 8-4 4-9 4-3 3-1-31 5-4-4-4 2-8-2-8 4-12zM112 723l12-1 5 2 6 8 0 4-6 20-1 12-12-3-8-5-8-12 0-4 4-2 4-6 1-8zM496 727l6 5 0 4-4 4-10 3-3-3 1-4 6-8zM544 732l4-3 1 15-5 4 0 12-4 4 0 12-3 4 0 8-5 4 0 4-16-4-12-10-3-6-2-12 1-6 8-13 4-3 7 2 9 5 4 0 4-3 4-10zM148 743l4-1 4 2 1 4-5 10-4 0-1-2zM456 791l4-1 8 0 3 2 2 4-1 8-8 6-4 2-4-2-1-2-3-12zM524 826l0 10-4 4-4-3 1-5zM64 832l4 2 4 6 0 4-4 4-8-1 0-3 4-4zM400 844l16 6 16-2 4 1 4 2 4 9 5 20-4 16-5 7-4 2-8-3-21-18-2-4-1-12-15-16 3-4zM160 912l4 1 3 3 0 4-3 4-4 0-4-4 0-6zM408 948l8 3 8 1 0 4-4-4-8 4-4 0-3-4zM324 956l8-1 8 2 6 7-2 6-16 1-6-3-3-8zM112 970l4-1 4 1 8 5 8-5 4 0 4 6-1 4-3 7-4 0-8-8-8 5-4-1-4-4zM228 979l8-2 4 2 7 9 1 8-4 6-16-4-8 1-6-3-1-4 3-6zM348 978l12 0 8 4 2 6-1 16 3 7 4 3 12-2 16 4 4 0 12-12 12-4 4-3 0 3-20 20-4 0-11 12 0 4-5 4-4 1-8-3-12 0-16-6-8 3-4-3 3-16-1-8-7-4-3-4 4-14 4-6zM504 1000l2 0 12 12 10 16 12 0 0 4-7 8-1 9-4 0-5-5-3-8-24-16 0-4 3-4 1-8zM312 1060l4-1 28 13 6 4 2 4-1 4-7 5-12 0-12 3-4-1-4-7-2-12 0-8zM184 1084l16 2 4 5 0 6-4 3-19-8-2-4zM212 1123l8-2 4 2 7 17-3 0-16-16-2 0zM160 1131l7 1 5 9 8 5 8-1 12-13 4 4-4 4 1 8-13 13-8-1-4 4-4 0-5-4-4-12-7-5 0-9zM292 1132l4 0 4 4-2 16-5 8-17 11-4-1-2-2-11-16-15-12-1-4 5-4 16 6 8 7 4 1 4-3 4-7zM332 1163l4 0 1 1-1 6-4 3-4-5zM528 1212l21 0-5 6-16 7-8-5-3-4 7 0zM572 1240l4 0 1 8 4 4 0 4-4 4 0 8-5 4-5-8-1-8 2-12zM296 1267l4-1 5 2 0 16 3 5 4 3 32-1 0 13-4 4-8 0-4 4-4-4-4 0-8-7-8-1-4-4-4 0-4 4-4-4-3 0-5-4-8-1-4-3 0-8-4-4 0-4 8 6 4 0z" fill="#ffe6e6"/></g>
<use href="#lines"/>
</g>
<rect x="0" y="0" width="185.9" height="333.1" fill="none" stroke="#1c1c1c" stroke-width="1.7"/>
<path d="M15.6,333.1v3.2" stroke="#111" stroke-width="1"/>
<text x="15.9" y="346.5" font-size="10.4" text-anchor="middle" textLength="22" lengthAdjust="spacingAndGlyphs">120E</text>
<path d="M93.0,333.1v3.2" stroke="#111" stroke-width="1"/>
<text x="93.3" y="346.5" font-size="10.4" text-anchor="middle" textLength="22" lengthAdjust="spacingAndGlyphs">121E</text>
<path d="M170.4,333.1v3.2" stroke="#111" stroke-width="1"/>
<text x="170.7" y="346.5" font-size="10.4" text-anchor="middle" textLength="22" lengthAdjust="spacingAndGlyphs">122E</text>
</g>
<text x="547.5" y="420.1" font-size="13.5" text-anchor="middle" textLength="100.3" lengthAdjust="spacingAndGlyphs" fill="#2a2a2a">GSOIL−GLDAS</text>
<g transform="translate(220.7,0)">
<rect x="0" y="755.05" width="12.8" height="17.15" fill="#ffffff"/>
<rect x="0" y="738.20" width="12.8" height="17.15" fill="#e1e1ff"/>
<rect x="0" y="721.36" width="12.8" height="17.15" fill="#c3b4fa"/>
<rect x="0" y="704.51" width="12.8" height="17.15" fill="#a08cff"/>
<rect x="0" y="687.66" width="12.8" height="17.15" fill="#6450dc"/>
<rect x="0" y="670.81" width="12.8" height="17.15" fill="#3c28b4"/>
<rect x="0" y="653.97" width="12.8" height="17.15" fill="#1e0aa0"/>
<rect x="0" y="637.12" width="12.8" height="17.15" fill="#0a46c8"/>
<rect x="0" y="620.27" width="12.8" height="17.15" fill="#3c8ce6"/>
<rect x="0" y="603.42" width="12.8" height="17.15" fill="#78b9fa"/>
<rect x="0" y="586.58" width="12.8" height="17.15" fill="#0aa00a"/>
<rect x="0" y="569.73" width="12.8" height="17.15" fill="#32d23c"/>
<rect x="0" y="552.88" width="12.8" height="17.15" fill="#50f050"/>
<rect x="0" y="536.03" width="12.8" height="17.15" fill="#96f08c"/>
<rect x="0" y="519.19" width="12.8" height="17.15" fill="#f5e678"/>
<rect x="0" y="502.34" width="12.8" height="17.15" fill="#fac33c"/>
<rect x="0" y="485.49" width="12.8" height="17.15" fill="#ffa00a"/>
<rect x="0" y="468.64" width="12.8" height="17.15" fill="#ff640a"/>
<rect x="0" y="451.80" width="12.8" height="17.15" fill="#e1140a"/>
<rect x="0" y="434.95" width="12.8" height="17.15" fill="#8c0000"/>
<rect x="0" y="418.10" width="12.8" height="17.15" fill="#640000"/>
<path d="M0,755.05h12.8" stroke="#555" stroke-opacity="0.45" stroke-width="0.5"/>
<path d="M0,738.20h12.8" stroke="#555" stroke-opacity="0.45" stroke-width="0.5"/>
<path d="M0,721.36h12.8" stroke="#555" stroke-opacity="0.45" stroke-width="0.5"/>
<path d="M0,704.51h12.8" stroke="#555" stroke-opacity="0.45" stroke-width="0.5"/>
<path d="M0,687.66h12.8" stroke="#555" stroke-opacity="0.45" stroke-width="0.5"/>
<path d="M0,670.81h12.8" stroke="#555" stroke-opacity="0.45" stroke-width="0.5"/>
<path d="M0,653.97h12.8" stroke="#555" stroke-opacity="0.45" stroke-width="0.5"/>
<path d="M0,637.12h12.8" stroke="#555" stroke-opacity="0.45" stroke-width="0.5"/>
<path d="M0,620.27h12.8" stroke="#555" stroke-opacity="0.45" stroke-width="0.5"/>
<path d="M0,603.42h12.8" stroke="#555" stroke-opacity="0.45" stroke-width="0.5"/>
<path d="M0,586.58h12.8" stroke="#555" stroke-opacity="0.45" stroke-width="0.5"/>
<path d="M0,569.73h12.8" stroke="#555" stroke-opacity="0.45" stroke-width="0.5"/>
<path d="M0,552.88h12.8" stroke="#555" stroke-opacity="0.45" stroke-width="0.5"/>
<path d="M0,536.03h12.8" stroke="#555" stroke-opacity="0.45" stroke-width="0.5"/>
<path d="M0,519.19h12.8" stroke="#555" stroke-opacity="0.45" stroke-width="0.5"/>
<path d="M0,502.34h12.8" stroke="#555" stroke-opacity="0.45" stroke-width="0.5"/>
<path d="M0,485.49h12.8" stroke="#555" stroke-opacity="0.45" stroke-width="0.5"/>
<path d="M0,468.64h12.8" stroke="#555" stroke-opacity="0.45" stroke-width="0.5"/>
<path d="M0,451.80h12.8" stroke="#555" stroke-opacity="0.45" stroke-width="0.5"/>
<path d="M0,434.95h12.8" stroke="#555" stroke-opacity="0.45" stroke-width="0.5"/>
<rect x="0.3" y="755.05" width="12.2" height="16.85" fill="none" stroke="#999" stroke-width="0.6"/>
<text x="17.3" y="759.4" font-size="12" textLength="6.7" lengthAdjust="spacingAndGlyphs">5</text>
<text x="17.3" y="742.5" font-size="12" textLength="13.5" lengthAdjust="spacingAndGlyphs">10</text>
<text x="17.3" y="725.7" font-size="12" textLength="13.5" lengthAdjust="spacingAndGlyphs">15</text>
<text x="17.3" y="708.8" font-size="12" textLength="13.5" lengthAdjust="spacingAndGlyphs">20</text>
<text x="17.3" y="692.0" font-size="12" textLength="13.5" lengthAdjust="spacingAndGlyphs">25</text>
<text x="17.3" y="675.1" font-size="12" textLength="13.5" lengthAdjust="spacingAndGlyphs">30</text>
<text x="17.3" y="658.3" font-size="12" textLength="13.5" lengthAdjust="spacingAndGlyphs">35</text>
<text x="17.3" y="641.4" font-size="12" textLength="13.5" lengthAdjust="spacingAndGlyphs">40</text>
<text x="17.3" y="624.6" font-size="12" textLength="13.5" lengthAdjust="spacingAndGlyphs">45</text>
<text x="17.3" y="607.7" font-size="12" textLength="13.5" lengthAdjust="spacingAndGlyphs">50</text>
<text x="17.3" y="590.9" font-size="12" textLength="13.5" lengthAdjust="spacingAndGlyphs">55</text>
<text x="17.3" y="574.0" font-size="12" textLength="13.5" lengthAdjust="spacingAndGlyphs">60</text>
<text x="17.3" y="557.2" font-size="12" textLength="13.5" lengthAdjust="spacingAndGlyphs">65</text>
<text x="17.3" y="540.3" font-size="12" textLength="13.5" lengthAdjust="spacingAndGlyphs">70</text>
<text x="17.3" y="523.5" font-size="12" textLength="13.5" lengthAdjust="spacingAndGlyphs">75</text>
<text x="17.3" y="506.6" font-size="12" textLength="13.5" lengthAdjust="spacingAndGlyphs">80</text>
<text x="17.3" y="489.8" font-size="12" textLength="13.5" lengthAdjust="spacingAndGlyphs">85</text>
<text x="17.3" y="472.9" font-size="12" textLength="13.5" lengthAdjust="spacingAndGlyphs">90</text>
<text x="17.3" y="456.1" font-size="12" textLength="13.5" lengthAdjust="spacingAndGlyphs">95</text>
<text x="17.3" y="439.2" font-size="12" textLength="21.3" lengthAdjust="spacingAndGlyphs">100</text>
<text x="6" y="783.2" font-size="11.5" text-anchor="middle" textLength="42" lengthAdjust="spacingAndGlyphs">(W/m²)</text>
</g>
<g transform="translate(642.9,0)">
<rect x="0" y="754.21" width="13.2" height="17.99" fill="#00008c"/>
<rect x="0" y="736.52" width="13.2" height="17.99" fill="#0000ff"/>
<rect x="0" y="718.83" width="13.2" height="17.99" fill="#2828dc"/>
<rect x="0" y="701.14" width="13.2" height="17.99" fill="#5050f0"/>
<rect x="0" y="683.45" width="13.2" height="17.99" fill="#7878ff"/>
<rect x="0" y="665.76" width="13.2" height="17.99" fill="#8c8cff"/>
<rect x="0" y="648.07" width="13.2" height="17.99" fill="#a5a5ff"/>
<rect x="0" y="630.38" width="13.2" height="17.99" fill="#b4b4ff"/>
<rect x="0" y="612.69" width="13.2" height="17.99" fill="#c8c8ff"/>
<rect x="0" y="595.00" width="13.2" height="17.99" fill="#e6e6ff"/>
<rect x="0" y="577.31" width="13.2" height="17.99" fill="#ffe6e6"/>
<rect x="0" y="559.62" width="13.2" height="17.99" fill="#ffc8c8"/>
<rect x="0" y="541.93" width="13.2" height="17.99" fill="#ffb4b4"/>
<rect x="0" y="524.24" width="13.2" height="17.99" fill="#ffa0a0"/>
<rect x="0" y="506.55" width="13.2" height="17.99" fill="#ff8c8c"/>
<rect x="0" y="488.86" width="13.2" height="17.99" fill="#ff6e6e"/>
<rect x="0" y="471.17" width="13.2" height="17.99" fill="#ff461e"/>
<rect x="0" y="453.48" width="13.2" height="17.99" fill="#c8140a"/>
<rect x="0" y="435.79" width="13.2" height="17.99" fill="#960000"/>
<rect x="0" y="418.10" width="13.2" height="17.99" fill="#640000"/>
<path d="M0,754.21h13.2" stroke="#555" stroke-opacity="0.45" stroke-width="0.5"/>
<path d="M0,736.52h13.2" stroke="#555" stroke-opacity="0.45" stroke-width="0.5"/>
<path d="M0,718.83h13.2" stroke="#555" stroke-opacity="0.45" stroke-width="0.5"/>
<path d="M0,701.14h13.2" stroke="#555" stroke-opacity="0.45" stroke-width="0.5"/>
<path d="M0,683.45h13.2" stroke="#555" stroke-opacity="0.45" stroke-width="0.5"/>
<path d="M0,665.76h13.2" stroke="#555" stroke-opacity="0.45" stroke-width="0.5"/>
<path d="M0,648.07h13.2" stroke="#555" stroke-opacity="0.45" stroke-width="0.5"/>
<path d="M0,630.38h13.2" stroke="#555" stroke-opacity="0.45" stroke-width="0.5"/>
<path d="M0,612.69h13.2" stroke="#555" stroke-opacity="0.45" stroke-width="0.5"/>
<path d="M0,595.00h13.2" stroke="#555" stroke-opacity="0.45" stroke-width="0.5"/>
<path d="M0,577.31h13.2" stroke="#555" stroke-opacity="0.45" stroke-width="0.5"/>
<path d="M0,559.62h13.2" stroke="#555" stroke-opacity="0.45" stroke-width="0.5"/>
<path d="M0,541.93h13.2" stroke="#555" stroke-opacity="0.45" stroke-width="0.5"/>
<path d="M0,524.24h13.2" stroke="#555" stroke-opacity="0.45" stroke-width="0.5"/>
<path d="M0,506.55h13.2" stroke="#555" stroke-opacity="0.45" stroke-width="0.5"/>
<path d="M0,488.86h13.2" stroke="#555" stroke-opacity="0.45" stroke-width="0.5"/>
<path d="M0,471.17h13.2" stroke="#555" stroke-opacity="0.45" stroke-width="0.5"/>
<path d="M0,453.48h13.2" stroke="#555" stroke-opacity="0.45" stroke-width="0.5"/>
<path d="M0,435.79h13.2" stroke="#555" stroke-opacity="0.45" stroke-width="0.5"/>
<text x="17.6" y="758.5" font-size="12" textLength="22.5" lengthAdjust="spacingAndGlyphs">−50</text>
<text x="17.6" y="740.8" font-size="12" textLength="22.5" lengthAdjust="spacingAndGlyphs">−45</text>
<text x="17.6" y="723.1" font-size="12" textLength="22.5" lengthAdjust="spacingAndGlyphs">−40</text>
<text x="17.6" y="705.4" font-size="12" textLength="22.5" lengthAdjust="spacingAndGlyphs">−35</text>
<text x="17.6" y="687.7" font-size="12" textLength="22.5" lengthAdjust="spacingAndGlyphs">−30</text>
<text x="17.6" y="670.1" font-size="12" textLength="22.5" lengthAdjust="spacingAndGlyphs">−25</text>
<text x="17.6" y="652.4" font-size="12" textLength="22.5" lengthAdjust="spacingAndGlyphs">−15</text>
<text x="17.6" y="634.7" font-size="12" textLength="22.5" lengthAdjust="spacingAndGlyphs">−10</text>
<text x="17.6" y="617.0" font-size="12" textLength="15.5" lengthAdjust="spacingAndGlyphs">−5</text>
<text x="17.6" y="599.3" font-size="12" textLength="6.7" lengthAdjust="spacingAndGlyphs">0</text>
<text x="17.6" y="581.6" font-size="12" textLength="6.7" lengthAdjust="spacingAndGlyphs">5</text>
<text x="17.6" y="563.9" font-size="12" textLength="13.5" lengthAdjust="spacingAndGlyphs">10</text>
<text x="17.6" y="546.2" font-size="12" textLength="13.5" lengthAdjust="spacingAndGlyphs">15</text>
<text x="17.6" y="528.5" font-size="12" textLength="13.5" lengthAdjust="spacingAndGlyphs">25</text>
<text x="17.6" y="510.8" font-size="12" textLength="13.5" lengthAdjust="spacingAndGlyphs">30</text>
<text x="17.6" y="493.2" font-size="12" textLength="13.5" lengthAdjust="spacingAndGlyphs">35</text>
<text x="17.6" y="475.5" font-size="12" textLength="13.5" lengthAdjust="spacingAndGlyphs">40</text>
<text x="17.6" y="457.8" font-size="12" textLength="13.5" lengthAdjust="spacingAndGlyphs">45</text>
<text x="17.6" y="440.1" font-size="12" textLength="13.5" lengthAdjust="spacingAndGlyphs">50</text>
<text x="6.5" y="783.2" font-size="11.5" text-anchor="middle" textLength="42" lengthAdjust="spacingAndGlyphs">(W/m²)</text>
</g>
</svg></body></html>
